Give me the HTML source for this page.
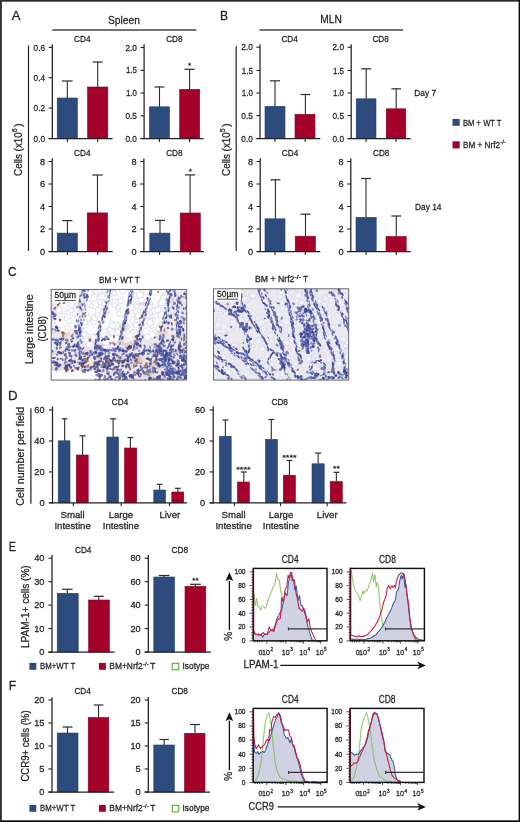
<!DOCTYPE html>
<html><head><meta charset="utf-8"><style>
html,body{margin:0;padding:0;background:#fff;}
svg{display:block;font-family:'Liberation Sans', sans-serif;will-change:transform;}
text{stroke:#231f20;stroke-width:0.26px;}
</style></head><body>
<svg width="520" height="822" viewBox="0 0 520 822">
<rect width="520" height="822" fill="#fff"/>
<rect x="0.00" y="0.00" width="520.00" height="1.70" fill="#2a2a2a"/>
<rect x="0.00" y="0.00" width="1.90" height="822.00" fill="#333"/>
<rect x="518.60" y="0.00" width="1.40" height="822.00" fill="#0a0a0a"/>
<rect x="0.00" y="820.30" width="520.00" height="1.70" fill="#111"/>
<text x="11.80" y="19.80" font-size="13.6" fill="#231f20" textLength="8.70" lengthAdjust="spacingAndGlyphs">A</text>
<text x="219.90" y="19.80" font-size="13.6" fill="#231f20" textLength="8.10" lengthAdjust="spacingAndGlyphs">B</text>
<text x="7.90" y="275.90" font-size="13.6" fill="#231f20" textLength="8.60" lengthAdjust="spacingAndGlyphs">C</text>
<text x="8.10" y="399.60" font-size="13.6" fill="#231f20" textLength="9.60" lengthAdjust="spacingAndGlyphs">D</text>
<text x="8.70" y="550.60" font-size="13.6" fill="#231f20" textLength="7.20" lengthAdjust="spacingAndGlyphs">E</text>
<text x="8.70" y="690.20" font-size="13.6" fill="#231f20" textLength="7.40" lengthAdjust="spacingAndGlyphs">F</text>
<text x="108.00" y="23.60" font-size="11.4" fill="#231f20" textLength="31.90" lengthAdjust="spacingAndGlyphs">Spleen</text>
<line x1="52.30" y1="29.90" x2="196.30" y2="29.90" stroke="#444" stroke-width="1.5"/>
<text x="320.20" y="23.40" font-size="11.4" fill="#231f20" textLength="21.60" lengthAdjust="spacingAndGlyphs">MLN</text>
<line x1="259.50" y1="29.90" x2="403.00" y2="29.90" stroke="#444" stroke-width="1.5"/>
<text x="22.20" y="175.90" font-size="11.4" fill="#231f20" textLength="43.60" lengthAdjust="spacingAndGlyphs" transform="rotate(-90 22.20 175.90)">Cells (x10</text>
<text x="16.80" y="132.20" font-size="7.0" fill="#231f20" transform="rotate(-90 16.80 132.20)">6</text>
<text x="22.20" y="127.00" font-size="11.4" fill="#231f20" transform="rotate(-90 22.20 127.00)">)</text>
<text x="230.10" y="175.90" font-size="11.4" fill="#231f20" textLength="43.60" lengthAdjust="spacingAndGlyphs" transform="rotate(-90 230.10 175.90)">Cells (x10</text>
<text x="224.70" y="132.20" font-size="7.0" fill="#231f20" transform="rotate(-90 224.70 132.20)">5</text>
<text x="230.10" y="127.00" font-size="11.4" fill="#231f20" transform="rotate(-90 230.10 127.00)">)</text>
<line x1="28.50" y1="45.40" x2="28.50" y2="251.00" stroke="#222" stroke-width="1.2"/>
<line x1="236.20" y1="46.30" x2="236.20" y2="251.00" stroke="#222" stroke-width="1.2"/>
<text x="74.10" y="42.00" font-size="9.6" fill="#231f20" textLength="16.40" lengthAdjust="spacingAndGlyphs">CD4</text>
<text x="166.20" y="42.00" font-size="9.6" fill="#231f20" textLength="16.40" lengthAdjust="spacingAndGlyphs">CD8</text>
<text x="281.40" y="42.00" font-size="9.6" fill="#231f20" textLength="16.40" lengthAdjust="spacingAndGlyphs">CD4</text>
<text x="372.40" y="42.00" font-size="9.6" fill="#231f20" textLength="16.40" lengthAdjust="spacingAndGlyphs">CD8</text>
<text x="74.10" y="155.80" font-size="9.6" fill="#231f20" textLength="16.40" lengthAdjust="spacingAndGlyphs">CD4</text>
<text x="166.20" y="155.80" font-size="9.6" fill="#231f20" textLength="16.40" lengthAdjust="spacingAndGlyphs">CD8</text>
<text x="281.80" y="155.80" font-size="9.6" fill="#231f20" textLength="16.40" lengthAdjust="spacingAndGlyphs">CD4</text>
<text x="373.00" y="155.80" font-size="9.6" fill="#231f20" textLength="16.40" lengthAdjust="spacingAndGlyphs">CD8</text>
<rect x="57.20" y="98.00" width="20.20" height="40.50" fill="#2e4b7e" stroke="#24417a" stroke-width="0.6"/>
<line x1="67.30" y1="98.00" x2="67.30" y2="81.00" stroke="#2b2b2b" stroke-width="1.1"/>
<line x1="62.00" y1="81.00" x2="72.60" y2="81.00" stroke="#2b2b2b" stroke-width="1.2"/>
<rect x="87.60" y="87.00" width="20.20" height="51.50" fill="#a3002a" stroke="#8e0022" stroke-width="0.6"/>
<line x1="97.70" y1="87.00" x2="97.70" y2="62.00" stroke="#2b2b2b" stroke-width="1.1"/>
<line x1="92.60" y1="62.00" x2="102.80" y2="62.00" stroke="#2b2b2b" stroke-width="1.2"/>
<line x1="52.30" y1="44.20" x2="52.30" y2="139.10" stroke="#231f20" stroke-width="1.25"/>
<line x1="48.70" y1="138.50" x2="112.60" y2="138.50" stroke="#231f20" stroke-width="1.25"/>
<line x1="48.70" y1="47.40" x2="52.30" y2="47.40" stroke="#231f20" stroke-width="1.1"/>
<text x="45.10" y="50.50" font-size="9.2" fill="#231f20" text-anchor="end" textLength="11.50" lengthAdjust="spacingAndGlyphs">0.6</text>
<line x1="48.70" y1="77.80" x2="52.30" y2="77.80" stroke="#231f20" stroke-width="1.1"/>
<text x="45.10" y="80.90" font-size="9.2" fill="#231f20" text-anchor="end" textLength="11.50" lengthAdjust="spacingAndGlyphs">0.4</text>
<line x1="48.70" y1="108.10" x2="52.30" y2="108.10" stroke="#231f20" stroke-width="1.1"/>
<text x="45.10" y="111.20" font-size="9.2" fill="#231f20" text-anchor="end" textLength="11.50" lengthAdjust="spacingAndGlyphs">0.2</text>
<line x1="48.70" y1="138.50" x2="52.30" y2="138.50" stroke="#231f20" stroke-width="1.1"/>
<text x="45.10" y="141.60" font-size="9.2" fill="#231f20" text-anchor="end" textLength="11.50" lengthAdjust="spacingAndGlyphs">0.0</text>
<line x1="67.40" y1="138.50" x2="67.40" y2="141.90" stroke="#231f20" stroke-width="1.1"/>
<line x1="97.70" y1="138.50" x2="97.70" y2="141.90" stroke="#231f20" stroke-width="1.1"/>
<rect x="149.40" y="106.80" width="20.10" height="31.70" fill="#2e4b7e" stroke="#24417a" stroke-width="0.6"/>
<line x1="159.50" y1="106.80" x2="159.50" y2="87.00" stroke="#2b2b2b" stroke-width="1.1"/>
<line x1="154.50" y1="87.00" x2="164.50" y2="87.00" stroke="#2b2b2b" stroke-width="1.2"/>
<rect x="179.70" y="89.30" width="20.00" height="49.20" fill="#a3002a" stroke="#8e0022" stroke-width="0.6"/>
<line x1="189.60" y1="89.30" x2="189.60" y2="69.30" stroke="#2b2b2b" stroke-width="1.1"/>
<line x1="184.50" y1="69.30" x2="194.70" y2="69.30" stroke="#2b2b2b" stroke-width="1.2"/>
<line x1="144.10" y1="44.20" x2="144.10" y2="139.10" stroke="#231f20" stroke-width="1.25"/>
<line x1="140.50" y1="138.50" x2="203.60" y2="138.50" stroke="#231f20" stroke-width="1.25"/>
<line x1="140.50" y1="47.50" x2="144.10" y2="47.50" stroke="#231f20" stroke-width="1.1"/>
<text x="136.90" y="50.60" font-size="9.2" fill="#231f20" text-anchor="end" textLength="11.50" lengthAdjust="spacingAndGlyphs">2.0</text>
<line x1="140.50" y1="70.30" x2="144.10" y2="70.30" stroke="#231f20" stroke-width="1.1"/>
<text x="136.90" y="73.40" font-size="9.2" fill="#231f20" text-anchor="end" textLength="11.00" lengthAdjust="spacingAndGlyphs">1.5</text>
<line x1="140.50" y1="93.00" x2="144.10" y2="93.00" stroke="#231f20" stroke-width="1.1"/>
<text x="136.90" y="96.10" font-size="9.2" fill="#231f20" text-anchor="end" textLength="11.00" lengthAdjust="spacingAndGlyphs">1.0</text>
<line x1="140.50" y1="115.80" x2="144.10" y2="115.80" stroke="#231f20" stroke-width="1.1"/>
<text x="136.90" y="118.90" font-size="9.2" fill="#231f20" text-anchor="end" textLength="11.50" lengthAdjust="spacingAndGlyphs">0.5</text>
<line x1="140.50" y1="138.50" x2="144.10" y2="138.50" stroke="#231f20" stroke-width="1.1"/>
<text x="136.90" y="141.60" font-size="9.2" fill="#231f20" text-anchor="end" textLength="11.50" lengthAdjust="spacingAndGlyphs">0.0</text>
<line x1="159.40" y1="138.50" x2="159.40" y2="141.90" stroke="#231f20" stroke-width="1.1"/>
<line x1="189.60" y1="138.50" x2="189.60" y2="141.90" stroke="#231f20" stroke-width="1.1"/>
<text x="189.60" y="67.50" font-size="8" fill="#231f20" text-anchor="middle">*</text>
<rect x="57.20" y="233.10" width="20.20" height="18.40" fill="#2e4b7e" stroke="#24417a" stroke-width="0.6"/>
<line x1="67.40" y1="233.10" x2="67.40" y2="220.60" stroke="#2b2b2b" stroke-width="1.1"/>
<line x1="62.40" y1="220.60" x2="72.40" y2="220.60" stroke="#2b2b2b" stroke-width="1.2"/>
<rect x="87.20" y="212.90" width="20.30" height="38.60" fill="#a3002a" stroke="#8e0022" stroke-width="0.6"/>
<line x1="97.45" y1="212.90" x2="97.45" y2="175.00" stroke="#2b2b2b" stroke-width="1.1"/>
<line x1="92.30" y1="175.00" x2="102.60" y2="175.00" stroke="#2b2b2b" stroke-width="1.2"/>
<line x1="52.20" y1="158.20" x2="52.20" y2="252.10" stroke="#231f20" stroke-width="1.25"/>
<line x1="48.60" y1="251.50" x2="112.70" y2="251.50" stroke="#231f20" stroke-width="1.25"/>
<line x1="48.60" y1="161.50" x2="52.20" y2="161.50" stroke="#231f20" stroke-width="1.1"/>
<text x="45.00" y="164.60" font-size="9.2" fill="#231f20" text-anchor="end">8</text>
<line x1="48.60" y1="184.00" x2="52.20" y2="184.00" stroke="#231f20" stroke-width="1.1"/>
<text x="45.00" y="187.10" font-size="9.2" fill="#231f20" text-anchor="end">6</text>
<line x1="48.60" y1="206.50" x2="52.20" y2="206.50" stroke="#231f20" stroke-width="1.1"/>
<text x="45.00" y="209.60" font-size="9.2" fill="#231f20" text-anchor="end">4</text>
<line x1="48.60" y1="229.00" x2="52.20" y2="229.00" stroke="#231f20" stroke-width="1.1"/>
<text x="45.00" y="232.10" font-size="9.2" fill="#231f20" text-anchor="end">2</text>
<line x1="48.60" y1="251.50" x2="52.20" y2="251.50" stroke="#231f20" stroke-width="1.1"/>
<text x="45.00" y="254.60" font-size="9.2" fill="#231f20" text-anchor="end">0</text>
<line x1="67.40" y1="251.50" x2="67.40" y2="254.90" stroke="#231f20" stroke-width="1.1"/>
<line x1="97.70" y1="251.50" x2="97.70" y2="254.90" stroke="#231f20" stroke-width="1.1"/>
<rect x="149.80" y="233.10" width="20.10" height="18.40" fill="#2e4b7e" stroke="#24417a" stroke-width="0.6"/>
<line x1="160.00" y1="233.10" x2="160.00" y2="220.40" stroke="#2b2b2b" stroke-width="1.1"/>
<line x1="155.00" y1="220.40" x2="165.00" y2="220.40" stroke="#2b2b2b" stroke-width="1.2"/>
<rect x="180.20" y="213.00" width="20.10" height="38.50" fill="#a3002a" stroke="#8e0022" stroke-width="0.6"/>
<line x1="190.10" y1="213.00" x2="190.10" y2="174.90" stroke="#2b2b2b" stroke-width="1.1"/>
<line x1="185.10" y1="174.90" x2="195.10" y2="174.90" stroke="#2b2b2b" stroke-width="1.2"/>
<line x1="143.90" y1="158.40" x2="143.90" y2="252.10" stroke="#231f20" stroke-width="1.25"/>
<line x1="140.30" y1="251.50" x2="204.00" y2="251.50" stroke="#231f20" stroke-width="1.25"/>
<line x1="140.30" y1="161.50" x2="143.90" y2="161.50" stroke="#231f20" stroke-width="1.1"/>
<text x="136.70" y="164.60" font-size="9.2" fill="#231f20" text-anchor="end">8</text>
<line x1="140.30" y1="184.00" x2="143.90" y2="184.00" stroke="#231f20" stroke-width="1.1"/>
<text x="136.70" y="187.10" font-size="9.2" fill="#231f20" text-anchor="end">6</text>
<line x1="140.30" y1="206.50" x2="143.90" y2="206.50" stroke="#231f20" stroke-width="1.1"/>
<text x="136.70" y="209.60" font-size="9.2" fill="#231f20" text-anchor="end">4</text>
<line x1="140.30" y1="229.00" x2="143.90" y2="229.00" stroke="#231f20" stroke-width="1.1"/>
<text x="136.70" y="232.10" font-size="9.2" fill="#231f20" text-anchor="end">2</text>
<line x1="140.30" y1="251.50" x2="143.90" y2="251.50" stroke="#231f20" stroke-width="1.1"/>
<text x="136.70" y="254.60" font-size="9.2" fill="#231f20" text-anchor="end">0</text>
<line x1="159.60" y1="251.50" x2="159.60" y2="254.90" stroke="#231f20" stroke-width="1.1"/>
<line x1="190.20" y1="251.50" x2="190.20" y2="254.90" stroke="#231f20" stroke-width="1.1"/>
<text x="190.20" y="173.60" font-size="8" fill="#231f20" text-anchor="middle">*</text>
<rect x="265.00" y="106.30" width="20.00" height="32.20" fill="#2e4b7e" stroke="#24417a" stroke-width="0.6"/>
<line x1="275.00" y1="106.30" x2="275.00" y2="80.80" stroke="#2b2b2b" stroke-width="1.1"/>
<line x1="270.00" y1="80.80" x2="280.00" y2="80.80" stroke="#2b2b2b" stroke-width="1.2"/>
<rect x="295.00" y="114.30" width="20.00" height="24.20" fill="#a3002a" stroke="#8e0022" stroke-width="0.6"/>
<line x1="305.40" y1="114.30" x2="305.40" y2="94.50" stroke="#2b2b2b" stroke-width="1.1"/>
<line x1="300.50" y1="94.50" x2="310.30" y2="94.50" stroke="#2b2b2b" stroke-width="1.2"/>
<line x1="260.00" y1="44.20" x2="260.00" y2="139.10" stroke="#231f20" stroke-width="1.25"/>
<line x1="256.40" y1="138.50" x2="320.30" y2="138.50" stroke="#231f20" stroke-width="1.25"/>
<line x1="256.40" y1="47.20" x2="260.00" y2="47.20" stroke="#231f20" stroke-width="1.1"/>
<text x="252.80" y="50.30" font-size="9.2" fill="#231f20" text-anchor="end" textLength="11.50" lengthAdjust="spacingAndGlyphs">2.0</text>
<line x1="256.40" y1="70.50" x2="260.00" y2="70.50" stroke="#231f20" stroke-width="1.1"/>
<text x="252.80" y="73.60" font-size="9.2" fill="#231f20" text-anchor="end" textLength="11.00" lengthAdjust="spacingAndGlyphs">1.5</text>
<line x1="256.40" y1="93.00" x2="260.00" y2="93.00" stroke="#231f20" stroke-width="1.1"/>
<text x="252.80" y="96.10" font-size="9.2" fill="#231f20" text-anchor="end" textLength="11.00" lengthAdjust="spacingAndGlyphs">1.0</text>
<line x1="256.40" y1="115.60" x2="260.00" y2="115.60" stroke="#231f20" stroke-width="1.1"/>
<text x="252.80" y="118.70" font-size="9.2" fill="#231f20" text-anchor="end" textLength="11.50" lengthAdjust="spacingAndGlyphs">0.5</text>
<line x1="256.40" y1="138.50" x2="260.00" y2="138.50" stroke="#231f20" stroke-width="1.1"/>
<text x="252.80" y="141.60" font-size="9.2" fill="#231f20" text-anchor="end" textLength="11.50" lengthAdjust="spacingAndGlyphs">0.0</text>
<line x1="275.00" y1="138.50" x2="275.00" y2="141.90" stroke="#231f20" stroke-width="1.1"/>
<line x1="305.20" y1="138.50" x2="305.20" y2="141.90" stroke="#231f20" stroke-width="1.1"/>
<rect x="356.20" y="98.80" width="19.80" height="39.70" fill="#2e4b7e" stroke="#24417a" stroke-width="0.6"/>
<line x1="366.20" y1="98.80" x2="366.20" y2="68.80" stroke="#2b2b2b" stroke-width="1.1"/>
<line x1="361.20" y1="68.80" x2="371.20" y2="68.80" stroke="#2b2b2b" stroke-width="1.2"/>
<rect x="386.20" y="108.80" width="19.60" height="29.70" fill="#a3002a" stroke="#8e0022" stroke-width="0.6"/>
<line x1="396.20" y1="108.80" x2="396.20" y2="88.80" stroke="#2b2b2b" stroke-width="1.1"/>
<line x1="391.40" y1="88.80" x2="401.00" y2="88.80" stroke="#2b2b2b" stroke-width="1.2"/>
<line x1="351.20" y1="44.20" x2="351.20" y2="139.10" stroke="#231f20" stroke-width="1.25"/>
<line x1="347.60" y1="138.50" x2="410.80" y2="138.50" stroke="#231f20" stroke-width="1.25"/>
<line x1="347.60" y1="47.20" x2="351.20" y2="47.20" stroke="#231f20" stroke-width="1.1"/>
<text x="344.00" y="50.30" font-size="9.2" fill="#231f20" text-anchor="end" textLength="11.50" lengthAdjust="spacingAndGlyphs">2.0</text>
<line x1="347.60" y1="70.50" x2="351.20" y2="70.50" stroke="#231f20" stroke-width="1.1"/>
<text x="344.00" y="73.60" font-size="9.2" fill="#231f20" text-anchor="end" textLength="11.00" lengthAdjust="spacingAndGlyphs">1.5</text>
<line x1="347.60" y1="93.00" x2="351.20" y2="93.00" stroke="#231f20" stroke-width="1.1"/>
<text x="344.00" y="96.10" font-size="9.2" fill="#231f20" text-anchor="end" textLength="11.00" lengthAdjust="spacingAndGlyphs">1.0</text>
<line x1="347.60" y1="115.60" x2="351.20" y2="115.60" stroke="#231f20" stroke-width="1.1"/>
<text x="344.00" y="118.70" font-size="9.2" fill="#231f20" text-anchor="end" textLength="11.50" lengthAdjust="spacingAndGlyphs">0.5</text>
<line x1="347.60" y1="138.50" x2="351.20" y2="138.50" stroke="#231f20" stroke-width="1.1"/>
<text x="344.00" y="141.60" font-size="9.2" fill="#231f20" text-anchor="end" textLength="11.50" lengthAdjust="spacingAndGlyphs">0.0</text>
<line x1="366.10" y1="138.50" x2="366.10" y2="141.90" stroke="#231f20" stroke-width="1.1"/>
<line x1="396.00" y1="138.50" x2="396.00" y2="141.90" stroke="#231f20" stroke-width="1.1"/>
<rect x="265.00" y="218.80" width="20.00" height="32.70" fill="#2e4b7e" stroke="#24417a" stroke-width="0.6"/>
<line x1="275.40" y1="218.80" x2="275.40" y2="179.80" stroke="#2b2b2b" stroke-width="1.1"/>
<line x1="270.40" y1="179.80" x2="280.40" y2="179.80" stroke="#2b2b2b" stroke-width="1.2"/>
<rect x="295.20" y="236.20" width="20.20" height="15.30" fill="#a3002a" stroke="#8e0022" stroke-width="0.6"/>
<line x1="305.50" y1="236.20" x2="305.50" y2="214.20" stroke="#2b2b2b" stroke-width="1.1"/>
<line x1="300.60" y1="214.20" x2="310.40" y2="214.20" stroke="#2b2b2b" stroke-width="1.2"/>
<line x1="260.20" y1="158.30" x2="260.20" y2="252.10" stroke="#231f20" stroke-width="1.25"/>
<line x1="256.60" y1="251.50" x2="320.20" y2="251.50" stroke="#231f20" stroke-width="1.25"/>
<line x1="256.60" y1="161.50" x2="260.20" y2="161.50" stroke="#231f20" stroke-width="1.1"/>
<text x="253.00" y="164.60" font-size="9.2" fill="#231f20" text-anchor="end">8</text>
<line x1="256.60" y1="184.00" x2="260.20" y2="184.00" stroke="#231f20" stroke-width="1.1"/>
<text x="253.00" y="187.10" font-size="9.2" fill="#231f20" text-anchor="end">6</text>
<line x1="256.60" y1="206.50" x2="260.20" y2="206.50" stroke="#231f20" stroke-width="1.1"/>
<text x="253.00" y="209.60" font-size="9.2" fill="#231f20" text-anchor="end">4</text>
<line x1="256.60" y1="229.00" x2="260.20" y2="229.00" stroke="#231f20" stroke-width="1.1"/>
<text x="253.00" y="232.10" font-size="9.2" fill="#231f20" text-anchor="end">2</text>
<line x1="256.60" y1="251.50" x2="260.20" y2="251.50" stroke="#231f20" stroke-width="1.1"/>
<text x="253.00" y="254.60" font-size="9.2" fill="#231f20" text-anchor="end">0</text>
<line x1="275.00" y1="251.50" x2="275.00" y2="254.90" stroke="#231f20" stroke-width="1.1"/>
<line x1="305.30" y1="251.50" x2="305.30" y2="254.90" stroke="#231f20" stroke-width="1.1"/>
<rect x="356.00" y="217.30" width="20.20" height="34.20" fill="#2e4b7e" stroke="#24417a" stroke-width="0.6"/>
<line x1="366.00" y1="217.30" x2="366.00" y2="178.50" stroke="#2b2b2b" stroke-width="1.1"/>
<line x1="361.00" y1="178.50" x2="371.00" y2="178.50" stroke="#2b2b2b" stroke-width="1.2"/>
<rect x="386.00" y="236.50" width="20.20" height="15.00" fill="#a3002a" stroke="#8e0022" stroke-width="0.6"/>
<line x1="396.30" y1="236.50" x2="396.30" y2="216.00" stroke="#2b2b2b" stroke-width="1.1"/>
<line x1="391.30" y1="216.00" x2="401.30" y2="216.00" stroke="#2b2b2b" stroke-width="1.2"/>
<line x1="350.80" y1="158.30" x2="350.80" y2="252.10" stroke="#231f20" stroke-width="1.25"/>
<line x1="347.20" y1="251.50" x2="410.80" y2="251.50" stroke="#231f20" stroke-width="1.25"/>
<line x1="347.20" y1="161.50" x2="350.80" y2="161.50" stroke="#231f20" stroke-width="1.1"/>
<text x="343.60" y="164.60" font-size="9.2" fill="#231f20" text-anchor="end">8</text>
<line x1="347.20" y1="184.00" x2="350.80" y2="184.00" stroke="#231f20" stroke-width="1.1"/>
<text x="343.60" y="187.10" font-size="9.2" fill="#231f20" text-anchor="end">6</text>
<line x1="347.20" y1="206.50" x2="350.80" y2="206.50" stroke="#231f20" stroke-width="1.1"/>
<text x="343.60" y="209.60" font-size="9.2" fill="#231f20" text-anchor="end">4</text>
<line x1="347.20" y1="229.00" x2="350.80" y2="229.00" stroke="#231f20" stroke-width="1.1"/>
<text x="343.60" y="232.10" font-size="9.2" fill="#231f20" text-anchor="end">2</text>
<line x1="347.20" y1="251.50" x2="350.80" y2="251.50" stroke="#231f20" stroke-width="1.1"/>
<text x="343.60" y="254.60" font-size="9.2" fill="#231f20" text-anchor="end">0</text>
<line x1="366.10" y1="251.50" x2="366.10" y2="254.90" stroke="#231f20" stroke-width="1.1"/>
<line x1="396.20" y1="251.50" x2="396.20" y2="254.90" stroke="#231f20" stroke-width="1.1"/>
<text x="414.30" y="95.80" font-size="9.0" fill="#231f20" textLength="21.90" lengthAdjust="spacingAndGlyphs">Day 7</text>
<text x="415.00" y="209.60" font-size="9.0" fill="#231f20" textLength="26.50" lengthAdjust="spacingAndGlyphs">Day 14</text>
<rect x="452.50" y="118.90" width="7.20" height="6.90" fill="#2e4b7e"/>
<rect x="452.50" y="141.30" width="7.20" height="7.10" fill="#a3002a"/>
<text x="463.00" y="125.60" font-size="9.0" fill="#231f20" textLength="38.50" lengthAdjust="spacingAndGlyphs">BM + WT T</text>
<text x="463.00" y="147.90" font-size="9.0" fill="#231f20" textLength="37.00" lengthAdjust="spacingAndGlyphs">BM + Nrf2</text>
<text x="500.20" y="143.80" font-size="5.2" fill="#231f20" textLength="5.60" lengthAdjust="spacingAndGlyphs">-/-</text>
<line x1="30.90" y1="408.30" x2="30.90" y2="503.70" stroke="#222" stroke-width="1.2"/>
<text x="24.50" y="505.80" font-size="11.3" fill="#231f20" textLength="99.00" lengthAdjust="spacingAndGlyphs" transform="rotate(-90 24.50 505.80)">Cell number per field</text>
<text x="111.80" y="405.20" font-size="9.6" fill="#231f20" textLength="16.40" lengthAdjust="spacingAndGlyphs">CD4</text>
<text x="271.40" y="405.00" font-size="9.6" fill="#231f20" textLength="16.60" lengthAdjust="spacingAndGlyphs">CD8</text>
<rect x="58.20" y="440.80" width="11.80" height="62.00" fill="#2e4b7e" stroke="#24417a" stroke-width="0.6"/>
<line x1="64.65" y1="440.80" x2="64.65" y2="418.80" stroke="#2b2b2b" stroke-width="1.1"/>
<line x1="61.80" y1="418.80" x2="67.50" y2="418.80" stroke="#2b2b2b" stroke-width="1.2"/>
<rect x="76.30" y="455.00" width="11.90" height="47.80" fill="#a3002a" stroke="#8e0022" stroke-width="0.6"/>
<line x1="82.60" y1="455.00" x2="82.60" y2="435.80" stroke="#2b2b2b" stroke-width="1.1"/>
<line x1="79.50" y1="435.80" x2="85.70" y2="435.80" stroke="#2b2b2b" stroke-width="1.2"/>
<rect x="106.80" y="437.00" width="11.70" height="65.80" fill="#2e4b7e" stroke="#24417a" stroke-width="0.6"/>
<line x1="113.10" y1="437.00" x2="113.10" y2="418.80" stroke="#2b2b2b" stroke-width="1.1"/>
<line x1="110.00" y1="418.80" x2="116.20" y2="418.80" stroke="#2b2b2b" stroke-width="1.2"/>
<rect x="124.60" y="448.00" width="12.10" height="54.80" fill="#a3002a" stroke="#8e0022" stroke-width="0.6"/>
<line x1="130.40" y1="448.00" x2="130.40" y2="437.50" stroke="#2b2b2b" stroke-width="1.1"/>
<line x1="127.50" y1="437.50" x2="133.30" y2="437.50" stroke="#2b2b2b" stroke-width="1.2"/>
<rect x="153.80" y="490.00" width="11.70" height="12.80" fill="#2e4b7e" stroke="#24417a" stroke-width="0.6"/>
<line x1="159.65" y1="490.00" x2="159.65" y2="484.30" stroke="#2b2b2b" stroke-width="1.1"/>
<line x1="156.80" y1="484.30" x2="162.50" y2="484.30" stroke="#2b2b2b" stroke-width="1.2"/>
<rect x="171.80" y="492.00" width="11.90" height="10.80" fill="#a3002a" stroke="#8e0022" stroke-width="0.6"/>
<line x1="177.90" y1="492.00" x2="177.90" y2="488.30" stroke="#2b2b2b" stroke-width="1.1"/>
<line x1="175.00" y1="488.30" x2="180.80" y2="488.30" stroke="#2b2b2b" stroke-width="1.2"/>
<line x1="52.50" y1="406.50" x2="52.50" y2="503.40" stroke="#231f20" stroke-width="1.25"/>
<line x1="48.90" y1="502.80" x2="187.00" y2="502.80" stroke="#231f20" stroke-width="1.25"/>
<line x1="48.90" y1="410.00" x2="52.50" y2="410.00" stroke="#231f20" stroke-width="1.1"/>
<text x="44.50" y="413.10" font-size="9.2" fill="#231f20" text-anchor="end">60</text>
<line x1="48.90" y1="441.00" x2="52.50" y2="441.00" stroke="#231f20" stroke-width="1.1"/>
<text x="44.50" y="444.10" font-size="9.2" fill="#231f20" text-anchor="end">40</text>
<line x1="48.90" y1="471.90" x2="52.50" y2="471.90" stroke="#231f20" stroke-width="1.1"/>
<text x="44.50" y="475.00" font-size="9.2" fill="#231f20" text-anchor="end">20</text>
<line x1="48.90" y1="502.80" x2="52.50" y2="502.80" stroke="#231f20" stroke-width="1.1"/>
<text x="44.50" y="505.90" font-size="9.2" fill="#231f20" text-anchor="end">0</text>
<line x1="73.40" y1="502.80" x2="73.40" y2="506.20" stroke="#231f20" stroke-width="1.1"/>
<line x1="121.20" y1="502.80" x2="121.20" y2="506.20" stroke="#231f20" stroke-width="1.1"/>
<line x1="169.50" y1="502.80" x2="169.50" y2="506.20" stroke="#231f20" stroke-width="1.1"/>
<rect x="219.30" y="436.30" width="11.90" height="66.50" fill="#2e4b7e" stroke="#24417a" stroke-width="0.6"/>
<line x1="225.40" y1="436.30" x2="225.40" y2="420.00" stroke="#2b2b2b" stroke-width="1.1"/>
<line x1="222.50" y1="420.00" x2="228.30" y2="420.00" stroke="#2b2b2b" stroke-width="1.2"/>
<rect x="237.50" y="482.00" width="11.80" height="20.80" fill="#a3002a" stroke="#8e0022" stroke-width="0.6"/>
<line x1="243.80" y1="482.00" x2="243.80" y2="472.00" stroke="#2b2b2b" stroke-width="1.1"/>
<line x1="240.80" y1="472.00" x2="246.80" y2="472.00" stroke="#2b2b2b" stroke-width="1.2"/>
<rect x="265.50" y="439.30" width="12.00" height="63.50" fill="#2e4b7e" stroke="#24417a" stroke-width="0.6"/>
<line x1="271.30" y1="439.30" x2="271.30" y2="419.50" stroke="#2b2b2b" stroke-width="1.1"/>
<line x1="268.30" y1="419.50" x2="274.30" y2="419.50" stroke="#2b2b2b" stroke-width="1.2"/>
<rect x="283.30" y="475.20" width="12.10" height="27.60" fill="#a3002a" stroke="#8e0022" stroke-width="0.6"/>
<line x1="289.45" y1="475.20" x2="289.45" y2="460.50" stroke="#2b2b2b" stroke-width="1.1"/>
<line x1="286.60" y1="460.50" x2="292.30" y2="460.50" stroke="#2b2b2b" stroke-width="1.2"/>
<rect x="312.00" y="463.80" width="12.20" height="39.00" fill="#2e4b7e" stroke="#24417a" stroke-width="0.6"/>
<line x1="318.15" y1="463.80" x2="318.15" y2="453.10" stroke="#2b2b2b" stroke-width="1.1"/>
<line x1="315.10" y1="453.10" x2="321.20" y2="453.10" stroke="#2b2b2b" stroke-width="1.2"/>
<rect x="330.20" y="481.50" width="12.10" height="21.30" fill="#a3002a" stroke="#8e0022" stroke-width="0.6"/>
<line x1="336.35" y1="481.50" x2="336.35" y2="472.30" stroke="#2b2b2b" stroke-width="1.1"/>
<line x1="333.50" y1="472.30" x2="339.20" y2="472.30" stroke="#2b2b2b" stroke-width="1.2"/>
<line x1="213.20" y1="406.30" x2="213.20" y2="503.40" stroke="#231f20" stroke-width="1.25"/>
<line x1="209.60" y1="502.80" x2="346.50" y2="502.80" stroke="#231f20" stroke-width="1.25"/>
<line x1="209.60" y1="410.00" x2="213.20" y2="410.00" stroke="#231f20" stroke-width="1.1"/>
<text x="205.20" y="413.10" font-size="9.2" fill="#231f20" text-anchor="end">60</text>
<line x1="209.60" y1="441.00" x2="213.20" y2="441.00" stroke="#231f20" stroke-width="1.1"/>
<text x="205.20" y="444.10" font-size="9.2" fill="#231f20" text-anchor="end">40</text>
<line x1="209.60" y1="471.90" x2="213.20" y2="471.90" stroke="#231f20" stroke-width="1.1"/>
<text x="205.20" y="475.00" font-size="9.2" fill="#231f20" text-anchor="end">20</text>
<line x1="209.60" y1="502.80" x2="213.20" y2="502.80" stroke="#231f20" stroke-width="1.1"/>
<text x="205.20" y="505.90" font-size="9.2" fill="#231f20" text-anchor="end">0</text>
<line x1="234.50" y1="502.80" x2="234.50" y2="506.20" stroke="#231f20" stroke-width="1.1"/>
<line x1="280.50" y1="502.80" x2="280.50" y2="506.20" stroke="#231f20" stroke-width="1.1"/>
<line x1="327.20" y1="502.80" x2="327.20" y2="506.20" stroke="#231f20" stroke-width="1.1"/>
<text x="236.15" y="471.60" font-size="8" fill="#231f20" textLength="14.50" lengthAdjust="spacingAndGlyphs">****</text>
<text x="282.15" y="459.80" font-size="8" fill="#231f20" textLength="14.50" lengthAdjust="spacingAndGlyphs">****</text>
<text x="333.00" y="471.20" font-size="8" fill="#231f20" textLength="6.80" lengthAdjust="spacingAndGlyphs">**</text>
<text x="72.60" y="518.00" font-size="9.6" fill="#231f20" text-anchor="middle">Small</text>
<text x="72.60" y="529.10" font-size="9.6" fill="#231f20" text-anchor="middle">Intestine</text>
<text x="120.90" y="518.00" font-size="9.6" fill="#231f20" text-anchor="middle">Large</text>
<text x="120.90" y="529.10" font-size="9.6" fill="#231f20" text-anchor="middle">Intestine</text>
<text x="169.80" y="518.00" font-size="9.6" fill="#231f20" text-anchor="middle">Liver</text>
<text x="233.60" y="518.00" font-size="9.6" fill="#231f20" text-anchor="middle">Small</text>
<text x="233.60" y="529.10" font-size="9.6" fill="#231f20" text-anchor="middle">Intestine</text>
<text x="281.00" y="518.00" font-size="9.6" fill="#231f20" text-anchor="middle">Large</text>
<text x="281.00" y="529.10" font-size="9.6" fill="#231f20" text-anchor="middle">Intestine</text>
<text x="327.20" y="518.00" font-size="9.6" fill="#231f20" text-anchor="middle">Liver</text>
<text x="28.80" y="648.10" font-size="10.9" fill="#231f20" textLength="82.80" lengthAdjust="spacingAndGlyphs" transform="rotate(-90 28.80 648.10)">LPAM-1+ cells (%)</text>
<text x="28.80" y="781.60" font-size="11.1" fill="#231f20" textLength="71.20" lengthAdjust="spacingAndGlyphs" transform="rotate(-90 28.80 781.60)">CCR9+ cells (%)</text>
<text x="75.00" y="553.00" font-size="9.6" fill="#231f20" textLength="16.40" lengthAdjust="spacingAndGlyphs">CD4</text>
<text x="171.60" y="552.60" font-size="9.6" fill="#231f20" textLength="16.60" lengthAdjust="spacingAndGlyphs">CD8</text>
<text x="74.40" y="694.30" font-size="9.6" fill="#231f20" textLength="16.40" lengthAdjust="spacingAndGlyphs">CD4</text>
<text x="171.40" y="694.30" font-size="9.6" fill="#231f20" textLength="16.60" lengthAdjust="spacingAndGlyphs">CD8</text>
<rect x="57.20" y="593.30" width="21.00" height="58.70" fill="#2e4b7e" stroke="#24417a" stroke-width="0.6"/>
<line x1="67.30" y1="593.30" x2="67.30" y2="589.30" stroke="#2b2b2b" stroke-width="1.1"/>
<line x1="62.00" y1="589.30" x2="72.60" y2="589.30" stroke="#2b2b2b" stroke-width="1.2"/>
<rect x="88.60" y="600.00" width="20.80" height="52.00" fill="#a3002a" stroke="#8e0022" stroke-width="0.6"/>
<line x1="98.80" y1="600.00" x2="98.80" y2="596.30" stroke="#2b2b2b" stroke-width="1.1"/>
<line x1="93.80" y1="596.30" x2="103.80" y2="596.30" stroke="#2b2b2b" stroke-width="1.2"/>
<line x1="52.00" y1="555.00" x2="52.00" y2="652.60" stroke="#231f20" stroke-width="1.25"/>
<line x1="48.40" y1="652.00" x2="114.60" y2="652.00" stroke="#231f20" stroke-width="1.25"/>
<line x1="48.40" y1="558.30" x2="52.00" y2="558.30" stroke="#231f20" stroke-width="1.1"/>
<text x="44.40" y="561.40" font-size="9.2" fill="#231f20" text-anchor="end">40</text>
<line x1="48.40" y1="581.70" x2="52.00" y2="581.70" stroke="#231f20" stroke-width="1.1"/>
<text x="44.40" y="584.80" font-size="9.2" fill="#231f20" text-anchor="end">30</text>
<line x1="48.40" y1="605.10" x2="52.00" y2="605.10" stroke="#231f20" stroke-width="1.1"/>
<text x="44.40" y="608.20" font-size="9.2" fill="#231f20" text-anchor="end">20</text>
<line x1="48.40" y1="628.60" x2="52.00" y2="628.60" stroke="#231f20" stroke-width="1.1"/>
<text x="44.40" y="631.70" font-size="9.2" fill="#231f20" text-anchor="end">10</text>
<line x1="48.40" y1="652.00" x2="52.00" y2="652.00" stroke="#231f20" stroke-width="1.1"/>
<text x="44.40" y="655.10" font-size="9.2" fill="#231f20" text-anchor="end">0</text>
<rect x="153.80" y="577.00" width="20.70" height="75.00" fill="#2e4b7e" stroke="#24417a" stroke-width="0.6"/>
<line x1="164.15" y1="577.00" x2="164.15" y2="575.50" stroke="#2b2b2b" stroke-width="1.1"/>
<line x1="158.80" y1="575.50" x2="169.50" y2="575.50" stroke="#2b2b2b" stroke-width="1.2"/>
<rect x="185.00" y="586.30" width="20.80" height="65.70" fill="#a3002a" stroke="#8e0022" stroke-width="0.6"/>
<line x1="195.40" y1="586.30" x2="195.40" y2="584.30" stroke="#2b2b2b" stroke-width="1.1"/>
<line x1="190.00" y1="584.30" x2="200.80" y2="584.30" stroke="#2b2b2b" stroke-width="1.2"/>
<line x1="148.30" y1="555.00" x2="148.30" y2="652.60" stroke="#231f20" stroke-width="1.25"/>
<line x1="144.70" y1="652.00" x2="210.80" y2="652.00" stroke="#231f20" stroke-width="1.25"/>
<line x1="144.70" y1="558.30" x2="148.30" y2="558.30" stroke="#231f20" stroke-width="1.1"/>
<text x="140.70" y="561.40" font-size="9.2" fill="#231f20" text-anchor="end">80</text>
<line x1="144.70" y1="581.70" x2="148.30" y2="581.70" stroke="#231f20" stroke-width="1.1"/>
<text x="140.70" y="584.80" font-size="9.2" fill="#231f20" text-anchor="end">60</text>
<line x1="144.70" y1="605.10" x2="148.30" y2="605.10" stroke="#231f20" stroke-width="1.1"/>
<text x="140.70" y="608.20" font-size="9.2" fill="#231f20" text-anchor="end">40</text>
<line x1="144.70" y1="628.60" x2="148.30" y2="628.60" stroke="#231f20" stroke-width="1.1"/>
<text x="140.70" y="631.70" font-size="9.2" fill="#231f20" text-anchor="end">20</text>
<line x1="144.70" y1="652.00" x2="148.30" y2="652.00" stroke="#231f20" stroke-width="1.1"/>
<text x="140.70" y="655.10" font-size="9.2" fill="#231f20" text-anchor="end">0</text>
<text x="195.40" y="583.00" font-size="8" fill="#231f20" text-anchor="middle">**</text>
<rect x="57.20" y="733.00" width="20.80" height="59.00" fill="#2e4b7e" stroke="#24417a" stroke-width="0.6"/>
<line x1="67.50" y1="733.00" x2="67.50" y2="727.00" stroke="#2b2b2b" stroke-width="1.1"/>
<line x1="62.50" y1="727.00" x2="72.50" y2="727.00" stroke="#2b2b2b" stroke-width="1.2"/>
<rect x="88.20" y="717.50" width="20.60" height="74.50" fill="#a3002a" stroke="#8e0022" stroke-width="0.6"/>
<line x1="98.55" y1="717.50" x2="98.55" y2="705.00" stroke="#2b2b2b" stroke-width="1.1"/>
<line x1="93.80" y1="705.00" x2="103.30" y2="705.00" stroke="#2b2b2b" stroke-width="1.2"/>
<line x1="52.00" y1="697.30" x2="52.00" y2="792.60" stroke="#231f20" stroke-width="1.25"/>
<line x1="48.40" y1="792.00" x2="114.30" y2="792.00" stroke="#231f20" stroke-width="1.25"/>
<line x1="48.40" y1="700.00" x2="52.00" y2="700.00" stroke="#231f20" stroke-width="1.1"/>
<text x="44.40" y="703.10" font-size="9.2" fill="#231f20" text-anchor="end">20</text>
<line x1="48.40" y1="723.00" x2="52.00" y2="723.00" stroke="#231f20" stroke-width="1.1"/>
<text x="44.40" y="726.10" font-size="9.2" fill="#231f20" text-anchor="end">15</text>
<line x1="48.40" y1="746.00" x2="52.00" y2="746.00" stroke="#231f20" stroke-width="1.1"/>
<text x="44.40" y="749.10" font-size="9.2" fill="#231f20" text-anchor="end">10</text>
<line x1="48.40" y1="769.00" x2="52.00" y2="769.00" stroke="#231f20" stroke-width="1.1"/>
<text x="44.40" y="772.10" font-size="9.2" fill="#231f20" text-anchor="end">5</text>
<line x1="48.40" y1="792.00" x2="52.00" y2="792.00" stroke="#231f20" stroke-width="1.1"/>
<text x="44.40" y="795.10" font-size="9.2" fill="#231f20" text-anchor="end">0</text>
<rect x="153.80" y="745.00" width="20.50" height="47.00" fill="#2e4b7e" stroke="#24417a" stroke-width="0.6"/>
<line x1="164.15" y1="745.00" x2="164.15" y2="739.50" stroke="#2b2b2b" stroke-width="1.1"/>
<line x1="159.50" y1="739.50" x2="168.80" y2="739.50" stroke="#2b2b2b" stroke-width="1.2"/>
<rect x="184.50" y="733.30" width="20.50" height="58.70" fill="#a3002a" stroke="#8e0022" stroke-width="0.6"/>
<line x1="195.00" y1="733.30" x2="195.00" y2="724.50" stroke="#2b2b2b" stroke-width="1.1"/>
<line x1="190.00" y1="724.50" x2="200.00" y2="724.50" stroke="#2b2b2b" stroke-width="1.2"/>
<line x1="148.30" y1="697.00" x2="148.30" y2="792.60" stroke="#231f20" stroke-width="1.25"/>
<line x1="144.70" y1="792.00" x2="210.00" y2="792.00" stroke="#231f20" stroke-width="1.25"/>
<line x1="144.70" y1="700.00" x2="148.30" y2="700.00" stroke="#231f20" stroke-width="1.1"/>
<text x="140.70" y="703.10" font-size="9.2" fill="#231f20" text-anchor="end">20</text>
<line x1="144.70" y1="723.00" x2="148.30" y2="723.00" stroke="#231f20" stroke-width="1.1"/>
<text x="140.70" y="726.10" font-size="9.2" fill="#231f20" text-anchor="end">15</text>
<line x1="144.70" y1="746.00" x2="148.30" y2="746.00" stroke="#231f20" stroke-width="1.1"/>
<text x="140.70" y="749.10" font-size="9.2" fill="#231f20" text-anchor="end">10</text>
<line x1="144.70" y1="769.00" x2="148.30" y2="769.00" stroke="#231f20" stroke-width="1.1"/>
<text x="140.70" y="772.10" font-size="9.2" fill="#231f20" text-anchor="end">5</text>
<line x1="144.70" y1="792.00" x2="148.30" y2="792.00" stroke="#231f20" stroke-width="1.1"/>
<text x="140.70" y="795.10" font-size="9.2" fill="#231f20" text-anchor="end">0</text>
<rect x="29.40" y="662.90" width="6.90" height="6.90" fill="#2e4b7e"/>
<text x="40.00" y="669.10" font-size="8.9" fill="#231f20" textLength="35.20" lengthAdjust="spacingAndGlyphs">BM+WT T</text>
<rect x="98.90" y="662.90" width="6.90" height="6.90" fill="#a3002a"/>
<text x="109.30" y="669.10" font-size="8.9" fill="#231f20" textLength="33.50" lengthAdjust="spacingAndGlyphs">BM+Nrf2</text>
<text x="143.00" y="665.70" font-size="5.2" fill="#231f20" textLength="5.80" lengthAdjust="spacingAndGlyphs">-/-</text>
<text x="150.00" y="669.10" font-size="8.9" fill="#231f20">T</text>
<rect x="172.30" y="663.40" width="6.4" height="6.4" fill="none" stroke="#62b844" stroke-width="1.25"/>
<text x="182.50" y="669.10" font-size="8.9" fill="#231f20" textLength="27.00" lengthAdjust="spacingAndGlyphs">Isotype</text>
<rect x="29.40" y="804.90" width="6.90" height="6.90" fill="#2e4b7e"/>
<text x="40.00" y="811.10" font-size="8.9" fill="#231f20" textLength="35.20" lengthAdjust="spacingAndGlyphs">BM+WT T</text>
<rect x="98.90" y="804.90" width="6.90" height="6.90" fill="#a3002a"/>
<text x="109.30" y="811.10" font-size="8.9" fill="#231f20" textLength="33.50" lengthAdjust="spacingAndGlyphs">BM+Nrf2</text>
<text x="143.00" y="807.70" font-size="5.2" fill="#231f20" textLength="5.80" lengthAdjust="spacingAndGlyphs">-/-</text>
<text x="150.00" y="811.10" font-size="8.9" fill="#231f20">T</text>
<rect x="172.30" y="805.40" width="6.4" height="6.4" fill="none" stroke="#62b844" stroke-width="1.25"/>
<text x="182.50" y="811.10" font-size="8.9" fill="#231f20" textLength="27.00" lengthAdjust="spacingAndGlyphs">Isotype</text>
<polyline points="253.6,597.5 253.7,596.4 253.8,595.3 253.9,594.8 254.0,593.7 254.1,594.2 254.2,595.6 254.3,596.4 254.4,597.0 254.5,598.4 254.6,598.9 254.6,600.2 254.7,600.8 254.8,601.7 254.9,602.9 255.0,604.2 255.1,604.5 255.2,605.8 255.4,604.6 255.6,604.1 255.7,603.4 255.9,602.2 256.1,601.1 256.2,600.7 256.4,598.9 256.6,598.4 256.7,599.6 256.8,600.1 256.9,600.9 257.1,601.8 257.2,602.9 257.3,604.2 257.4,604.6 257.5,605.8 258.9,606.7 259.4,607.7 259.9,608.7 260.3,609.4 260.8,610.4 261.1,609.5 261.4,608.2 261.6,607.2 261.9,606.5 262.2,605.8 263.6,606.7 264.5,607.8 265.4,608.5 265.7,607.5 266.0,606.5 266.4,605.8 266.7,604.8 267.0,603.7 267.3,603.0 267.6,602.3 267.9,601.3 268.2,600.0 268.5,599.3 268.8,598.4 269.1,597.4 269.5,596.8 269.9,595.8 270.2,594.4 270.6,594.2 271.0,592.8 271.3,591.5 271.6,590.9 271.9,590.3 272.2,588.8 272.5,588.2 272.8,587.3 273.8,585.9 274.7,585.4 274.8,584.6 275.0,583.8 275.1,582.7 275.3,582.0 275.4,580.6 275.5,580.0 275.7,579.0 275.8,578.1 275.9,577.1 276.1,576.5 276.2,575.6 276.4,574.3 276.5,573.4 276.7,574.5 276.9,574.9 277.1,576.4 277.3,577.2 277.5,578.5 277.7,579.3 277.9,579.9 279.3,579.9 279.4,580.6 279.5,581.6 279.6,582.8 279.8,583.2 279.9,584.5 280.0,585.2 280.1,586.0 280.2,586.9 280.4,588.5 280.5,588.8 280.6,589.8 280.7,591.0 281.0,591.8 281.2,593.2 281.5,593.4 281.7,594.6 282.0,595.6 282.2,596.6 282.4,597.9 282.6,598.8 282.8,599.8 283.0,600.5 283.1,601.3 283.2,602.3 283.4,603.2 283.5,604.7 283.6,605.7 283.8,605.9 283.9,606.9 284.0,607.9 284.1,608.9 284.2,610.1 284.4,611.1 284.5,612.0 284.6,612.7 284.8,613.4 284.9,614.7 285.0,615.6 285.2,616.7 285.3,618.0 285.4,618.7 285.6,619.5 285.7,620.5 285.8,621.5 286.0,621.9 286.1,623.6 286.2,624.4 286.4,625.4 286.5,626.0 286.7,627.2 286.9,627.7 287.0,628.6 287.2,629.3 287.4,630.7 287.6,631.1 287.8,632.0 288.0,633.0 288.1,633.9 288.3,634.9 288.5,636.0 289.0,636.5 289.5,637.4 290.0,638.4 290.5,639.2 291.0,640.5" fill="none" stroke="#7bbd4c" stroke-width="1.0" stroke-linejoin="round"/>
<polygon points="253.7,640.8 253.8,633.5 254.7,633.6 255.7,634.2 256.6,634.4 257.5,634.9 258.6,635.0 259.7,635.0 260.8,634.9 261.4,635.2 262.0,635.9 262.6,637.2 263.2,636.6 263.9,635.1 264.5,634.4 265.6,634.1 266.8,634.4 267.5,634.2 268.3,632.9 269.0,632.5 269.8,631.4 270.5,630.7 271.4,630.5 272.4,629.8 273.3,629.8 273.6,629.0 274.0,628.3 274.4,627.0 274.7,626.1 275.0,625.4 275.3,624.4 275.6,622.9 275.9,622.7 276.1,621.6 276.4,620.4 276.7,619.2 277.0,618.7 277.4,618.1 277.9,616.8 278.4,616.2 278.8,615.4 279.2,614.3 279.7,613.2 280.3,612.7 281.0,611.2 281.6,610.4 281.8,609.8 282.0,608.5 282.2,608.1 282.4,607.1 282.6,605.4 282.8,604.5 283.0,603.7 283.2,603.5 283.4,602.1 283.6,601.1 283.8,600.4 284.0,599.1 284.2,598.4 284.4,597.3 284.5,596.4 284.7,595.7 284.9,594.7 285.1,594.1 285.3,592.8 285.9,593.9 286.5,595.1 287.1,595.6 287.2,595.0 287.3,594.2 287.4,593.0 287.5,591.6 287.6,591.3 287.7,590.5 287.8,589.5 287.8,588.3 287.9,587.5 288.0,586.0 288.1,585.7 288.2,584.6 288.3,583.3 288.4,582.2 288.5,581.7 288.8,581.1 289.1,580.3 289.3,578.5 289.6,578.3 289.9,577.1 290.2,576.1 290.5,574.9 290.9,574.1 291.2,573.4 291.3,574.6 291.4,575.6 291.6,575.7 291.7,577.2 291.8,577.6 291.9,579.2 292.1,579.7 292.2,580.8 293.5,579.9 293.6,581.2 293.8,582.2 293.9,582.7 294.0,584.1 294.1,584.3 294.3,585.0 294.4,586.4 294.5,586.8 294.6,587.9 294.8,589.0 294.9,590.0 295.2,589.2 295.6,587.8 295.9,586.8 296.3,586.3 296.4,587.6 296.5,588.0 296.6,589.5 296.8,590.4 296.9,590.8 297.0,591.8 297.1,592.8 297.2,593.7 297.3,594.8 297.5,595.7 297.6,596.5 297.8,597.5 297.9,598.8 298.1,599.3 298.2,600.2 298.5,599.2 298.8,598.6 299.0,597.2 299.3,596.3 299.6,595.6 299.7,597.0 299.9,597.5 300.0,598.4 300.1,598.8 300.2,600.1 300.4,601.2 300.5,601.6 300.6,603.1 300.8,604.0 300.9,604.8 302.3,605.8 302.6,606.3 303.0,607.7 303.3,608.5 303.6,609.4 304.0,610.5 304.3,611.1 304.6,612.2 304.8,613.3 305.1,614.3 305.3,614.5 305.6,615.5 305.8,617.0 306.0,618.2 306.3,618.4 306.5,619.6 306.7,620.5 306.9,621.5 307.0,622.2 307.2,623.2 307.4,624.0 307.5,625.0 307.7,626.2 307.9,627.0 308.2,627.7 308.5,628.7 308.8,630.1 309.1,630.3 309.4,631.7 309.7,632.6 310.0,633.7 310.2,634.2 310.5,635.1 310.8,636.6 311.1,636.9 311.3,637.8 311.6,639.0 312.3,639.7 313.0,640.5 313.0,640.8" fill="#d0d2e3"/>
<polyline points="253.8,633.5 254.7,633.6 255.7,634.2 256.6,634.4 257.5,634.9 258.6,635.0 259.7,635.0 260.8,634.9 261.4,635.2 262.0,635.9 262.6,637.2 263.2,636.6 263.9,635.1 264.5,634.4 265.6,634.1 266.8,634.4 267.5,634.2 268.3,632.9 269.0,632.5 269.8,631.4 270.5,630.7 271.4,630.5 272.4,629.8 273.3,629.8 273.6,629.0 274.0,628.3 274.4,627.0 274.7,626.1 275.0,625.4 275.3,624.4 275.6,622.9 275.9,622.7 276.1,621.6 276.4,620.4 276.7,619.2 277.0,618.7 277.4,618.1 277.9,616.8 278.4,616.2 278.8,615.4 279.2,614.3 279.7,613.2 280.3,612.7 281.0,611.2 281.6,610.4 281.8,609.8 282.0,608.5 282.2,608.1 282.4,607.1 282.6,605.4 282.8,604.5 283.0,603.7 283.2,603.5 283.4,602.1 283.6,601.1 283.8,600.4 284.0,599.1 284.2,598.4 284.4,597.3 284.5,596.4 284.7,595.7 284.9,594.7 285.1,594.1 285.3,592.8 285.9,593.9 286.5,595.1 287.1,595.6 287.2,595.0 287.3,594.2 287.4,593.0 287.5,591.6 287.6,591.3 287.7,590.5 287.8,589.5 287.8,588.3 287.9,587.5 288.0,586.0 288.1,585.7 288.2,584.6 288.3,583.3 288.4,582.2 288.5,581.7 288.8,581.1 289.1,580.3 289.3,578.5 289.6,578.3 289.9,577.1 290.2,576.1 290.5,574.9 290.9,574.1 291.2,573.4 291.3,574.6 291.4,575.6 291.6,575.7 291.7,577.2 291.8,577.6 291.9,579.2 292.1,579.7 292.2,580.8 293.5,579.9 293.6,581.2 293.8,582.2 293.9,582.7 294.0,584.1 294.1,584.3 294.3,585.0 294.4,586.4 294.5,586.8 294.6,587.9 294.8,589.0 294.9,590.0 295.2,589.2 295.6,587.8 295.9,586.8 296.3,586.3 296.4,587.6 296.5,588.0 296.6,589.5 296.8,590.4 296.9,590.8 297.0,591.8 297.1,592.8 297.2,593.7 297.3,594.8 297.5,595.7 297.6,596.5 297.8,597.5 297.9,598.8 298.1,599.3 298.2,600.2 298.5,599.2 298.8,598.6 299.0,597.2 299.3,596.3 299.6,595.6 299.7,597.0 299.9,597.5 300.0,598.4 300.1,598.8 300.2,600.1 300.4,601.2 300.5,601.6 300.6,603.1 300.8,604.0 300.9,604.8 302.3,605.8 302.6,606.3 303.0,607.7 303.3,608.5 303.6,609.4 304.0,610.5 304.3,611.1 304.6,612.2 304.8,613.3 305.1,614.3 305.3,614.5 305.6,615.5 305.8,617.0 306.0,618.2 306.3,618.4 306.5,619.6 306.7,620.5 306.9,621.5 307.0,622.2 307.2,623.2 307.4,624.0 307.5,625.0 307.7,626.2 307.9,627.0 308.2,627.7 308.5,628.7 308.8,630.1 309.1,630.3 309.4,631.7 309.7,632.6 310.0,633.7 310.2,634.2 310.5,635.1 310.8,636.6 311.1,636.9 311.3,637.8 311.6,639.0 312.3,639.7 313.0,640.5" fill="none" stroke="#3a5b9c" stroke-width="1.05" stroke-linejoin="round"/>
<polyline points="253.6,569.5 253.8,630.7 254.3,631.6 254.8,632.6 255.2,633.5 255.7,634.0 256.6,634.4 257.6,634.2 258.5,634.0 259.6,634.9 260.8,634.9 261.6,633.7 262.3,633.3 263.1,632.6 264.0,633.6 265.0,633.9 265.9,634.4 266.8,634.4 267.7,633.5 267.9,632.2 268.1,631.6 268.3,630.5 268.5,629.8 268.7,628.9 268.9,627.4 269.1,627.0 269.6,627.7 270.0,628.6 270.5,629.8 271.4,630.2 272.3,629.8 273.0,631.0 273.7,631.6 274.0,630.3 274.3,630.1 274.5,628.5 274.8,628.0 275.1,627.0 275.4,625.7 275.6,624.6 275.9,624.6 276.2,623.0 276.5,622.1 276.7,621.9 277.0,620.5 277.9,620.0 278.8,618.7 280.2,618.7 280.3,617.6 280.4,617.3 280.5,616.0 280.6,615.2 280.6,613.8 280.7,613.6 280.8,612.5 280.9,611.8 281.0,610.8 281.1,609.5 281.1,608.4 281.2,607.5 281.2,606.4 281.3,605.4 281.3,604.4 281.3,603.7 281.4,603.1 281.4,601.6 281.4,601.3 281.5,600.0 281.5,599.1 281.6,598.6 281.6,597.4 282.0,598.3 282.3,599.1 282.7,600.2 283.0,601.4 283.4,602.1 283.5,600.7 283.7,600.7 283.8,598.8 283.9,598.6 284.1,597.8 284.2,596.0 284.4,595.9 284.5,594.5 284.6,593.8 284.8,592.3 284.9,591.4 285.0,590.6 285.2,590.5 285.3,589.1 286.0,587.9 286.7,587.3 286.8,586.6 286.9,585.9 287.0,584.9 287.1,583.4 287.2,582.5 287.3,581.7 287.5,581.1 287.6,579.5 287.7,579.2 287.8,578.3 287.9,577.4 288.0,575.7 288.1,575.2 288.4,576.6 288.7,576.7 289.0,578.0 289.2,576.9 289.5,576.3 289.7,575.7 289.9,574.2 290.2,573.8 290.4,572.5 291.8,572.5 291.9,573.5 292.0,574.2 292.1,575.1 292.2,576.2 292.4,576.8 292.6,577.6 292.7,578.6 292.9,580.1 293.1,580.8 294.5,579.9 294.6,581.3 294.7,581.4 294.8,582.2 294.9,584.1 294.9,584.5 295.0,585.3 295.1,586.1 295.2,587.4 295.3,588.5 295.4,589.1 295.5,590.0 295.7,590.9 295.9,591.5 296.0,593.2 296.1,593.3 296.3,594.7 296.6,595.6 296.9,596.8 297.2,597.4 297.3,598.0 297.5,599.5 297.6,600.6 297.8,601.2 297.9,602.3 298.1,602.6 298.2,603.9 298.4,604.8 298.6,605.4 298.7,607.0 298.9,607.4 299.1,608.5 300.5,609.5 301.4,610.4 302.3,611.3 302.8,610.7 303.2,609.5 303.7,608.1 304.2,609.6 304.6,610.2 305.1,611.3 305.3,612.2 305.5,613.4 305.7,614.1 305.9,614.8 306.1,615.8 306.3,616.5 306.5,617.8 306.7,618.6 306.9,620.1 307.2,621.0 307.4,621.5 307.9,620.7 308.3,619.6 308.8,618.7 309.0,619.5 309.1,620.1 309.3,621.2 309.4,622.7 309.6,623.7 309.7,624.1 309.9,625.4 310.0,626.4 310.2,627.0 310.5,628.1 310.8,629.0 311.1,630.1 311.4,630.6 311.7,631.9 312.0,632.6 312.5,633.3 312.9,634.4 313.4,635.6 313.9,636.3 314.3,637.5 314.8,638.0 315.2,639.7 315.7,640.2" fill="none" stroke="#c8173e" stroke-width="1.05" stroke-linejoin="round"/>
<line x1="288.40" y1="628.90" x2="327.00" y2="628.90" stroke="#333" stroke-width="1.1"/>
<line x1="288.40" y1="627.30" x2="288.40" y2="630.50" stroke="#333" stroke-width="1.0"/>
<rect x="253.20" y="568.40" width="73.80" height="72.40" fill="none" stroke="#111" stroke-width="1.45"/>
<line x1="253.30" y1="569.40" x2="253.30" y2="639.80" stroke="#5a0c22" stroke-width="0.9"/>
<line x1="249.60" y1="640.80" x2="253.20" y2="640.80" stroke="#222" stroke-width="0.8"/>
<line x1="251.40" y1="638.04" x2="253.20" y2="638.04" stroke="#222" stroke-width="0.8"/>
<line x1="251.40" y1="635.28" x2="253.20" y2="635.28" stroke="#222" stroke-width="0.8"/>
<line x1="251.40" y1="632.52" x2="253.20" y2="632.52" stroke="#222" stroke-width="0.8"/>
<line x1="251.40" y1="629.76" x2="253.20" y2="629.76" stroke="#222" stroke-width="0.8"/>
<line x1="249.60" y1="627.00" x2="253.20" y2="627.00" stroke="#222" stroke-width="0.8"/>
<line x1="251.40" y1="624.24" x2="253.20" y2="624.24" stroke="#222" stroke-width="0.8"/>
<line x1="251.40" y1="621.48" x2="253.20" y2="621.48" stroke="#222" stroke-width="0.8"/>
<line x1="251.40" y1="618.72" x2="253.20" y2="618.72" stroke="#222" stroke-width="0.8"/>
<line x1="251.40" y1="615.96" x2="253.20" y2="615.96" stroke="#222" stroke-width="0.8"/>
<line x1="249.60" y1="613.20" x2="253.20" y2="613.20" stroke="#222" stroke-width="0.8"/>
<line x1="251.40" y1="610.44" x2="253.20" y2="610.44" stroke="#222" stroke-width="0.8"/>
<line x1="251.40" y1="607.68" x2="253.20" y2="607.68" stroke="#222" stroke-width="0.8"/>
<line x1="251.40" y1="604.92" x2="253.20" y2="604.92" stroke="#222" stroke-width="0.8"/>
<line x1="251.40" y1="602.16" x2="253.20" y2="602.16" stroke="#222" stroke-width="0.8"/>
<line x1="249.60" y1="599.40" x2="253.20" y2="599.40" stroke="#222" stroke-width="0.8"/>
<line x1="251.40" y1="596.64" x2="253.20" y2="596.64" stroke="#222" stroke-width="0.8"/>
<line x1="251.40" y1="593.88" x2="253.20" y2="593.88" stroke="#222" stroke-width="0.8"/>
<line x1="251.40" y1="591.12" x2="253.20" y2="591.12" stroke="#222" stroke-width="0.8"/>
<line x1="251.40" y1="588.36" x2="253.20" y2="588.36" stroke="#222" stroke-width="0.8"/>
<line x1="249.60" y1="585.60" x2="253.20" y2="585.60" stroke="#222" stroke-width="0.8"/>
<line x1="251.40" y1="582.84" x2="253.20" y2="582.84" stroke="#222" stroke-width="0.8"/>
<line x1="251.40" y1="580.08" x2="253.20" y2="580.08" stroke="#222" stroke-width="0.8"/>
<line x1="251.40" y1="577.32" x2="253.20" y2="577.32" stroke="#222" stroke-width="0.8"/>
<line x1="251.40" y1="574.56" x2="253.20" y2="574.56" stroke="#222" stroke-width="0.8"/>
<line x1="249.60" y1="571.80" x2="253.20" y2="571.80" stroke="#222" stroke-width="0.8"/>
<text x="245.50" y="643.20" font-size="6.6" fill="#231f20" text-anchor="end">0</text>
<text x="245.50" y="629.40" font-size="6.6" fill="#231f20" text-anchor="end">20</text>
<text x="245.50" y="615.60" font-size="6.6" fill="#231f20" text-anchor="end">40</text>
<text x="245.50" y="601.80" font-size="6.6" fill="#231f20" text-anchor="end">60</text>
<text x="245.50" y="588.00" font-size="6.6" fill="#231f20" text-anchor="end">80</text>
<text x="245.50" y="574.20" font-size="6.6" fill="#231f20" text-anchor="end">100</text>
<line x1="266.80" y1="640.80" x2="266.80" y2="643.60" stroke="#222" stroke-width="0.8"/>
<line x1="272.10" y1="640.80" x2="272.10" y2="642.30" stroke="#222" stroke-width="0.8"/>
<line x1="275.20" y1="640.80" x2="275.20" y2="642.30" stroke="#222" stroke-width="0.8"/>
<line x1="277.40" y1="640.80" x2="277.40" y2="642.30" stroke="#222" stroke-width="0.8"/>
<line x1="279.10" y1="640.80" x2="279.10" y2="642.30" stroke="#222" stroke-width="0.8"/>
<line x1="280.50" y1="640.80" x2="280.50" y2="642.30" stroke="#222" stroke-width="0.8"/>
<line x1="281.67" y1="640.80" x2="281.67" y2="642.30" stroke="#222" stroke-width="0.8"/>
<line x1="282.69" y1="640.80" x2="282.69" y2="642.30" stroke="#222" stroke-width="0.8"/>
<line x1="283.59" y1="640.80" x2="283.59" y2="642.30" stroke="#222" stroke-width="0.8"/>
<line x1="285.80" y1="640.80" x2="285.80" y2="643.60" stroke="#222" stroke-width="0.8"/>
<line x1="291.10" y1="640.80" x2="291.10" y2="642.30" stroke="#222" stroke-width="0.8"/>
<line x1="294.20" y1="640.80" x2="294.20" y2="642.30" stroke="#222" stroke-width="0.8"/>
<line x1="296.40" y1="640.80" x2="296.40" y2="642.30" stroke="#222" stroke-width="0.8"/>
<line x1="298.10" y1="640.80" x2="298.10" y2="642.30" stroke="#222" stroke-width="0.8"/>
<line x1="299.50" y1="640.80" x2="299.50" y2="642.30" stroke="#222" stroke-width="0.8"/>
<line x1="300.67" y1="640.80" x2="300.67" y2="642.30" stroke="#222" stroke-width="0.8"/>
<line x1="301.69" y1="640.80" x2="301.69" y2="642.30" stroke="#222" stroke-width="0.8"/>
<line x1="302.59" y1="640.80" x2="302.59" y2="642.30" stroke="#222" stroke-width="0.8"/>
<line x1="303.60" y1="640.80" x2="303.60" y2="643.60" stroke="#222" stroke-width="0.8"/>
<line x1="308.90" y1="640.80" x2="308.90" y2="642.30" stroke="#222" stroke-width="0.8"/>
<line x1="312.00" y1="640.80" x2="312.00" y2="642.30" stroke="#222" stroke-width="0.8"/>
<line x1="314.20" y1="640.80" x2="314.20" y2="642.30" stroke="#222" stroke-width="0.8"/>
<line x1="315.90" y1="640.80" x2="315.90" y2="642.30" stroke="#222" stroke-width="0.8"/>
<line x1="317.30" y1="640.80" x2="317.30" y2="642.30" stroke="#222" stroke-width="0.8"/>
<line x1="318.47" y1="640.80" x2="318.47" y2="642.30" stroke="#222" stroke-width="0.8"/>
<line x1="319.49" y1="640.80" x2="319.49" y2="642.30" stroke="#222" stroke-width="0.8"/>
<line x1="320.39" y1="640.80" x2="320.39" y2="642.30" stroke="#222" stroke-width="0.8"/>
<line x1="320.80" y1="640.80" x2="320.80" y2="643.60" stroke="#222" stroke-width="0.8"/>
<line x1="255.20" y1="640.80" x2="255.20" y2="642.40" stroke="#222" stroke-width="0.8"/>
<line x1="257.40" y1="640.80" x2="257.40" y2="642.40" stroke="#222" stroke-width="0.8"/>
<line x1="259.70" y1="640.80" x2="259.70" y2="642.40" stroke="#222" stroke-width="0.8"/>
<line x1="262.20" y1="640.80" x2="262.20" y2="642.40" stroke="#222" stroke-width="0.8"/>
<text x="258.60" y="654.60" font-size="7.0" fill="#231f20">0</text>
<text x="262.00" y="654.60" font-size="7.0" fill="#231f20" textLength="7.90" lengthAdjust="spacingAndGlyphs">10</text>
<text x="270.40" y="651.20" font-size="4.6" fill="#231f20">2</text>
<text x="281.80" y="654.60" font-size="7.0" fill="#231f20" textLength="7.90" lengthAdjust="spacingAndGlyphs">10</text>
<text x="290.20" y="651.20" font-size="4.6" fill="#231f20">3</text>
<text x="299.20" y="654.60" font-size="7.0" fill="#231f20" textLength="7.90" lengthAdjust="spacingAndGlyphs">10</text>
<text x="307.60" y="651.20" font-size="4.6" fill="#231f20">4</text>
<text x="315.70" y="654.60" font-size="7.0" fill="#231f20" textLength="7.90" lengthAdjust="spacingAndGlyphs">10</text>
<text x="324.10" y="651.20" font-size="4.6" fill="#231f20">5</text>
<text x="281.80" y="563.20" font-size="10.0" fill="#231f20" textLength="16.80" lengthAdjust="spacingAndGlyphs">CD4</text>
<polyline points="350.8,569.5 351.3,570.6 351.4,571.4 351.6,572.1 351.7,573.5 351.8,573.9 351.9,575.3 352.1,576.1 352.2,577.1 352.3,577.6 352.5,578.9 352.6,579.4 352.8,580.7 352.9,581.3 353.0,582.3 353.2,583.5 353.3,584.8 353.5,585.0 353.6,586.3 354.0,587.0 354.4,588.3 354.7,589.5 355.1,590.1 355.5,591.0 356.2,591.8 356.9,592.8 357.5,594.2 358.2,594.7 358.5,595.3 358.8,597.0 359.1,597.5 359.5,598.4 359.8,599.4 360.1,600.7 360.5,599.5 360.8,598.9 361.1,597.3 361.5,596.5 361.7,595.7 362.0,594.8 362.2,593.6 362.4,592.9 362.7,591.5 362.9,591.0 363.2,591.5 363.5,592.5 363.8,593.7 364.1,592.9 364.5,591.8 364.9,590.8 365.2,590.0 366.1,590.8 367.0,591.4 367.3,590.4 367.6,589.2 367.9,588.7 368.3,587.6 368.6,586.2 368.9,585.4 369.3,584.5 369.6,583.6 370.0,583.0 370.3,581.9 370.7,580.8 370.9,579.7 371.1,579.5 371.3,577.8 371.5,577.2 371.8,576.6 372.0,575.2 372.2,574.6 372.4,573.4 372.6,572.9 372.7,574.0 372.8,575.1 372.9,575.9 373.0,577.1 373.1,577.6 373.2,578.9 373.3,579.8 373.4,580.8 373.5,581.7 373.7,580.7 373.9,580.0 374.1,579.1 374.3,577.7 374.5,576.9 374.7,575.4 374.9,574.8 375.0,575.9 375.1,576.9 375.2,578.1 375.3,578.9 375.4,579.4 375.5,580.5 375.7,581.7 375.8,582.1 375.9,583.4 376.0,584.1 376.1,585.0 376.2,585.9 376.3,587.3 376.5,586.6 376.7,585.1 376.8,584.3 377.0,583.4 377.2,582.6 377.6,583.9 377.9,584.1 378.2,585.3 378.6,586.3 378.7,587.3 378.7,588.5 378.8,589.4 378.8,590.3 378.9,590.7 378.9,591.8 379.0,592.7 379.0,594.1 379.1,595.1 379.1,595.3 379.2,596.2 379.2,597.2 379.3,598.1 379.3,599.3 379.4,600.3 379.4,601.0 379.5,602.1 379.6,602.6 379.8,603.9 379.9,604.7 380.0,605.8 380.1,607.1 380.3,607.8 380.4,608.5 380.5,609.6 380.6,610.5 380.8,610.9 380.9,612.2 381.0,613.5 381.1,614.3 381.3,615.3 381.4,616.2 381.5,616.7 381.6,617.7 381.7,618.3 381.9,619.7 382.0,620.1 382.1,621.1 382.2,622.1 382.3,623.0 382.5,624.1 382.6,624.8 382.7,626.1 382.9,626.6 383.0,627.6 383.2,628.4 383.4,629.6 383.5,630.2 383.7,631.8 383.8,632.5 384.0,633.0 384.2,634.0 384.3,635.0 384.5,636.0 384.9,636.8 385.3,637.5 385.7,639.0 386.1,640.0 386.5,640.5" fill="none" stroke="#7bbd4c" stroke-width="1.0" stroke-linejoin="round"/>
<polygon points="350.8,640.8 350.8,639.0 351.7,638.8 352.6,639.2 353.6,639.1 354.5,639.4 355.4,639.4 356.4,638.9 357.3,639.0 358.2,639.5 359.1,639.8 360.1,639.3 361.0,639.2 361.9,640.0 362.8,639.5 363.8,639.8 364.7,639.5 365.6,639.5 366.5,639.3 367.5,638.5 368.4,638.6 369.3,638.6 370.2,637.9 371.2,637.8 372.1,637.2 373.0,636.8 374.0,635.6 374.9,635.7 375.8,634.9 376.5,634.2 377.2,633.1 377.9,632.0 378.6,631.6 379.2,631.1 379.8,629.9 380.5,629.3 381.1,628.6 381.7,627.6 382.3,626.6 382.8,626.1 383.2,624.8 383.7,624.3 384.1,623.1 384.6,622.7 385.0,621.8 385.5,620.5 386.0,619.2 386.4,618.3 386.9,617.5 387.3,617.3 387.8,615.9 388.3,614.9 388.8,614.2 389.2,612.9 389.7,612.2 390.1,611.3 390.6,610.2 391.1,609.3 391.5,608.5 391.8,607.7 392.1,606.8 392.4,606.2 392.8,605.0 393.1,604.3 393.4,603.0 394.0,602.4 394.6,601.6 395.2,600.2 395.4,599.4 395.5,598.0 395.7,597.8 395.8,597.0 396.0,596.0 396.1,594.7 396.3,594.0 396.4,592.5 396.6,591.9 397.2,591.3 397.9,590.1 398.5,589.1 398.6,588.0 398.8,586.8 398.9,586.7 399.1,585.9 399.2,584.1 399.3,583.9 399.5,582.6 399.6,581.4 399.8,580.6 399.9,579.9 400.2,579.2 400.5,578.4 400.7,576.6 401.0,576.3 401.3,575.2 401.5,575.7 401.8,577.3 402.0,577.8 402.2,578.9 402.4,578.4 402.7,577.5 402.9,576.2 403.1,575.7 403.4,574.1 403.6,573.4 403.7,573.9 403.8,575.4 403.9,575.7 404.0,576.8 404.1,577.9 404.2,579.1 404.3,579.5 404.3,580.4 404.4,582.1 404.5,582.5 404.6,584.1 404.7,584.9 404.8,585.3 404.9,586.3 405.0,587.3 405.3,586.4 405.6,585.6 405.9,584.5 406.0,585.5 406.1,586.4 406.2,587.4 406.3,588.6 406.4,589.1 406.5,590.0 406.6,591.2 406.7,591.6 406.8,592.8 406.9,593.5 407.0,595.1 407.1,595.6 407.2,596.5 407.3,596.9 407.4,598.3 407.6,599.3 407.7,599.7 407.8,601.2 407.9,602.2 408.0,602.5 408.1,604.0 408.2,604.8 408.3,605.7 408.4,606.8 408.5,607.4 408.6,608.7 408.7,609.7 408.8,609.9 408.9,610.9 409.0,612.4 409.1,613.6 409.2,613.8 409.3,615.0 409.4,616.0 409.5,616.7 409.6,617.8 409.7,618.6 409.9,619.5 410.0,620.4 410.2,621.6 410.3,622.2 410.4,623.2 410.6,624.5 410.7,624.7 410.9,626.1 411.0,627.0 411.3,628.2 411.6,628.7 411.9,629.5 412.2,631.0 412.5,631.4 412.8,632.6 413.4,633.2 413.9,634.4 414.5,635.6 415.0,635.9 415.6,637.2 416.5,637.6 417.5,638.2 418.4,639.3 419.3,639.5 420.2,639.6 421.1,640.3 422.1,639.8 423.0,640.3 423.0,640.8" fill="#d0d2e3"/>
<polyline points="350.8,639.0 351.7,638.8 352.6,639.2 353.6,639.1 354.5,639.4 355.4,639.4 356.4,638.9 357.3,639.0 358.2,639.5 359.1,639.8 360.1,639.3 361.0,639.2 361.9,640.0 362.8,639.5 363.8,639.8 364.7,639.5 365.6,639.5 366.5,639.3 367.5,638.5 368.4,638.6 369.3,638.6 370.2,637.9 371.2,637.8 372.1,637.2 373.0,636.8 374.0,635.6 374.9,635.7 375.8,634.9 376.5,634.2 377.2,633.1 377.9,632.0 378.6,631.6 379.2,631.1 379.8,629.9 380.5,629.3 381.1,628.6 381.7,627.6 382.3,626.6 382.8,626.1 383.2,624.8 383.7,624.3 384.1,623.1 384.6,622.7 385.0,621.8 385.5,620.5 386.0,619.2 386.4,618.3 386.9,617.5 387.3,617.3 387.8,615.9 388.3,614.9 388.8,614.2 389.2,612.9 389.7,612.2 390.1,611.3 390.6,610.2 391.1,609.3 391.5,608.5 391.8,607.7 392.1,606.8 392.4,606.2 392.8,605.0 393.1,604.3 393.4,603.0 394.0,602.4 394.6,601.6 395.2,600.2 395.4,599.4 395.5,598.0 395.7,597.8 395.8,597.0 396.0,596.0 396.1,594.7 396.3,594.0 396.4,592.5 396.6,591.9 397.2,591.3 397.9,590.1 398.5,589.1 398.6,588.0 398.8,586.8 398.9,586.7 399.1,585.9 399.2,584.1 399.3,583.9 399.5,582.6 399.6,581.4 399.8,580.6 399.9,579.9 400.2,579.2 400.5,578.4 400.7,576.6 401.0,576.3 401.3,575.2 401.5,575.7 401.8,577.3 402.0,577.8 402.2,578.9 402.4,578.4 402.7,577.5 402.9,576.2 403.1,575.7 403.4,574.1 403.6,573.4 403.7,573.9 403.8,575.4 403.9,575.7 404.0,576.8 404.1,577.9 404.2,579.1 404.3,579.5 404.3,580.4 404.4,582.1 404.5,582.5 404.6,584.1 404.7,584.9 404.8,585.3 404.9,586.3 405.0,587.3 405.3,586.4 405.6,585.6 405.9,584.5 406.0,585.5 406.1,586.4 406.2,587.4 406.3,588.6 406.4,589.1 406.5,590.0 406.6,591.2 406.7,591.6 406.8,592.8 406.9,593.5 407.0,595.1 407.1,595.6 407.2,596.5 407.3,596.9 407.4,598.3 407.6,599.3 407.7,599.7 407.8,601.2 407.9,602.2 408.0,602.5 408.1,604.0 408.2,604.8 408.3,605.7 408.4,606.8 408.5,607.4 408.6,608.7 408.7,609.7 408.8,609.9 408.9,610.9 409.0,612.4 409.1,613.6 409.2,613.8 409.3,615.0 409.4,616.0 409.5,616.7 409.6,617.8 409.7,618.6 409.9,619.5 410.0,620.4 410.2,621.6 410.3,622.2 410.4,623.2 410.6,624.5 410.7,624.7 410.9,626.1 411.0,627.0 411.3,628.2 411.6,628.7 411.9,629.5 412.2,631.0 412.5,631.4 412.8,632.6 413.4,633.2 413.9,634.4 414.5,635.6 415.0,635.9 415.6,637.2 416.5,637.6 417.5,638.2 418.4,639.3 419.3,639.5 420.2,639.6 421.1,640.3 422.1,639.8 423.0,640.3" fill="none" stroke="#3a5b9c" stroke-width="1.05" stroke-linejoin="round"/>
<polyline points="350.8,569.5 350.8,634.9 351.7,635.3 352.7,635.7 353.6,635.8 354.5,636.2 355.4,636.4 356.4,636.3 357.3,636.6 358.2,636.3 359.1,635.8 360.1,636.3 361.0,636.7 362.0,636.4 362.9,636.3 363.8,636.4 364.7,635.4 365.7,635.4 366.6,634.9 367.5,634.9 368.1,634.2 368.7,633.6 369.4,632.3 370.0,631.8 370.6,631.2 371.2,630.7 371.8,630.3 372.4,629.4 373.0,628.1 373.7,627.9 374.3,626.5 374.9,626.1 375.5,625.3 376.0,623.9 376.6,622.8 377.1,622.8 377.7,621.5 378.0,620.3 378.4,619.4 378.7,619.2 379.0,618.2 379.4,616.7 379.7,616.4 380.1,615.1 380.4,614.1 380.7,613.3 380.9,611.9 381.2,611.8 381.5,610.6 381.8,609.9 382.0,608.9 382.3,607.6 382.6,606.5 382.8,605.6 383.1,604.5 383.3,603.5 383.6,602.5 383.8,601.8 384.1,601.1 384.5,600.3 384.9,598.8 385.2,598.5 385.6,597.3 386.0,596.5 386.1,595.4 386.3,595.0 386.4,593.7 386.6,592.6 386.7,591.9 386.8,591.2 387.0,589.6 387.1,589.6 387.3,587.7 387.4,587.3 388.1,586.6 388.8,585.4 389.1,586.7 389.5,586.8 389.9,588.5 390.2,589.1 390.6,587.9 391.1,587.0 391.5,585.9 392.2,586.1 392.9,587.3 393.9,585.9 394.8,585.4 394.9,586.0 395.1,587.7 395.2,588.2 395.4,587.0 395.6,586.6 395.7,585.9 395.9,584.9 396.1,583.4 396.2,582.5 396.4,581.7 396.6,580.8 396.9,580.1 397.2,578.5 397.6,578.2 397.9,577.4 398.2,576.5 398.5,575.2 399.9,574.3 400.6,573.1 401.3,572.9 402.6,573.4 404.0,574.3 404.2,575.7 404.4,575.7 404.6,576.9 404.8,578.1 405.0,579.4 405.2,579.7 405.4,580.8 405.5,582.1 405.6,582.7 405.8,583.4 405.9,584.3 406.0,585.1 406.1,585.9 406.2,586.9 406.4,588.4 406.5,589.6 406.6,589.7 406.7,590.5 406.8,592.4 406.9,592.9 407.1,593.7 407.2,594.4 407.3,595.6 407.4,596.6 407.6,597.8 407.7,598.3 407.9,599.2 408.0,599.8 408.1,601.5 408.3,601.6 408.4,603.0 408.6,604.2 408.7,604.8 408.8,605.4 408.9,606.9 409.0,608.0 409.0,608.6 409.1,609.7 409.2,610.0 409.3,611.2 409.4,611.9 409.5,613.5 409.6,613.9 409.7,614.9 409.7,616.4 409.8,617.2 409.9,618.2 410.0,618.7 410.1,619.6 410.3,620.5 410.4,621.7 410.6,622.4 410.7,623.1 410.8,624.2 411.0,624.9 411.1,626.0 411.3,627.6 411.4,628.0 411.7,629.4 411.9,630.0 412.2,630.7 412.5,631.5 412.8,632.2 413.0,633.3 413.3,634.4 413.8,635.6 414.2,636.6 414.7,637.0 415.1,638.4 415.6,639.0 416.5,639.9 417.4,640.3" fill="none" stroke="#c8173e" stroke-width="1.05" stroke-linejoin="round"/>
<line x1="385.60" y1="628.90" x2="424.40" y2="628.90" stroke="#333" stroke-width="1.1"/>
<line x1="385.60" y1="627.30" x2="385.60" y2="630.50" stroke="#333" stroke-width="1.0"/>
<rect x="350.30" y="568.40" width="74.10" height="72.40" fill="none" stroke="#111" stroke-width="1.45"/>
<line x1="350.40" y1="569.40" x2="350.40" y2="639.80" stroke="#5a0c22" stroke-width="0.9"/>
<line x1="346.70" y1="640.80" x2="350.30" y2="640.80" stroke="#222" stroke-width="0.8"/>
<line x1="348.50" y1="638.04" x2="350.30" y2="638.04" stroke="#222" stroke-width="0.8"/>
<line x1="348.50" y1="635.28" x2="350.30" y2="635.28" stroke="#222" stroke-width="0.8"/>
<line x1="348.50" y1="632.52" x2="350.30" y2="632.52" stroke="#222" stroke-width="0.8"/>
<line x1="348.50" y1="629.76" x2="350.30" y2="629.76" stroke="#222" stroke-width="0.8"/>
<line x1="346.70" y1="627.00" x2="350.30" y2="627.00" stroke="#222" stroke-width="0.8"/>
<line x1="348.50" y1="624.24" x2="350.30" y2="624.24" stroke="#222" stroke-width="0.8"/>
<line x1="348.50" y1="621.48" x2="350.30" y2="621.48" stroke="#222" stroke-width="0.8"/>
<line x1="348.50" y1="618.72" x2="350.30" y2="618.72" stroke="#222" stroke-width="0.8"/>
<line x1="348.50" y1="615.96" x2="350.30" y2="615.96" stroke="#222" stroke-width="0.8"/>
<line x1="346.70" y1="613.20" x2="350.30" y2="613.20" stroke="#222" stroke-width="0.8"/>
<line x1="348.50" y1="610.44" x2="350.30" y2="610.44" stroke="#222" stroke-width="0.8"/>
<line x1="348.50" y1="607.68" x2="350.30" y2="607.68" stroke="#222" stroke-width="0.8"/>
<line x1="348.50" y1="604.92" x2="350.30" y2="604.92" stroke="#222" stroke-width="0.8"/>
<line x1="348.50" y1="602.16" x2="350.30" y2="602.16" stroke="#222" stroke-width="0.8"/>
<line x1="346.70" y1="599.40" x2="350.30" y2="599.40" stroke="#222" stroke-width="0.8"/>
<line x1="348.50" y1="596.64" x2="350.30" y2="596.64" stroke="#222" stroke-width="0.8"/>
<line x1="348.50" y1="593.88" x2="350.30" y2="593.88" stroke="#222" stroke-width="0.8"/>
<line x1="348.50" y1="591.12" x2="350.30" y2="591.12" stroke="#222" stroke-width="0.8"/>
<line x1="348.50" y1="588.36" x2="350.30" y2="588.36" stroke="#222" stroke-width="0.8"/>
<line x1="346.70" y1="585.60" x2="350.30" y2="585.60" stroke="#222" stroke-width="0.8"/>
<line x1="348.50" y1="582.84" x2="350.30" y2="582.84" stroke="#222" stroke-width="0.8"/>
<line x1="348.50" y1="580.08" x2="350.30" y2="580.08" stroke="#222" stroke-width="0.8"/>
<line x1="348.50" y1="577.32" x2="350.30" y2="577.32" stroke="#222" stroke-width="0.8"/>
<line x1="348.50" y1="574.56" x2="350.30" y2="574.56" stroke="#222" stroke-width="0.8"/>
<line x1="346.70" y1="571.80" x2="350.30" y2="571.80" stroke="#222" stroke-width="0.8"/>
<text x="342.60" y="643.20" font-size="6.6" fill="#231f20" text-anchor="end">0</text>
<text x="342.60" y="629.40" font-size="6.6" fill="#231f20" text-anchor="end">20</text>
<text x="342.60" y="615.60" font-size="6.6" fill="#231f20" text-anchor="end">40</text>
<text x="342.60" y="601.80" font-size="6.6" fill="#231f20" text-anchor="end">60</text>
<text x="342.60" y="588.00" font-size="6.6" fill="#231f20" text-anchor="end">80</text>
<text x="342.60" y="574.20" font-size="6.6" fill="#231f20" text-anchor="end">100</text>
<line x1="363.90" y1="640.80" x2="363.90" y2="643.60" stroke="#222" stroke-width="0.8"/>
<line x1="369.20" y1="640.80" x2="369.20" y2="642.30" stroke="#222" stroke-width="0.8"/>
<line x1="372.30" y1="640.80" x2="372.30" y2="642.30" stroke="#222" stroke-width="0.8"/>
<line x1="374.50" y1="640.80" x2="374.50" y2="642.30" stroke="#222" stroke-width="0.8"/>
<line x1="376.20" y1="640.80" x2="376.20" y2="642.30" stroke="#222" stroke-width="0.8"/>
<line x1="377.60" y1="640.80" x2="377.60" y2="642.30" stroke="#222" stroke-width="0.8"/>
<line x1="378.77" y1="640.80" x2="378.77" y2="642.30" stroke="#222" stroke-width="0.8"/>
<line x1="379.79" y1="640.80" x2="379.79" y2="642.30" stroke="#222" stroke-width="0.8"/>
<line x1="380.69" y1="640.80" x2="380.69" y2="642.30" stroke="#222" stroke-width="0.8"/>
<line x1="382.90" y1="640.80" x2="382.90" y2="643.60" stroke="#222" stroke-width="0.8"/>
<line x1="388.20" y1="640.80" x2="388.20" y2="642.30" stroke="#222" stroke-width="0.8"/>
<line x1="391.30" y1="640.80" x2="391.30" y2="642.30" stroke="#222" stroke-width="0.8"/>
<line x1="393.50" y1="640.80" x2="393.50" y2="642.30" stroke="#222" stroke-width="0.8"/>
<line x1="395.20" y1="640.80" x2="395.20" y2="642.30" stroke="#222" stroke-width="0.8"/>
<line x1="396.60" y1="640.80" x2="396.60" y2="642.30" stroke="#222" stroke-width="0.8"/>
<line x1="397.77" y1="640.80" x2="397.77" y2="642.30" stroke="#222" stroke-width="0.8"/>
<line x1="398.79" y1="640.80" x2="398.79" y2="642.30" stroke="#222" stroke-width="0.8"/>
<line x1="399.69" y1="640.80" x2="399.69" y2="642.30" stroke="#222" stroke-width="0.8"/>
<line x1="400.70" y1="640.80" x2="400.70" y2="643.60" stroke="#222" stroke-width="0.8"/>
<line x1="406.00" y1="640.80" x2="406.00" y2="642.30" stroke="#222" stroke-width="0.8"/>
<line x1="409.10" y1="640.80" x2="409.10" y2="642.30" stroke="#222" stroke-width="0.8"/>
<line x1="411.30" y1="640.80" x2="411.30" y2="642.30" stroke="#222" stroke-width="0.8"/>
<line x1="413.00" y1="640.80" x2="413.00" y2="642.30" stroke="#222" stroke-width="0.8"/>
<line x1="414.40" y1="640.80" x2="414.40" y2="642.30" stroke="#222" stroke-width="0.8"/>
<line x1="415.57" y1="640.80" x2="415.57" y2="642.30" stroke="#222" stroke-width="0.8"/>
<line x1="416.59" y1="640.80" x2="416.59" y2="642.30" stroke="#222" stroke-width="0.8"/>
<line x1="417.49" y1="640.80" x2="417.49" y2="642.30" stroke="#222" stroke-width="0.8"/>
<line x1="417.90" y1="640.80" x2="417.90" y2="643.60" stroke="#222" stroke-width="0.8"/>
<line x1="352.30" y1="640.80" x2="352.30" y2="642.40" stroke="#222" stroke-width="0.8"/>
<line x1="354.50" y1="640.80" x2="354.50" y2="642.40" stroke="#222" stroke-width="0.8"/>
<line x1="356.80" y1="640.80" x2="356.80" y2="642.40" stroke="#222" stroke-width="0.8"/>
<line x1="359.30" y1="640.80" x2="359.30" y2="642.40" stroke="#222" stroke-width="0.8"/>
<text x="355.70" y="654.60" font-size="7.0" fill="#231f20">0</text>
<text x="359.10" y="654.60" font-size="7.0" fill="#231f20" textLength="7.90" lengthAdjust="spacingAndGlyphs">10</text>
<text x="367.50" y="651.20" font-size="4.6" fill="#231f20">2</text>
<text x="378.90" y="654.60" font-size="7.0" fill="#231f20" textLength="7.90" lengthAdjust="spacingAndGlyphs">10</text>
<text x="387.30" y="651.20" font-size="4.6" fill="#231f20">3</text>
<text x="396.30" y="654.60" font-size="7.0" fill="#231f20" textLength="7.90" lengthAdjust="spacingAndGlyphs">10</text>
<text x="404.70" y="651.20" font-size="4.6" fill="#231f20">4</text>
<text x="412.80" y="654.60" font-size="7.0" fill="#231f20" textLength="7.90" lengthAdjust="spacingAndGlyphs">10</text>
<text x="421.20" y="651.20" font-size="4.6" fill="#231f20">5</text>
<text x="379.05" y="563.20" font-size="10.0" fill="#231f20" textLength="16.80" lengthAdjust="spacingAndGlyphs">CD8</text>
<polygon points="253.7,782.4 253.9,740.2 253.9,740.9 254.0,742.1 254.0,742.9 254.1,744.1 254.1,745.0 254.2,745.4 254.2,746.3 254.2,748.1 254.3,748.4 254.3,749.4 254.4,751.1 254.4,751.5 255.4,752.4 256.3,753.4 257.0,752.8 257.7,751.5 258.2,752.4 258.6,753.6 259.1,754.4 259.7,753.3 260.4,752.9 261.0,752.0 261.9,752.1 262.9,751.5 264.3,752.5 264.8,751.6 265.3,750.8 265.8,749.6 266.1,748.8 266.4,747.3 266.8,747.1 267.1,746.0 267.4,744.7 267.7,744.0 268.1,742.6 268.5,742.5 268.9,741.1 269.2,740.4 269.6,739.6 270.0,738.3 270.3,737.6 270.5,736.8 270.8,735.3 271.1,734.8 271.4,733.5 271.6,733.0 271.9,731.6 272.2,731.0 272.4,729.3 272.7,728.4 273.0,727.5 273.3,727.4 273.5,725.9 273.8,725.0 274.1,724.2 274.4,722.9 274.8,722.2 275.1,721.1 275.4,720.1 275.7,719.3 276.2,718.4 276.6,717.5 277.1,716.9 277.6,715.5 278.3,714.7 279.0,713.6 279.8,715.0 280.5,715.5 280.7,716.8 280.9,717.9 281.1,718.5 281.3,719.0 281.4,720.6 281.6,721.7 281.8,722.6 282.0,723.2 282.2,724.3 282.4,725.0 282.6,725.7 282.8,727.2 283.0,727.9 283.2,728.6 283.4,729.3 283.5,731.1 283.7,732.1 283.9,732.2 284.1,733.9 284.3,734.5 284.8,735.4 285.2,736.1 285.7,737.1 286.2,738.3 287.1,738.1 288.0,737.3 288.3,738.6 288.6,738.7 288.9,740.3 289.3,740.6 289.6,742.3 289.9,743.0 290.2,741.9 290.5,741.5 290.7,740.7 291.0,739.2 291.3,738.3 291.5,739.7 291.7,740.0 291.9,740.7 292.1,742.2 292.3,742.5 292.5,743.7 292.7,744.9 293.1,745.7 293.5,746.9 293.8,747.4 294.2,748.2 294.6,749.6 294.9,750.9 295.1,751.3 295.4,752.9 295.7,753.8 296.0,754.3 296.2,755.3 296.5,756.3 296.8,757.3 297.1,758.3 297.4,759.2 297.8,760.2 298.1,761.2 298.4,762.0 298.6,763.4 298.9,763.9 299.1,764.8 299.4,766.0 299.6,766.5 299.9,767.7 300.1,768.4 300.3,770.1 300.5,770.5 300.7,771.5 300.9,771.9 301.1,773.3 301.3,774.3 301.6,775.3 301.9,775.7 302.2,777.3 302.6,778.2 302.9,778.6 303.2,780.0 304.1,781.1 305.1,781.9 305.1,782.4" fill="#d0d2e3"/>
<polyline points="253.9,781.9 254.6,781.0 255.3,780.2 256.0,779.9 256.7,779.1 257.0,777.8 257.4,777.2 257.7,776.1 258.1,774.9 258.4,774.3 258.8,772.9 259.1,772.4 259.3,771.4 259.5,770.1 259.7,769.2 259.9,768.5 260.1,767.9 260.2,766.4 260.4,765.5 260.6,764.9 260.8,764.3 261.0,762.9 261.1,762.0 261.2,760.9 261.3,760.5 261.4,758.7 261.5,758.5 261.6,757.0 261.7,755.9 261.8,755.0 261.9,754.2 262.0,753.7 262.1,752.2 262.2,751.6 262.3,750.7 262.4,749.6 262.5,748.5 262.6,747.8 262.7,746.4 262.8,745.4 262.9,744.6 263.0,744.1 263.1,742.9 263.1,741.9 263.2,741.2 263.3,740.1 263.4,739.0 263.5,738.5 263.6,737.5 263.7,736.2 263.8,735.5 263.9,734.5 264.0,733.6 264.1,732.9 264.2,731.8 264.3,730.5 264.4,730.2 264.5,728.4 264.7,727.7 264.8,727.1 264.9,725.6 265.0,725.0 265.1,723.6 265.2,723.2 265.3,722.1 265.6,721.4 265.8,720.3 266.1,719.6 266.4,718.2 266.7,717.6 266.9,716.5 267.2,715.5 267.8,714.6 268.3,713.5 268.9,712.6 269.1,713.9 269.3,714.9 269.4,715.4 269.6,716.5 269.8,717.0 270.0,718.3 270.2,719.4 270.3,720.3 270.5,721.6 270.7,722.4 270.8,722.9 271.0,723.9 271.2,725.1 271.3,725.5 271.5,726.9 271.6,727.8 271.7,728.5 271.7,729.4 271.8,730.3 271.9,731.9 272.0,732.2 272.1,733.3 272.2,734.4 272.2,735.7 272.3,736.0 272.4,737.3 272.5,738.2 272.6,739.2 272.7,740.5 272.8,741.4 272.9,742.4 273.0,742.8 273.1,743.9 273.1,744.7 273.2,746.2 273.3,747.2 273.4,747.4 273.5,748.4 273.6,749.4 273.7,750.3 273.8,751.5 273.9,752.4 274.1,753.5 274.2,754.1 274.3,754.9 274.5,756.2 274.6,757.1 274.8,758.2 274.9,759.5 275.0,760.2 275.2,761.0 275.3,762.1 275.4,763.1 275.6,763.4 275.7,764.8 275.9,766.1 276.2,767.0 276.4,768.0 276.6,768.9 276.9,769.5 277.1,770.4 277.4,771.1 277.6,772.4 278.1,773.5 278.6,773.9 279.0,774.9 279.5,776.0 280.0,777.2 280.8,777.4 281.6,778.0 282.5,778.2 283.3,779.1 284.3,778.9 285.2,779.3 286.2,779.6 287.1,780.1 288.1,780.5 289.0,780.2 290.0,781.1 290.9,781.0 291.8,781.0 292.8,780.8 293.7,780.9 294.6,781.1 295.6,781.1 296.6,781.0 297.5,781.4 298.4,781.8 299.3,782.1 300.2,781.7 301.1,781.9 302.0,782.0" fill="none" stroke="#7bbd4c" stroke-width="1.0" stroke-linejoin="round"/>
<polyline points="253.9,740.2 253.9,740.9 254.0,742.1 254.0,742.9 254.1,744.1 254.1,745.0 254.2,745.4 254.2,746.3 254.2,748.1 254.3,748.4 254.3,749.4 254.4,751.1 254.4,751.5 255.4,752.4 256.3,753.4 257.0,752.8 257.7,751.5 258.2,752.4 258.6,753.6 259.1,754.4 259.7,753.3 260.4,752.9 261.0,752.0 261.9,752.1 262.9,751.5 264.3,752.5 264.8,751.6 265.3,750.8 265.8,749.6 266.1,748.8 266.4,747.3 266.8,747.1 267.1,746.0 267.4,744.7 267.7,744.0 268.1,742.6 268.5,742.5 268.9,741.1 269.2,740.4 269.6,739.6 270.0,738.3 270.3,737.6 270.5,736.8 270.8,735.3 271.1,734.8 271.4,733.5 271.6,733.0 271.9,731.6 272.2,731.0 272.4,729.3 272.7,728.4 273.0,727.5 273.3,727.4 273.5,725.9 273.8,725.0 274.1,724.2 274.4,722.9 274.8,722.2 275.1,721.1 275.4,720.1 275.7,719.3 276.2,718.4 276.6,717.5 277.1,716.9 277.6,715.5 278.3,714.7 279.0,713.6 279.8,715.0 280.5,715.5 280.7,716.8 280.9,717.9 281.1,718.5 281.3,719.0 281.4,720.6 281.6,721.7 281.8,722.6 282.0,723.2 282.2,724.3 282.4,725.0 282.6,725.7 282.8,727.2 283.0,727.9 283.2,728.6 283.4,729.3 283.5,731.1 283.7,732.1 283.9,732.2 284.1,733.9 284.3,734.5 284.8,735.4 285.2,736.1 285.7,737.1 286.2,738.3 287.1,738.1 288.0,737.3 288.3,738.6 288.6,738.7 288.9,740.3 289.3,740.6 289.6,742.3 289.9,743.0 290.2,741.9 290.5,741.5 290.7,740.7 291.0,739.2 291.3,738.3 291.5,739.7 291.7,740.0 291.9,740.7 292.1,742.2 292.3,742.5 292.5,743.7 292.7,744.9 293.1,745.7 293.5,746.9 293.8,747.4 294.2,748.2 294.6,749.6 294.9,750.9 295.1,751.3 295.4,752.9 295.7,753.8 296.0,754.3 296.2,755.3 296.5,756.3 296.8,757.3 297.1,758.3 297.4,759.2 297.8,760.2 298.1,761.2 298.4,762.0 298.6,763.4 298.9,763.9 299.1,764.8 299.4,766.0 299.6,766.5 299.9,767.7 300.1,768.4 300.3,770.1 300.5,770.5 300.7,771.5 300.9,771.9 301.1,773.3 301.3,774.3 301.6,775.3 301.9,775.7 302.2,777.3 302.6,778.2 302.9,778.6 303.2,780.0 304.1,781.1 305.1,781.9" fill="none" stroke="#3a5b9c" stroke-width="1.05" stroke-linejoin="round"/>
<polyline points="253.6,709.5 253.9,736.4 254.0,737.5 254.1,738.5 254.2,739.5 254.4,740.6 254.5,741.4 254.6,742.5 254.7,742.6 254.8,744.0 255.1,744.9 255.4,746.3 255.7,747.0 256.0,748.2 256.3,748.7 256.9,747.4 257.5,746.8 258.0,745.6 258.6,744.9 259.1,745.9 259.6,746.9 260.0,747.3 260.5,748.7 261.4,747.5 262.4,746.8 263.4,745.6 264.3,744.9 264.7,744.5 265.1,743.5 265.5,742.1 266.0,741.9 266.4,740.5 266.8,740.1 267.2,739.2 267.9,739.8 268.6,741.1 268.7,739.7 268.8,739.6 268.9,738.0 268.9,737.0 269.0,736.8 269.1,735.8 269.2,734.2 269.3,734.0 269.4,732.6 269.4,731.8 269.5,730.4 269.6,729.7 271.0,730.7 271.1,730.2 271.2,729.0 271.3,728.3 271.4,727.3 271.5,725.7 271.6,724.8 271.7,723.7 271.8,722.7 271.9,722.1 272.2,720.7 272.5,720.0 272.9,719.4 273.2,717.8 273.5,717.5 273.8,716.4 275.2,717.4 275.8,716.3 276.5,715.3 277.1,714.5 277.9,713.9 278.6,712.6 279.0,713.5 279.3,714.3 279.6,715.4 280.0,716.4 280.2,717.6 280.4,717.9 280.6,719.7 280.8,719.8 281.0,721.4 281.2,722.5 281.4,723.1 282.0,723.6 282.7,725.3 283.3,725.9 283.6,726.7 283.9,727.9 284.1,728.3 284.4,729.3 284.7,730.7 285.4,729.9 286.2,729.7 287.1,730.2 288.1,729.7 288.5,730.3 288.9,731.6 289.1,732.8 289.3,733.9 289.5,734.9 289.7,735.3 289.9,736.4 291.3,737.3 291.5,738.1 291.7,739.2 291.9,740.4 292.1,740.7 292.3,742.3 292.5,743.3 292.7,744.0 293.4,745.3 294.2,745.8 294.4,746.3 294.7,748.1 294.9,748.2 295.1,749.4 295.4,750.7 295.6,751.5 295.8,752.9 296.1,753.2 296.3,754.8 296.5,755.3 296.8,756.1 297.0,757.2 297.5,758.0 297.9,758.8 298.4,760.1 298.8,760.6 299.1,761.6 299.5,763.1 299.9,763.9 300.1,765.3 300.3,765.4 300.5,766.3 300.7,768.2 300.9,768.6 301.1,769.5 301.3,770.5 301.6,771.2 301.8,772.5 302.1,773.7 302.4,774.3 302.7,775.2 302.9,775.8 303.2,777.2 303.7,778.6 304.1,778.6 304.6,780.0 305.1,781.0 306.0,781.6 307.0,781.2 307.9,781.9 308.8,782.1 309.7,782.3 310.6,782.0 311.5,782.2 312.4,781.5 313.4,781.8 314.3,781.5 315.2,782.2 316.1,781.7 317.0,781.9 317.9,782.4 318.8,782.3 319.7,782.4 320.6,781.9 321.5,781.9 322.5,782.1 323.4,781.9 324.3,781.7 325.2,781.8 326.1,781.5 327.0,781.9" fill="none" stroke="#c8173e" stroke-width="1.05" stroke-linejoin="round"/>
<line x1="288.60" y1="772.40" x2="327.10" y2="772.40" stroke="#333" stroke-width="1.1"/>
<line x1="288.60" y1="770.80" x2="288.60" y2="774.00" stroke="#333" stroke-width="1.0"/>
<rect x="253.20" y="708.40" width="73.90" height="74.00" fill="none" stroke="#111" stroke-width="1.45"/>
<line x1="253.30" y1="709.40" x2="253.30" y2="781.40" stroke="#5a0c22" stroke-width="0.9"/>
<line x1="249.60" y1="782.40" x2="253.20" y2="782.40" stroke="#222" stroke-width="0.8"/>
<line x1="251.40" y1="779.58" x2="253.20" y2="779.58" stroke="#222" stroke-width="0.8"/>
<line x1="251.40" y1="776.75" x2="253.20" y2="776.75" stroke="#222" stroke-width="0.8"/>
<line x1="251.40" y1="773.93" x2="253.20" y2="773.93" stroke="#222" stroke-width="0.8"/>
<line x1="251.40" y1="771.10" x2="253.20" y2="771.10" stroke="#222" stroke-width="0.8"/>
<line x1="249.60" y1="768.28" x2="253.20" y2="768.28" stroke="#222" stroke-width="0.8"/>
<line x1="251.40" y1="765.46" x2="253.20" y2="765.46" stroke="#222" stroke-width="0.8"/>
<line x1="251.40" y1="762.63" x2="253.20" y2="762.63" stroke="#222" stroke-width="0.8"/>
<line x1="251.40" y1="759.81" x2="253.20" y2="759.81" stroke="#222" stroke-width="0.8"/>
<line x1="251.40" y1="756.98" x2="253.20" y2="756.98" stroke="#222" stroke-width="0.8"/>
<line x1="249.60" y1="754.16" x2="253.20" y2="754.16" stroke="#222" stroke-width="0.8"/>
<line x1="251.40" y1="751.34" x2="253.20" y2="751.34" stroke="#222" stroke-width="0.8"/>
<line x1="251.40" y1="748.51" x2="253.20" y2="748.51" stroke="#222" stroke-width="0.8"/>
<line x1="251.40" y1="745.69" x2="253.20" y2="745.69" stroke="#222" stroke-width="0.8"/>
<line x1="251.40" y1="742.86" x2="253.20" y2="742.86" stroke="#222" stroke-width="0.8"/>
<line x1="249.60" y1="740.04" x2="253.20" y2="740.04" stroke="#222" stroke-width="0.8"/>
<line x1="251.40" y1="737.22" x2="253.20" y2="737.22" stroke="#222" stroke-width="0.8"/>
<line x1="251.40" y1="734.39" x2="253.20" y2="734.39" stroke="#222" stroke-width="0.8"/>
<line x1="251.40" y1="731.57" x2="253.20" y2="731.57" stroke="#222" stroke-width="0.8"/>
<line x1="251.40" y1="728.74" x2="253.20" y2="728.74" stroke="#222" stroke-width="0.8"/>
<line x1="249.60" y1="725.92" x2="253.20" y2="725.92" stroke="#222" stroke-width="0.8"/>
<line x1="251.40" y1="723.10" x2="253.20" y2="723.10" stroke="#222" stroke-width="0.8"/>
<line x1="251.40" y1="720.27" x2="253.20" y2="720.27" stroke="#222" stroke-width="0.8"/>
<line x1="251.40" y1="717.45" x2="253.20" y2="717.45" stroke="#222" stroke-width="0.8"/>
<line x1="251.40" y1="714.62" x2="253.20" y2="714.62" stroke="#222" stroke-width="0.8"/>
<line x1="249.60" y1="711.80" x2="253.20" y2="711.80" stroke="#222" stroke-width="0.8"/>
<text x="245.50" y="784.80" font-size="6.6" fill="#231f20" text-anchor="end">0</text>
<text x="245.50" y="770.68" font-size="6.6" fill="#231f20" text-anchor="end">20</text>
<text x="245.50" y="756.56" font-size="6.6" fill="#231f20" text-anchor="end">40</text>
<text x="245.50" y="742.44" font-size="6.6" fill="#231f20" text-anchor="end">60</text>
<text x="245.50" y="728.32" font-size="6.6" fill="#231f20" text-anchor="end">80</text>
<text x="245.50" y="714.20" font-size="6.6" fill="#231f20" text-anchor="end">100</text>
<line x1="266.80" y1="782.40" x2="266.80" y2="785.20" stroke="#222" stroke-width="0.8"/>
<line x1="272.10" y1="782.40" x2="272.10" y2="783.90" stroke="#222" stroke-width="0.8"/>
<line x1="275.20" y1="782.40" x2="275.20" y2="783.90" stroke="#222" stroke-width="0.8"/>
<line x1="277.40" y1="782.40" x2="277.40" y2="783.90" stroke="#222" stroke-width="0.8"/>
<line x1="279.10" y1="782.40" x2="279.10" y2="783.90" stroke="#222" stroke-width="0.8"/>
<line x1="280.50" y1="782.40" x2="280.50" y2="783.90" stroke="#222" stroke-width="0.8"/>
<line x1="281.67" y1="782.40" x2="281.67" y2="783.90" stroke="#222" stroke-width="0.8"/>
<line x1="282.69" y1="782.40" x2="282.69" y2="783.90" stroke="#222" stroke-width="0.8"/>
<line x1="283.59" y1="782.40" x2="283.59" y2="783.90" stroke="#222" stroke-width="0.8"/>
<line x1="285.80" y1="782.40" x2="285.80" y2="785.20" stroke="#222" stroke-width="0.8"/>
<line x1="291.10" y1="782.40" x2="291.10" y2="783.90" stroke="#222" stroke-width="0.8"/>
<line x1="294.20" y1="782.40" x2="294.20" y2="783.90" stroke="#222" stroke-width="0.8"/>
<line x1="296.40" y1="782.40" x2="296.40" y2="783.90" stroke="#222" stroke-width="0.8"/>
<line x1="298.10" y1="782.40" x2="298.10" y2="783.90" stroke="#222" stroke-width="0.8"/>
<line x1="299.50" y1="782.40" x2="299.50" y2="783.90" stroke="#222" stroke-width="0.8"/>
<line x1="300.67" y1="782.40" x2="300.67" y2="783.90" stroke="#222" stroke-width="0.8"/>
<line x1="301.69" y1="782.40" x2="301.69" y2="783.90" stroke="#222" stroke-width="0.8"/>
<line x1="302.59" y1="782.40" x2="302.59" y2="783.90" stroke="#222" stroke-width="0.8"/>
<line x1="303.60" y1="782.40" x2="303.60" y2="785.20" stroke="#222" stroke-width="0.8"/>
<line x1="308.90" y1="782.40" x2="308.90" y2="783.90" stroke="#222" stroke-width="0.8"/>
<line x1="312.00" y1="782.40" x2="312.00" y2="783.90" stroke="#222" stroke-width="0.8"/>
<line x1="314.20" y1="782.40" x2="314.20" y2="783.90" stroke="#222" stroke-width="0.8"/>
<line x1="315.90" y1="782.40" x2="315.90" y2="783.90" stroke="#222" stroke-width="0.8"/>
<line x1="317.30" y1="782.40" x2="317.30" y2="783.90" stroke="#222" stroke-width="0.8"/>
<line x1="318.47" y1="782.40" x2="318.47" y2="783.90" stroke="#222" stroke-width="0.8"/>
<line x1="319.49" y1="782.40" x2="319.49" y2="783.90" stroke="#222" stroke-width="0.8"/>
<line x1="320.39" y1="782.40" x2="320.39" y2="783.90" stroke="#222" stroke-width="0.8"/>
<line x1="320.80" y1="782.40" x2="320.80" y2="785.20" stroke="#222" stroke-width="0.8"/>
<line x1="255.20" y1="782.40" x2="255.20" y2="784.00" stroke="#222" stroke-width="0.8"/>
<line x1="257.40" y1="782.40" x2="257.40" y2="784.00" stroke="#222" stroke-width="0.8"/>
<line x1="259.70" y1="782.40" x2="259.70" y2="784.00" stroke="#222" stroke-width="0.8"/>
<line x1="262.20" y1="782.40" x2="262.20" y2="784.00" stroke="#222" stroke-width="0.8"/>
<text x="258.60" y="796.20" font-size="7.0" fill="#231f20">0</text>
<text x="262.00" y="796.20" font-size="7.0" fill="#231f20" textLength="7.90" lengthAdjust="spacingAndGlyphs">10</text>
<text x="270.40" y="792.80" font-size="4.6" fill="#231f20">2</text>
<text x="281.80" y="796.20" font-size="7.0" fill="#231f20" textLength="7.90" lengthAdjust="spacingAndGlyphs">10</text>
<text x="290.20" y="792.80" font-size="4.6" fill="#231f20">3</text>
<text x="299.20" y="796.20" font-size="7.0" fill="#231f20" textLength="7.90" lengthAdjust="spacingAndGlyphs">10</text>
<text x="307.60" y="792.80" font-size="4.6" fill="#231f20">4</text>
<text x="315.70" y="796.20" font-size="7.0" fill="#231f20" textLength="7.90" lengthAdjust="spacingAndGlyphs">10</text>
<text x="324.10" y="792.80" font-size="4.6" fill="#231f20">5</text>
<text x="281.85" y="702.90" font-size="10.0" fill="#231f20" textLength="16.80" lengthAdjust="spacingAndGlyphs">CD4</text>
<polygon points="350.5,782.4 350.8,752.5 351.8,752.7 352.7,753.4 353.6,754.4 354.6,755.3 355.6,754.5 356.5,753.9 357.4,754.3 358.4,754.4 359.0,753.6 359.7,752.0 360.3,751.5 360.9,750.3 361.5,750.3 362.0,749.0 362.6,748.2 363.2,747.7 363.8,747.3 364.4,745.8 365.0,745.3 365.6,744.0 365.9,743.0 366.2,742.2 366.6,740.8 366.9,740.3 367.2,739.6 367.5,738.3 367.7,737.4 367.9,736.6 368.1,735.6 368.3,734.0 368.5,733.8 368.7,732.6 368.9,731.6 369.1,730.5 369.4,729.2 369.6,729.1 369.9,727.8 370.1,727.1 370.3,726.3 370.6,725.2 370.8,724.0 371.0,723.5 371.3,722.0 371.5,721.5 371.7,720.1 372.0,719.7 372.2,718.3 372.6,717.6 372.9,715.8 373.2,714.8 373.6,714.1 374.6,713.6 375.5,713.6 376.9,713.6 377.2,715.0 377.5,715.4 377.8,716.5 378.1,717.2 378.4,718.3 378.6,719.3 378.8,720.1 379.0,721.0 379.2,722.2 379.5,723.2 379.7,724.4 379.9,725.2 380.1,726.4 380.3,726.9 380.5,728.2 380.7,729.3 380.9,729.9 381.1,730.3 381.4,732.0 381.6,733.0 381.8,733.9 382.0,734.5 382.2,735.4 382.4,736.6 382.7,737.0 382.9,738.6 383.1,739.3 383.4,739.9 383.6,740.7 383.9,742.4 384.1,743.0 384.2,744.4 384.3,744.4 384.4,746.0 384.5,746.5 384.6,747.2 384.7,748.2 384.8,749.6 384.9,750.6 385.0,751.1 385.6,751.4 386.3,752.7 386.9,753.4 387.8,753.3 388.8,754.3 389.7,754.4 390.1,755.2 390.5,756.7 390.8,757.7 391.2,758.2 391.6,759.1 392.1,760.5 392.6,760.8 393.0,761.5 393.5,762.9 393.7,763.9 393.8,764.3 394.0,765.4 394.2,766.6 394.3,767.8 394.5,768.6 394.6,769.2 394.8,770.0 394.9,771.8 395.1,772.2 395.2,773.8 395.4,774.3 395.6,775.6 395.9,776.1 396.1,777.1 396.4,778.1 397.0,779.1 397.7,780.2 398.3,781.0 399.2,781.5 400.2,781.9 400.2,782.4" fill="#d0d2e3"/>
<polyline points="350.4,781.9 351.1,781.0 351.7,780.1 352.4,779.8 353.0,778.5 353.7,778.1 354.0,777.2 354.2,776.1 354.5,774.9 354.7,774.3 355.0,773.0 355.2,772.4 355.5,771.1 355.7,770.2 356.0,769.5 356.2,768.9 356.5,767.7 356.7,766.4 356.8,765.5 357.0,765.0 357.2,764.3 357.4,763.0 357.5,761.9 357.7,761.4 357.9,759.7 358.1,759.4 358.2,758.0 358.4,757.2 358.5,755.9 358.6,755.0 358.7,754.2 358.8,753.7 358.9,752.2 359.0,751.6 359.1,750.7 359.1,749.5 359.2,748.7 359.3,747.4 359.4,746.4 359.5,745.6 359.6,745.1 359.7,743.9 359.8,742.9 359.9,742.1 360.0,741.2 360.1,740.2 360.2,739.1 360.3,738.6 360.4,737.5 360.5,736.1 360.6,735.5 360.6,734.5 360.7,733.9 360.8,732.8 360.9,731.4 361.0,731.1 361.1,729.4 361.2,728.7 361.3,727.8 361.5,727.1 361.8,725.6 362.0,724.9 362.2,723.6 362.5,723.2 362.7,722.3 363.0,721.2 363.2,720.2 363.7,719.4 364.1,717.8 364.6,716.9 365.0,716.2 365.4,715.3 365.7,714.4 366.1,713.4 366.5,712.6 366.8,713.9 367.1,714.9 367.3,715.5 367.6,716.6 367.9,717.4 368.1,718.0 368.2,719.5 368.4,720.4 368.6,721.6 368.8,722.4 368.9,722.9 369.1,723.9 369.3,725.0 369.4,726.1 369.6,726.5 369.8,727.8 369.9,728.5 370.1,729.4 370.2,730.3 370.4,731.9 370.5,732.3 370.7,733.3 370.8,734.5 370.9,735.3 371.0,736.7 371.1,737.0 371.2,738.2 371.3,739.3 371.4,740.5 371.6,741.4 371.7,742.4 371.8,742.8 371.9,743.9 372.0,744.8 372.1,746.2 372.2,746.8 372.3,748.2 372.5,748.4 372.6,749.3 372.8,750.3 372.9,751.3 373.1,752.5 373.2,753.5 373.4,754.2 373.5,754.9 373.7,756.2 373.8,757.1 374.0,758.2 374.1,759.1 374.3,760.5 374.6,761.2 374.8,762.0 375.1,763.0 375.3,764.0 375.5,764.4 375.8,766.1 376.0,767.0 376.3,768.0 376.5,768.6 376.9,769.8 377.2,770.4 377.6,771.4 377.9,772.0 378.2,773.5 378.6,773.9 378.9,774.9 379.3,776.2 380.1,776.6 380.8,777.2 381.6,778.0 382.3,778.4 383.1,779.5 384.1,779.5 385.0,780.1 385.9,780.6 386.9,781.4 387.9,781.4 388.9,781.2 390.0,782.1 391.0,782.0 392.0,782.0" fill="none" stroke="#7bbd4c" stroke-width="1.0" stroke-linejoin="round"/>
<polyline points="350.8,752.5 351.8,752.7 352.7,753.4 353.6,754.4 354.6,755.3 355.6,754.5 356.5,753.9 357.4,754.3 358.4,754.4 359.0,753.6 359.7,752.0 360.3,751.5 360.9,750.3 361.5,750.3 362.0,749.0 362.6,748.2 363.2,747.7 363.8,747.3 364.4,745.8 365.0,745.3 365.6,744.0 365.9,743.0 366.2,742.2 366.6,740.8 366.9,740.3 367.2,739.6 367.5,738.3 367.7,737.4 367.9,736.6 368.1,735.6 368.3,734.0 368.5,733.8 368.7,732.6 368.9,731.6 369.1,730.5 369.4,729.2 369.6,729.1 369.9,727.8 370.1,727.1 370.3,726.3 370.6,725.2 370.8,724.0 371.0,723.5 371.3,722.0 371.5,721.5 371.7,720.1 372.0,719.7 372.2,718.3 372.6,717.6 372.9,715.8 373.2,714.8 373.6,714.1 374.6,713.6 375.5,713.6 376.9,713.6 377.2,715.0 377.5,715.4 377.8,716.5 378.1,717.2 378.4,718.3 378.6,719.3 378.8,720.1 379.0,721.0 379.2,722.2 379.5,723.2 379.7,724.4 379.9,725.2 380.1,726.4 380.3,726.9 380.5,728.2 380.7,729.3 380.9,729.9 381.1,730.3 381.4,732.0 381.6,733.0 381.8,733.9 382.0,734.5 382.2,735.4 382.4,736.6 382.7,737.0 382.9,738.6 383.1,739.3 383.4,739.9 383.6,740.7 383.9,742.4 384.1,743.0 384.2,744.4 384.3,744.4 384.4,746.0 384.5,746.5 384.6,747.2 384.7,748.2 384.8,749.6 384.9,750.6 385.0,751.1 385.6,751.4 386.3,752.7 386.9,753.4 387.8,753.3 388.8,754.3 389.7,754.4 390.1,755.2 390.5,756.7 390.8,757.7 391.2,758.2 391.6,759.1 392.1,760.5 392.6,760.8 393.0,761.5 393.5,762.9 393.7,763.9 393.8,764.3 394.0,765.4 394.2,766.6 394.3,767.8 394.5,768.6 394.6,769.2 394.8,770.0 394.9,771.8 395.1,772.2 395.2,773.8 395.4,774.3 395.6,775.6 395.9,776.1 396.1,777.1 396.4,778.1 397.0,779.1 397.7,780.2 398.3,781.0 399.2,781.5 400.2,781.9" fill="none" stroke="#3a5b9c" stroke-width="1.05" stroke-linejoin="round"/>
<polyline points="350.5,709.5 350.4,764.8 351.8,765.8 352.4,765.0 353.1,764.1 353.7,762.9 354.6,763.2 355.6,762.9 356.6,762.9 357.5,762.0 357.9,761.3 358.3,760.5 358.6,758.6 359.0,758.1 359.4,757.2 359.8,756.8 360.2,755.7 360.6,755.2 361.0,753.6 361.4,753.1 361.8,752.1 362.2,751.5 362.6,750.6 363.0,749.7 363.4,748.2 363.8,747.4 364.2,746.5 364.6,745.8 364.9,745.3 365.2,744.2 365.5,742.6 365.8,742.3 366.1,740.8 366.4,740.3 366.7,738.9 367.0,738.3 367.2,736.9 367.4,736.8 367.5,735.2 367.7,734.2 367.9,734.0 368.0,733.0 368.2,731.4 368.4,730.7 368.8,730.2 369.2,728.8 369.5,728.0 369.9,726.6 370.3,725.9 370.5,725.4 370.8,724.2 371.0,723.5 371.2,722.5 371.5,720.9 371.7,720.2 371.9,719.1 372.1,718.0 372.3,717.0 372.5,716.0 372.7,715.3 372.9,714.6 373.1,713.6 374.1,712.6 375.0,712.6 375.9,713.3 376.9,713.6 377.2,714.4 377.5,715.3 377.8,716.7 378.1,717.3 378.4,718.3 378.6,719.1 378.9,720.2 379.1,721.4 379.4,721.7 379.6,723.5 379.8,723.5 380.1,725.2 380.3,725.9 380.5,727.2 380.8,727.3 381.0,729.0 381.2,729.6 381.5,730.7 381.7,731.1 382.0,732.1 382.2,733.5 382.4,734.1 382.6,735.9 382.8,736.1 383.0,737.6 383.3,738.7 383.5,739.7 383.7,740.0 383.9,741.0 384.1,742.1 384.2,743.1 384.4,744.3 384.5,744.5 384.6,746.1 384.7,747.1 384.9,748.1 385.0,748.7 385.3,749.2 385.6,751.0 385.8,751.1 386.1,752.3 386.4,753.4 386.6,754.5 386.8,755.7 387.0,756.1 387.2,757.7 387.4,758.2 387.6,759.0 387.8,760.1 388.1,760.9 388.3,761.7 388.6,762.5 388.8,763.5 389.1,765.0 389.3,765.8 389.5,767.2 389.8,767.4 390.0,768.2 390.2,770.1 390.5,770.6 390.7,771.5 391.1,772.3 391.5,773.1 391.8,774.4 392.2,775.6 392.6,776.2 393.6,777.1 394.5,778.1 395.4,778.7 396.4,778.9 397.3,780.0 398.2,780.9 399.2,780.5 400.2,781.4 401.1,781.9" fill="none" stroke="#c8173e" stroke-width="1.05" stroke-linejoin="round"/>
<line x1="385.60" y1="772.40" x2="424.00" y2="772.40" stroke="#333" stroke-width="1.1"/>
<line x1="385.60" y1="770.80" x2="385.60" y2="774.00" stroke="#333" stroke-width="1.0"/>
<rect x="350.00" y="708.40" width="74.00" height="74.00" fill="none" stroke="#111" stroke-width="1.45"/>
<line x1="350.10" y1="709.40" x2="350.10" y2="781.40" stroke="#5a0c22" stroke-width="0.9"/>
<line x1="346.40" y1="782.40" x2="350.00" y2="782.40" stroke="#222" stroke-width="0.8"/>
<line x1="348.20" y1="779.58" x2="350.00" y2="779.58" stroke="#222" stroke-width="0.8"/>
<line x1="348.20" y1="776.75" x2="350.00" y2="776.75" stroke="#222" stroke-width="0.8"/>
<line x1="348.20" y1="773.93" x2="350.00" y2="773.93" stroke="#222" stroke-width="0.8"/>
<line x1="348.20" y1="771.10" x2="350.00" y2="771.10" stroke="#222" stroke-width="0.8"/>
<line x1="346.40" y1="768.28" x2="350.00" y2="768.28" stroke="#222" stroke-width="0.8"/>
<line x1="348.20" y1="765.46" x2="350.00" y2="765.46" stroke="#222" stroke-width="0.8"/>
<line x1="348.20" y1="762.63" x2="350.00" y2="762.63" stroke="#222" stroke-width="0.8"/>
<line x1="348.20" y1="759.81" x2="350.00" y2="759.81" stroke="#222" stroke-width="0.8"/>
<line x1="348.20" y1="756.98" x2="350.00" y2="756.98" stroke="#222" stroke-width="0.8"/>
<line x1="346.40" y1="754.16" x2="350.00" y2="754.16" stroke="#222" stroke-width="0.8"/>
<line x1="348.20" y1="751.34" x2="350.00" y2="751.34" stroke="#222" stroke-width="0.8"/>
<line x1="348.20" y1="748.51" x2="350.00" y2="748.51" stroke="#222" stroke-width="0.8"/>
<line x1="348.20" y1="745.69" x2="350.00" y2="745.69" stroke="#222" stroke-width="0.8"/>
<line x1="348.20" y1="742.86" x2="350.00" y2="742.86" stroke="#222" stroke-width="0.8"/>
<line x1="346.40" y1="740.04" x2="350.00" y2="740.04" stroke="#222" stroke-width="0.8"/>
<line x1="348.20" y1="737.22" x2="350.00" y2="737.22" stroke="#222" stroke-width="0.8"/>
<line x1="348.20" y1="734.39" x2="350.00" y2="734.39" stroke="#222" stroke-width="0.8"/>
<line x1="348.20" y1="731.57" x2="350.00" y2="731.57" stroke="#222" stroke-width="0.8"/>
<line x1="348.20" y1="728.74" x2="350.00" y2="728.74" stroke="#222" stroke-width="0.8"/>
<line x1="346.40" y1="725.92" x2="350.00" y2="725.92" stroke="#222" stroke-width="0.8"/>
<line x1="348.20" y1="723.10" x2="350.00" y2="723.10" stroke="#222" stroke-width="0.8"/>
<line x1="348.20" y1="720.27" x2="350.00" y2="720.27" stroke="#222" stroke-width="0.8"/>
<line x1="348.20" y1="717.45" x2="350.00" y2="717.45" stroke="#222" stroke-width="0.8"/>
<line x1="348.20" y1="714.62" x2="350.00" y2="714.62" stroke="#222" stroke-width="0.8"/>
<line x1="346.40" y1="711.80" x2="350.00" y2="711.80" stroke="#222" stroke-width="0.8"/>
<text x="342.30" y="784.80" font-size="6.6" fill="#231f20" text-anchor="end">0</text>
<text x="342.30" y="770.68" font-size="6.6" fill="#231f20" text-anchor="end">20</text>
<text x="342.30" y="756.56" font-size="6.6" fill="#231f20" text-anchor="end">40</text>
<text x="342.30" y="742.44" font-size="6.6" fill="#231f20" text-anchor="end">60</text>
<text x="342.30" y="728.32" font-size="6.6" fill="#231f20" text-anchor="end">80</text>
<text x="342.30" y="714.20" font-size="6.6" fill="#231f20" text-anchor="end">100</text>
<line x1="363.60" y1="782.40" x2="363.60" y2="785.20" stroke="#222" stroke-width="0.8"/>
<line x1="368.90" y1="782.40" x2="368.90" y2="783.90" stroke="#222" stroke-width="0.8"/>
<line x1="372.00" y1="782.40" x2="372.00" y2="783.90" stroke="#222" stroke-width="0.8"/>
<line x1="374.20" y1="782.40" x2="374.20" y2="783.90" stroke="#222" stroke-width="0.8"/>
<line x1="375.90" y1="782.40" x2="375.90" y2="783.90" stroke="#222" stroke-width="0.8"/>
<line x1="377.30" y1="782.40" x2="377.30" y2="783.90" stroke="#222" stroke-width="0.8"/>
<line x1="378.47" y1="782.40" x2="378.47" y2="783.90" stroke="#222" stroke-width="0.8"/>
<line x1="379.49" y1="782.40" x2="379.49" y2="783.90" stroke="#222" stroke-width="0.8"/>
<line x1="380.39" y1="782.40" x2="380.39" y2="783.90" stroke="#222" stroke-width="0.8"/>
<line x1="382.60" y1="782.40" x2="382.60" y2="785.20" stroke="#222" stroke-width="0.8"/>
<line x1="387.90" y1="782.40" x2="387.90" y2="783.90" stroke="#222" stroke-width="0.8"/>
<line x1="391.00" y1="782.40" x2="391.00" y2="783.90" stroke="#222" stroke-width="0.8"/>
<line x1="393.20" y1="782.40" x2="393.20" y2="783.90" stroke="#222" stroke-width="0.8"/>
<line x1="394.90" y1="782.40" x2="394.90" y2="783.90" stroke="#222" stroke-width="0.8"/>
<line x1="396.30" y1="782.40" x2="396.30" y2="783.90" stroke="#222" stroke-width="0.8"/>
<line x1="397.47" y1="782.40" x2="397.47" y2="783.90" stroke="#222" stroke-width="0.8"/>
<line x1="398.49" y1="782.40" x2="398.49" y2="783.90" stroke="#222" stroke-width="0.8"/>
<line x1="399.39" y1="782.40" x2="399.39" y2="783.90" stroke="#222" stroke-width="0.8"/>
<line x1="400.40" y1="782.40" x2="400.40" y2="785.20" stroke="#222" stroke-width="0.8"/>
<line x1="405.70" y1="782.40" x2="405.70" y2="783.90" stroke="#222" stroke-width="0.8"/>
<line x1="408.80" y1="782.40" x2="408.80" y2="783.90" stroke="#222" stroke-width="0.8"/>
<line x1="411.00" y1="782.40" x2="411.00" y2="783.90" stroke="#222" stroke-width="0.8"/>
<line x1="412.70" y1="782.40" x2="412.70" y2="783.90" stroke="#222" stroke-width="0.8"/>
<line x1="414.10" y1="782.40" x2="414.10" y2="783.90" stroke="#222" stroke-width="0.8"/>
<line x1="415.27" y1="782.40" x2="415.27" y2="783.90" stroke="#222" stroke-width="0.8"/>
<line x1="416.29" y1="782.40" x2="416.29" y2="783.90" stroke="#222" stroke-width="0.8"/>
<line x1="417.19" y1="782.40" x2="417.19" y2="783.90" stroke="#222" stroke-width="0.8"/>
<line x1="417.60" y1="782.40" x2="417.60" y2="785.20" stroke="#222" stroke-width="0.8"/>
<line x1="352.00" y1="782.40" x2="352.00" y2="784.00" stroke="#222" stroke-width="0.8"/>
<line x1="354.20" y1="782.40" x2="354.20" y2="784.00" stroke="#222" stroke-width="0.8"/>
<line x1="356.50" y1="782.40" x2="356.50" y2="784.00" stroke="#222" stroke-width="0.8"/>
<line x1="359.00" y1="782.40" x2="359.00" y2="784.00" stroke="#222" stroke-width="0.8"/>
<text x="355.40" y="796.20" font-size="7.0" fill="#231f20">0</text>
<text x="358.80" y="796.20" font-size="7.0" fill="#231f20" textLength="7.90" lengthAdjust="spacingAndGlyphs">10</text>
<text x="367.20" y="792.80" font-size="4.6" fill="#231f20">2</text>
<text x="378.60" y="796.20" font-size="7.0" fill="#231f20" textLength="7.90" lengthAdjust="spacingAndGlyphs">10</text>
<text x="387.00" y="792.80" font-size="4.6" fill="#231f20">3</text>
<text x="396.00" y="796.20" font-size="7.0" fill="#231f20" textLength="7.90" lengthAdjust="spacingAndGlyphs">10</text>
<text x="404.40" y="792.80" font-size="4.6" fill="#231f20">4</text>
<text x="412.50" y="796.20" font-size="7.0" fill="#231f20" textLength="7.90" lengthAdjust="spacingAndGlyphs">10</text>
<text x="420.90" y="792.80" font-size="4.6" fill="#231f20">5</text>
<text x="378.70" y="702.90" font-size="10.0" fill="#231f20" textLength="16.80" lengthAdjust="spacingAndGlyphs">CD8</text>
<line x1="229.40" y1="630.00" x2="229.40" y2="580.70" stroke="#111" stroke-width="1.3"/>
<polygon points="229.4,572.2 225.6,581.0 229.4,579.3000000000001 233.2,581.0" fill="#111"/>
<text x="232.00" y="640.90" font-size="10.4" fill="#231f20" transform="rotate(-90 232.00 640.90)">%</text>
<line x1="229.40" y1="770.00" x2="229.40" y2="720.70" stroke="#111" stroke-width="1.3"/>
<polygon points="229.4,712.2 225.6,721.0 229.4,719.3000000000001 233.2,721.0" fill="#111"/>
<text x="232.00" y="780.90" font-size="10.4" fill="#231f20" transform="rotate(-90 232.00 780.90)">%</text>
<text x="243.60" y="667.90" font-size="10.2" fill="#231f20" textLength="34.80" lengthAdjust="spacingAndGlyphs">LPAM-1</text>
<line x1="280.30" y1="665.40" x2="420.00" y2="665.40" stroke="#111" stroke-width="1.2"/>
<polygon points="425.9,665.4 417.2,661.6 419.6,665.4 417.2,669.3" fill="#111"/>
<text x="248.60" y="810.30" font-size="10.2" fill="#231f20" textLength="25.40" lengthAdjust="spacingAndGlyphs">CCR9</text>
<line x1="277.70" y1="806.90" x2="420.00" y2="806.90" stroke="#111" stroke-width="1.2"/>
<polygon points="425.9,806.9 417.2,803.1 419.6,806.9 417.2,810.8" fill="#111"/>
<clipPath id="c1"><rect x="51.2" y="289.4" width="135.5" height="90.7"/></clipPath><g clip-path="url(#c1)">
<rect x="51.2" y="289.4" width="135.5" height="90.70000000000005" fill="#ebe8f0"/>
<polygon points="87,289 108.5,289 104,310.2 97.7,331.3 94,342 88,346 83,340 84,309" fill="#fbfbfd" stroke="#ece9f2" stroke-width="1.2" stroke-linejoin="round"/>
<circle cx="94.5" cy="320.9" r="3.7" fill="#fefefe" stroke="#c2bed3" stroke-width="0.45"/>
<circle cx="94.9" cy="317.9" r="3.1" fill="#fefefe" stroke="#c2bed3" stroke-width="0.45"/>
<circle cx="87.7" cy="318.2" r="3.2" fill="#fefefe" stroke="#c2bed3" stroke-width="0.45"/>
<circle cx="103.2" cy="294.4" r="2.7" fill="#fefefe" stroke="#c2bed3" stroke-width="0.45"/>
<circle cx="85.3" cy="335.1" r="3.3" fill="#fefefe" stroke="#c2bed3" stroke-width="0.45"/>
<circle cx="98.7" cy="298.0" r="2.2" fill="#fefefe" stroke="#c2bed3" stroke-width="0.45"/>
<circle cx="96.5" cy="292.4" r="2.5" fill="#fefefe" stroke="#c2bed3" stroke-width="0.45"/>
<circle cx="89.2" cy="290.7" r="2.9" fill="#fefefe" stroke="#c2bed3" stroke-width="0.45"/>
<circle cx="94.2" cy="337.0" r="3.0" fill="#fefefe" stroke="#c2bed3" stroke-width="0.45"/>
<circle cx="99.3" cy="317.5" r="3.3" fill="#fefefe" stroke="#c2bed3" stroke-width="0.45"/>
<circle cx="94.7" cy="304.9" r="3.8" fill="#fefefe" stroke="#c2bed3" stroke-width="0.45"/>
<circle cx="101.0" cy="307.0" r="2.6" fill="#fefefe" stroke="#c2bed3" stroke-width="0.45"/>
<circle cx="90.4" cy="293.0" r="3.4" fill="#fefefe" stroke="#c2bed3" stroke-width="0.45"/>
<circle cx="93.2" cy="337.3" r="2.8" fill="#fefefe" stroke="#c2bed3" stroke-width="0.45"/>
<circle cx="84.9" cy="324.9" r="3.4" fill="#fefefe" stroke="#c2bed3" stroke-width="0.45"/>
<circle cx="89.9" cy="294.0" r="2.7" fill="#fefefe" stroke="#c2bed3" stroke-width="0.45"/>
<circle cx="86.0" cy="303.0" r="2.4" fill="#fefefe" stroke="#c2bed3" stroke-width="0.45"/>
<circle cx="84.5" cy="334.4" r="2.5" fill="#fefefe" stroke="#c2bed3" stroke-width="0.45"/>
<circle cx="97.3" cy="314.5" r="2.5" fill="#fefefe" stroke="#c2bed3" stroke-width="0.45"/>
<circle cx="101.7" cy="296.5" r="3.2" fill="#fefefe" stroke="#c2bed3" stroke-width="0.45"/>
<circle cx="86.0" cy="313.0" r="2.5" fill="#fefefe" stroke="#c2bed3" stroke-width="0.45"/>
<circle cx="89.9" cy="344.3" r="3.5" fill="#fefefe" stroke="#c2bed3" stroke-width="0.45"/>
<circle cx="90.8" cy="339.4" r="2.5" fill="#fefefe" stroke="#c2bed3" stroke-width="0.45"/>
<circle cx="93.1" cy="337.7" r="3.2" fill="#fefefe" stroke="#c2bed3" stroke-width="0.45"/>
<circle cx="88.4" cy="303.7" r="3.4" fill="#fefefe" stroke="#c2bed3" stroke-width="0.45"/>
<circle cx="91.4" cy="305.9" r="2.3" fill="#fefefe" stroke="#c2bed3" stroke-width="0.45"/>
<circle cx="85.3" cy="322.2" r="2.6" fill="#fefefe" stroke="#c2bed3" stroke-width="0.45"/>
<circle cx="98.3" cy="310.2" r="2.9" fill="#fefefe" stroke="#c2bed3" stroke-width="0.45"/>
<circle cx="87.7" cy="297.8" r="3.7" fill="#fefefe" stroke="#c2bed3" stroke-width="0.45"/>
<circle cx="103.9" cy="303.2" r="2.5" fill="#fefefe" stroke="#c2bed3" stroke-width="0.45"/>
<polygon points="111.5,289 130.5,289 126.2,310.2 120.9,331.3 118,343 112,348 104,345 100.7,331.3 107,310.2" fill="#fbfbfd" stroke="#ece9f2" stroke-width="1.2" stroke-linejoin="round"/>
<circle cx="106.6" cy="345.1" r="3.6" fill="#fefefe" stroke="#c2bed3" stroke-width="0.45"/>
<circle cx="118.7" cy="313.9" r="2.4" fill="#fefefe" stroke="#c2bed3" stroke-width="0.45"/>
<circle cx="107.8" cy="330.6" r="2.6" fill="#fefefe" stroke="#c2bed3" stroke-width="0.45"/>
<circle cx="109.4" cy="299.4" r="3.4" fill="#fefefe" stroke="#c2bed3" stroke-width="0.45"/>
<circle cx="117.4" cy="339.3" r="3.2" fill="#fefefe" stroke="#c2bed3" stroke-width="0.45"/>
<circle cx="109.1" cy="343.1" r="2.5" fill="#fefefe" stroke="#c2bed3" stroke-width="0.45"/>
<circle cx="114.0" cy="292.6" r="2.5" fill="#fefefe" stroke="#c2bed3" stroke-width="0.45"/>
<circle cx="111.7" cy="322.8" r="2.4" fill="#fefefe" stroke="#c2bed3" stroke-width="0.45"/>
<circle cx="111.5" cy="341.6" r="3.8" fill="#fefefe" stroke="#c2bed3" stroke-width="0.45"/>
<circle cx="120.3" cy="329.8" r="3.1" fill="#fefefe" stroke="#c2bed3" stroke-width="0.45"/>
<circle cx="115.1" cy="332.1" r="2.7" fill="#fefefe" stroke="#c2bed3" stroke-width="0.45"/>
<circle cx="117.0" cy="332.5" r="3.6" fill="#fefefe" stroke="#c2bed3" stroke-width="0.45"/>
<circle cx="111.2" cy="329.4" r="3.6" fill="#fefefe" stroke="#c2bed3" stroke-width="0.45"/>
<circle cx="117.8" cy="325.9" r="2.8" fill="#fefefe" stroke="#c2bed3" stroke-width="0.45"/>
<circle cx="118.1" cy="324.9" r="2.3" fill="#fefefe" stroke="#c2bed3" stroke-width="0.45"/>
<circle cx="112.3" cy="332.4" r="3.1" fill="#fefefe" stroke="#c2bed3" stroke-width="0.45"/>
<circle cx="113.8" cy="338.5" r="2.3" fill="#fefefe" stroke="#c2bed3" stroke-width="0.45"/>
<circle cx="123.1" cy="290.8" r="3.2" fill="#fefefe" stroke="#c2bed3" stroke-width="0.45"/>
<circle cx="115.0" cy="302.6" r="3.3" fill="#fefefe" stroke="#c2bed3" stroke-width="0.45"/>
<circle cx="115.5" cy="325.3" r="3.7" fill="#fefefe" stroke="#c2bed3" stroke-width="0.45"/>
<circle cx="109.7" cy="329.0" r="2.5" fill="#fefefe" stroke="#c2bed3" stroke-width="0.45"/>
<circle cx="105.8" cy="342.4" r="3.3" fill="#fefefe" stroke="#c2bed3" stroke-width="0.45"/>
<circle cx="113.9" cy="341.6" r="2.7" fill="#fefefe" stroke="#c2bed3" stroke-width="0.45"/>
<circle cx="120.5" cy="300.7" r="2.9" fill="#fefefe" stroke="#c2bed3" stroke-width="0.45"/>
<circle cx="118.1" cy="307.7" r="2.4" fill="#fefefe" stroke="#c2bed3" stroke-width="0.45"/>
<circle cx="115.5" cy="338.4" r="3.6" fill="#fefefe" stroke="#c2bed3" stroke-width="0.45"/>
<circle cx="114.1" cy="305.2" r="2.5" fill="#fefefe" stroke="#c2bed3" stroke-width="0.45"/>
<circle cx="113.0" cy="325.9" r="3.0" fill="#fefefe" stroke="#c2bed3" stroke-width="0.45"/>
<circle cx="110.1" cy="338.5" r="3.8" fill="#fefefe" stroke="#c2bed3" stroke-width="0.45"/>
<circle cx="114.2" cy="293.4" r="2.3" fill="#fefefe" stroke="#c2bed3" stroke-width="0.45"/>
<polygon points="133.5,289 149.5,289 144.2,310.2 137.8,331.3 134,341 128,344 124,338 129.2,310.2" fill="#fbfbfd" stroke="#ece9f2" stroke-width="1.2" stroke-linejoin="round"/>
<circle cx="146.3" cy="291.3" r="3.3" fill="#fefefe" stroke="#c2bed3" stroke-width="0.45"/>
<circle cx="138.5" cy="306.0" r="3.5" fill="#fefefe" stroke="#c2bed3" stroke-width="0.45"/>
<circle cx="135.6" cy="290.4" r="3.5" fill="#fefefe" stroke="#c2bed3" stroke-width="0.45"/>
<circle cx="135.4" cy="323.6" r="3.2" fill="#fefefe" stroke="#c2bed3" stroke-width="0.45"/>
<circle cx="141.5" cy="300.0" r="3.0" fill="#fefefe" stroke="#c2bed3" stroke-width="0.45"/>
<circle cx="136.0" cy="328.3" r="2.5" fill="#fefefe" stroke="#c2bed3" stroke-width="0.45"/>
<circle cx="130.9" cy="308.0" r="3.3" fill="#fefefe" stroke="#c2bed3" stroke-width="0.45"/>
<circle cx="137.3" cy="322.8" r="3.4" fill="#fefefe" stroke="#c2bed3" stroke-width="0.45"/>
<circle cx="134.0" cy="332.6" r="3.6" fill="#fefefe" stroke="#c2bed3" stroke-width="0.45"/>
<circle cx="126.2" cy="340.3" r="3.4" fill="#fefefe" stroke="#c2bed3" stroke-width="0.45"/>
<circle cx="133.6" cy="320.3" r="3.6" fill="#fefefe" stroke="#c2bed3" stroke-width="0.45"/>
<circle cx="135.8" cy="324.8" r="2.5" fill="#fefefe" stroke="#c2bed3" stroke-width="0.45"/>
<circle cx="129.4" cy="338.5" r="3.8" fill="#fefefe" stroke="#c2bed3" stroke-width="0.45"/>
<circle cx="144.2" cy="306.6" r="3.7" fill="#fefefe" stroke="#c2bed3" stroke-width="0.45"/>
<circle cx="136.4" cy="290.6" r="3.5" fill="#fefefe" stroke="#c2bed3" stroke-width="0.45"/>
<circle cx="125.6" cy="333.0" r="2.5" fill="#fefefe" stroke="#c2bed3" stroke-width="0.45"/>
<circle cx="132.5" cy="332.3" r="2.4" fill="#fefefe" stroke="#c2bed3" stroke-width="0.45"/>
<circle cx="137.4" cy="305.0" r="3.4" fill="#fefefe" stroke="#c2bed3" stroke-width="0.45"/>
<circle cx="140.3" cy="317.8" r="3.5" fill="#fefefe" stroke="#c2bed3" stroke-width="0.45"/>
<circle cx="138.3" cy="306.1" r="2.8" fill="#fefefe" stroke="#c2bed3" stroke-width="0.45"/>
<circle cx="129.3" cy="335.8" r="3.7" fill="#fefefe" stroke="#c2bed3" stroke-width="0.45"/>
<circle cx="137.4" cy="320.5" r="2.5" fill="#fefefe" stroke="#c2bed3" stroke-width="0.45"/>
<circle cx="137.7" cy="316.7" r="3.2" fill="#fefefe" stroke="#c2bed3" stroke-width="0.45"/>
<circle cx="137.2" cy="311.0" r="3.5" fill="#fefefe" stroke="#c2bed3" stroke-width="0.45"/>
<circle cx="138.4" cy="316.0" r="3.3" fill="#fefefe" stroke="#c2bed3" stroke-width="0.45"/>
<circle cx="136.1" cy="296.0" r="2.9" fill="#fefefe" stroke="#c2bed3" stroke-width="0.45"/>
<circle cx="136.2" cy="306.4" r="2.5" fill="#fefefe" stroke="#c2bed3" stroke-width="0.45"/>
<circle cx="127.3" cy="331.9" r="2.2" fill="#fefefe" stroke="#c2bed3" stroke-width="0.45"/>
<circle cx="141.5" cy="306.7" r="2.8" fill="#fefefe" stroke="#c2bed3" stroke-width="0.45"/>
<circle cx="139.8" cy="294.8" r="3.4" fill="#fefefe" stroke="#c2bed3" stroke-width="0.45"/>
<polygon points="152.5,289 167.5,289 165.4,310.2 161,331.3 156,338 148,340 141,331.3 147.2,310.2" fill="#fbfbfd" stroke="#ece9f2" stroke-width="1.2" stroke-linejoin="round"/>
<circle cx="155.1" cy="311.3" r="2.8" fill="#fefefe" stroke="#c2bed3" stroke-width="0.45"/>
<circle cx="152.0" cy="316.0" r="2.5" fill="#fefefe" stroke="#c2bed3" stroke-width="0.45"/>
<circle cx="146.4" cy="321.2" r="3.2" fill="#fefefe" stroke="#c2bed3" stroke-width="0.45"/>
<circle cx="155.0" cy="332.4" r="3.2" fill="#fefefe" stroke="#c2bed3" stroke-width="0.45"/>
<circle cx="163.7" cy="300.9" r="3.4" fill="#fefefe" stroke="#c2bed3" stroke-width="0.45"/>
<circle cx="149.4" cy="305.1" r="3.7" fill="#fefefe" stroke="#c2bed3" stroke-width="0.45"/>
<circle cx="164.5" cy="295.8" r="2.6" fill="#fefefe" stroke="#c2bed3" stroke-width="0.45"/>
<circle cx="160.3" cy="302.2" r="2.4" fill="#fefefe" stroke="#c2bed3" stroke-width="0.45"/>
<circle cx="163.1" cy="310.5" r="3.5" fill="#fefefe" stroke="#c2bed3" stroke-width="0.45"/>
<circle cx="159.2" cy="289.9" r="2.5" fill="#fefefe" stroke="#c2bed3" stroke-width="0.45"/>
<circle cx="166.7" cy="294.9" r="3.0" fill="#fefefe" stroke="#c2bed3" stroke-width="0.45"/>
<circle cx="161.1" cy="314.6" r="3.3" fill="#fefefe" stroke="#c2bed3" stroke-width="0.45"/>
<circle cx="155.6" cy="315.3" r="3.1" fill="#fefefe" stroke="#c2bed3" stroke-width="0.45"/>
<circle cx="146.4" cy="331.9" r="3.8" fill="#fefefe" stroke="#c2bed3" stroke-width="0.45"/>
<circle cx="165.6" cy="293.9" r="2.3" fill="#fefefe" stroke="#c2bed3" stroke-width="0.45"/>
<circle cx="161.3" cy="305.7" r="2.9" fill="#fefefe" stroke="#c2bed3" stroke-width="0.45"/>
<circle cx="154.7" cy="310.9" r="3.2" fill="#fefefe" stroke="#c2bed3" stroke-width="0.45"/>
<circle cx="163.4" cy="298.2" r="2.9" fill="#fefefe" stroke="#c2bed3" stroke-width="0.45"/>
<circle cx="160.6" cy="309.7" r="2.5" fill="#fefefe" stroke="#c2bed3" stroke-width="0.45"/>
<circle cx="162.2" cy="324.9" r="3.6" fill="#fefefe" stroke="#c2bed3" stroke-width="0.45"/>
<circle cx="157.7" cy="309.6" r="3.2" fill="#fefefe" stroke="#c2bed3" stroke-width="0.45"/>
<circle cx="162.3" cy="302.2" r="3.7" fill="#fefefe" stroke="#c2bed3" stroke-width="0.45"/>
<circle cx="160.7" cy="328.7" r="3.5" fill="#fefefe" stroke="#c2bed3" stroke-width="0.45"/>
<circle cx="151.7" cy="334.7" r="3.6" fill="#fefefe" stroke="#c2bed3" stroke-width="0.45"/>
<circle cx="159.4" cy="328.1" r="3.4" fill="#fefefe" stroke="#c2bed3" stroke-width="0.45"/>
<circle cx="151.8" cy="325.9" r="2.3" fill="#fefefe" stroke="#c2bed3" stroke-width="0.45"/>
<circle cx="150.1" cy="312.9" r="2.2" fill="#fefefe" stroke="#c2bed3" stroke-width="0.45"/>
<circle cx="150.4" cy="321.6" r="3.2" fill="#fefefe" stroke="#c2bed3" stroke-width="0.45"/>
<circle cx="147.2" cy="337.2" r="3.3" fill="#fefefe" stroke="#c2bed3" stroke-width="0.45"/>
<circle cx="150.0" cy="322.6" r="3.1" fill="#fefefe" stroke="#c2bed3" stroke-width="0.45"/>
<ellipse cx="135.5" cy="357.9" rx="6.2" ry="3.9" fill="#d7b39c" fill-opacity="0.28"/>
<ellipse cx="151.1" cy="371.9" rx="3.1" ry="2.9" fill="#d7b39c" fill-opacity="0.28"/>
<ellipse cx="178.4" cy="350.6" rx="6.6" ry="2.2" fill="#d7b39c" fill-opacity="0.28"/>
<ellipse cx="124.9" cy="344.8" rx="3.1" ry="2.4" fill="#d7b39c" fill-opacity="0.28"/>
<ellipse cx="89.5" cy="371.5" rx="6.1" ry="2.3" fill="#d7b39c" fill-opacity="0.28"/>
<ellipse cx="52.2" cy="368.0" rx="3.8" ry="2.4" fill="#d7b39c" fill-opacity="0.28"/>
<ellipse cx="183.6" cy="368.0" rx="4.2" ry="3.9" fill="#d7b39c" fill-opacity="0.28"/>
<ellipse cx="124.3" cy="352.9" rx="3.8" ry="3.9" fill="#d7b39c" fill-opacity="0.28"/>
<ellipse cx="144.5" cy="375.4" rx="6.6" ry="2.6" fill="#d7b39c" fill-opacity="0.28"/>
<ellipse cx="71.5" cy="305.1" rx="4.2" ry="3.2" fill="#d7b39c" fill-opacity="0.28"/>
<ellipse cx="52.5" cy="352.9" rx="4.4" ry="2.6" fill="#d7b39c" fill-opacity="0.28"/>
<ellipse cx="161.7" cy="337.5" rx="4.3" ry="3.0" fill="#d7b39c" fill-opacity="0.28"/>
<ellipse cx="146.4" cy="304.4" rx="6.9" ry="2.0" fill="#d7b39c" fill-opacity="0.28"/>
<ellipse cx="152.5" cy="365.9" rx="3.1" ry="3.6" fill="#d7b39c" fill-opacity="0.28"/>
<ellipse cx="101.1" cy="345.1" rx="3.0" ry="2.1" fill="#d7b39c" fill-opacity="0.28"/>
<ellipse cx="76.2" cy="374.5" rx="3.8" ry="3.5" fill="#d7b39c" fill-opacity="0.28"/>
<ellipse cx="176.6" cy="373.5" rx="4.4" ry="2.7" fill="#d7b39c" fill-opacity="0.28"/>
<ellipse cx="122.3" cy="360.5" rx="3.4" ry="3.5" fill="#d7b39c" fill-opacity="0.28"/>
<ellipse cx="158.8" cy="367.1" rx="3.1" ry="3.9" fill="#d7b39c" fill-opacity="0.28"/>
<ellipse cx="64.2" cy="326.6" rx="5.4" ry="3.8" fill="#d7b39c" fill-opacity="0.28"/>
<ellipse cx="97.6" cy="372.1" rx="5.2" ry="2.6" fill="#d7b39c" fill-opacity="0.28"/>
<ellipse cx="62.5" cy="311.6" rx="5.8" ry="4.0" fill="#d7b39c" fill-opacity="0.28"/>
<ellipse cx="73.6" cy="303.8" rx="6.9" ry="3.1" fill="#d7b39c" fill-opacity="0.28"/>
<ellipse cx="131.6" cy="364.5" rx="4.8" ry="2.8" fill="#d7b39c" fill-opacity="0.28"/>
<ellipse cx="59.5" cy="371.5" rx="3.1" ry="3.0" fill="#d7b39c" fill-opacity="0.28"/>
<ellipse cx="150.0" cy="374.1" rx="5.5" ry="3.6" fill="#d7b39c" fill-opacity="0.28"/>
<ellipse cx="66.3" cy="333.9" rx="3.6" ry="3.7" fill="#d7b39c" fill-opacity="0.28"/>
<ellipse cx="185.9" cy="366.5" rx="6.9" ry="2.9" fill="#d7b39c" fill-opacity="0.28"/>
<ellipse cx="117.4" cy="356.9" rx="4.9" ry="2.6" fill="#d7b39c" fill-opacity="0.28"/>
<ellipse cx="106.1" cy="311.4" rx="4.5" ry="4.0" fill="#d7b39c" fill-opacity="0.28"/>
<ellipse cx="180.6" cy="348.9" rx="5.0" ry="2.7" fill="#d7b39c" fill-opacity="0.28"/>
<ellipse cx="63.9" cy="321.2" rx="6.1" ry="3.7" fill="#d7b39c" fill-opacity="0.28"/>
<ellipse cx="100.4" cy="361.3" rx="6.1" ry="3.4" fill="#d7b39c" fill-opacity="0.28"/>
<ellipse cx="141.0" cy="359.3" rx="4.5" ry="3.4" fill="#d7b39c" fill-opacity="0.28"/>
<ellipse cx="155.1" cy="353.9" rx="4.2" ry="3.9" fill="#d7b39c" fill-opacity="0.28"/>
<ellipse cx="139.1" cy="345.3" rx="3.0" ry="3.1" fill="#d7b39c" fill-opacity="0.28"/>
<ellipse cx="85.6" cy="352.4" rx="4.9" ry="3.6" fill="#d7b39c" fill-opacity="0.28"/>
<ellipse cx="138.8" cy="362.2" rx="4.4" ry="3.3" fill="#d7b39c" fill-opacity="0.28"/>
<ellipse cx="150.9" cy="364.6" rx="4.4" ry="3.7" fill="#d7b39c" fill-opacity="0.28"/>
<ellipse cx="168.6" cy="353.7" rx="6.9" ry="3.9" fill="#d7b39c" fill-opacity="0.28"/>
<ellipse cx="121.4" cy="341.3" rx="3.7" ry="3.7" fill="#d7b39c" fill-opacity="0.28"/>
<ellipse cx="177.6" cy="337.2" rx="5.8" ry="3.4" fill="#d7b39c" fill-opacity="0.28"/>
<ellipse cx="156.6" cy="345.3" rx="5.7" ry="2.8" fill="#d7b39c" fill-opacity="0.28"/>
<ellipse cx="135.6" cy="360.4" rx="5.5" ry="3.4" fill="#d7b39c" fill-opacity="0.28"/>
<ellipse cx="55.7" cy="312.5" rx="4.8" ry="3.3" fill="#d7b39c" fill-opacity="0.28"/>
<ellipse cx="81.4" cy="353.5" rx="5.5" ry="2.1" fill="#d7b39c" fill-opacity="0.28"/>
<ellipse cx="59.3" cy="310.4" rx="4.3" ry="2.4" fill="#d7b39c" fill-opacity="0.28"/>
<ellipse cx="77.9" cy="302.8" rx="4.9" ry="2.8" fill="#d7b39c" fill-opacity="0.28"/>
<ellipse cx="134.0" cy="346.0" rx="4.0" ry="3.8" fill="#d7b39c" fill-opacity="0.28"/>
<ellipse cx="52.1" cy="331.6" rx="4.1" ry="2.8" fill="#d7b39c" fill-opacity="0.28"/>
<ellipse cx="67.4" cy="364.8" rx="4.5" ry="2.1" fill="#d7b39c" fill-opacity="0.28"/>
<ellipse cx="125.1" cy="326.5" rx="5.3" ry="3.9" fill="#d7b39c" fill-opacity="0.28"/>
<ellipse cx="161.7" cy="332.7" rx="6.3" ry="3.3" fill="#d7b39c" fill-opacity="0.28"/>
<ellipse cx="131.9" cy="344.0" rx="6.8" ry="3.9" fill="#d7b39c" fill-opacity="0.28"/>
<ellipse cx="171.7" cy="300.1" rx="3.4" ry="3.1" fill="#d7b39c" fill-opacity="0.28"/>
<polygon points="56,303 77,303 78,316 74,328 66,333 58,329 55,318" fill="#f9f8fb"/>
<circle cx="67.1" cy="313.4" r="3.2" fill="#fefefe" stroke="#c6c2d6" stroke-width="0.4"/>
<circle cx="69.2" cy="320.8" r="2.9" fill="#fefefe" stroke="#c6c2d6" stroke-width="0.4"/>
<circle cx="75.6" cy="304.5" r="2.7" fill="#fefefe" stroke="#c6c2d6" stroke-width="0.4"/>
<circle cx="71.0" cy="310.2" r="2.5" fill="#fefefe" stroke="#c6c2d6" stroke-width="0.4"/>
<circle cx="58.0" cy="308.7" r="2.5" fill="#fefefe" stroke="#c6c2d6" stroke-width="0.4"/>
<circle cx="58.9" cy="310.0" r="3.1" fill="#fefefe" stroke="#c6c2d6" stroke-width="0.4"/>
<circle cx="67.5" cy="316.2" r="3.2" fill="#fefefe" stroke="#c6c2d6" stroke-width="0.4"/>
<circle cx="67.8" cy="327.9" r="2.8" fill="#fefefe" stroke="#c6c2d6" stroke-width="0.4"/>
<circle cx="72.4" cy="305.8" r="2.7" fill="#fefefe" stroke="#c6c2d6" stroke-width="0.4"/>
<circle cx="71.4" cy="305.1" r="3.1" fill="#fefefe" stroke="#c6c2d6" stroke-width="0.4"/>
<circle cx="60.0" cy="315.3" r="2.2" fill="#fefefe" stroke="#c6c2d6" stroke-width="0.4"/>
<circle cx="66.4" cy="318.7" r="2.1" fill="#fefefe" stroke="#c6c2d6" stroke-width="0.4"/>
<circle cx="75.0" cy="314.1" r="2.6" fill="#fefefe" stroke="#c6c2d6" stroke-width="0.4"/>
<circle cx="68.4" cy="312.8" r="2.3" fill="#fefefe" stroke="#c6c2d6" stroke-width="0.4"/>
<path d="M51,370.8 L70,370.5 L92,369.8 L100,372.5 L108,377 L112,381 L51,381 Z" fill="#fcfcfe"/>
<path fill="#34408f" fill-opacity="0.6" d="M56.6 363.7A1.7 1.0 147 1 1 53.8 365.6A1.7 1.0 147 1 1 56.6 363.7M71.9 358.2A1.4 0.9 127 1 1 70.2 360.5A1.4 0.9 127 1 1 71.9 358.2M64.9 361.6A1.4 0.9 95 1 1 64.6 364.4A1.4 0.9 95 1 1 64.9 361.6M61.4 337.3A1.7 0.9 96 1 1 61.0 340.7A1.7 0.9 96 1 1 61.4 337.3M55.9 354.6A1.2 1.1 2 1 1 58.3 354.7A1.2 1.1 2 1 1 55.9 354.6M170.2 292.9A1.2 0.9 76 1 1 170.7 295.2A1.2 0.9 76 1 1 170.2 292.9M180.0 325.7A1.6 0.9 77 1 1 180.7 328.7A1.6 0.9 77 1 1 180.0 325.7M171.6 327.9A1.4 1.2 63 1 1 172.9 330.3A1.4 1.2 63 1 1 171.6 327.9M170.5 376.9A1.3 0.9 116 1 1 169.3 379.3A1.3 0.9 116 1 1 170.5 376.9M186.6 357.4A1.2 0.9 79 1 1 187.1 359.7A1.2 0.9 79 1 1 186.6 357.4M186.6 340.6A1.4 0.9 107 1 1 185.7 343.3A1.4 0.9 107 1 1 186.6 340.6M162.9 340.5A1.7 1.1 60 1 1 164.6 343.4A1.7 1.1 60 1 1 162.9 340.5M106.2 349.4A1.4 0.9 103 1 1 105.6 352.1A1.4 0.9 103 1 1 106.2 349.4M118.6 349.1A1.8 1.0 189 1 1 115.1 348.6A1.8 1.0 189 1 1 118.6 349.1M147.0 349.2A1.8 1.1 36 1 1 149.9 351.3A1.8 1.1 36 1 1 147.0 349.2M166.1 345.7A1.6 1.0 165 1 1 162.9 346.5A1.6 1.0 165 1 1 166.1 345.7M98.5 348.2A1.6 0.8 130 1 1 96.4 350.6A1.6 0.8 130 1 1 98.5 348.2M100.2 345.1A1.8 0.9 75 1 1 101.1 348.6A1.8 0.9 75 1 1 100.2 345.1M101.2 345.4A1.8 1.2 130 1 1 98.9 348.1A1.8 1.2 130 1 1 101.2 345.4M131.2 353.7A1.3 0.8 166 1 1 128.7 354.3A1.3 0.8 166 1 1 131.2 353.7M168.0 365.7A1.7 1.2 4 1 1 171.5 365.9A1.7 1.2 4 1 1 168.0 365.7M172.5 377.5A1.4 1.1 -14 1 1 175.2 376.8A1.4 1.1 -14 1 1 172.5 377.5M119.0 364.6A1.3 1.0 107 1 1 118.2 367.1A1.3 1.0 107 1 1 119.0 364.6M111.3 376.8A1.8 1.1 169 1 1 107.7 377.5A1.8 1.1 169 1 1 111.3 376.8M118.3 374.1A1.7 0.9 58 1 1 120.1 377.0A1.7 0.9 58 1 1 118.3 374.1M170.0 365.8A1.2 1.0 25 1 1 172.2 366.8A1.2 1.0 25 1 1 170.0 365.8M146.5 369.8A1.2 0.7 7 1 1 148.8 370.1A1.2 0.7 7 1 1 146.5 369.8M129.4 363.7A1.1 1.0 137 1 1 127.8 365.2A1.1 1.0 137 1 1 129.4 363.7M96.2 364.7A1.3 1.1 25 1 1 98.6 365.8A1.3 1.1 25 1 1 96.2 364.7M164.7 358.8A1.4 0.7 39 1 1 166.9 360.6A1.4 0.7 39 1 1 164.7 358.8M98.9 359.9A1.6 1.1 83 1 1 99.3 363.1A1.6 1.1 83 1 1 98.9 359.9M124.9 353.3A1.9 0.9 156 1 1 121.5 354.8A1.9 0.9 156 1 1 124.9 353.3M96.7 366.1A1.8 1.2 60 1 1 98.5 369.2A1.8 1.2 60 1 1 96.7 366.1M105.6 351.5A1.8 0.7 100 1 1 104.9 355.0A1.8 0.7 100 1 1 105.6 351.5M115.5 358.4A1.2 0.9 149 1 1 113.5 359.6A1.2 0.9 149 1 1 115.5 358.4M128.7 364.4A1.6 1.1 181 1 1 125.5 364.4A1.6 1.1 181 1 1 128.7 364.4M84.3 352.9A1.6 1.2 158 1 1 81.3 354.1A1.6 1.2 158 1 1 84.3 352.9M88.3 355.5A1.2 1.0 19 1 1 90.5 356.3A1.2 1.0 19 1 1 88.3 355.5M115.2 377.4A1.5 0.9 -5 1 1 118.1 377.1A1.5 0.9 -5 1 1 115.2 377.4M166.4 371.8A1.4 1.0 65 1 1 167.6 374.2A1.4 1.0 65 1 1 166.4 371.8M162.7 351.1A1.8 0.9 10 1 1 166.3 351.7A1.8 0.9 10 1 1 162.7 351.1M81.9 340.6A1.7 0.9 100 1 1 81.3 344.0A1.7 0.9 100 1 1 81.9 340.6M106.0 305.4A1.9 0.7 108 1 1 104.8 309.0A1.9 0.7 108 1 1 106.0 305.4M103.4 320.7A1.2 0.8 106 1 1 102.7 323.0A1.2 0.8 106 1 1 103.4 320.7M99.8 324.4A1.4 0.9 105 1 1 99.1 327.1A1.4 0.9 105 1 1 99.8 324.4M100.1 329.4A1.2 0.8 99 1 1 99.7 331.7A1.2 0.8 99 1 1 100.1 329.4M99.2 330.0A1.8 0.9 101 1 1 98.5 333.5A1.8 0.9 101 1 1 99.2 330.0M128.9 295.6A1.9 0.7 99 1 1 128.3 299.4A1.9 0.7 99 1 1 128.9 295.6M125.2 316.4A1.8 0.6 101 1 1 124.5 320.0A1.8 0.6 101 1 1 125.2 316.4M124.1 328.3A1.6 0.8 111 1 1 122.9 331.2A1.6 0.8 111 1 1 124.1 328.3M118.4 345.1A1.2 0.9 95 1 1 118.2 347.5A1.2 0.9 95 1 1 118.4 345.1M148.7 302.8A1.8 0.8 107 1 1 147.6 306.1A1.8 0.8 107 1 1 148.7 302.8M147.4 305.9A1.9 0.8 109 1 1 146.2 309.5A1.9 0.8 109 1 1 147.4 305.9M146.3 306.8A1.8 0.6 102 1 1 145.5 310.3A1.8 0.6 102 1 1 146.3 306.8M146.6 313.5A1.7 0.7 112 1 1 145.4 316.6A1.7 0.7 112 1 1 146.6 313.5M141.4 327.8A1.4 0.9 105 1 1 140.7 330.5A1.4 0.9 105 1 1 141.4 327.8M168.3 306.0A1.4 0.7 97 1 1 167.9 308.8A1.4 0.7 97 1 1 168.3 306.0M168.8 307.0A1.7 0.8 94 1 1 168.6 310.3A1.7 0.8 94 1 1 168.8 307.0M175.3 287.8A1.5 0.7 84 1 1 175.6 290.8A1.5 0.7 84 1 1 175.3 287.8M175.3 293.4A1.8 0.8 95 1 1 175.0 296.9A1.8 0.8 95 1 1 175.3 293.4M179.0 306.0A1.5 0.6 94 1 1 178.8 308.9A1.5 0.6 94 1 1 179.0 306.0M179.4 336.0A1.3 0.7 83 1 1 179.7 338.6A1.3 0.7 83 1 1 179.4 336.0M181.2 338.0A1.6 0.6 83 1 1 181.6 341.2A1.6 0.6 83 1 1 181.2 338.0M66.5 358.5A1.8 0.7 250 1 1 65.2 355.1A1.8 0.7 250 1 1 66.5 358.5"/>
<path fill="#34408f" fill-opacity="0.75" d="M66.2 368.6A1.9 1.1 83 1 1 66.6 372.3A1.9 1.1 83 1 1 66.2 368.6M71.8 369.3A1.3 0.9 57 1 1 73.2 371.4A1.3 0.9 57 1 1 71.8 369.3M68.9 354.4A1.5 1.0 53 1 1 70.7 356.7A1.5 1.0 53 1 1 68.9 354.4M58.4 342.8A1.5 1.0 7 1 1 61.3 343.1A1.5 1.0 7 1 1 58.4 342.8M78.3 363.2A1.2 1.1 31 1 1 80.4 364.4A1.2 1.1 31 1 1 78.3 363.2M51.5 350.3A1.3 1.1 46 1 1 53.3 352.2A1.3 1.1 46 1 1 51.5 350.3M65.8 348.4A1.2 0.9 28 1 1 67.9 349.5A1.2 0.9 28 1 1 65.8 348.4M64.5 367.1A1.5 1.1 62 1 1 65.9 369.6A1.5 1.1 62 1 1 64.5 367.1M66.9 349.5A1.7 1.0 14 1 1 70.1 350.3A1.7 1.0 14 1 1 66.9 349.5M61.6 341.0A1.6 0.7 124 1 1 59.8 343.7A1.6 0.7 124 1 1 61.6 341.0M70.0 343.4A1.5 1.2 145 1 1 67.5 345.2A1.5 1.2 145 1 1 70.0 343.4M170.7 293.4A1.6 1.1 75 1 1 171.5 296.4A1.6 1.1 75 1 1 170.7 293.4M180.5 349.0A1.4 1.1 97 1 1 180.1 351.7A1.4 1.1 97 1 1 180.5 349.0M178.2 370.0A1.4 0.8 80 1 1 178.7 372.7A1.4 0.8 80 1 1 178.2 370.0M171.4 322.1A1.8 0.7 77 1 1 172.2 325.5A1.8 0.7 77 1 1 171.4 322.1M184.5 362.9A1.7 1.1 102 1 1 183.8 366.2A1.7 1.1 102 1 1 184.5 362.9M183.8 333.0A1.6 0.7 74 1 1 184.7 336.1A1.6 0.7 74 1 1 183.8 333.0M183.6 306.9A1.5 0.7 99 1 1 183.2 310.0A1.5 0.7 99 1 1 183.6 306.9M172.5 378.5A1.8 1.1 59 1 1 174.3 381.6A1.8 1.1 59 1 1 172.5 378.5M169.2 340.1A1.8 1.2 162 1 1 165.8 341.3A1.8 1.2 162 1 1 169.2 340.1M129.4 346.9A1.9 0.8 147 1 1 126.2 348.9A1.9 0.8 147 1 1 129.4 346.9M99.0 346.4A1.7 1.0 67 1 1 100.3 349.5A1.7 1.0 67 1 1 99.0 346.4M103.6 377.4A1.3 0.8 2 1 1 106.1 377.5A1.3 0.8 2 1 1 103.6 377.4M98.0 363.9A1.3 0.8 35 1 1 100.1 365.3A1.3 0.8 35 1 1 98.0 363.9M113.3 354.0A1.3 0.8 72 1 1 114.2 356.5A1.3 0.8 72 1 1 113.3 354.0M161.4 370.9A1.6 0.7 57 1 1 163.1 373.6A1.6 0.7 57 1 1 161.4 370.9M165.4 354.8A1.2 0.9 69 1 1 166.3 357.1A1.2 0.9 69 1 1 165.4 354.8M142.5 351.8A1.7 0.7 94 1 1 142.2 355.1A1.7 0.7 94 1 1 142.5 351.8M121.1 375.9A1.9 0.8 6 1 1 124.8 376.3A1.9 0.8 6 1 1 121.1 375.9M175.7 349.1A1.6 1.1 88 1 1 175.8 352.3A1.6 1.1 88 1 1 175.7 349.1M167.3 359.3A1.9 1.0 147 1 1 164.2 361.3A1.9 1.0 147 1 1 167.3 359.3M126.3 365.3A1.6 0.9 95 1 1 126.0 368.4A1.6 0.9 95 1 1 126.3 365.3M100.6 373.9A1.2 1.2 135 1 1 99.0 375.6A1.2 1.2 135 1 1 100.6 373.9M105.8 355.1A1.8 1.2 95 1 1 105.5 358.7A1.8 1.2 95 1 1 105.8 355.1M98.5 379.5A1.4 1.1 49 1 1 100.4 381.6A1.4 1.1 49 1 1 98.5 379.5M131.8 375.2A1.3 0.9 42 1 1 133.7 376.9A1.3 0.9 42 1 1 131.8 375.2M149.8 350.1A1.5 1.2 65 1 1 151.0 352.8A1.5 1.2 65 1 1 149.8 350.1M137.3 353.4A1.5 1.1 36 1 1 139.8 355.1A1.5 1.1 36 1 1 137.3 353.4M98.3 372.9A1.8 0.8 40 1 1 101.1 375.3A1.8 0.8 40 1 1 98.3 372.9M83.5 359.8A1.5 0.7 144 1 1 81.0 361.6A1.5 0.7 144 1 1 83.5 359.8M81.4 355.8A1.6 1.0 93 1 1 81.2 359.1A1.6 1.0 93 1 1 81.4 355.8M184.0 374.8A1.2 0.8 87 1 1 184.2 377.2A1.2 0.8 87 1 1 184.0 374.8M80.2 294.8A1.2 0.6 95 1 1 80.0 297.1A1.2 0.6 95 1 1 80.2 294.8M80.7 330.8A1.3 0.9 101 1 1 80.3 333.3A1.3 0.9 101 1 1 80.7 330.8M109.6 294.6A1.3 0.6 108 1 1 108.8 297.1A1.3 0.6 108 1 1 109.6 294.6M100.8 325.6A1.5 0.8 101 1 1 100.2 328.5A1.5 0.8 101 1 1 100.8 325.6M125.9 319.4A1.2 0.9 100 1 1 125.6 321.6A1.2 0.9 100 1 1 125.9 319.4M125.3 321.2A1.4 0.9 106 1 1 124.5 323.9A1.4 0.9 106 1 1 125.3 321.2M123.5 321.6A1.8 0.6 103 1 1 122.7 325.1A1.8 0.6 103 1 1 123.5 321.6M144.0 310.2A1.7 0.8 102 1 1 143.3 313.6A1.7 0.8 102 1 1 144.0 310.2M139.8 332.3A1.4 0.6 102 1 1 139.3 335.1A1.4 0.6 102 1 1 139.8 332.3M136.8 334.9A1.5 0.8 111 1 1 135.8 337.6A1.5 0.8 111 1 1 136.8 334.9M168.2 290.9A1.3 0.7 98 1 1 167.9 293.5A1.3 0.7 98 1 1 168.2 290.9M160.1 346.0A1.8 0.8 102 1 1 159.3 349.6A1.8 0.8 102 1 1 160.1 346.0M176.2 316.8A1.5 0.6 78 1 1 176.8 319.8A1.5 0.6 78 1 1 176.2 316.8M176.4 318.7A1.5 0.6 95 1 1 176.2 321.8A1.5 0.6 95 1 1 176.4 318.7M178.1 328.9A1.2 0.7 79 1 1 178.6 331.2A1.2 0.7 79 1 1 178.1 328.9M180.2 332.8A1.7 0.6 87 1 1 180.4 336.2A1.7 0.6 87 1 1 180.2 332.8M76.2 360.7A1.2 0.7 170 1 1 73.8 361.1A1.2 0.7 170 1 1 76.2 360.7"/>
<path fill="#34408f" fill-opacity="0.9" d="M55.7 357.7A1.9 0.8 174 1 1 52.0 358.1A1.9 0.8 174 1 1 55.7 357.7M69.9 345.2A1.4 0.7 139 1 1 67.8 347.1A1.4 0.7 139 1 1 69.9 345.2M77.8 330.6A1.7 1.0 165 1 1 74.5 331.5A1.7 1.0 165 1 1 77.8 330.6M67.6 366.2A1.5 1.2 190 1 1 64.6 365.7A1.5 1.2 190 1 1 67.6 366.2M62.1 339.2A1.8 0.9 184 1 1 58.5 338.9A1.8 0.9 184 1 1 62.1 339.2M56.7 330.4A1.5 1.0 8 1 1 59.6 330.8A1.5 1.0 8 1 1 56.7 330.4M67.9 364.4A1.8 1.1 119 1 1 66.1 367.6A1.8 1.1 119 1 1 67.9 364.4M58.6 352.2A1.8 1.1 15 1 1 62.0 353.2A1.8 1.1 15 1 1 58.6 352.2M177.5 366.4A1.6 0.7 56 1 1 179.3 369.1A1.6 0.7 56 1 1 177.5 366.4M168.2 369.3A1.2 1.2 91 1 1 168.2 371.7A1.2 1.2 91 1 1 168.2 369.3M178.7 362.8A1.7 1.0 114 1 1 177.3 365.9A1.7 1.0 114 1 1 178.7 362.8M162.1 338.7A1.7 1.1 75 1 1 163.1 342.1A1.7 1.1 75 1 1 162.1 338.7M103.5 338.3A1.8 0.9 125 1 1 101.3 341.3A1.8 0.9 125 1 1 103.5 338.3M109.8 339.3A1.6 0.9 183 1 1 106.6 339.1A1.6 0.9 183 1 1 109.8 339.3M142.5 350.7A1.3 1.0 11 1 1 145.1 351.2A1.3 1.0 11 1 1 142.5 350.7M130.4 345.8A1.7 1.2 136 1 1 127.9 348.2A1.7 1.2 136 1 1 130.4 345.8M142.3 352.5A1.3 0.8 97 1 1 142.0 355.0A1.3 0.8 97 1 1 142.3 352.5M170.5 370.4A1.3 1.2 141 1 1 168.6 372.0A1.3 1.2 141 1 1 170.5 370.4M184.8 355.0A1.8 1.0 123 1 1 182.9 358.1A1.8 1.0 123 1 1 184.8 355.0M184.7 371.4A1.3 1.1 27 1 1 186.9 372.5A1.3 1.1 27 1 1 184.7 371.4M154.9 369.8A1.2 0.8 83 1 1 155.2 372.1A1.2 0.8 83 1 1 154.9 369.8M122.9 379.1A1.5 1.2 76 1 1 123.6 382.0A1.5 1.2 76 1 1 122.9 379.1M170.1 371.3A1.1 0.8 158 1 1 168.0 372.2A1.1 0.8 158 1 1 170.1 371.3M117.8 361.8A1.5 0.8 53 1 1 119.5 364.1A1.5 0.8 53 1 1 117.8 361.8M96.2 379.9A1.1 1.0 115 1 1 95.2 381.9A1.1 1.0 115 1 1 96.2 379.9M183.5 358.5A1.8 1.0 109 1 1 182.3 361.8A1.8 1.0 109 1 1 183.5 358.5M115.1 372.8A1.6 1.1 123 1 1 113.3 375.5A1.6 1.1 123 1 1 115.1 372.8M143.8 352.0A1.8 0.9 152 1 1 140.6 353.7A1.8 0.9 152 1 1 143.8 352.0M134.2 355.4A1.6 1.0 89 1 1 134.3 358.7A1.6 1.0 89 1 1 134.2 355.4M135.6 359.3A1.5 0.8 97 1 1 135.2 362.2A1.5 0.8 97 1 1 135.6 359.3M172.2 371.1A1.7 1.1 43 1 1 174.6 373.4A1.7 1.1 43 1 1 172.2 371.1M181.0 370.2A1.5 1.0 135 1 1 178.9 372.3A1.5 1.0 135 1 1 181.0 370.2M128.0 355.4A1.7 1.1 79 1 1 128.6 358.7A1.7 1.1 79 1 1 128.0 355.4M184.6 376.0A1.7 1.1 55 1 1 186.6 378.7A1.7 1.1 55 1 1 184.6 376.0M175.2 365.4A1.2 1.2 6 1 1 177.6 365.6A1.2 1.2 6 1 1 175.2 365.4M126.6 376.7A1.1 1.1 188 1 1 124.4 376.4A1.1 1.1 188 1 1 126.6 376.7M110.7 363.4A1.8 1.1 23 1 1 113.9 364.7A1.8 1.1 23 1 1 110.7 363.4M163.7 371.5A1.6 1.2 130 1 1 161.5 374.0A1.6 1.2 130 1 1 163.7 371.5M79.9 357.4A1.4 0.9 68 1 1 80.9 359.9A1.4 0.9 68 1 1 79.9 357.4M84.3 369.1A1.5 1.0 77 1 1 84.9 372.0A1.5 1.0 77 1 1 84.3 369.1M100.4 371.0A1.9 1.2 191 1 1 96.7 370.3A1.9 1.2 191 1 1 100.4 371.0M118.9 378.6A1.4 0.9 66 1 1 120.0 381.2A1.4 0.9 66 1 1 118.9 378.6M116.1 373.3A1.8 0.7 20 1 1 119.5 374.5A1.8 0.7 20 1 1 116.1 373.3M159.0 350.2A1.7 1.2 19 1 1 162.2 351.3A1.7 1.2 19 1 1 159.0 350.2M85.8 311.8A1.1 0.6 101 1 1 85.3 314.0A1.1 0.6 101 1 1 85.8 311.8M77.1 343.3A1.8 0.6 101 1 1 76.4 346.8A1.8 0.6 101 1 1 77.1 343.3M105.9 305.1A1.3 0.7 105 1 1 105.2 307.6A1.3 0.7 105 1 1 105.9 305.1M102.7 318.6A1.3 0.6 115 1 1 101.6 320.9A1.3 0.6 115 1 1 102.7 318.6M98.7 335.2A1.9 0.6 101 1 1 98.0 338.9A1.9 0.6 101 1 1 98.7 335.2M98.5 337.8A1.9 0.9 95 1 1 98.1 341.5A1.9 0.9 95 1 1 98.5 337.8M132.0 296.0A1.2 0.8 98 1 1 131.6 298.4A1.2 0.8 98 1 1 132.0 296.0M127.1 309.5A1.9 0.9 110 1 1 125.8 313.0A1.9 0.9 110 1 1 127.1 309.5M118.3 347.5A1.5 0.8 94 1 1 118.1 350.5A1.5 0.8 94 1 1 118.3 347.5M149.9 291.7A1.8 0.7 96 1 1 149.5 295.3A1.8 0.7 96 1 1 149.9 291.7M147.7 296.9A1.5 0.9 98 1 1 147.3 299.9A1.5 0.9 98 1 1 147.7 296.9M144.3 311.3A1.5 0.6 114 1 1 143.1 314.0A1.5 0.6 114 1 1 144.3 311.3M142.8 314.2A1.7 0.9 108 1 1 141.7 317.4A1.7 0.9 108 1 1 142.8 314.2M170.9 287.4A1.7 0.6 104 1 1 170.1 290.7A1.7 0.6 104 1 1 170.9 287.4M166.0 316.6A1.1 0.8 97 1 1 165.8 318.8A1.1 0.8 97 1 1 166.0 316.6M161.8 325.8A1.3 0.8 102 1 1 161.3 328.3A1.3 0.8 102 1 1 161.8 325.8M176.3 324.7A1.4 0.6 81 1 1 176.7 327.5A1.4 0.6 81 1 1 176.3 324.7M80.7 350.4A1.2 0.7 425 1 1 81.8 352.6A1.2 0.7 425 1 1 80.7 350.4M68.3 352.4A1.4 0.8 23 1 1 70.8 353.4A1.4 0.8 23 1 1 68.3 352.4"/>
<path fill="#3f4a9c" fill-opacity="0.6" d="M54.7 368.9A1.7 0.7 49 1 1 56.9 371.5A1.7 0.7 49 1 1 54.7 368.9M66.8 345.9A1.1 1.1 53 1 1 68.1 347.7A1.1 1.1 53 1 1 66.8 345.9M77.0 331.8A1.7 0.8 78 1 1 77.7 335.1A1.7 0.8 78 1 1 77.0 331.8M73.4 333.6A1.5 0.9 126 1 1 71.6 336.1A1.5 0.9 126 1 1 73.4 333.6M169.0 322.2A1.3 1.2 114 1 1 167.9 324.7A1.3 1.2 114 1 1 169.0 322.2M186.2 295.8A1.6 1.1 99 1 1 185.7 298.9A1.6 1.1 99 1 1 186.2 295.8M178.2 372.8A1.3 0.8 24 1 1 180.6 373.8A1.3 0.8 24 1 1 178.2 372.8M172.4 290.1A1.7 1.2 24 1 1 175.5 291.5A1.7 1.2 24 1 1 172.4 290.1M163.9 335.2A1.6 0.9 107 1 1 163.0 338.2A1.6 0.9 107 1 1 163.9 335.2M135.5 343.3A1.5 1.0 16 1 1 138.5 344.1A1.5 1.0 16 1 1 135.5 343.3M95.1 344.0A1.8 1.1 67 1 1 96.5 347.3A1.8 1.1 67 1 1 95.1 344.0M157.6 349.7A1.1 1.1 166 1 1 155.4 350.3A1.1 1.1 166 1 1 157.6 349.7M145.7 346.1A1.5 0.7 122 1 1 144.1 348.6A1.5 0.7 122 1 1 145.7 346.1M145.9 363.1A1.4 1.1 94 1 1 145.7 365.9A1.4 1.1 94 1 1 145.9 363.1M100.5 376.3A1.7 0.9 111 1 1 99.3 379.6A1.7 0.9 111 1 1 100.5 376.3M118.4 357.6A1.4 0.9 14 1 1 121.1 358.3A1.4 0.9 14 1 1 118.4 357.6M117.8 368.8A1.2 1.0 94 1 1 117.6 371.3A1.2 1.0 94 1 1 117.8 368.8M154.8 371.2A1.2 1.0 62 1 1 155.9 373.4A1.2 1.0 62 1 1 154.8 371.2M114.0 353.8A1.5 1.2 31 1 1 116.5 355.3A1.5 1.2 31 1 1 114.0 353.8M184.8 352.4A1.2 0.8 115 1 1 183.8 354.6A1.2 0.8 115 1 1 184.8 352.4M99.5 358.4A1.6 0.8 -1 1 1 102.7 358.3A1.6 0.8 -1 1 1 99.5 358.4M172.2 367.2A1.2 1.1 47 1 1 173.8 369.0A1.2 1.1 47 1 1 172.2 367.2M127.8 364.1A1.1 1.0 30 1 1 129.7 365.2A1.1 1.0 30 1 1 127.8 364.1M118.9 366.0A1.9 1.2 138 1 1 116.1 368.6A1.9 1.2 138 1 1 118.9 366.0M180.3 364.9A1.4 1.0 132 1 1 178.4 366.9A1.4 1.0 132 1 1 180.3 364.9M109.0 375.3A1.8 1.0 36 1 1 111.9 377.4A1.8 1.0 36 1 1 109.0 375.3M117.3 371.5A1.5 0.8 72 1 1 118.3 374.4A1.5 0.8 72 1 1 117.3 371.5M162.5 348.9A1.8 0.9 47 1 1 164.9 351.5A1.8 0.9 47 1 1 162.5 348.9M104.7 364.2A1.5 0.9 177 1 1 101.8 364.3A1.5 0.9 177 1 1 104.7 364.2M121.2 377.4A1.5 0.9 146 1 1 118.7 379.1A1.5 0.9 146 1 1 121.2 377.4M175.9 352.9A1.7 1.0 43 1 1 178.4 355.2A1.7 1.0 43 1 1 175.9 352.9M156.8 365.4A1.3 0.9 22 1 1 159.2 366.4A1.3 0.9 22 1 1 156.8 365.4M155.4 358.8A1.8 1.0 28 1 1 158.5 360.5A1.8 1.0 28 1 1 155.4 358.8M183.3 360.4A1.2 1.1 50 1 1 184.9 362.2A1.2 1.1 50 1 1 183.3 360.4M129.0 354.8A1.5 1.1 12 1 1 131.9 355.4A1.5 1.1 12 1 1 129.0 354.8M96.9 354.5A1.2 1.1 76 1 1 97.5 356.8A1.2 1.1 76 1 1 96.9 354.5M107.5 373.1A1.4 0.8 73 1 1 108.4 375.8A1.4 0.8 73 1 1 107.5 373.1M85.4 369.1A1.4 1.1 39 1 1 87.6 370.8A1.4 1.1 39 1 1 85.4 369.1M84.2 360.7A1.7 1.2 109 1 1 83.1 364.0A1.7 1.2 109 1 1 84.2 360.7M89.5 367.3A1.8 1.2 65 1 1 91.1 370.7A1.8 1.2 65 1 1 89.5 367.3M127.3 373.7A1.8 0.7 161 1 1 124.0 374.8A1.8 0.7 161 1 1 127.3 373.7M188.3 375.2A1.3 0.8 186 1 1 185.7 374.9A1.3 0.8 186 1 1 188.3 375.2M125.3 377.3A1.4 1.1 31 1 1 127.7 378.8A1.4 1.1 31 1 1 125.3 377.3M166.3 380.1A1.9 1.2 26 1 1 169.7 381.7A1.9 1.2 26 1 1 166.3 380.1M85.8 308.3A1.1 0.8 97 1 1 85.5 310.5A1.1 0.8 97 1 1 85.8 308.3M79.0 324.1A1.6 0.8 95 1 1 78.7 327.3A1.6 0.8 95 1 1 79.0 324.1M79.0 326.9A1.5 0.7 103 1 1 78.3 329.8A1.5 0.7 103 1 1 79.0 326.9M75.0 343.2A1.8 0.6 106 1 1 74.0 346.6A1.8 0.6 106 1 1 75.0 343.2M94.5 347.9A1.2 0.6 98 1 1 94.2 350.3A1.2 0.6 98 1 1 94.5 347.9M129.4 291.9A1.6 0.6 102 1 1 128.7 295.1A1.6 0.6 102 1 1 129.4 291.9M127.2 308.9A1.1 0.7 109 1 1 126.5 311.0A1.1 0.7 109 1 1 127.2 308.9M151.6 290.4A1.9 0.6 101 1 1 150.9 294.1A1.9 0.6 101 1 1 151.6 290.4M139.8 333.6A1.6 0.8 106 1 1 139.0 336.6A1.6 0.8 106 1 1 139.8 333.6M135.3 339.7A1.3 0.8 96 1 1 135.0 342.2A1.3 0.8 96 1 1 135.3 339.7M167.0 298.0A1.7 0.8 101 1 1 166.4 301.3A1.7 0.8 101 1 1 167.0 298.0M164.5 320.9A1.3 0.7 95 1 1 164.3 323.5A1.3 0.7 95 1 1 164.5 320.9M163.6 336.8A1.7 0.7 108 1 1 162.6 340.0A1.7 0.7 108 1 1 163.6 336.8M162.5 339.1A1.1 0.6 102 1 1 162.1 341.3A1.1 0.6 102 1 1 162.5 339.1M177.0 298.7A1.4 0.9 85 1 1 177.2 301.6A1.4 0.9 85 1 1 177.0 298.7M177.6 320.7A1.8 0.7 86 1 1 177.9 324.2A1.8 0.7 86 1 1 177.6 320.7M176.5 327.5A1.8 0.7 92 1 1 176.4 331.0A1.8 0.7 92 1 1 176.5 327.5M179.6 341.3A1.8 0.7 89 1 1 179.6 345.0A1.8 0.7 89 1 1 179.6 341.3M180.3 345.2A1.2 0.9 84 1 1 180.6 347.7A1.2 0.9 84 1 1 180.3 345.2M179.1 346.3A1.9 0.9 90 1 1 179.1 350.0A1.9 0.9 90 1 1 179.1 346.3M66.0 356.8A1.7 0.6 256 1 1 65.1 353.4A1.7 0.6 256 1 1 66.0 356.8M66.0 350.3A1.4 0.6 316 1 1 68.0 348.3A1.4 0.6 316 1 1 66.0 350.3"/>
<path fill="#3f4a9c" fill-opacity="0.75" d="M62.1 352.9A1.2 1.1 157 1 1 59.9 353.9A1.2 1.1 157 1 1 62.1 352.9M52.6 314.0A1.7 1.0 25 1 1 55.7 315.4A1.7 1.0 25 1 1 52.6 314.0M78.4 368.1A1.3 1.2 105 1 1 77.7 370.7A1.3 1.2 105 1 1 78.4 368.1M60.7 343.4A1.6 0.8 111 1 1 59.6 346.3A1.6 0.8 111 1 1 60.7 343.4M66.5 353.9A1.5 1.1 154 1 1 63.9 355.2A1.5 1.1 154 1 1 66.5 353.9M76.4 319.2A1.4 0.9 81 1 1 76.9 322.0A1.4 0.9 81 1 1 76.4 319.2M172.6 361.3A1.1 1.1 66 1 1 173.6 363.4A1.1 1.1 66 1 1 172.6 361.3M168.8 362.7A1.7 1.1 101 1 1 168.2 366.0A1.7 1.1 101 1 1 168.8 362.7M174.1 344.2A1.6 0.8 122 1 1 172.4 347.0A1.6 0.8 122 1 1 174.1 344.2M171.6 314.2A1.4 1.0 118 1 1 170.3 316.7A1.4 1.0 118 1 1 171.6 314.2M184.4 378.5A1.6 1.0 107 1 1 183.5 381.5A1.6 1.0 107 1 1 184.4 378.5M181.2 364.2A1.5 1.0 62 1 1 182.5 366.8A1.5 1.0 62 1 1 181.2 364.2M174.5 302.1A1.4 1.1 93 1 1 174.4 304.8A1.4 1.1 93 1 1 174.5 302.1M168.1 379.3A1.8 0.9 18 1 1 171.4 380.4A1.8 0.9 18 1 1 168.1 379.3M141.0 340.5A1.1 0.8 112 1 1 140.1 342.6A1.1 0.8 112 1 1 141.0 340.5M143.5 345.2A1.1 1.0 22 1 1 145.6 346.1A1.1 1.0 22 1 1 143.5 345.2M178.9 345.1A1.7 0.9 49 1 1 181.2 347.6A1.7 0.9 49 1 1 178.9 345.1M148.3 349.1A1.6 0.8 66 1 1 149.6 352.1A1.6 0.8 66 1 1 148.3 349.1M171.2 348.9A1.6 1.0 13 1 1 174.4 349.7A1.6 1.0 13 1 1 171.2 348.9M121.4 349.6A1.4 0.9 61 1 1 122.8 352.1A1.4 0.9 61 1 1 121.4 349.6M158.1 346.1A1.5 1.0 196 1 1 155.2 345.2A1.5 1.0 196 1 1 158.1 346.1M97.6 375.9A1.8 0.9 18 1 1 101.1 377.0A1.8 0.9 18 1 1 97.6 375.9M161.6 365.3A1.7 0.9 138 1 1 159.1 367.7A1.7 0.9 138 1 1 161.6 365.3M126.1 351.0A1.4 1.1 173 1 1 123.4 351.3A1.4 1.1 173 1 1 126.1 351.0M147.2 366.7A1.2 1.0 94 1 1 147.0 369.1A1.2 1.0 94 1 1 147.2 366.7M179.3 351.7A1.2 1.2 44 1 1 181.1 353.4A1.2 1.2 44 1 1 179.3 351.7M147.2 353.7A1.2 0.8 17 1 1 149.4 354.3A1.2 0.8 17 1 1 147.2 353.7M142.9 369.9A1.8 1.1 73 1 1 144.0 373.4A1.8 1.1 73 1 1 142.9 369.9M104.9 356.9A1.6 0.9 112 1 1 103.7 359.8A1.6 0.9 112 1 1 104.9 356.9M179.2 375.8A1.8 0.8 51 1 1 181.5 378.6A1.8 0.8 51 1 1 179.2 375.8M142.9 367.5A1.7 1.1 124 1 1 141.0 370.4A1.7 1.1 124 1 1 142.9 367.5M172.1 351.5A1.6 1.0 142 1 1 169.6 353.4A1.6 1.0 142 1 1 172.1 351.5M103.3 366.5A1.8 1.2 11 1 1 106.8 367.2A1.8 1.2 11 1 1 103.3 366.5M184.5 358.2A1.3 1.0 160 1 1 182.1 359.1A1.3 1.0 160 1 1 184.5 358.2M173.7 373.5A1.5 0.8 85 1 1 174.0 376.5A1.5 0.8 85 1 1 173.7 373.5M172.2 373.5A1.2 1.0 160 1 1 169.9 374.2A1.2 1.0 160 1 1 172.2 373.5M164.1 357.6A1.3 0.9 147 1 1 161.9 359.0A1.3 0.9 147 1 1 164.1 357.6M99.7 350.4A1.9 0.9 -11 1 1 103.3 349.7A1.9 0.9 -11 1 1 99.7 350.4M131.1 368.7A1.2 0.7 152 1 1 129.0 369.8A1.2 0.7 152 1 1 131.1 368.7M126.6 357.7A1.6 0.9 47 1 1 128.7 360.0A1.6 0.9 47 1 1 126.6 357.7M180.0 349.0A1.3 1.1 120 1 1 178.7 351.2A1.3 1.1 120 1 1 180.0 349.0M171.4 360.0A1.9 1.2 186 1 1 167.6 359.6A1.9 1.2 186 1 1 171.4 360.0M159.0 354.1A1.1 1.1 163 1 1 156.8 354.7A1.1 1.1 163 1 1 159.0 354.1M81.5 293.7A1.3 0.8 88 1 1 81.6 296.3A1.3 0.8 88 1 1 81.5 293.7M85.1 314.4A1.6 0.7 89 1 1 85.2 317.6A1.6 0.7 89 1 1 85.1 314.4M78.2 347.7A1.1 0.6 97 1 1 77.9 350.0A1.1 0.6 97 1 1 78.2 347.7M107.8 290.0A1.7 0.6 107 1 1 106.8 293.4A1.7 0.6 107 1 1 107.8 290.0M132.7 290.4A1.7 0.9 109 1 1 131.6 293.6A1.7 0.9 109 1 1 132.7 290.4M120.5 347.6A1.3 0.9 101 1 1 120.0 350.2A1.3 0.9 101 1 1 120.5 347.6M141.8 325.4A1.1 0.6 103 1 1 141.3 327.6A1.1 0.6 103 1 1 141.8 325.4M137.9 334.9A1.6 0.9 97 1 1 137.5 338.0A1.6 0.9 97 1 1 137.9 334.9M134.6 344.2A1.5 0.7 105 1 1 133.8 347.0A1.5 0.7 105 1 1 134.6 344.2M169.9 289.8A1.3 0.8 98 1 1 169.5 292.4A1.3 0.8 98 1 1 169.9 289.8M168.5 302.7A1.8 0.6 93 1 1 168.3 306.2A1.8 0.6 93 1 1 168.5 302.7M163.6 316.2A1.8 0.9 103 1 1 162.8 319.8A1.8 0.9 103 1 1 163.6 316.2M161.1 327.9A1.3 0.9 94 1 1 160.9 330.4A1.3 0.9 94 1 1 161.1 327.9M160.7 341.7A1.3 0.6 102 1 1 160.2 344.2A1.3 0.6 102 1 1 160.7 341.7M160.9 347.8A1.4 0.7 100 1 1 160.4 350.6A1.4 0.7 100 1 1 160.9 347.8M179.4 348.2A1.8 0.7 85 1 1 179.7 351.8A1.8 0.7 85 1 1 179.4 348.2M67.8 348.1A1.7 0.7 336 1 1 70.9 346.7A1.7 0.7 336 1 1 67.8 348.1M78.7 349.5A1.9 0.6 426 1 1 80.2 352.9A1.9 0.6 426 1 1 78.7 349.5"/>
<path fill="#3f4a9c" fill-opacity="0.9" d="M54.5 341.7A1.5 1.2 48 1 1 56.5 343.9A1.5 1.2 48 1 1 54.5 341.7M58.9 340.3A1.5 0.8 126 1 1 57.1 342.8A1.5 0.8 126 1 1 58.9 340.3M56.2 362.2A1.6 0.8 170 1 1 53.0 362.8A1.6 0.8 170 1 1 56.2 362.2M57.5 366.7A1.4 0.7 3 1 1 60.3 366.9A1.4 0.7 3 1 1 57.5 366.7M85.1 288.1A1.9 1.2 111 1 1 83.8 291.6A1.9 1.2 111 1 1 85.1 288.1M180.3 330.7A1.4 1.2 96 1 1 180.0 333.6A1.4 1.2 96 1 1 180.3 330.7M177.8 296.7A1.6 0.9 53 1 1 179.8 299.3A1.6 0.9 53 1 1 177.8 296.7M179.5 347.3A1.3 0.9 108 1 1 178.7 349.7A1.3 0.9 108 1 1 179.5 347.3M181.3 326.0A1.2 1.1 74 1 1 182.0 328.3A1.2 1.1 74 1 1 181.3 326.0M114.7 343.0A1.4 1.0 95 1 1 114.4 345.8A1.4 1.0 95 1 1 114.7 343.0M188.0 346.6A1.7 1.2 143 1 1 185.3 348.6A1.7 1.2 143 1 1 188.0 346.6M98.8 345.1A1.2 0.9 143 1 1 96.9 346.5A1.2 0.9 143 1 1 98.8 345.1M129.7 347.8A1.5 0.9 127 1 1 127.9 350.2A1.5 0.9 127 1 1 129.7 347.8M167.7 371.6A1.7 0.9 158 1 1 164.4 372.9A1.7 0.9 158 1 1 167.7 371.6M106.5 356.5A1.4 1.2 127 1 1 104.8 358.7A1.4 1.2 127 1 1 106.5 356.5M114.8 356.7A1.8 1.0 126 1 1 112.6 359.6A1.8 1.0 126 1 1 114.8 356.7M170.0 378.3A1.8 1.2 104 1 1 169.1 381.8A1.8 1.2 104 1 1 170.0 378.3M127.5 351.1A1.3 1.0 157 1 1 125.1 352.1A1.3 1.0 157 1 1 127.5 351.1M168.8 377.6A1.4 0.8 -6 1 1 171.7 377.3A1.4 0.8 -6 1 1 168.8 377.6M115.4 378.9A1.4 0.9 128 1 1 113.7 381.1A1.4 0.9 128 1 1 115.4 378.9M109.4 373.7A1.6 0.7 184 1 1 106.1 373.5A1.6 0.7 184 1 1 109.4 373.7M148.9 358.5A1.6 1.1 179 1 1 145.6 358.6A1.6 1.1 179 1 1 148.9 358.5M183.8 372.5A1.9 1.0 133 1 1 181.3 375.2A1.9 1.0 133 1 1 183.8 372.5M140.3 365.2A1.5 0.8 74 1 1 141.2 368.0A1.5 0.8 74 1 1 140.3 365.2M169.0 367.8A1.7 0.9 22 1 1 172.1 369.1A1.7 0.9 22 1 1 169.0 367.8M121.7 360.3A1.8 0.9 166 1 1 118.1 361.2A1.8 0.9 166 1 1 121.7 360.3M149.6 377.8A1.3 1.0 16 1 1 152.2 378.5A1.3 1.0 16 1 1 149.6 377.8M109.8 355.5A1.3 1.1 163 1 1 107.4 356.3A1.3 1.1 163 1 1 109.8 355.5M169.4 355.6A1.4 0.9 23 1 1 171.9 356.7A1.4 0.9 23 1 1 169.4 355.6M147.7 358.7A1.5 1.0 14 1 1 150.6 359.4A1.5 1.0 14 1 1 147.7 358.7M122.5 380.9A1.6 1.2 -12 1 1 125.6 380.2A1.6 1.2 -12 1 1 122.5 380.9M137.3 358.3A1.5 0.8 111 1 1 136.2 361.1A1.5 0.8 111 1 1 137.3 358.3M107.9 366.2A1.4 1.1 81 1 1 108.3 369.0A1.4 1.1 81 1 1 107.9 366.2M118.3 354.7A1.3 1.0 149 1 1 116.0 356.1A1.3 1.0 149 1 1 118.3 354.7M132.3 375.0A1.8 1.0 164 1 1 128.9 376.0A1.8 1.0 164 1 1 132.3 375.0M170.5 352.8A1.9 1.0 141 1 1 167.7 355.1A1.9 1.0 141 1 1 170.5 352.8M137.2 369.2A1.1 1.0 88 1 1 137.3 371.4A1.1 1.0 88 1 1 137.2 369.2M92.8 366.3A1.8 1.0 154 1 1 89.5 367.9A1.8 1.0 154 1 1 92.8 366.3M89.4 369.6A1.4 0.8 141 1 1 87.3 371.3A1.4 0.8 141 1 1 89.4 369.6M82.2 366.1A1.3 0.8 87 1 1 82.4 368.7A1.3 0.8 87 1 1 82.2 366.1M153.9 349.9A1.3 0.8 118 1 1 152.7 352.1A1.3 0.8 118 1 1 153.9 349.9M160.6 365.1A1.7 1.1 -8 1 1 164.0 364.7A1.7 1.1 -8 1 1 160.6 365.1M165.3 351.7A1.6 1.1 24 1 1 168.3 353.1A1.6 1.1 24 1 1 165.3 351.7M79.2 328.4A1.2 0.7 103 1 1 78.7 330.6A1.2 0.7 103 1 1 79.2 328.4M74.3 344.8A1.3 0.8 102 1 1 73.7 347.3A1.3 0.8 102 1 1 74.3 344.8M110.6 289.8A1.6 0.6 101 1 1 109.9 293.0A1.6 0.6 101 1 1 110.6 289.8M107.3 306.6A1.3 0.6 101 1 1 106.8 309.3A1.3 0.6 101 1 1 107.3 306.6M105.5 315.5A1.5 0.8 114 1 1 104.2 318.2A1.5 0.8 114 1 1 105.5 315.5M129.8 294.9A1.2 0.8 99 1 1 129.4 297.3A1.2 0.8 99 1 1 129.8 294.9M131.3 297.9A1.7 0.8 97 1 1 130.9 301.2A1.7 0.8 97 1 1 131.3 297.9M130.9 299.3A1.1 0.8 106 1 1 130.3 301.5A1.1 0.8 106 1 1 130.9 299.3M117.9 345.6A1.6 0.9 93 1 1 117.7 348.8A1.6 0.9 93 1 1 117.9 345.6M151.6 287.1A1.7 0.7 108 1 1 150.5 290.3A1.7 0.7 108 1 1 151.6 287.1M146.5 301.7A1.3 0.6 109 1 1 145.7 304.1A1.3 0.6 109 1 1 146.5 301.7M142.7 315.3A1.7 0.6 106 1 1 141.8 318.5A1.7 0.6 106 1 1 142.7 315.3M137.7 337.8A1.2 0.7 98 1 1 137.3 340.3A1.2 0.7 98 1 1 137.7 337.8M168.8 309.6A1.3 0.6 106 1 1 168.1 312.0A1.3 0.6 106 1 1 168.8 309.6M175.2 292.1A1.2 0.6 86 1 1 175.4 294.6A1.2 0.6 86 1 1 175.2 292.1M177.6 303.6A1.6 0.6 89 1 1 177.7 306.9A1.6 0.6 89 1 1 177.6 303.6M177.9 332.6A1.5 0.9 79 1 1 178.5 335.6A1.5 0.9 79 1 1 177.9 332.6M71.9 360.7A1.6 0.9 190 1 1 68.8 360.1A1.6 0.9 190 1 1 71.9 360.7M79.9 347.0A1.3 0.8 421 1 1 81.1 349.2A1.3 0.8 421 1 1 79.9 347.0"/>
<path fill="#4d58a8" fill-opacity="0.6" d="M52.4 361.8A1.6 1.0 23 1 1 55.2 363.0A1.6 1.0 23 1 1 52.4 361.8M54.0 315.7A1.3 1.1 129 1 1 52.4 317.8A1.3 1.1 129 1 1 54.0 315.7M77.1 331.7A1.6 1.0 110 1 1 76.1 334.7A1.6 1.0 110 1 1 77.1 331.7M74.0 351.8A1.2 0.8 10 1 1 76.4 352.2A1.2 0.8 10 1 1 74.0 351.8M81.0 331.1A1.4 1.1 157 1 1 78.3 332.2A1.4 1.1 157 1 1 81.0 331.1M179.5 361.8A1.7 0.9 103 1 1 178.7 365.2A1.7 0.9 103 1 1 179.5 361.8M167.8 314.8A1.1 1.0 58 1 1 169.0 316.6A1.1 1.0 58 1 1 167.8 314.8M176.6 377.8A1.7 0.8 38 1 1 179.3 379.9A1.7 0.8 38 1 1 176.6 377.8M180.2 374.0A1.4 1.0 47 1 1 182.1 376.1A1.4 1.0 47 1 1 180.2 374.0M185.7 306.4A1.8 1.2 97 1 1 185.2 310.0A1.8 1.2 97 1 1 185.7 306.4M177.0 359.1A1.3 1.2 67 1 1 178.0 361.5A1.3 1.2 67 1 1 177.0 359.1M182.8 316.3A1.3 1.1 130 1 1 181.2 318.2A1.3 1.1 130 1 1 182.8 316.3M169.9 321.9A1.3 0.7 132 1 1 168.1 323.9A1.3 0.7 132 1 1 169.9 321.9M185.0 291.6A1.8 0.8 109 1 1 183.9 294.9A1.8 0.8 109 1 1 185.0 291.6M172.0 368.9A1.5 0.8 49 1 1 174.0 371.1A1.5 0.8 49 1 1 172.0 368.9M107.5 336.3A1.6 1.0 161 1 1 104.5 337.3A1.6 1.0 161 1 1 107.5 336.3M135.6 346.9A1.7 0.8 44 1 1 138.0 349.2A1.7 0.8 44 1 1 135.6 346.9M131.9 350.5A1.9 0.9 -18 1 1 135.5 349.3A1.9 0.9 -18 1 1 131.9 350.5M185.2 363.2A1.2 0.9 30 1 1 187.4 364.4A1.2 0.9 30 1 1 185.2 363.2M103.9 369.2A1.6 1.2 110 1 1 102.8 372.2A1.6 1.2 110 1 1 103.9 369.2M101.4 352.7A1.8 1.0 84 1 1 101.7 356.3A1.8 1.0 84 1 1 101.4 352.7M148.5 373.6A1.3 1.0 145 1 1 146.4 375.1A1.3 1.0 145 1 1 148.5 373.6M150.4 364.9A1.5 1.0 123 1 1 148.7 367.5A1.5 1.0 123 1 1 150.4 364.9M169.2 372.9A1.8 0.9 9 1 1 172.8 373.5A1.8 0.9 9 1 1 169.2 372.9M139.3 363.4A1.5 0.9 -5 1 1 142.3 363.2A1.5 0.9 -5 1 1 139.3 363.4M94.0 369.0A1.3 0.8 4 1 1 96.5 369.2A1.3 0.8 4 1 1 94.0 369.0M153.2 349.1A1.1 1.0 90 1 1 153.2 351.3A1.1 1.0 90 1 1 153.2 349.1M103.3 351.9A1.9 0.9 165 1 1 99.7 352.9A1.9 0.9 165 1 1 103.3 351.9M107.6 355.1A1.6 1.0 120 1 1 106.0 357.9A1.6 1.0 120 1 1 107.6 355.1M170.1 363.1A1.4 1.1 32 1 1 172.5 364.6A1.4 1.1 32 1 1 170.1 363.1M127.6 355.5A1.3 0.8 152 1 1 125.2 356.7A1.3 0.8 152 1 1 127.6 355.5M129.1 375.6A1.4 0.8 68 1 1 130.1 378.2A1.4 0.8 68 1 1 129.1 375.6M138.5 371.0A1.9 1.2 89 1 1 138.6 374.7A1.9 1.2 89 1 1 138.5 371.0M95.7 350.7A1.4 0.7 70 1 1 96.7 353.4A1.4 0.7 70 1 1 95.7 350.7M85.3 369.5A1.9 1.2 130 1 1 83.0 372.3A1.9 1.2 130 1 1 85.3 369.5M84.8 362.0A1.9 0.8 119 1 1 83.0 365.3A1.9 0.8 119 1 1 84.8 362.0M165.5 355.0A1.5 0.9 105 1 1 164.7 357.9A1.5 0.9 105 1 1 165.5 355.0M153.6 346.6A1.8 0.8 32 1 1 156.6 348.5A1.8 0.8 32 1 1 153.6 346.6M84.6 302.2A1.6 0.7 103 1 1 83.8 305.3A1.6 0.7 103 1 1 84.6 302.2M76.3 325.5A1.6 0.8 103 1 1 75.6 328.5A1.6 0.8 103 1 1 76.3 325.5M80.6 338.4A1.9 0.8 98 1 1 80.0 342.1A1.9 0.8 98 1 1 80.6 338.4M106.0 310.3A1.5 0.7 98 1 1 105.6 313.3A1.5 0.7 98 1 1 106.0 310.3M103.8 310.8A1.2 0.6 98 1 1 103.4 313.3A1.2 0.6 98 1 1 103.8 310.8M96.5 339.5A1.6 0.9 99 1 1 96.0 342.6A1.6 0.9 99 1 1 96.5 339.5M96.8 350.4A1.5 0.7 109 1 1 95.8 353.2A1.5 0.7 109 1 1 96.8 350.4M122.6 329.8A1.4 0.6 95 1 1 122.4 332.6A1.4 0.6 95 1 1 122.6 329.8M120.5 341.9A1.8 0.9 110 1 1 119.3 345.3A1.8 0.9 110 1 1 120.5 341.9M150.3 288.5A1.7 0.6 94 1 1 150.1 291.9A1.7 0.6 94 1 1 150.3 288.5M151.5 289.6A1.5 0.9 97 1 1 151.1 292.6A1.5 0.9 97 1 1 151.5 289.6M140.6 322.9A1.8 0.6 102 1 1 139.8 326.4A1.8 0.6 102 1 1 140.6 322.9M170.5 293.2A1.5 0.8 100 1 1 169.9 296.1A1.5 0.8 100 1 1 170.5 293.2M162.7 321.9A1.3 0.9 96 1 1 162.4 324.6A1.3 0.9 96 1 1 162.7 321.9M159.7 337.9A1.6 0.6 93 1 1 159.5 341.0A1.6 0.6 93 1 1 159.7 337.9M176.9 304.4A1.3 0.9 83 1 1 177.2 306.9A1.3 0.9 83 1 1 176.9 304.4M180.9 344.4A1.7 0.6 77 1 1 181.7 347.7A1.7 0.6 77 1 1 180.9 344.4M79.8 353.6A1.6 0.7 103 1 1 79.1 356.7A1.6 0.7 103 1 1 79.8 353.6"/>
<path fill="#4d58a8" fill-opacity="0.75" d="M52.4 338.8A1.6 1.0 20 1 1 55.5 339.9A1.6 1.0 20 1 1 52.4 338.8M81.2 348.5A1.4 0.8 165 1 1 78.4 349.2A1.4 0.8 165 1 1 81.2 348.5M51.4 328.8A1.2 1.0 19 1 1 53.7 329.6A1.2 1.0 19 1 1 51.4 328.8M54.9 328.3A1.6 0.8 65 1 1 56.3 331.3A1.6 0.8 65 1 1 54.9 328.3M72.3 339.4A1.2 0.8 166 1 1 69.9 340.0A1.2 0.8 166 1 1 72.3 339.4M65.3 340.5A1.7 1.1 2 1 1 68.7 340.6A1.7 1.1 2 1 1 65.3 340.5M77.8 342.3A1.9 1.1 76 1 1 78.7 345.9A1.9 1.1 76 1 1 77.8 342.3M55.5 313.5A1.9 1.2 104 1 1 54.6 317.1A1.9 1.2 104 1 1 55.5 313.5M86.5 296.2A1.4 0.8 35 1 1 88.7 297.7A1.4 0.8 35 1 1 86.5 296.2M78.7 298.1A1.8 0.7 55 1 1 80.8 301.1A1.8 0.7 55 1 1 78.7 298.1M177.6 316.5A1.6 1.1 84 1 1 178.0 319.7A1.6 1.1 84 1 1 177.6 316.5M172.2 306.1A1.4 0.8 64 1 1 173.3 308.6A1.4 0.8 64 1 1 172.2 306.1M168.8 359.4A1.3 0.7 79 1 1 169.3 362.0A1.3 0.7 79 1 1 168.8 359.4M177.2 370.7A1.1 1.0 102 1 1 176.7 373.0A1.1 1.0 102 1 1 177.2 370.7M186.8 305.9A1.1 0.9 102 1 1 186.3 308.1A1.1 0.9 102 1 1 186.8 305.9M176.5 314.3A1.5 0.9 58 1 1 178.0 316.7A1.5 0.9 58 1 1 176.5 314.3M179.1 355.1A1.1 1.0 58 1 1 180.3 357.0A1.1 1.0 58 1 1 179.1 355.1M156.3 336.8A1.5 1.0 155 1 1 153.5 338.1A1.5 1.0 155 1 1 156.3 336.8M149.8 345.7A1.8 0.7 78 1 1 150.5 349.2A1.8 0.7 78 1 1 149.8 345.7M163.6 349.6A1.3 1.1 91 1 1 163.6 352.2A1.3 1.1 91 1 1 163.6 349.6M161.5 359.4A1.8 0.8 83 1 1 162.0 363.0A1.8 0.8 83 1 1 161.5 359.4M152.8 369.8A1.6 1.2 79 1 1 153.4 372.9A1.6 1.2 79 1 1 152.8 369.8M168.9 380.7A1.3 0.9 -9 1 1 171.6 380.3A1.3 0.9 -9 1 1 168.9 380.7M155.3 378.6A1.8 0.9 110 1 1 154.1 382.0A1.8 0.9 110 1 1 155.3 378.6M101.1 351.9A1.6 1.2 82 1 1 101.6 355.0A1.6 1.2 82 1 1 101.1 351.9M99.3 378.6A1.4 0.9 64 1 1 100.5 381.0A1.4 0.9 64 1 1 99.3 378.6M109.6 364.3A1.2 1.1 133 1 1 108.0 366.0A1.2 1.1 133 1 1 109.6 364.3M117.9 359.6A1.5 1.2 71 1 1 118.9 362.4A1.5 1.2 71 1 1 117.9 359.6M149.4 378.8A1.2 1.0 92 1 1 149.3 381.2A1.2 1.0 92 1 1 149.4 378.8M162.7 358.4A1.6 1.1 140 1 1 160.3 360.5A1.6 1.1 140 1 1 162.7 358.4M157.8 375.7A1.3 1.2 27 1 1 160.2 376.9A1.3 1.2 27 1 1 157.8 375.7M121.8 369.0A1.8 1.2 143 1 1 118.9 371.3A1.8 1.2 143 1 1 121.8 369.0M154.1 377.2A1.1 0.7 124 1 1 152.8 379.1A1.1 0.7 124 1 1 154.1 377.2M164.4 379.2A1.5 1.0 138 1 1 162.1 381.3A1.5 1.0 138 1 1 164.4 379.2M142.7 371.0A1.9 1.2 57 1 1 144.8 374.2A1.9 1.2 57 1 1 142.7 371.0M106.3 365.8A1.8 1.1 4 1 1 109.9 366.0A1.8 1.1 4 1 1 106.3 365.8M179.9 374.4A1.6 0.9 21 1 1 182.8 375.5A1.6 0.9 21 1 1 179.9 374.4M185.1 351.4A1.7 1.1 -1 1 1 188.6 351.4A1.7 1.1 -1 1 1 185.1 351.4M181.1 356.5A1.5 1.1 130 1 1 179.1 358.9A1.5 1.1 130 1 1 181.1 356.5M163.2 373.6A1.5 0.7 61 1 1 164.7 376.2A1.5 0.7 61 1 1 163.2 373.6M81.4 369.2A1.8 0.7 65 1 1 83.0 372.5A1.8 0.7 65 1 1 81.4 369.2M96.4 363.0A1.8 1.0 133 1 1 94.0 365.6A1.8 1.0 133 1 1 96.4 363.0M157.4 362.4A1.6 0.9 55 1 1 159.2 364.9A1.6 0.9 55 1 1 157.4 362.4M157.6 344.6A1.3 0.9 115 1 1 156.5 347.0A1.3 0.9 115 1 1 157.6 344.6M157.8 349.3A1.7 1.1 49 1 1 160.0 351.8A1.7 1.1 49 1 1 157.8 349.3M80.1 305.7A1.6 0.7 93 1 1 80.0 308.8A1.6 0.7 93 1 1 80.1 305.7M81.0 330.0A1.6 0.7 101 1 1 80.5 333.0A1.6 0.7 101 1 1 81.0 330.0M75.5 331.1A1.3 0.8 91 1 1 75.5 333.6A1.3 0.8 91 1 1 75.5 331.1M130.7 301.0A1.5 0.8 94 1 1 130.5 303.9A1.5 0.8 94 1 1 130.7 301.0M128.1 302.2A1.4 0.8 96 1 1 127.8 305.0A1.4 0.8 96 1 1 128.1 302.2M127.2 303.4A1.8 0.6 92 1 1 127.1 307.1A1.8 0.6 92 1 1 127.2 303.4M128.5 308.0A1.3 0.7 102 1 1 128.0 310.5A1.3 0.7 102 1 1 128.5 308.0M126.5 315.7A1.9 0.8 100 1 1 125.9 319.3A1.9 0.8 100 1 1 126.5 315.7M124.1 322.5A1.8 0.8 107 1 1 123.0 326.0A1.8 0.8 107 1 1 124.1 322.5M123.0 324.6A1.1 0.7 96 1 1 122.7 326.8A1.1 0.7 96 1 1 123.0 324.6M149.1 299.4A1.5 0.6 97 1 1 148.8 302.5A1.5 0.6 97 1 1 149.1 299.4M143.7 319.6A1.2 0.6 100 1 1 143.2 322.0A1.2 0.6 100 1 1 143.7 319.6M178.5 300.2A1.3 0.9 81 1 1 178.9 302.8A1.3 0.9 81 1 1 178.5 300.2M176.6 311.6A1.8 0.7 94 1 1 176.4 315.3A1.8 0.7 94 1 1 176.6 311.6M74.2 360.7A1.9 0.9 172 1 1 70.5 361.2A1.9 0.9 172 1 1 74.2 360.7"/>
<path fill="#4d58a8" fill-opacity="0.9" d="M58.6 302.2A1.2 1.1 39 1 1 60.5 303.7A1.2 1.1 39 1 1 58.6 302.2M51.7 311.5A1.8 0.9 57 1 1 53.6 314.4A1.8 0.9 57 1 1 51.7 311.5M67.5 342.1A1.4 1.1 141 1 1 65.3 343.9A1.4 1.1 141 1 1 67.5 342.1M56.6 346.8A1.4 0.9 84 1 1 56.9 349.5A1.4 0.9 84 1 1 56.6 346.8M57.1 367.3A1.5 1.2 120 1 1 55.7 369.9A1.5 1.2 120 1 1 57.1 367.3M174.5 372.0A1.8 1.2 27 1 1 177.7 373.6A1.8 1.2 27 1 1 174.5 372.0M169.8 315.5A1.6 0.9 87 1 1 169.9 318.7A1.6 0.9 87 1 1 169.8 315.5M175.5 294.2A1.3 0.9 99 1 1 175.1 296.7A1.3 0.9 99 1 1 175.5 294.2M180.9 349.9A1.9 0.9 56 1 1 183.0 353.0A1.9 0.9 56 1 1 180.9 349.9M172.3 306.8A1.7 0.9 51 1 1 174.5 309.5A1.7 0.9 51 1 1 172.3 306.8M170.0 350.5A1.4 0.9 -22 1 1 172.6 349.5A1.4 0.9 -22 1 1 170.0 350.5M147.7 350.1A1.4 0.9 156 1 1 145.1 351.3A1.4 0.9 156 1 1 147.7 350.1M146.4 350.8A1.8 1.1 176 1 1 142.7 351.0A1.8 1.1 176 1 1 146.4 350.8M169.3 360.4A1.8 1.0 120 1 1 167.5 363.5A1.8 1.0 120 1 1 169.3 360.4M115.1 353.7A1.6 1.1 162 1 1 112.1 354.6A1.6 1.1 162 1 1 115.1 353.7M167.3 354.1A1.5 1.2 94 1 1 167.1 357.1A1.5 1.2 94 1 1 167.3 354.1M129.9 358.5A1.4 0.8 52 1 1 131.6 360.7A1.4 0.8 52 1 1 129.9 358.5M170.2 378.6A1.3 1.1 147 1 1 168.1 380.0A1.3 1.1 147 1 1 170.2 378.6M126.7 364.2A1.6 0.8 30 1 1 129.4 365.8A1.6 0.8 30 1 1 126.7 364.2M106.3 360.7A1.6 1.1 97 1 1 105.9 364.0A1.6 1.1 97 1 1 106.3 360.7M109.1 359.0A1.5 0.7 49 1 1 111.1 361.4A1.5 0.7 49 1 1 109.1 359.0M138.7 368.1A1.8 0.8 92 1 1 138.6 371.8A1.8 0.8 92 1 1 138.7 368.1M158.9 353.4A1.6 1.1 8 1 1 162.2 353.8A1.6 1.1 8 1 1 158.9 353.4M107.9 356.8A1.8 1.1 155 1 1 104.7 358.4A1.8 1.1 155 1 1 107.9 356.8M122.7 364.6A1.4 1.1 95 1 1 122.4 367.3A1.4 1.1 95 1 1 122.7 364.6M157.3 356.0A1.6 0.8 184 1 1 154.2 355.8A1.6 0.8 184 1 1 157.3 356.0M132.0 351.9A1.6 1.2 85 1 1 132.2 355.1A1.6 1.2 85 1 1 132.0 351.9M169.0 374.4A1.5 1.2 84 1 1 169.3 377.5A1.5 1.2 84 1 1 169.0 374.4M162.0 353.2A1.7 0.9 60 1 1 163.7 356.1A1.7 0.9 60 1 1 162.0 353.2M100.9 352.9A1.2 0.9 132 1 1 99.4 354.6A1.2 0.9 132 1 1 100.9 352.9M121.6 374.3A1.9 1.0 -14 1 1 125.2 373.4A1.9 1.0 -14 1 1 121.6 374.3M100.8 357.6A1.7 0.8 77 1 1 101.6 360.9A1.7 0.8 77 1 1 100.8 357.6M124.7 377.1A1.5 0.9 76 1 1 125.5 380.1A1.5 0.9 76 1 1 124.7 377.1M161.6 379.6A1.2 1.0 174 1 1 159.1 379.9A1.2 1.0 174 1 1 161.6 379.6M137.9 354.3A1.4 1.2 99 1 1 137.4 357.1A1.4 1.2 99 1 1 137.9 354.3M133.4 354.2A1.5 0.9 53 1 1 135.2 356.7A1.5 0.9 53 1 1 133.4 354.2M168.9 352.1A1.6 0.9 42 1 1 171.4 354.2A1.6 0.9 42 1 1 168.9 352.1M124.1 370.9A1.4 0.8 152 1 1 121.6 372.2A1.4 0.8 152 1 1 124.1 370.9M98.5 362.3A1.4 1.1 147 1 1 96.2 363.8A1.4 1.1 147 1 1 98.5 362.3M85.9 352.3A1.6 0.8 112 1 1 84.7 355.3A1.6 0.8 112 1 1 85.9 352.3M91.4 354.0A1.2 1.1 36 1 1 93.3 355.5A1.2 1.1 36 1 1 91.4 354.0M88.8 353.2A1.2 1.2 191 1 1 86.4 352.8A1.2 1.2 191 1 1 88.8 353.2M89.6 357.4A1.7 0.8 158 1 1 86.4 358.7A1.7 0.8 158 1 1 89.6 357.4M82.9 356.8A1.6 0.8 -13 1 1 86.1 356.1A1.6 0.8 -13 1 1 82.9 356.8M178.6 371.1A1.4 1.1 104 1 1 177.9 373.8A1.4 1.1 104 1 1 178.6 371.1M107.8 379.2A1.3 1.2 162 1 1 105.4 380.0A1.3 1.2 162 1 1 107.8 379.2M165.6 356.1A1.8 0.9 94 1 1 165.3 359.6A1.8 0.9 94 1 1 165.6 356.1M171.4 348.3A1.8 0.9 126 1 1 169.3 351.1A1.8 0.9 126 1 1 171.4 348.3M88.2 287.3A1.7 0.9 91 1 1 88.1 290.7A1.7 0.9 91 1 1 88.2 287.3M79.4 328.0A1.8 0.7 105 1 1 78.5 331.4A1.8 0.7 105 1 1 79.4 328.0M101.1 328.5A1.7 0.6 107 1 1 100.1 331.8A1.7 0.6 107 1 1 101.1 328.5M95.4 350.5A1.4 0.9 106 1 1 94.6 353.2A1.4 0.9 106 1 1 95.4 350.5M130.7 285.8A1.7 0.6 99 1 1 130.2 289.2A1.7 0.6 99 1 1 130.7 285.8M123.3 327.5A1.4 0.9 98 1 1 122.9 330.2A1.4 0.9 98 1 1 123.3 327.5M120.9 334.7A1.8 0.8 109 1 1 119.8 338.1A1.8 0.8 109 1 1 120.9 334.7M150.8 292.9A1.6 0.9 97 1 1 150.5 296.0A1.6 0.9 97 1 1 150.8 292.9M145.8 303.7A1.3 0.7 100 1 1 145.4 306.3A1.3 0.7 100 1 1 145.8 303.7M141.0 327.1A1.2 0.7 107 1 1 140.4 329.3A1.2 0.7 107 1 1 141.0 327.1M140.0 329.8A1.2 0.7 101 1 1 139.6 332.3A1.2 0.7 101 1 1 140.0 329.8M135.5 341.7A1.7 0.9 103 1 1 134.7 345.1A1.7 0.9 103 1 1 135.5 341.7M134.8 345.4A1.9 0.8 110 1 1 133.5 349.0A1.9 0.8 110 1 1 134.8 345.4M168.7 299.0A1.2 0.9 104 1 1 168.2 301.3A1.2 0.9 104 1 1 168.7 299.0M162.6 324.8A1.5 0.7 109 1 1 161.6 327.6A1.5 0.7 109 1 1 162.6 324.8M160.3 334.6A1.7 0.7 101 1 1 159.6 337.9A1.7 0.7 101 1 1 160.3 334.6M177.9 300.4A1.8 0.9 86 1 1 178.1 304.0A1.8 0.9 86 1 1 177.9 300.4M175.1 313.2A1.5 0.7 81 1 1 175.6 316.1A1.5 0.7 81 1 1 175.1 313.2M181.6 337.2A1.4 0.6 85 1 1 181.9 340.0A1.4 0.6 85 1 1 181.6 337.2"/>
<path fill="#2c3684" fill-opacity="0.6" d="M62.6 358.5A1.3 0.8 88 1 1 62.7 361.0A1.3 0.8 88 1 1 62.6 358.5M59.4 351.1A1.3 0.9 131 1 1 57.7 353.0A1.3 0.9 131 1 1 59.4 351.1M52.7 338.4A1.2 1.0 108 1 1 52.0 340.6A1.2 1.0 108 1 1 52.7 338.4M54.0 360.7A1.7 1.0 130 1 1 51.8 363.4A1.7 1.0 130 1 1 54.0 360.7M65.8 338.7A1.2 0.9 63 1 1 66.8 340.8A1.2 0.9 63 1 1 65.8 338.7M182.2 311.5A1.4 1.2 74 1 1 183.0 314.2A1.4 1.2 74 1 1 182.2 311.5M178.0 322.3A1.6 0.8 129 1 1 176.1 324.7A1.6 0.8 129 1 1 178.0 322.3M180.9 294.9A1.2 1.0 69 1 1 181.7 297.2A1.2 1.0 69 1 1 180.9 294.9M181.7 321.1A1.8 1.1 106 1 1 180.7 324.6A1.8 1.1 106 1 1 181.7 321.1M170.6 372.1A1.9 1.1 47 1 1 173.2 374.9A1.9 1.1 47 1 1 170.6 372.1M170.4 340.5A1.5 0.9 93 1 1 170.3 343.6A1.5 0.9 93 1 1 170.4 340.5M184.2 334.7A1.4 0.8 94 1 1 184.0 337.5A1.4 0.8 94 1 1 184.2 334.7M113.6 335.5A1.4 1.0 73 1 1 114.5 338.2A1.4 1.0 73 1 1 113.6 335.5M178.0 345.7A1.2 1.1 36 1 1 179.9 347.1A1.2 1.1 36 1 1 178.0 345.7M184.4 342.6A1.6 1.1 88 1 1 184.5 345.7A1.6 1.1 88 1 1 184.4 342.6M185.5 344.5A1.3 1.2 185 1 1 183.0 344.3A1.3 1.2 185 1 1 185.5 344.5M166.3 378.3A1.2 1.1 -0 1 1 168.7 378.3A1.2 1.1 -0 1 1 166.3 378.3M101.7 353.5A1.2 1.2 25 1 1 103.9 354.5A1.2 1.2 25 1 1 101.7 353.5M128.0 371.2A1.5 0.9 104 1 1 127.3 374.1A1.5 0.9 104 1 1 128.0 371.2M142.1 374.1A1.1 1.1 177 1 1 139.9 374.2A1.1 1.1 177 1 1 142.1 374.1M171.0 378.2A1.7 0.9 72 1 1 172.1 381.4A1.7 0.9 72 1 1 171.0 378.2M147.6 364.8A1.8 1.1 96 1 1 147.2 368.4A1.8 1.1 96 1 1 147.6 364.8M100.4 375.6A1.2 1.1 135 1 1 98.7 377.3A1.2 1.1 135 1 1 100.4 375.6M174.5 356.6A1.2 1.1 152 1 1 172.5 357.7A1.2 1.1 152 1 1 174.5 356.6M148.9 358.0A1.1 1.1 156 1 1 146.8 358.9A1.1 1.1 156 1 1 148.9 358.0M185.8 368.2A1.4 1.2 89 1 1 185.8 371.0A1.4 1.2 89 1 1 185.8 368.2M152.0 368.0A1.6 1.1 10 1 1 155.0 368.5A1.6 1.1 10 1 1 152.0 368.0M148.8 370.8A1.5 0.7 165 1 1 146.0 371.6A1.5 0.7 165 1 1 148.8 370.8M160.8 351.3A1.8 0.9 33 1 1 163.8 353.2A1.8 0.9 33 1 1 160.8 351.3M130.2 354.4A1.5 1.1 95 1 1 129.9 357.4A1.5 1.1 95 1 1 130.2 354.4M156.5 371.3A1.2 1.2 62 1 1 157.6 373.4A1.2 1.2 62 1 1 156.5 371.3M96.9 361.4A1.5 0.9 89 1 1 96.9 364.4A1.5 0.9 89 1 1 96.9 361.4M176.3 362.8A1.2 1.1 44 1 1 178.0 364.4A1.2 1.1 44 1 1 176.3 362.8M128.2 365.5A1.5 1.1 69 1 1 129.3 368.3A1.5 1.1 69 1 1 128.2 365.5M184.2 350.9A1.3 1.2 34 1 1 186.3 352.4A1.3 1.2 34 1 1 184.2 350.9M150.2 368.6A1.5 0.8 103 1 1 149.5 371.4A1.5 0.8 103 1 1 150.2 368.6M100.7 369.6A1.3 0.8 101 1 1 100.2 372.1A1.3 0.8 101 1 1 100.7 369.6M79.0 361.9A1.6 1.2 39 1 1 81.6 363.9A1.6 1.2 39 1 1 79.0 361.9M99.0 363.0A1.1 0.9 173 1 1 96.7 363.3A1.1 0.9 173 1 1 99.0 363.0M163.3 343.6A1.2 1.1 96 1 1 163.1 346.1A1.2 1.1 96 1 1 163.3 343.6M77.9 313.1A1.4 0.7 96 1 1 77.6 315.9A1.4 0.7 96 1 1 77.9 313.1M81.3 322.1A1.4 0.9 95 1 1 81.1 324.8A1.4 0.9 95 1 1 81.3 322.1M78.4 341.0A1.6 0.7 102 1 1 77.7 344.2A1.6 0.7 102 1 1 78.4 341.0M106.5 302.3A1.2 0.7 94 1 1 106.4 304.7A1.2 0.7 94 1 1 106.5 302.3M99.6 335.1A1.2 0.6 110 1 1 98.7 337.5A1.2 0.6 110 1 1 99.6 335.1M95.3 345.3A1.5 0.7 106 1 1 94.5 348.2A1.5 0.7 106 1 1 95.3 345.3M127.4 312.2A1.5 0.9 97 1 1 127.0 315.2A1.5 0.9 97 1 1 127.4 312.2M125.6 312.8A1.2 0.7 97 1 1 125.3 315.1A1.2 0.7 97 1 1 125.6 312.8M121.4 329.8A1.6 0.9 103 1 1 120.7 332.9A1.6 0.9 103 1 1 121.4 329.8M137.2 335.6A1.9 0.7 100 1 1 136.6 339.2A1.9 0.7 100 1 1 137.2 335.6M168.3 303.9A1.3 0.8 102 1 1 167.8 306.3A1.3 0.8 102 1 1 168.3 303.9M80.6 355.1A1.6 0.8 121 1 1 79.0 357.8A1.6 0.8 121 1 1 80.6 355.1M62.7 354.2A1.8 0.8 281 1 1 63.5 350.6A1.8 0.8 281 1 1 62.7 354.2M71.7 354.5A1.7 0.9 93 1 1 71.5 357.9A1.7 0.9 93 1 1 71.7 354.5"/>
<path fill="#2c3684" fill-opacity="0.75" d="M62.2 358.7A1.3 0.8 176 1 1 59.6 358.9A1.3 0.8 176 1 1 62.2 358.7M56.5 318.9A1.7 1.1 182 1 1 53.1 318.8A1.7 1.1 182 1 1 56.5 318.9M55.1 339.5A1.3 1.0 20 1 1 57.5 340.4A1.3 1.0 20 1 1 55.1 339.5M61.5 364.2A1.8 1.2 151 1 1 58.3 366.0A1.8 1.2 151 1 1 61.5 364.2M64.1 337.6A1.8 1.0 128 1 1 61.9 340.4A1.8 1.0 128 1 1 64.1 337.6M183.4 293.4A1.7 0.9 27 1 1 186.4 294.9A1.7 0.9 27 1 1 183.4 293.4M179.1 328.9A1.5 1.2 60 1 1 180.7 331.6A1.5 1.2 60 1 1 179.1 328.9M178.6 325.8A1.3 1.2 75 1 1 179.4 328.3A1.3 1.2 75 1 1 178.6 325.8M185.8 312.6A1.8 0.8 51 1 1 188.1 315.4A1.8 0.8 51 1 1 185.8 312.6M182.0 358.8A1.2 0.8 95 1 1 181.8 361.1A1.2 0.8 95 1 1 182.0 358.8M141.7 339.0A1.4 0.9 182 1 1 138.9 338.9A1.4 0.9 182 1 1 141.7 339.0M137.8 342.4A1.7 1.0 95 1 1 137.5 345.7A1.7 1.0 95 1 1 137.8 342.4M103.0 349.7A1.2 1.2 18 1 1 105.3 350.5A1.2 1.2 18 1 1 103.0 349.7M128.7 345.4A1.7 1.0 36 1 1 131.4 347.3A1.7 1.0 36 1 1 128.7 345.4M149.9 379.6A1.8 1.1 37 1 1 152.8 381.8A1.8 1.1 37 1 1 149.9 379.6M176.9 371.5A1.8 1.2 65 1 1 178.4 374.9A1.8 1.2 65 1 1 176.9 371.5M102.8 379.0A1.4 0.9 44 1 1 104.8 381.0A1.4 0.9 44 1 1 102.8 379.0M163.3 372.9A1.5 1.2 120 1 1 161.8 375.5A1.5 1.2 120 1 1 163.3 372.9M129.1 374.5A1.6 1.2 32 1 1 131.9 376.2A1.6 1.2 32 1 1 129.1 374.5M164.0 354.1A1.7 1.1 88 1 1 164.1 357.5A1.7 1.1 88 1 1 164.0 354.1M133.6 355.4A1.4 0.7 123 1 1 132.1 357.7A1.4 0.7 123 1 1 133.6 355.4M108.3 359.7A1.8 1.2 131 1 1 106.0 362.4A1.8 1.2 131 1 1 108.3 359.7M184.8 369.1A1.5 0.9 97 1 1 184.4 372.1A1.5 0.9 97 1 1 184.8 369.1M118.9 369.3A1.5 0.8 168 1 1 116.0 369.9A1.5 0.8 168 1 1 118.9 369.3M117.4 366.9A1.8 0.9 173 1 1 113.9 367.3A1.8 0.9 173 1 1 117.4 366.9M157.0 378.7A1.3 1.2 99 1 1 156.6 381.2A1.3 1.2 99 1 1 157.0 378.7M177.0 376.5A1.5 0.7 23 1 1 179.8 377.6A1.5 0.7 23 1 1 177.0 376.5M104.3 363.4A1.7 0.7 67 1 1 105.6 366.4A1.7 0.7 67 1 1 104.3 363.4M184.7 374.7A1.8 0.9 35 1 1 187.7 376.8A1.8 0.9 35 1 1 184.7 374.7M168.4 353.9A1.8 0.8 164 1 1 164.9 354.9A1.8 0.8 164 1 1 168.4 353.9M94.3 371.4A1.9 0.8 16 1 1 97.9 372.4A1.9 0.8 16 1 1 94.3 371.4M109.0 361.8A1.4 0.9 86 1 1 109.2 364.5A1.4 0.9 86 1 1 109.0 361.8M114.5 360.1A1.2 0.9 29 1 1 116.7 361.3A1.2 0.9 29 1 1 114.5 360.1M156.5 367.8A1.3 0.8 135 1 1 154.6 369.6A1.3 0.8 135 1 1 156.5 367.8M181.3 364.9A1.3 0.8 92 1 1 181.2 367.6A1.3 0.8 92 1 1 181.3 364.9M161.5 359.0A1.5 1.2 152 1 1 158.9 360.3A1.5 1.2 152 1 1 161.5 359.0M153.2 378.9A1.8 1.2 78 1 1 154.0 382.4A1.8 1.2 78 1 1 153.2 378.9M135.8 372.6A1.7 1.0 27 1 1 138.9 374.2A1.7 1.0 27 1 1 135.8 372.6M117.8 359.9A1.6 0.8 124 1 1 116.0 362.6A1.6 0.8 124 1 1 117.8 359.9M94.2 356.1A1.7 1.0 88 1 1 94.4 359.6A1.7 1.0 88 1 1 94.2 356.1M83.5 358.6A1.3 1.1 118 1 1 82.3 360.9A1.3 1.1 118 1 1 83.5 358.6M84.3 347.1A1.8 0.7 134 1 1 81.8 349.7A1.8 0.7 134 1 1 84.3 347.1M122.4 375.5A1.6 1.2 3 1 1 125.6 375.7A1.6 1.2 3 1 1 122.4 375.5M158.4 344.7A1.8 0.8 98 1 1 157.9 348.4A1.8 0.8 98 1 1 158.4 344.7M159.0 363.0A1.9 1.1 162 1 1 155.5 364.2A1.9 1.1 162 1 1 159.0 363.0M164.2 350.3A1.6 0.8 4 1 1 167.5 350.6A1.6 0.8 4 1 1 164.2 350.3M166.1 363.3A1.6 0.8 132 1 1 164.0 365.6A1.6 0.8 132 1 1 166.1 363.3M168.6 357.5A1.7 1.0 73 1 1 169.5 360.7A1.7 1.0 73 1 1 168.6 357.5M81.8 308.6A1.3 0.7 88 1 1 81.9 311.2A1.3 0.7 88 1 1 81.8 308.6M107.1 300.9A1.4 0.7 103 1 1 106.5 303.7A1.4 0.7 103 1 1 107.1 300.9M105.4 312.0A1.7 0.8 112 1 1 104.1 315.1A1.7 0.8 112 1 1 105.4 312.0M104.0 313.6A1.6 0.9 100 1 1 103.5 316.9A1.6 0.9 100 1 1 104.0 313.6M96.1 338.7A1.4 0.6 106 1 1 95.3 341.5A1.4 0.6 106 1 1 96.1 338.7M129.2 311.4A1.4 0.7 107 1 1 128.3 314.1A1.4 0.7 107 1 1 129.2 311.4M122.9 326.5A1.8 0.8 108 1 1 121.8 330.0A1.8 0.8 108 1 1 122.9 326.5M149.2 287.2A1.4 0.7 103 1 1 148.6 289.8A1.4 0.7 103 1 1 149.2 287.2M138.9 333.7A1.5 0.8 104 1 1 138.1 336.7A1.5 0.8 104 1 1 138.9 333.7M168.2 291.7A1.4 0.7 88 1 1 168.3 294.5A1.4 0.7 88 1 1 168.2 291.7M80.2 357.0A1.8 0.8 119 1 1 78.4 360.2A1.8 0.8 119 1 1 80.2 357.0M70.5 361.4A1.4 0.9 199 1 1 67.8 360.5A1.4 0.9 199 1 1 70.5 361.4M64.9 352.1A1.6 0.9 284 1 1 65.7 349.0A1.6 0.9 284 1 1 64.9 352.1M71.7 346.3A1.3 0.9 374 1 1 74.2 346.9A1.3 0.9 374 1 1 71.7 346.3M76.2 349.4A1.6 1.1 146 1 1 73.5 351.2A1.6 1.1 146 1 1 76.2 349.4"/>
<path fill="#2c3684" fill-opacity="0.9" d="M55.7 364.6A1.4 1.0 28 1 1 58.1 365.9A1.4 1.0 28 1 1 55.7 364.6M65.3 368.1A1.3 0.9 -22 1 1 67.8 367.1A1.3 0.9 -22 1 1 65.3 368.1M55.1 361.9A1.7 0.9 29 1 1 58.0 363.5A1.7 0.9 29 1 1 55.1 361.9M72.9 341.0A1.2 0.7 157 1 1 70.6 342.0A1.2 0.7 157 1 1 72.9 341.0M58.1 343.7A1.3 0.9 136 1 1 56.3 345.4A1.3 0.9 136 1 1 58.1 343.7M75.2 361.2A1.2 0.8 121 1 1 74.1 363.2A1.2 0.8 121 1 1 75.2 361.2M69.9 364.1A1.2 1.1 130 1 1 68.4 365.9A1.2 1.1 130 1 1 69.9 364.1M55.4 326.0A1.9 1.1 46 1 1 58.0 328.7A1.9 1.1 46 1 1 55.4 326.0M78.6 300.0A1.6 0.9 54 1 1 80.5 302.7A1.6 0.9 54 1 1 78.6 300.0M185.4 376.9A1.1 1.0 97 1 1 185.1 379.1A1.1 1.0 97 1 1 185.4 376.9M183.1 328.1A1.8 0.9 86 1 1 183.3 331.6A1.8 0.9 86 1 1 183.1 328.1M177.2 331.1A1.5 0.8 105 1 1 176.4 334.1A1.5 0.8 105 1 1 177.2 331.1M171.8 338.4A1.7 1.1 57 1 1 173.6 341.2A1.7 1.1 57 1 1 171.8 338.4M105.3 338.4A1.2 1.2 119 1 1 104.2 340.5A1.2 1.2 119 1 1 105.3 338.4M138.5 339.4A1.5 1.0 4 1 1 141.6 339.6A1.5 1.0 4 1 1 138.5 339.4M172.2 345.7A1.4 0.9 131 1 1 170.4 347.8A1.4 0.9 131 1 1 172.2 345.7M106.1 350.1A1.7 1.1 176 1 1 102.6 350.3A1.7 1.1 176 1 1 106.1 350.1M131.2 345.5A1.6 1.1 104 1 1 130.4 348.6A1.6 1.1 104 1 1 131.2 345.5M157.8 365.4A1.4 0.9 13 1 1 160.4 366.0A1.4 0.9 13 1 1 157.8 365.4M156.7 377.4A1.8 0.7 30 1 1 159.8 379.2A1.8 0.7 30 1 1 156.7 377.4M161.6 354.3A1.2 0.7 11 1 1 163.9 354.7A1.2 0.7 11 1 1 161.6 354.3M157.7 351.3A1.2 1.1 93 1 1 157.6 353.7A1.2 1.1 93 1 1 157.7 351.3M122.9 349.4A1.4 0.8 80 1 1 123.3 352.1A1.4 0.8 80 1 1 122.9 349.4M157.7 356.0A1.1 1.0 158 1 1 155.6 356.9A1.1 1.0 158 1 1 157.7 356.0M105.0 366.1A1.5 1.2 155 1 1 102.4 367.4A1.5 1.2 155 1 1 105.0 366.1M169.3 374.1A1.3 1.1 146 1 1 167.1 375.6A1.3 1.1 146 1 1 169.3 374.1M111.0 359.5A1.3 1.1 96 1 1 110.8 362.0A1.3 1.1 96 1 1 111.0 359.5M139.4 352.7A1.1 0.7 59 1 1 140.5 354.6A1.1 0.7 59 1 1 139.4 352.7M166.1 353.1A1.4 0.9 98 1 1 165.8 356.0A1.4 0.9 98 1 1 166.1 353.1M151.1 362.8A1.2 1.0 130 1 1 149.6 364.6A1.2 1.0 130 1 1 151.1 362.8M97.6 352.5A1.5 1.1 178 1 1 94.6 352.6A1.5 1.1 178 1 1 97.6 352.5M157.7 375.9A1.6 0.8 121 1 1 156.0 378.7A1.6 0.8 121 1 1 157.7 375.9M111.3 366.0A1.5 1.2 189 1 1 108.3 365.6A1.5 1.2 189 1 1 111.3 366.0M163.7 356.4A1.5 0.8 38 1 1 166.1 358.2A1.5 0.8 38 1 1 163.7 356.4M126.5 360.1A1.5 1.2 31 1 1 129.0 361.6A1.5 1.2 31 1 1 126.5 360.1M124.7 361.1A1.9 1.1 154 1 1 121.4 362.7A1.9 1.1 154 1 1 124.7 361.1M98.1 379.3A1.5 1.2 66 1 1 99.4 382.2A1.5 1.2 66 1 1 98.1 379.3M167.0 373.2A1.8 1.0 20 1 1 170.4 374.5A1.8 1.0 20 1 1 167.0 373.2M118.5 349.6A1.4 0.9 27 1 1 121.0 350.9A1.4 0.9 27 1 1 118.5 349.6M117.5 371.7A1.3 0.8 163 1 1 115.0 372.4A1.3 0.8 163 1 1 117.5 371.7M99.2 353.9A1.2 0.8 99 1 1 98.8 356.3A1.2 0.8 99 1 1 99.2 353.9M86.6 361.6A1.2 1.2 150 1 1 84.5 362.8A1.2 1.2 150 1 1 86.6 361.6M150.2 376.5A1.7 0.9 122 1 1 148.4 379.4A1.7 0.9 122 1 1 150.2 376.5M130.2 374.9A1.3 1.2 59 1 1 131.5 377.1A1.3 1.2 59 1 1 130.2 374.9M153.3 354.4A1.7 0.8 32 1 1 156.1 356.2A1.7 0.8 32 1 1 153.3 354.4M85.0 296.2A1.2 0.8 102 1 1 84.5 298.4A1.2 0.8 102 1 1 85.0 296.2M80.0 332.0A1.3 0.8 96 1 1 79.7 334.6A1.3 0.8 96 1 1 80.0 332.0M104.3 307.9A1.7 0.6 96 1 1 103.9 311.2A1.7 0.6 96 1 1 104.3 307.9M98.0 331.8A1.8 0.9 105 1 1 97.1 335.3A1.8 0.9 105 1 1 98.0 331.8M95.6 342.0A1.3 0.8 100 1 1 95.2 344.6A1.3 0.8 100 1 1 95.6 342.0M125.1 322.1A1.2 0.9 99 1 1 124.7 324.4A1.2 0.9 99 1 1 125.1 322.1M136.9 342.7A1.4 0.6 100 1 1 136.4 345.4A1.4 0.6 100 1 1 136.9 342.7M170.4 285.3A1.8 0.9 104 1 1 169.5 288.8A1.8 0.9 104 1 1 170.4 285.3M169.8 288.5A1.6 0.6 88 1 1 169.9 291.7A1.6 0.6 88 1 1 169.8 288.5M169.9 296.1A1.8 0.8 101 1 1 169.2 299.6A1.8 0.8 101 1 1 169.9 296.1M166.3 312.3A1.3 0.6 97 1 1 166.0 314.9A1.3 0.6 97 1 1 166.3 312.3M166.8 316.1A1.6 0.7 107 1 1 165.9 319.3A1.6 0.7 107 1 1 166.8 316.1M166.7 320.2A1.7 0.6 108 1 1 165.7 323.5A1.7 0.6 108 1 1 166.7 320.2M164.7 321.6A1.3 0.9 106 1 1 164.0 324.1A1.3 0.9 106 1 1 164.7 321.6M76.3 345.5A1.9 0.9 389 1 1 79.6 347.3A1.9 0.9 389 1 1 76.3 345.5"/>
<path fill="#5c64b0" fill-opacity="0.6" d="M57.2 339.2A1.9 1.1 68 1 1 58.6 342.7A1.9 1.1 68 1 1 57.2 339.2M70.4 335.6A1.7 1.0 34 1 1 73.3 337.6A1.7 1.0 34 1 1 70.4 335.6M79.1 306.5A1.6 1.0 160 1 1 76.1 307.6A1.6 1.0 160 1 1 79.1 306.5M183.3 320.9A1.8 1.2 76 1 1 184.2 324.4A1.8 1.2 76 1 1 183.3 320.9M106.3 336.7A1.9 1.0 52 1 1 108.6 339.6A1.9 1.0 52 1 1 106.3 336.7M113.8 335.0A1.1 1.0 86 1 1 113.9 337.2A1.1 1.0 86 1 1 113.8 335.0M120.8 347.6A1.3 1.2 150 1 1 118.5 349.0A1.3 1.2 150 1 1 120.8 347.6M123.6 348.4A1.2 1.2 162 1 1 121.3 349.2A1.2 1.2 162 1 1 123.6 348.4M99.4 346.7A1.6 1.1 29 1 1 102.2 348.3A1.6 1.1 29 1 1 99.4 346.7M139.1 349.5A1.4 1.1 85 1 1 139.4 352.3A1.4 1.1 85 1 1 139.1 349.5M98.2 347.3A1.3 1.0 18 1 1 100.6 348.2A1.3 1.0 18 1 1 98.2 347.3M143.8 349.2A1.3 1.2 71 1 1 144.6 351.6A1.3 1.2 71 1 1 143.8 349.2M115.3 347.4A1.2 1.2 62 1 1 116.5 349.5A1.2 1.2 62 1 1 115.3 347.4M125.6 346.5A1.5 1.0 53 1 1 127.4 348.9A1.5 1.0 53 1 1 125.6 346.5M146.5 363.3A1.5 0.8 75 1 1 147.3 366.2A1.5 0.8 75 1 1 146.5 363.3M155.9 359.4A1.8 1.1 126 1 1 153.8 362.3A1.8 1.1 126 1 1 155.9 359.4M102.1 373.7A1.4 0.9 102 1 1 101.5 376.4A1.4 0.9 102 1 1 102.1 373.7M173.5 353.4A1.7 1.2 59 1 1 175.4 356.4A1.7 1.2 59 1 1 173.5 353.4M161.8 378.5A1.4 0.7 22 1 1 164.5 379.6A1.4 0.7 22 1 1 161.8 378.5M121.1 372.2A1.3 1.2 158 1 1 118.8 373.2A1.3 1.2 158 1 1 121.1 372.2M122.2 377.8A1.5 1.0 19 1 1 124.9 378.7A1.5 1.0 19 1 1 122.2 377.8M134.5 380.4A1.4 1.0 164 1 1 131.8 381.2A1.4 1.0 164 1 1 134.5 380.4M162.3 366.4A1.1 1.1 25 1 1 164.3 367.3A1.1 1.1 25 1 1 162.3 366.4M98.3 363.3A1.8 1.2 190 1 1 94.8 362.7A1.8 1.2 190 1 1 98.3 363.3M111.9 349.1A1.6 1.0 144 1 1 109.2 351.0A1.6 1.0 144 1 1 111.9 349.1M129.2 371.8A1.2 1.1 148 1 1 127.1 373.1A1.2 1.1 148 1 1 129.2 371.8M186.0 360.6A1.5 0.9 121 1 1 184.4 363.2A1.5 0.9 121 1 1 186.0 360.6M95.1 375.2A1.4 1.2 0 1 1 98.0 375.2A1.4 1.2 0 1 1 95.1 375.2M159.6 348.6A1.9 1.2 82 1 1 160.1 352.2A1.9 1.2 82 1 1 159.6 348.6M165.5 374.1A1.9 0.8 13 1 1 169.1 375.0A1.9 0.8 13 1 1 165.5 374.1M151.9 361.1A1.1 1.1 150 1 1 150.0 362.3A1.1 1.1 150 1 1 151.9 361.1M134.9 363.4A1.3 0.7 131 1 1 133.2 365.4A1.3 0.7 131 1 1 134.9 363.4M109.1 371.5A1.7 1.2 97 1 1 108.7 374.9A1.7 1.2 97 1 1 109.1 371.5M133.3 379.1A1.1 1.1 77 1 1 133.8 381.3A1.1 1.1 77 1 1 133.3 379.1M130.6 361.7A1.2 1.1 51 1 1 132.1 363.5A1.2 1.1 51 1 1 130.6 361.7M163.6 355.0A1.2 1.1 165 1 1 161.3 355.6A1.2 1.1 165 1 1 163.6 355.0M110.4 353.0A1.5 0.9 182 1 1 107.5 352.9A1.5 0.9 182 1 1 110.4 353.0M174.5 368.1A1.8 1.0 67 1 1 175.9 371.5A1.8 1.0 67 1 1 174.5 368.1M92.0 351.8A1.7 0.7 20 1 1 95.2 352.9A1.7 0.7 20 1 1 92.0 351.8M144.8 378.7A1.4 1.0 75 1 1 145.6 381.4A1.4 1.0 75 1 1 144.8 378.7M158.6 347.3A1.8 1.2 113 1 1 157.1 350.7A1.8 1.2 113 1 1 158.6 347.3M157.6 345.9A1.7 1.2 72 1 1 158.6 349.1A1.7 1.2 72 1 1 157.6 345.9M156.2 358.8A1.8 0.8 100 1 1 155.6 362.4A1.8 0.8 100 1 1 156.2 358.8M163.7 363.4A1.4 1.0 30 1 1 166.1 364.9A1.4 1.0 30 1 1 163.7 363.4M83.4 290.2A1.2 0.7 88 1 1 83.5 292.5A1.2 0.7 88 1 1 83.4 290.2M82.1 290.9A1.4 0.7 93 1 1 82.0 293.6A1.4 0.7 93 1 1 82.1 290.9M84.0 318.4A1.5 0.7 93 1 1 83.8 321.4A1.5 0.7 93 1 1 84.0 318.4M105.6 300.4A1.4 0.7 98 1 1 105.2 303.2A1.4 0.7 98 1 1 105.6 300.4M106.0 309.8A1.4 0.6 100 1 1 105.5 312.6A1.4 0.6 100 1 1 106.0 309.8M104.3 320.9A1.8 0.6 114 1 1 102.8 324.3A1.8 0.6 114 1 1 104.3 320.9M130.8 288.9A1.6 0.7 92 1 1 130.6 292.1A1.6 0.7 92 1 1 130.8 288.9M132.1 294.0A1.1 0.9 108 1 1 131.4 296.1A1.1 0.9 108 1 1 132.1 294.0M128.9 300.2A1.8 0.9 107 1 1 127.8 303.5A1.8 0.9 107 1 1 128.9 300.2M124.9 314.3A1.6 0.7 104 1 1 124.1 317.3A1.6 0.7 104 1 1 124.9 314.3M124.6 319.9A1.5 0.9 113 1 1 123.5 322.6A1.5 0.9 113 1 1 124.6 319.9M139.5 330.7A1.2 0.9 101 1 1 139.0 333.1A1.2 0.9 101 1 1 139.5 330.7M165.3 306.9A1.6 0.9 96 1 1 164.9 310.1A1.6 0.9 96 1 1 165.3 306.9M166.4 310.1A1.7 0.9 98 1 1 165.9 313.5A1.7 0.9 98 1 1 166.4 310.1M179.2 301.7A1.5 0.6 81 1 1 179.7 304.6A1.5 0.6 81 1 1 179.2 301.7M65.6 348.8A1.2 0.9 304 1 1 67.0 346.8A1.2 0.9 304 1 1 65.6 348.8M69.2 347.2A1.3 0.6 342 1 1 71.7 346.4A1.3 0.6 342 1 1 69.2 347.2"/>
<path fill="#5c64b0" fill-opacity="0.75" d="M53.8 360.3A1.2 1.1 96 1 1 53.6 362.7A1.2 1.1 96 1 1 53.8 360.3M78.5 335.6A1.5 1.1 4 1 1 81.4 335.8A1.5 1.1 4 1 1 78.5 335.6M182.2 370.7A1.5 0.8 106 1 1 181.3 373.6A1.5 0.8 106 1 1 182.2 370.7M169.2 356.5A1.5 1.0 75 1 1 169.9 359.3A1.5 1.0 75 1 1 169.2 356.5M185.6 359.6A1.2 1.0 56 1 1 187.0 361.6A1.2 1.0 56 1 1 185.6 359.6M183.5 354.1A1.9 1.2 81 1 1 184.1 357.7A1.9 1.2 81 1 1 183.5 354.1M171.3 354.7A1.1 0.8 95 1 1 171.1 356.9A1.1 0.8 95 1 1 171.3 354.7M182.8 379.3A1.1 0.7 128 1 1 181.4 381.1A1.1 0.7 128 1 1 182.8 379.3M112.2 347.5A1.8 0.8 52 1 1 114.4 350.3A1.8 0.8 52 1 1 112.2 347.5M139.5 344.6A1.8 1.0 54 1 1 141.6 347.5A1.8 1.0 54 1 1 139.5 344.6M110.8 350.4A1.4 0.9 7 1 1 113.7 350.8A1.4 0.9 7 1 1 110.8 350.4M108.5 371.8A1.1 1.0 177 1 1 106.3 371.9A1.1 1.0 177 1 1 108.5 371.8M164.2 364.7A1.9 1.0 33 1 1 167.3 366.8A1.9 1.0 33 1 1 164.2 364.7M115.4 371.6A1.5 0.8 135 1 1 113.2 373.8A1.5 0.8 135 1 1 115.4 371.6M165.8 374.0A1.6 0.9 142 1 1 163.3 376.0A1.6 0.9 142 1 1 165.8 374.0M136.6 371.9A1.3 1.2 19 1 1 139.2 372.7A1.3 1.2 19 1 1 136.6 371.9M169.9 370.9A1.9 0.7 42 1 1 172.7 373.5A1.9 0.7 42 1 1 169.9 370.9M133.5 374.7A1.6 1.2 131 1 1 131.4 377.1A1.6 1.2 131 1 1 133.5 374.7M127.4 354.3A1.2 1.2 115 1 1 126.4 356.4A1.2 1.2 115 1 1 127.4 354.3M184.4 370.0A1.5 1.2 66 1 1 185.6 372.7A1.5 1.2 66 1 1 184.4 370.0M163.5 353.6A1.9 1.1 86 1 1 163.8 357.4A1.9 1.1 86 1 1 163.5 353.6M109.8 363.1A1.6 0.9 44 1 1 112.0 365.3A1.6 0.9 44 1 1 109.8 363.1M94.1 379.4A1.8 1.1 13 1 1 97.6 380.2A1.8 1.1 13 1 1 94.1 379.4M106.5 356.3A1.7 0.9 133 1 1 104.2 358.8A1.7 0.9 133 1 1 106.5 356.3M156.1 352.2A1.4 1.0 169 1 1 153.4 352.8A1.4 1.0 169 1 1 156.1 352.2M161.6 358.7A1.8 1.1 168 1 1 158.1 359.5A1.8 1.1 168 1 1 161.6 358.7M137.2 359.3A1.3 0.9 121 1 1 135.8 361.5A1.3 0.9 121 1 1 137.2 359.3M102.5 360.9A1.8 1.0 68 1 1 103.9 364.2A1.8 1.0 68 1 1 102.5 360.9M125.1 377.0A1.8 1.1 50 1 1 127.4 379.8A1.8 1.1 50 1 1 125.1 377.0M174.3 350.8A1.2 1.0 144 1 1 172.3 352.2A1.2 1.0 144 1 1 174.3 350.8M149.1 371.4A1.4 0.8 145 1 1 146.8 373.1A1.4 0.8 145 1 1 149.1 371.4M148.1 374.6A1.2 0.7 34 1 1 150.1 376.0A1.2 0.7 34 1 1 148.1 374.6M120.9 361.8A1.2 1.0 178 1 1 118.6 361.8A1.2 1.0 178 1 1 120.9 361.8M184.4 357.0A1.3 1.1 42 1 1 186.2 358.7A1.3 1.1 42 1 1 184.4 357.0M157.9 377.6A1.6 1.0 74 1 1 158.8 380.6A1.6 1.0 74 1 1 157.9 377.6M95.3 357.4A1.4 1.1 105 1 1 94.5 360.2A1.4 1.1 105 1 1 95.3 357.4M94.0 352.1A1.2 0.9 121 1 1 92.8 354.2A1.2 0.9 121 1 1 94.0 352.1M135.0 371.3A1.3 0.9 118 1 1 133.7 373.6A1.3 0.9 118 1 1 135.0 371.3M163.7 357.5A1.8 1.1 75 1 1 164.7 361.0A1.8 1.1 75 1 1 163.7 357.5M80.0 315.9A1.1 0.8 92 1 1 79.9 318.1A1.1 0.8 92 1 1 80.0 315.9M81.1 318.6A1.2 0.7 97 1 1 80.8 321.1A1.2 0.7 97 1 1 81.1 318.6M81.2 321.3A1.6 0.6 104 1 1 80.5 324.4A1.6 0.6 104 1 1 81.2 321.3M77.5 335.7A1.4 0.8 97 1 1 77.2 338.4A1.4 0.8 97 1 1 77.5 335.7M108.3 295.2A1.5 0.8 96 1 1 108.0 298.2A1.5 0.8 96 1 1 108.3 295.2M98.9 326.1A1.6 0.8 103 1 1 98.1 329.2A1.6 0.8 103 1 1 98.9 326.1M96.8 340.2A1.7 0.6 99 1 1 96.2 343.6A1.7 0.6 99 1 1 96.8 340.2M150.2 297.4A1.7 0.8 98 1 1 149.8 300.8A1.7 0.8 98 1 1 150.2 297.4M139.9 323.8A1.2 0.9 110 1 1 139.1 326.0A1.2 0.9 110 1 1 139.9 323.8M168.3 292.8A1.4 0.6 96 1 1 168.0 295.6A1.4 0.6 96 1 1 168.3 292.8M168.3 301.1A1.2 0.7 95 1 1 168.1 303.6A1.2 0.7 95 1 1 168.3 301.1M164.8 328.4A1.6 0.8 99 1 1 164.2 331.7A1.6 0.8 99 1 1 164.8 328.4M161.1 336.1A1.4 0.8 97 1 1 160.7 338.8A1.4 0.8 97 1 1 161.1 336.1M160.5 344.9A1.8 0.8 99 1 1 159.9 348.5A1.8 0.8 99 1 1 160.5 344.9M67.5 358.8A1.5 0.7 241 1 1 66.0 356.1A1.5 0.7 241 1 1 67.5 358.8"/>
<path fill="#5c64b0" fill-opacity="0.9" d="M74.7 353.9A1.8 1.1 52 1 1 76.9 356.7A1.8 1.1 52 1 1 74.7 353.9M74.4 367.9A1.8 1.1 5 1 1 78.0 368.2A1.8 1.1 5 1 1 74.4 367.9M86.9 294.7A1.7 0.8 106 1 1 86.0 297.9A1.7 0.8 106 1 1 86.9 294.7M84.9 292.9A1.9 1.0 115 1 1 83.4 296.3A1.9 1.0 115 1 1 84.9 292.9M182.0 369.3A1.6 1.1 53 1 1 183.9 371.8A1.6 1.1 53 1 1 182.0 369.3M171.2 344.4A1.4 0.8 65 1 1 172.5 347.0A1.4 0.8 65 1 1 171.2 344.4M175.8 306.6A1.6 0.8 26 1 1 178.7 307.9A1.6 0.8 26 1 1 175.8 306.6M184.3 317.8A1.5 1.2 93 1 1 184.1 320.7A1.5 1.2 93 1 1 184.3 317.8M177.6 368.8A1.4 1.0 57 1 1 179.2 371.2A1.4 1.0 57 1 1 177.6 368.8M181.3 303.7A1.3 1.0 66 1 1 182.3 306.1A1.3 1.0 66 1 1 181.3 303.7M181.9 350.3A1.6 0.8 117 1 1 180.4 353.2A1.6 0.8 117 1 1 181.9 350.3M169.9 371.5A1.5 1.0 19 1 1 172.7 372.5A1.5 1.0 19 1 1 169.9 371.5M142.5 335.5A1.6 0.8 85 1 1 142.8 338.6A1.6 0.8 85 1 1 142.5 335.5M94.6 347.2A1.5 0.7 20 1 1 97.3 348.2A1.5 0.7 20 1 1 94.6 347.2M168.9 345.9A1.8 0.9 121 1 1 167.0 349.1A1.8 0.9 121 1 1 168.9 345.9M156.6 343.8A1.7 1.0 168 1 1 153.2 344.5A1.7 1.0 168 1 1 156.6 343.8M144.3 347.7A1.5 1.0 91 1 1 144.3 350.8A1.5 1.0 91 1 1 144.3 347.7M101.8 347.9A1.6 0.9 54 1 1 103.7 350.4A1.6 0.9 54 1 1 101.8 347.9M126.8 347.4A1.8 0.8 78 1 1 127.6 351.0A1.8 0.8 78 1 1 126.8 347.4M110.1 349.0A1.7 0.9 132 1 1 107.8 351.6A1.7 0.9 132 1 1 110.1 349.0M101.7 360.7A1.6 0.9 151 1 1 99.0 362.2A1.6 0.9 151 1 1 101.7 360.7M93.7 362.9A1.8 0.8 18 1 1 97.1 364.1A1.8 0.8 18 1 1 93.7 362.9M111.0 367.9A1.2 1.0 145 1 1 109.0 369.3A1.2 1.0 145 1 1 111.0 367.9M179.4 360.6A1.4 1.1 140 1 1 177.3 362.4A1.4 1.1 140 1 1 179.4 360.6M106.0 367.2A1.9 1.1 58 1 1 108.0 370.3A1.9 1.1 58 1 1 106.0 367.2M178.4 380.4A1.2 0.8 164 1 1 176.1 381.0A1.2 0.8 164 1 1 178.4 380.4M165.8 363.1A1.7 0.8 157 1 1 162.7 364.4A1.7 0.8 157 1 1 165.8 363.1M107.1 363.7A1.4 0.7 142 1 1 104.9 365.5A1.4 0.7 142 1 1 107.1 363.7M167.0 368.2A1.3 1.0 70 1 1 167.8 370.6A1.3 1.0 70 1 1 167.0 368.2M164.4 361.9A1.3 0.9 101 1 1 163.9 364.5A1.3 0.9 101 1 1 164.4 361.9M120.4 356.2A1.5 1.1 85 1 1 120.7 359.2A1.5 1.1 85 1 1 120.4 356.2M182.9 372.5A1.9 1.1 50 1 1 185.2 375.4A1.9 1.1 50 1 1 182.9 372.5M177.8 377.1A1.6 0.8 107 1 1 176.8 380.1A1.6 0.8 107 1 1 177.8 377.1M180.7 366.6A1.7 0.9 36 1 1 183.4 368.6A1.7 0.9 36 1 1 180.7 366.6M168.8 367.1A1.7 1.1 173 1 1 165.4 367.6A1.7 1.1 173 1 1 168.8 367.1M132.3 375.9A1.8 0.7 62 1 1 134.0 379.0A1.8 0.7 62 1 1 132.3 375.9M168.4 372.2A1.8 0.8 75 1 1 169.3 375.8A1.8 0.8 75 1 1 168.4 372.2M92.9 356.5A1.5 0.8 30 1 1 95.5 358.0A1.5 0.8 30 1 1 92.9 356.5M167.8 353.8A1.5 1.2 6 1 1 170.9 354.2A1.5 1.2 6 1 1 167.8 353.8M154.7 353.3A1.9 1.0 50 1 1 157.1 356.2A1.9 1.0 50 1 1 154.7 353.3M160.5 342.9A1.5 0.8 38 1 1 162.8 344.8A1.5 0.8 38 1 1 160.5 342.9M78.9 319.6A1.5 0.6 103 1 1 78.2 322.6A1.5 0.6 103 1 1 78.9 319.6M79.9 346.9A1.3 0.6 93 1 1 79.8 349.5A1.3 0.6 93 1 1 79.9 346.9M109.1 299.8A1.1 0.8 96 1 1 108.9 302.1A1.1 0.8 96 1 1 109.1 299.8M106.8 307.8A1.2 0.9 103 1 1 106.3 310.2A1.2 0.9 103 1 1 106.8 307.8M99.0 337.5A1.9 0.6 95 1 1 98.7 341.2A1.9 0.6 95 1 1 99.0 337.5M124.1 325.2A1.2 0.6 95 1 1 123.9 327.7A1.2 0.6 95 1 1 124.1 325.2M121.3 332.6A1.6 0.6 97 1 1 120.9 335.8A1.6 0.6 97 1 1 121.3 332.6M145.8 308.2A1.3 0.9 108 1 1 145.0 310.7A1.3 0.9 108 1 1 145.8 308.2M142.6 320.9A1.4 0.9 101 1 1 142.1 323.7A1.4 0.9 101 1 1 142.6 320.9M167.5 302.0A1.3 0.6 91 1 1 167.4 304.5A1.3 0.6 91 1 1 167.5 302.0M178.4 297.0A1.7 0.8 78 1 1 179.1 300.3A1.7 0.8 78 1 1 178.4 297.0M178.9 322.5A1.5 0.9 87 1 1 179.0 325.4A1.5 0.9 87 1 1 178.9 322.5M79.5 351.9A1.6 0.9 91 1 1 79.4 355.0A1.6 0.9 91 1 1 79.5 351.9"/>
<path fill="#454c98" fill-opacity="0.6" d="M71.0 349.5A1.3 1.2 34 1 1 73.1 351.0A1.3 1.2 34 1 1 71.0 349.5M74.7 324.7A1.8 1.2 70 1 1 75.9 328.1A1.8 1.2 70 1 1 74.7 324.7M70.5 363.1A1.4 0.9 3 1 1 73.2 363.2A1.4 0.9 3 1 1 70.5 363.1M73.0 365.1A1.3 1.1 43 1 1 74.9 366.9A1.3 1.1 43 1 1 73.0 365.1M58.1 363.5A1.4 1.1 43 1 1 60.1 365.4A1.4 1.1 43 1 1 58.1 363.5M81.2 328.6A1.9 1.0 143 1 1 78.2 330.9A1.9 1.0 143 1 1 81.2 328.6M58.7 351.3A1.2 1.1 97 1 1 58.4 353.5A1.2 1.1 97 1 1 58.7 351.3M184.2 347.9A1.4 1.0 98 1 1 183.7 350.7A1.4 1.0 98 1 1 184.2 347.9M180.2 296.5A1.4 1.2 81 1 1 180.6 299.3A1.4 1.2 81 1 1 180.2 296.5M173.5 375.4A1.5 1.2 65 1 1 174.8 378.2A1.5 1.2 65 1 1 173.5 375.4M111.2 342.2A1.2 1.0 124 1 1 109.9 344.2A1.2 1.0 124 1 1 111.2 342.2M115.7 347.9A1.2 0.9 107 1 1 115.0 350.2A1.2 0.9 107 1 1 115.7 347.9M137.6 354.0A1.6 0.7 187 1 1 134.4 353.6A1.6 0.7 187 1 1 137.6 354.0M119.4 375.6A1.8 1.2 86 1 1 119.6 379.1A1.8 1.2 86 1 1 119.4 375.6M170.2 362.8A1.4 0.8 117 1 1 169.0 365.2A1.4 0.8 117 1 1 170.2 362.8M170.1 370.0A1.8 1.2 -7 1 1 173.6 369.6A1.8 1.2 -7 1 1 170.1 370.0M99.3 356.2A1.5 0.7 166 1 1 96.4 356.9A1.5 0.7 166 1 1 99.3 356.2M155.3 378.7A1.9 1.0 108 1 1 154.1 382.3A1.9 1.0 108 1 1 155.3 378.7M163.7 369.5A1.7 1.2 1 1 1 167.2 369.5A1.7 1.2 1 1 1 163.7 369.5M163.6 376.6A1.2 1.1 17 1 1 165.8 377.3A1.2 1.1 17 1 1 163.6 376.6M144.3 354.1A1.2 0.8 130 1 1 142.7 355.9A1.2 0.8 130 1 1 144.3 354.1M146.0 371.8A1.5 0.8 105 1 1 145.2 374.6A1.5 0.8 105 1 1 146.0 371.8M99.1 374.7A1.4 1.2 181 1 1 96.3 374.6A1.4 1.2 181 1 1 99.1 374.7M178.0 379.0A1.8 0.9 140 1 1 175.3 381.3A1.8 0.9 140 1 1 178.0 379.0M177.6 373.0A1.6 1.2 53 1 1 179.6 375.6A1.6 1.2 53 1 1 177.6 373.0M103.0 374.8A1.3 1.2 152 1 1 100.7 376.0A1.3 1.2 152 1 1 103.0 374.8M107.1 378.3A1.3 0.9 10 1 1 109.7 378.7A1.3 0.9 10 1 1 107.1 378.3M96.8 352.6A1.6 0.9 152 1 1 94.0 354.1A1.6 0.9 152 1 1 96.8 352.6M131.6 355.0A1.2 0.8 35 1 1 133.6 356.5A1.2 0.8 35 1 1 131.6 355.0M110.4 361.7A1.5 0.9 2 1 1 113.3 361.8A1.5 0.9 2 1 1 110.4 361.7M136.2 357.4A1.4 0.8 149 1 1 133.7 358.9A1.4 0.8 149 1 1 136.2 357.4M185.1 355.5A1.7 1.0 42 1 1 187.6 357.7A1.7 1.0 42 1 1 185.1 355.5M90.7 351.9A1.9 1.2 86 1 1 91.0 355.6A1.9 1.2 86 1 1 90.7 351.9M87.3 366.2A1.5 1.0 170 1 1 84.2 366.7A1.5 1.0 170 1 1 87.3 366.2M95.9 356.8A1.4 1.0 141 1 1 93.8 358.5A1.4 1.0 141 1 1 95.9 356.8M97.3 364.5A1.8 0.9 1 1 1 100.9 364.6A1.8 0.9 1 1 1 97.3 364.5M165.2 356.6A1.7 1.2 32 1 1 168.0 358.4A1.7 1.2 32 1 1 165.2 356.6M161.8 360.5A1.8 1.1 54 1 1 163.9 363.4A1.8 1.1 54 1 1 161.8 360.5M155.9 358.7A1.8 0.8 75 1 1 156.8 362.2A1.8 0.8 75 1 1 155.9 358.7M84.9 304.4A1.8 0.8 94 1 1 84.7 308.0A1.8 0.8 94 1 1 84.9 304.4M82.4 315.0A1.4 0.7 88 1 1 82.5 317.7A1.4 0.7 88 1 1 82.4 315.0M111.5 286.5A1.7 0.6 93 1 1 111.3 289.8A1.7 0.6 93 1 1 111.5 286.5M108.1 288.1A1.3 0.8 93 1 1 108.0 290.6A1.3 0.8 93 1 1 108.1 288.1M110.1 292.6A1.6 0.6 104 1 1 109.4 295.6A1.6 0.6 104 1 1 110.1 292.6M100.6 322.6A1.6 0.6 107 1 1 99.7 325.7A1.6 0.6 107 1 1 100.6 322.6M97.1 344.3A1.5 0.8 105 1 1 96.3 347.3A1.5 0.8 105 1 1 97.1 344.3M96.3 347.3A1.1 0.8 96 1 1 96.1 349.6A1.1 0.8 96 1 1 96.3 347.3M129.0 302.7A1.8 0.8 106 1 1 128.0 306.1A1.8 0.8 106 1 1 129.0 302.7M122.2 332.0A1.3 0.9 99 1 1 121.8 334.6A1.3 0.9 99 1 1 122.2 332.0M145.7 313.8A1.3 0.8 115 1 1 144.6 316.2A1.3 0.8 115 1 1 145.7 313.8M144.6 317.8A1.8 0.9 100 1 1 143.9 321.3A1.8 0.9 100 1 1 144.6 317.8M138.4 339.0A1.3 0.7 107 1 1 137.6 341.5A1.3 0.7 107 1 1 138.4 339.0M137.0 339.4A1.3 0.6 101 1 1 136.6 341.9A1.3 0.6 101 1 1 137.0 339.4M137.2 341.5A1.2 0.6 103 1 1 136.7 343.9A1.2 0.6 103 1 1 137.2 341.5M166.9 314.3A1.6 0.6 98 1 1 166.5 317.5A1.6 0.6 98 1 1 166.9 314.3M164.6 319.3A1.2 0.8 104 1 1 164.0 321.8A1.2 0.8 104 1 1 164.6 319.3M161.5 329.3A1.4 0.6 107 1 1 160.7 331.9A1.4 0.6 107 1 1 161.5 329.3M163.5 333.7A1.3 0.8 100 1 1 163.0 336.2A1.3 0.8 100 1 1 163.5 333.7M159.8 337.3A1.3 0.9 99 1 1 159.4 339.9A1.3 0.9 99 1 1 159.8 337.3M159.8 342.9A1.2 0.8 97 1 1 159.5 345.2A1.2 0.8 97 1 1 159.8 342.9M174.7 291.8A1.3 0.7 86 1 1 174.8 294.4A1.3 0.7 86 1 1 174.7 291.8M78.7 361.7A1.2 0.6 150 1 1 76.6 362.9A1.2 0.6 150 1 1 78.7 361.7M73.9 361.6A1.1 0.8 182 1 1 71.7 361.6A1.1 0.8 182 1 1 73.9 361.6M67.5 363.3A1.7 0.9 227 1 1 65.1 360.8A1.7 0.9 227 1 1 67.5 363.3"/>
<path fill="#454c98" fill-opacity="0.75" d="M68.8 363.4A1.8 0.7 83 1 1 69.2 367.0A1.8 0.7 83 1 1 68.8 363.4M79.1 325.9A1.7 1.1 64 1 1 80.6 329.0A1.7 1.1 64 1 1 79.1 325.9M56.2 307.3A1.7 1.1 149 1 1 53.3 309.1A1.7 1.1 149 1 1 56.2 307.3M52.5 311.8A1.4 0.8 71 1 1 53.4 314.3A1.4 0.8 71 1 1 52.5 311.8M170.7 358.2A1.5 0.9 56 1 1 172.5 360.7A1.5 0.9 56 1 1 170.7 358.2M180.3 377.1A1.1 1.0 61 1 1 181.4 379.0A1.1 1.0 61 1 1 180.3 377.1M177.1 334.5A1.6 1.1 69 1 1 178.2 337.4A1.6 1.1 69 1 1 177.1 334.5M169.6 343.1A1.9 1.1 95 1 1 169.2 346.8A1.9 1.1 95 1 1 169.6 343.1M167.7 373.9A1.7 0.8 44 1 1 170.2 376.3A1.7 0.8 44 1 1 167.7 373.9M184.8 336.0A1.8 1.0 107 1 1 183.8 339.5A1.8 1.0 107 1 1 184.8 336.0M181.1 301.7A1.3 1.2 140 1 1 179.2 303.3A1.3 1.2 140 1 1 181.1 301.7M168.6 301.6A1.6 0.8 94 1 1 168.4 304.7A1.6 0.8 94 1 1 168.6 301.6M185.0 338.5A1.7 0.7 122 1 1 183.3 341.3A1.7 0.7 122 1 1 185.0 338.5M176.2 342.0A1.3 1.0 160 1 1 173.6 342.9A1.3 1.0 160 1 1 176.2 342.0M115.7 349.9A1.3 1.2 125 1 1 114.3 351.9A1.3 1.2 125 1 1 115.7 349.9M99.4 347.3A1.1 1.1 141 1 1 97.6 348.7A1.1 1.1 141 1 1 99.4 347.3M180.4 344.0A1.4 1.2 133 1 1 178.5 346.0A1.4 1.2 133 1 1 180.4 344.0M182.0 349.2A1.2 0.8 60 1 1 183.1 351.2A1.2 0.8 60 1 1 182.0 349.2M97.8 363.2A1.7 0.8 82 1 1 98.2 366.6A1.7 0.8 82 1 1 97.8 363.2M148.4 359.7A1.6 0.9 24 1 1 151.4 361.0A1.6 0.9 24 1 1 148.4 359.7M140.3 370.7A1.7 1.2 153 1 1 137.2 372.2A1.7 1.2 153 1 1 140.3 370.7M155.4 350.1A1.3 1.2 47 1 1 157.2 352.1A1.3 1.2 47 1 1 155.4 350.1M97.6 366.2A1.5 0.8 161 1 1 94.9 367.1A1.5 0.8 161 1 1 97.6 366.2M174.2 363.5A1.3 0.9 193 1 1 171.7 362.9A1.3 0.9 193 1 1 174.2 363.5M146.3 366.7A1.6 1.1 159 1 1 143.2 367.9A1.6 1.1 159 1 1 146.3 366.7M137.0 364.9A1.3 0.9 131 1 1 135.3 366.8A1.3 0.9 131 1 1 137.0 364.9M106.6 348.9A1.7 1.0 56 1 1 108.5 351.7A1.7 1.0 56 1 1 106.6 348.9M106.2 349.2A1.5 1.2 106 1 1 105.4 352.1A1.5 1.2 106 1 1 106.2 349.2M110.7 369.1A1.7 1.2 11 1 1 114.1 369.7A1.7 1.2 11 1 1 110.7 369.1M154.1 355.3A1.6 0.9 139 1 1 151.6 357.5A1.6 0.9 139 1 1 154.1 355.3M124.4 360.8A1.4 0.9 181 1 1 121.5 360.8A1.4 0.9 181 1 1 124.4 360.8M181.9 355.3A1.8 0.8 104 1 1 181.0 358.8A1.8 0.8 104 1 1 181.9 355.3M162.4 355.8A1.3 0.7 184 1 1 159.8 355.6A1.3 0.7 184 1 1 162.4 355.8M107.1 363.4A1.5 1.2 13 1 1 110.0 364.1A1.5 1.2 13 1 1 107.1 363.4M133.5 371.7A1.3 0.7 19 1 1 136.0 372.5A1.3 0.7 19 1 1 133.5 371.7M172.7 375.6A1.8 0.7 149 1 1 169.5 377.5A1.8 0.7 149 1 1 172.7 375.6M161.2 379.2A1.5 1.0 111 1 1 160.2 381.9A1.5 1.0 111 1 1 161.2 379.2M165.7 359.0A1.7 1.2 98 1 1 165.2 362.2A1.7 1.2 98 1 1 165.7 359.0M112.1 360.1A1.4 0.8 22 1 1 114.7 361.1A1.4 0.8 22 1 1 112.1 360.1M114.0 354.3A1.1 0.8 165 1 1 111.8 354.9A1.1 0.8 165 1 1 114.0 354.3M97.8 362.8A1.2 1.1 101 1 1 97.4 365.0A1.2 1.1 101 1 1 97.8 362.8M141.1 375.2A1.6 0.8 129 1 1 139.1 377.7A1.6 0.8 129 1 1 141.1 375.2M133.5 364.9A1.5 0.8 74 1 1 134.4 367.8A1.5 0.8 74 1 1 133.5 364.9M106.6 358.0A1.7 1.1 16 1 1 109.9 358.9A1.7 1.1 16 1 1 106.6 358.0M111.2 364.2A1.6 0.9 199 1 1 108.2 363.2A1.6 0.9 199 1 1 111.2 364.2M93.3 367.5A1.7 1.1 43 1 1 95.8 369.9A1.7 1.1 43 1 1 93.3 367.5M88.3 353.2A1.9 0.9 166 1 1 84.6 354.1A1.9 0.9 166 1 1 88.3 353.2M90.5 349.8A1.4 1.2 88 1 1 90.5 352.7A1.4 1.2 88 1 1 90.5 349.8M87.8 356.7A1.7 0.9 99 1 1 87.3 360.0A1.7 0.9 99 1 1 87.8 356.7M149.1 378.9A1.8 0.9 49 1 1 151.4 381.6A1.8 0.9 49 1 1 149.1 378.9M127.2 377.3A1.8 0.8 195 1 1 123.7 376.4A1.8 0.8 195 1 1 127.2 377.3M103.1 379.2A1.8 1.1 30 1 1 106.3 381.0A1.8 1.1 30 1 1 103.1 379.2M130.3 375.1A1.6 0.9 72 1 1 131.3 378.2A1.6 0.9 72 1 1 130.3 375.1M162.1 358.2A1.6 0.8 39 1 1 164.5 360.1A1.6 0.8 39 1 1 162.1 358.2M82.5 288.2A1.5 0.8 89 1 1 82.6 291.3A1.5 0.8 89 1 1 82.5 288.2M87.2 297.8A1.7 0.7 99 1 1 86.6 301.1A1.7 0.7 99 1 1 87.2 297.8M83.0 312.1A1.7 0.6 96 1 1 82.6 315.5A1.7 0.6 96 1 1 83.0 312.1M78.6 335.3A1.5 0.8 95 1 1 78.4 338.3A1.5 0.8 95 1 1 78.6 335.3M110.7 287.1A1.8 0.6 96 1 1 110.4 290.7A1.8 0.6 96 1 1 110.7 287.1M110.6 289.1A1.2 0.6 109 1 1 109.8 291.4A1.2 0.6 109 1 1 110.6 289.1M109.7 296.9A1.3 0.6 110 1 1 108.8 299.3A1.3 0.6 110 1 1 109.7 296.9M103.6 314.7A1.4 0.8 100 1 1 103.1 317.4A1.4 0.8 100 1 1 103.6 314.7M128.1 309.8A1.4 0.9 105 1 1 127.4 312.4A1.4 0.9 105 1 1 128.1 309.8M122.4 336.8A1.7 0.8 107 1 1 121.4 340.1A1.7 0.8 107 1 1 122.4 336.8M119.3 350.3A1.2 0.7 100 1 1 118.9 352.7A1.2 0.7 100 1 1 119.3 350.3M147.8 298.7A1.4 0.7 101 1 1 147.3 301.5A1.4 0.7 101 1 1 147.8 298.7M148.9 301.6A1.4 0.6 99 1 1 148.5 304.3A1.4 0.6 99 1 1 148.9 301.6M166.8 289.4A1.4 0.6 95 1 1 166.5 292.1A1.4 0.6 95 1 1 166.8 289.4M164.7 312.5A1.8 0.7 100 1 1 164.1 316.1A1.8 0.7 100 1 1 164.7 312.5M159.3 344.3A1.8 0.9 93 1 1 159.1 347.9A1.8 0.9 93 1 1 159.3 344.3M161.8 346.5A1.8 0.9 108 1 1 160.7 349.9A1.8 0.9 108 1 1 161.8 346.5M159.6 350.8A1.2 0.9 96 1 1 159.3 353.2A1.2 0.9 96 1 1 159.6 350.8M176.7 308.3A1.2 0.6 80 1 1 177.1 310.6A1.2 0.6 80 1 1 176.7 308.3M178.0 310.0A1.7 0.8 84 1 1 178.3 313.3A1.7 0.8 84 1 1 178.0 310.0M180.2 341.2A1.4 0.6 83 1 1 180.5 344.0A1.4 0.6 83 1 1 180.2 341.2M73.5 344.9A1.2 0.9 375 1 1 75.8 345.5A1.2 0.9 375 1 1 73.5 344.9M75.2 346.5A1.5 0.6 379 1 1 78.0 347.5A1.5 0.6 379 1 1 75.2 346.5"/>
<path fill="#454c98" fill-opacity="0.9" d="M69.6 366.5A1.4 1.2 40 1 1 71.7 368.3A1.4 1.2 40 1 1 69.6 366.5M66.2 357.7A1.7 0.7 116 1 1 64.7 360.9A1.7 0.7 116 1 1 66.2 357.7M74.3 337.9A1.3 0.8 161 1 1 71.9 338.8A1.3 0.8 161 1 1 74.3 337.9M86.8 294.3A1.5 0.9 72 1 1 87.7 297.1A1.5 0.9 72 1 1 86.8 294.3M172.9 335.3A1.8 1.0 78 1 1 173.7 338.8A1.8 1.0 78 1 1 172.9 335.3M167.5 321.5A1.2 0.8 53 1 1 169.0 323.5A1.2 0.8 53 1 1 167.5 321.5M184.2 360.0A1.5 1.0 38 1 1 186.5 361.8A1.5 1.0 38 1 1 184.2 360.0M168.4 299.7A1.5 1.2 80 1 1 168.9 302.7A1.5 1.2 80 1 1 168.4 299.7M173.4 360.5A1.2 1.2 135 1 1 171.8 362.2A1.2 1.2 135 1 1 173.4 360.5M171.0 315.6A1.6 0.9 78 1 1 171.6 318.8A1.6 0.9 78 1 1 171.0 315.6M179.8 320.1A1.3 1.2 69 1 1 180.7 322.5A1.3 1.2 69 1 1 179.8 320.1M185.4 360.4A1.8 0.8 52 1 1 187.6 363.2A1.8 0.8 52 1 1 185.4 360.4M178.7 331.6A1.6 1.2 71 1 1 179.7 334.6A1.6 1.2 71 1 1 178.7 331.6M138.4 346.2A1.5 1.2 -19 1 1 141.3 345.3A1.5 1.2 -19 1 1 138.4 346.2M111.6 363.2A1.8 0.9 143 1 1 108.7 365.4A1.8 0.9 143 1 1 111.6 363.2M112.8 379.0A1.4 0.9 176 1 1 110.1 379.2A1.4 0.9 176 1 1 112.8 379.0M100.3 353.8A1.8 1.2 111 1 1 99.0 357.1A1.8 1.2 111 1 1 100.3 353.8M175.1 361.3A1.8 1.2 133 1 1 172.7 363.8A1.8 1.2 133 1 1 175.1 361.3M121.7 372.5A1.8 0.9 56 1 1 123.8 375.5A1.8 0.9 56 1 1 121.7 372.5M180.9 354.6A1.2 1.1 108 1 1 180.2 356.9A1.2 1.1 108 1 1 180.9 354.6M130.7 377.1A1.5 1.1 15 1 1 133.6 377.9A1.5 1.1 15 1 1 130.7 377.1M152.1 358.2A1.8 0.8 128 1 1 149.9 361.1A1.8 0.8 128 1 1 152.1 358.2M108.9 366.3A1.8 1.0 136 1 1 106.2 368.8A1.8 1.0 136 1 1 108.9 366.3M138.1 373.6A1.7 0.7 71 1 1 139.2 376.8A1.7 0.7 71 1 1 138.1 373.6M155.7 356.4A1.6 0.9 70 1 1 156.9 359.5A1.6 0.9 70 1 1 155.7 356.4M145.0 352.4A1.1 1.0 148 1 1 143.1 353.6A1.1 1.0 148 1 1 145.0 352.4M113.5 357.3A1.3 0.8 106 1 1 112.8 359.8A1.3 0.8 106 1 1 113.5 357.3M158.7 376.1A1.6 1.2 57 1 1 160.4 378.7A1.6 1.2 57 1 1 158.7 376.1M166.0 373.3A1.3 1.1 66 1 1 167.1 375.7A1.3 1.1 66 1 1 166.0 373.3M181.6 358.1A1.9 1.2 35 1 1 184.7 360.3A1.9 1.2 35 1 1 181.6 358.1M185.5 362.6A1.2 0.8 66 1 1 186.5 364.9A1.2 0.8 66 1 1 185.5 362.6M81.4 362.4A1.8 1.2 46 1 1 83.9 365.1A1.8 1.2 46 1 1 81.4 362.4M100.6 352.1A1.6 0.9 146 1 1 98.0 353.9A1.6 0.9 146 1 1 100.6 352.1M82.2 363.0A1.3 1.0 8 1 1 84.8 363.3A1.3 1.0 8 1 1 82.2 363.0M86.3 352.4A1.7 0.8 71 1 1 87.4 355.7A1.7 0.8 71 1 1 86.3 352.4M83.2 365.7A1.8 1.0 41 1 1 85.9 368.1A1.8 1.0 41 1 1 83.2 365.7M92.9 365.5A1.2 1.1 41 1 1 94.7 367.0A1.2 1.1 41 1 1 92.9 365.5M97.4 361.1A1.2 1.0 40 1 1 99.3 362.7A1.2 1.0 40 1 1 97.4 361.1M157.6 362.8A1.7 0.9 48 1 1 159.8 365.3A1.7 0.9 48 1 1 157.6 362.8M88.1 287.9A1.5 0.7 89 1 1 88.1 291.0A1.5 0.7 89 1 1 88.1 287.9M82.4 303.4A1.3 0.7 91 1 1 82.3 305.9A1.3 0.7 91 1 1 82.4 303.4M80.8 306.5A1.6 0.9 97 1 1 80.5 309.7A1.6 0.9 97 1 1 80.8 306.5M82.2 322.7A1.8 0.8 100 1 1 81.5 326.3A1.8 0.8 100 1 1 82.2 322.7M102.9 316.3A1.6 0.7 113 1 1 101.6 319.2A1.6 0.7 113 1 1 102.9 316.3M98.9 332.9A1.8 0.9 110 1 1 97.6 336.4A1.8 0.9 110 1 1 98.9 332.9M95.8 346.4A1.6 0.9 101 1 1 95.2 349.5A1.6 0.9 101 1 1 95.8 346.4M130.8 293.6A1.7 0.6 92 1 1 130.7 297.1A1.7 0.6 92 1 1 130.8 293.6M128.8 299.4A1.7 0.7 95 1 1 128.5 302.7A1.7 0.7 95 1 1 128.8 299.4M122.6 335.9A1.8 0.9 96 1 1 122.2 339.4A1.8 0.9 96 1 1 122.6 335.9M119.9 338.1A1.3 0.6 107 1 1 119.1 340.6A1.3 0.6 107 1 1 119.9 338.1M151.7 286.4A1.4 0.6 100 1 1 151.2 289.1A1.4 0.6 100 1 1 151.7 286.4M146.1 310.2A1.8 0.7 108 1 1 145.0 313.6A1.8 0.7 108 1 1 146.1 310.2M143.3 321.9A1.7 0.6 103 1 1 142.6 325.1A1.7 0.6 103 1 1 143.3 321.9M165.3 311.1A1.7 0.6 100 1 1 164.7 314.4A1.7 0.6 100 1 1 165.3 311.1M161.8 340.2A1.8 0.9 95 1 1 161.5 343.8A1.8 0.9 95 1 1 161.8 340.2M157.0 349.3A1.2 0.7 105 1 1 156.3 351.5A1.2 0.7 105 1 1 157.0 349.3M178.2 324.8A1.3 0.6 86 1 1 178.4 327.4A1.3 0.6 86 1 1 178.2 324.8"/>
<rect x="51.2" y="289.4" width="27.5" height="13.2" fill="#fdfdfe"/>
<ellipse cx="58.0" cy="305.0" rx="1.34" ry="1.06" transform="rotate(162 58.0 305.0)" fill="#7f4427" fill-opacity="0.85"/>
<ellipse cx="64.0" cy="303.0" rx="1.49" ry="0.89" transform="rotate(170 64.0 303.0)" fill="#a5653c" fill-opacity="0.85"/>
<ellipse cx="63.0" cy="333.0" rx="2.14" ry="1.51" transform="rotate(30 63.0 333.0)" fill="#7f4427" fill-opacity="0.85"/>
<ellipse cx="84.0" cy="314.0" rx="1.64" ry="0.88" transform="rotate(133 84.0 314.0)" fill="#a5653c" fill-opacity="0.85"/>
<ellipse cx="99.0" cy="322.0" rx="1.13" ry="0.91" transform="rotate(176 99.0 322.0)" fill="#a5653c" fill-opacity="0.85"/>
<ellipse cx="63.0" cy="335.7" rx="1.46" ry="1.22" transform="rotate(85 63.0 335.7)" fill="#a5653c" fill-opacity="0.85"/>
<ellipse cx="90.0" cy="340.0" rx="1.79" ry="1.36" transform="rotate(99 90.0 340.0)" fill="#93512e" fill-opacity="0.85"/>
<ellipse cx="60.4" cy="347.8" rx="1.47" ry="1.13" transform="rotate(160 60.4 347.8)" fill="#a5653c" fill-opacity="0.85"/>
<ellipse cx="86.0" cy="360.0" rx="3.05" ry="1.76" transform="rotate(31 86.0 360.0)" fill="#a5653c" fill-opacity="0.85"/>
<ellipse cx="82.0" cy="365.3" rx="2.06" ry="1.68" transform="rotate(52 82.0 365.3)" fill="#7f4427" fill-opacity="0.85"/>
<ellipse cx="67.0" cy="369.3" rx="1.94" ry="1.30" transform="rotate(4 67.0 369.3)" fill="#7f4427" fill-opacity="0.85"/>
<ellipse cx="78.0" cy="368.0" rx="1.85" ry="1.10" transform="rotate(151 78.0 368.0)" fill="#7f4427" fill-opacity="0.85"/>
<ellipse cx="91.4" cy="367.3" rx="1.54" ry="0.99" transform="rotate(64 91.4 367.3)" fill="#93512e" fill-opacity="0.85"/>
<ellipse cx="106.2" cy="360.0" rx="2.18" ry="1.33" transform="rotate(73 106.2 360.0)" fill="#93512e" fill-opacity="0.85"/>
<ellipse cx="117.0" cy="362.0" rx="1.74" ry="1.21" transform="rotate(24 117.0 362.0)" fill="#b07548" fill-opacity="0.85"/>
<ellipse cx="113.0" cy="343.0" rx="1.32" ry="0.97" transform="rotate(27 113.0 343.0)" fill="#b07548" fill-opacity="0.85"/>
<ellipse cx="114.3" cy="368.6" rx="1.78" ry="1.31" transform="rotate(63 114.3 368.6)" fill="#a5653c" fill-opacity="0.85"/>
<ellipse cx="57.7" cy="359.2" rx="1.46" ry="0.98" transform="rotate(110 57.7 359.2)" fill="#7f4427" fill-opacity="0.85"/>
<ellipse cx="135.8" cy="337.0" rx="1.43" ry="1.27" transform="rotate(17 135.8 337.0)" fill="#a5653c" fill-opacity="0.85"/>
<ellipse cx="130.5" cy="347.8" rx="1.74" ry="1.35" transform="rotate(158 130.5 347.8)" fill="#93512e" fill-opacity="0.85"/>
<ellipse cx="119.0" cy="357.2" rx="1.70" ry="1.22" transform="rotate(39 119.0 357.2)" fill="#b07548" fill-opacity="0.85"/>
<ellipse cx="135.8" cy="355.2" rx="1.64" ry="1.10" transform="rotate(71 135.8 355.2)" fill="#7f4427" fill-opacity="0.85"/>
<ellipse cx="137.2" cy="362.6" rx="2.09" ry="1.36" transform="rotate(121 137.2 362.6)" fill="#b07548" fill-opacity="0.85"/>
<ellipse cx="121.0" cy="375.4" rx="1.77" ry="1.53" transform="rotate(88 121.0 375.4)" fill="#b07548" fill-opacity="0.85"/>
<ellipse cx="134.5" cy="374.7" rx="2.14" ry="1.31" transform="rotate(177 134.5 374.7)" fill="#a5653c" fill-opacity="0.85"/>
<ellipse cx="172.2" cy="335.7" rx="1.38" ry="0.85" transform="rotate(150 172.2 335.7)" fill="#b07548" fill-opacity="0.85"/>
<ellipse cx="180.3" cy="351.0" rx="1.55" ry="0.79" transform="rotate(12 180.3 351.0)" fill="#a5653c" fill-opacity="0.85"/>
<ellipse cx="146.6" cy="363.3" rx="1.44" ry="1.00" transform="rotate(64 146.6 363.3)" fill="#b07548" fill-opacity="0.85"/>
<ellipse cx="128.7" cy="300.0" rx="1.10" ry="0.95" transform="rotate(168 128.7 300.0)" fill="#93512e" fill-opacity="0.85"/>
<ellipse cx="128.0" cy="310.0" rx="1.16" ry="1.02" transform="rotate(163 128.0 310.0)" fill="#93512e" fill-opacity="0.85"/>
<ellipse cx="140.0" cy="318.0" rx="1.34" ry="1.01" transform="rotate(110 140.0 318.0)" fill="#a5653c" fill-opacity="0.85"/>
<ellipse cx="143.0" cy="325.0" rx="1.22" ry="1.12" transform="rotate(3 143.0 325.0)" fill="#b07548" fill-opacity="0.85"/>
<ellipse cx="160.0" cy="327.0" rx="1.56" ry="1.10" transform="rotate(41 160.0 327.0)" fill="#93512e" fill-opacity="0.85"/>
<ellipse cx="168.0" cy="328.0" rx="1.32" ry="1.05" transform="rotate(15 168.0 328.0)" fill="#7f4427" fill-opacity="0.85"/>
<ellipse cx="175.0" cy="320.0" rx="1.20" ry="1.04" transform="rotate(158 175.0 320.0)" fill="#a5653c" fill-opacity="0.85"/>
<ellipse cx="183.0" cy="297.0" rx="1.23" ry="0.74" transform="rotate(165 183.0 297.0)" fill="#b07548" fill-opacity="0.85"/>
<ellipse cx="158.0" cy="292.0" rx="1.17" ry="0.76" transform="rotate(58 158.0 292.0)" fill="#93512e" fill-opacity="0.85"/>
<ellipse cx="150.0" cy="372.0" rx="1.80" ry="1.11" transform="rotate(18 150.0 372.0)" fill="#a5653c" fill-opacity="0.85"/>
<ellipse cx="160.0" cy="376.0" rx="1.35" ry="1.16" transform="rotate(144 160.0 376.0)" fill="#7f4427" fill-opacity="0.85"/>
<ellipse cx="105.0" cy="376.0" rx="1.60" ry="0.87" transform="rotate(43 105.0 376.0)" fill="#b07548" fill-opacity="0.85"/>
<ellipse cx="126.0" cy="366.0" rx="1.75" ry="1.15" transform="rotate(16 126.0 366.0)" fill="#93512e" fill-opacity="0.85"/>
<ellipse cx="96.0" cy="372.0" rx="1.52" ry="0.99" transform="rotate(158 96.0 372.0)" fill="#93512e" fill-opacity="0.85"/>
<ellipse cx="141.0" cy="370.0" rx="1.18" ry="1.04" transform="rotate(154 141.0 370.0)" fill="#93512e" fill-opacity="0.85"/>
<ellipse cx="88.0" cy="366.0" rx="1.87" ry="1.20" transform="rotate(99 88.0 366.0)" fill="#a5653c" fill-opacity="0.85"/>
<ellipse cx="95.0" cy="363.0" rx="1.82" ry="1.38" transform="rotate(63 95.0 363.0)" fill="#93512e" fill-opacity="0.85"/>
<ellipse cx="102.0" cy="366.0" rx="2.18" ry="1.26" transform="rotate(132 102.0 366.0)" fill="#b07548" fill-opacity="0.85"/>
<ellipse cx="110.0" cy="364.0" rx="1.47" ry="1.16" transform="rotate(166 110.0 364.0)" fill="#a5653c" fill-opacity="0.85"/>
<ellipse cx="125.0" cy="360.0" rx="1.70" ry="1.17" transform="rotate(147 125.0 360.0)" fill="#7f4427" fill-opacity="0.85"/>
<ellipse cx="130.0" cy="368.0" rx="1.86" ry="0.99" transform="rotate(60 130.0 368.0)" fill="#a5653c" fill-opacity="0.85"/>
<ellipse cx="145.0" cy="366.0" rx="1.70" ry="1.30" transform="rotate(134 145.0 366.0)" fill="#b07548" fill-opacity="0.85"/>
<ellipse cx="155.0" cy="362.0" rx="1.62" ry="1.16" transform="rotate(30 155.0 362.0)" fill="#a5653c" fill-opacity="0.85"/>
<ellipse cx="98.0" cy="357.0" rx="1.31" ry="1.09" transform="rotate(14 98.0 357.0)" fill="#a5653c" fill-opacity="0.85"/>
<ellipse cx="72.0" cy="371.0" rx="1.32" ry="1.13" transform="rotate(158 72.0 371.0)" fill="#93512e" fill-opacity="0.85"/>
<ellipse cx="84.0" cy="372.0" rx="1.88" ry="1.23" transform="rotate(12 84.0 372.0)" fill="#b07548" fill-opacity="0.85"/>
<ellipse cx="60.0" cy="320.0" rx="1.39" ry="1.22" transform="rotate(111 60.0 320.0)" fill="#93512e" fill-opacity="0.85"/>
<ellipse cx="67.0" cy="340.0" rx="1.70" ry="1.20" transform="rotate(163 67.0 340.0)" fill="#b07548" fill-opacity="0.85"/>
<ellipse cx="75.0" cy="331.0" rx="1.37" ry="1.09" transform="rotate(46 75.0 331.0)" fill="#a5653c" fill-opacity="0.85"/>
</g>
<rect x="51.2" y="289.4" width="135.5" height="90.70000000000005" fill="none" stroke="#5a5a5a" stroke-width="0.9"/>
<clipPath id="c2"><rect x="213.5" y="288.8" width="135.2" height="91.3"/></clipPath><g clip-path="url(#c2)">
<rect x="213.5" y="288.8" width="135.2" height="91.30000000000001" fill="#ebeaf1"/>
<circle cx="338.8" cy="376.2" r="3.2" fill="#f1f0f6" stroke="#cac8da" stroke-width="0.4"/>
<circle cx="224.4" cy="343.1" r="2.5" fill="#f1f0f6" stroke="#cac8da" stroke-width="0.4"/>
<circle cx="285.1" cy="300.1" r="2.1" fill="#f1f0f6" stroke="#cac8da" stroke-width="0.4"/>
<circle cx="273.5" cy="308.6" r="2.5" fill="#f1f0f6" stroke="#cac8da" stroke-width="0.4"/>
<circle cx="216.4" cy="296.0" r="2.9" fill="#f1f0f6" stroke="#cac8da" stroke-width="0.4"/>
<circle cx="270.3" cy="335.7" r="3.0" fill="#f1f0f6" stroke="#cac8da" stroke-width="0.4"/>
<circle cx="261.8" cy="293.4" r="3.1" fill="#f1f0f6" stroke="#cac8da" stroke-width="0.4"/>
<circle cx="293.1" cy="349.2" r="2.8" fill="#f1f0f6" stroke="#cac8da" stroke-width="0.4"/>
<circle cx="345.0" cy="321.7" r="3.0" fill="#f1f0f6" stroke="#cac8da" stroke-width="0.4"/>
<circle cx="263.1" cy="341.2" r="2.9" fill="#f1f0f6" stroke="#cac8da" stroke-width="0.4"/>
<circle cx="255.8" cy="296.0" r="2.6" fill="#f1f0f6" stroke="#cac8da" stroke-width="0.4"/>
<circle cx="310.6" cy="342.9" r="2.5" fill="#f1f0f6" stroke="#cac8da" stroke-width="0.4"/>
<circle cx="300.4" cy="304.9" r="2.1" fill="#f1f0f6" stroke="#cac8da" stroke-width="0.4"/>
<circle cx="257.0" cy="363.9" r="2.1" fill="#f1f0f6" stroke="#cac8da" stroke-width="0.4"/>
<circle cx="228.5" cy="297.2" r="1.9" fill="#f1f0f6" stroke="#cac8da" stroke-width="0.4"/>
<circle cx="250.5" cy="341.3" r="3.1" fill="#f1f0f6" stroke="#cac8da" stroke-width="0.4"/>
<circle cx="258.0" cy="322.4" r="2.3" fill="#f1f0f6" stroke="#cac8da" stroke-width="0.4"/>
<circle cx="254.5" cy="360.3" r="2.7" fill="#f1f0f6" stroke="#cac8da" stroke-width="0.4"/>
<circle cx="248.1" cy="298.0" r="3.1" fill="#f1f0f6" stroke="#cac8da" stroke-width="0.4"/>
<circle cx="309.2" cy="365.1" r="2.2" fill="#f1f0f6" stroke="#cac8da" stroke-width="0.4"/>
<circle cx="287.2" cy="373.4" r="2.7" fill="#f1f0f6" stroke="#cac8da" stroke-width="0.4"/>
<circle cx="341.6" cy="303.6" r="3.4" fill="#f1f0f6" stroke="#cac8da" stroke-width="0.4"/>
<circle cx="220.6" cy="326.7" r="1.8" fill="#f1f0f6" stroke="#cac8da" stroke-width="0.4"/>
<circle cx="323.1" cy="351.9" r="3.4" fill="#f1f0f6" stroke="#cac8da" stroke-width="0.4"/>
<circle cx="322.5" cy="376.2" r="2.7" fill="#f1f0f6" stroke="#cac8da" stroke-width="0.4"/>
<circle cx="347.4" cy="357.7" r="2.4" fill="#f1f0f6" stroke="#cac8da" stroke-width="0.4"/>
<circle cx="345.5" cy="323.1" r="2.1" fill="#f1f0f6" stroke="#cac8da" stroke-width="0.4"/>
<circle cx="223.3" cy="331.3" r="2.1" fill="#f1f0f6" stroke="#cac8da" stroke-width="0.4"/>
<circle cx="340.0" cy="376.4" r="2.1" fill="#f1f0f6" stroke="#cac8da" stroke-width="0.4"/>
<circle cx="227.1" cy="337.2" r="2.1" fill="#f1f0f6" stroke="#cac8da" stroke-width="0.4"/>
<circle cx="286.9" cy="363.6" r="2.2" fill="#f1f0f6" stroke="#cac8da" stroke-width="0.4"/>
<circle cx="270.4" cy="371.8" r="2.5" fill="#f1f0f6" stroke="#cac8da" stroke-width="0.4"/>
<circle cx="259.6" cy="371.0" r="3.1" fill="#f1f0f6" stroke="#cac8da" stroke-width="0.4"/>
<circle cx="334.7" cy="352.0" r="2.5" fill="#f1f0f6" stroke="#cac8da" stroke-width="0.4"/>
<circle cx="307.3" cy="365.2" r="2.8" fill="#f1f0f6" stroke="#cac8da" stroke-width="0.4"/>
<circle cx="245.4" cy="315.5" r="2.5" fill="#f1f0f6" stroke="#cac8da" stroke-width="0.4"/>
<circle cx="317.9" cy="339.8" r="2.7" fill="#f1f0f6" stroke="#cac8da" stroke-width="0.4"/>
<circle cx="325.4" cy="298.1" r="2.8" fill="#f1f0f6" stroke="#cac8da" stroke-width="0.4"/>
<circle cx="258.2" cy="340.0" r="3.1" fill="#f1f0f6" stroke="#cac8da" stroke-width="0.4"/>
<circle cx="246.8" cy="376.5" r="1.9" fill="#f1f0f6" stroke="#cac8da" stroke-width="0.4"/>
<circle cx="289.4" cy="338.4" r="2.2" fill="#f1f0f6" stroke="#cac8da" stroke-width="0.4"/>
<circle cx="289.3" cy="331.8" r="2.5" fill="#f1f0f6" stroke="#cac8da" stroke-width="0.4"/>
<circle cx="310.7" cy="288.4" r="2.4" fill="#f1f0f6" stroke="#cac8da" stroke-width="0.4"/>
<circle cx="319.8" cy="301.2" r="3.2" fill="#f1f0f6" stroke="#cac8da" stroke-width="0.4"/>
<circle cx="240.7" cy="351.3" r="2.1" fill="#f1f0f6" stroke="#cac8da" stroke-width="0.4"/>
<circle cx="274.1" cy="327.3" r="1.9" fill="#f1f0f6" stroke="#cac8da" stroke-width="0.4"/>
<circle cx="308.1" cy="332.7" r="2.9" fill="#f1f0f6" stroke="#cac8da" stroke-width="0.4"/>
<circle cx="286.3" cy="339.7" r="2.6" fill="#f1f0f6" stroke="#cac8da" stroke-width="0.4"/>
<circle cx="253.5" cy="371.6" r="1.9" fill="#f1f0f6" stroke="#cac8da" stroke-width="0.4"/>
<circle cx="332.2" cy="368.3" r="2.6" fill="#f1f0f6" stroke="#cac8da" stroke-width="0.4"/>
<circle cx="318.7" cy="350.6" r="2.8" fill="#f1f0f6" stroke="#cac8da" stroke-width="0.4"/>
<circle cx="252.7" cy="317.7" r="2.4" fill="#f1f0f6" stroke="#cac8da" stroke-width="0.4"/>
<circle cx="254.1" cy="377.3" r="2.3" fill="#f1f0f6" stroke="#cac8da" stroke-width="0.4"/>
<circle cx="265.7" cy="327.0" r="3.1" fill="#f1f0f6" stroke="#cac8da" stroke-width="0.4"/>
<circle cx="278.0" cy="339.5" r="2.2" fill="#f1f0f6" stroke="#cac8da" stroke-width="0.4"/>
<circle cx="250.8" cy="296.3" r="2.1" fill="#f1f0f6" stroke="#cac8da" stroke-width="0.4"/>
<circle cx="248.9" cy="367.3" r="2.6" fill="#f1f0f6" stroke="#cac8da" stroke-width="0.4"/>
<circle cx="228.0" cy="331.0" r="2.0" fill="#f1f0f6" stroke="#cac8da" stroke-width="0.4"/>
<circle cx="290.0" cy="329.1" r="3.2" fill="#f1f0f6" stroke="#cac8da" stroke-width="0.4"/>
<circle cx="248.3" cy="367.1" r="2.2" fill="#f1f0f6" stroke="#cac8da" stroke-width="0.4"/>
<circle cx="346.6" cy="347.0" r="1.9" fill="#f1f0f6" stroke="#cac8da" stroke-width="0.4"/>
<circle cx="322.8" cy="313.6" r="2.4" fill="#f1f0f6" stroke="#cac8da" stroke-width="0.4"/>
<circle cx="232.9" cy="365.9" r="1.9" fill="#f1f0f6" stroke="#cac8da" stroke-width="0.4"/>
<circle cx="313.4" cy="324.8" r="2.9" fill="#f1f0f6" stroke="#cac8da" stroke-width="0.4"/>
<circle cx="252.9" cy="295.3" r="3.3" fill="#f1f0f6" stroke="#cac8da" stroke-width="0.4"/>
<circle cx="302.0" cy="303.8" r="3.4" fill="#f1f0f6" stroke="#cac8da" stroke-width="0.4"/>
<circle cx="337.0" cy="305.0" r="1.8" fill="#f1f0f6" stroke="#cac8da" stroke-width="0.4"/>
<circle cx="296.1" cy="300.9" r="3.0" fill="#f1f0f6" stroke="#cac8da" stroke-width="0.4"/>
<circle cx="276.8" cy="353.9" r="2.7" fill="#f1f0f6" stroke="#cac8da" stroke-width="0.4"/>
<circle cx="317.8" cy="364.4" r="2.8" fill="#f1f0f6" stroke="#cac8da" stroke-width="0.4"/>
<circle cx="293.4" cy="318.4" r="2.0" fill="#f1f0f6" stroke="#cac8da" stroke-width="0.4"/>
<circle cx="225.6" cy="367.7" r="2.1" fill="#f1f0f6" stroke="#cac8da" stroke-width="0.4"/>
<circle cx="271.0" cy="317.5" r="2.8" fill="#f1f0f6" stroke="#cac8da" stroke-width="0.4"/>
<circle cx="285.5" cy="367.9" r="2.5" fill="#f1f0f6" stroke="#cac8da" stroke-width="0.4"/>
<circle cx="262.2" cy="348.6" r="3.0" fill="#f1f0f6" stroke="#cac8da" stroke-width="0.4"/>
<circle cx="338.9" cy="317.0" r="3.2" fill="#f1f0f6" stroke="#cac8da" stroke-width="0.4"/>
<circle cx="346.5" cy="379.4" r="2.0" fill="#f1f0f6" stroke="#cac8da" stroke-width="0.4"/>
<circle cx="264.7" cy="360.0" r="3.1" fill="#f1f0f6" stroke="#cac8da" stroke-width="0.4"/>
<circle cx="218.4" cy="324.7" r="3.0" fill="#f1f0f6" stroke="#cac8da" stroke-width="0.4"/>
<circle cx="316.1" cy="337.8" r="2.1" fill="#f1f0f6" stroke="#cac8da" stroke-width="0.4"/>
<circle cx="268.3" cy="293.4" r="2.3" fill="#f1f0f6" stroke="#cac8da" stroke-width="0.4"/>
<circle cx="271.1" cy="364.5" r="2.7" fill="#f1f0f6" stroke="#cac8da" stroke-width="0.4"/>
<circle cx="269.4" cy="310.9" r="2.3" fill="#f1f0f6" stroke="#cac8da" stroke-width="0.4"/>
<circle cx="304.2" cy="329.4" r="2.1" fill="#f1f0f6" stroke="#cac8da" stroke-width="0.4"/>
<circle cx="324.8" cy="341.5" r="3.3" fill="#f1f0f6" stroke="#cac8da" stroke-width="0.4"/>
<circle cx="285.9" cy="345.9" r="2.5" fill="#f1f0f6" stroke="#cac8da" stroke-width="0.4"/>
<circle cx="295.7" cy="373.5" r="3.4" fill="#f1f0f6" stroke="#cac8da" stroke-width="0.4"/>
<circle cx="302.9" cy="328.0" r="1.9" fill="#f1f0f6" stroke="#cac8da" stroke-width="0.4"/>
<circle cx="327.3" cy="324.4" r="2.4" fill="#f1f0f6" stroke="#cac8da" stroke-width="0.4"/>
<circle cx="220.8" cy="291.2" r="2.4" fill="#f1f0f6" stroke="#cac8da" stroke-width="0.4"/>
<circle cx="345.6" cy="356.9" r="2.9" fill="#f1f0f6" stroke="#cac8da" stroke-width="0.4"/>
<circle cx="303.9" cy="313.4" r="2.1" fill="#f1f0f6" stroke="#cac8da" stroke-width="0.4"/>
<circle cx="294.9" cy="293.9" r="2.7" fill="#f1f0f6" stroke="#cac8da" stroke-width="0.4"/>
<circle cx="283.0" cy="338.5" r="2.0" fill="#f1f0f6" stroke="#cac8da" stroke-width="0.4"/>
<circle cx="222.2" cy="332.0" r="2.0" fill="#f1f0f6" stroke="#cac8da" stroke-width="0.4"/>
<circle cx="300.2" cy="316.8" r="2.8" fill="#f1f0f6" stroke="#cac8da" stroke-width="0.4"/>
<circle cx="315.0" cy="344.4" r="2.7" fill="#f1f0f6" stroke="#cac8da" stroke-width="0.4"/>
<circle cx="239.8" cy="320.3" r="3.4" fill="#f1f0f6" stroke="#cac8da" stroke-width="0.4"/>
<circle cx="249.5" cy="314.4" r="2.6" fill="#f1f0f6" stroke="#cac8da" stroke-width="0.4"/>
<circle cx="287.2" cy="361.5" r="2.3" fill="#f1f0f6" stroke="#cac8da" stroke-width="0.4"/>
<circle cx="343.9" cy="290.1" r="3.1" fill="#f1f0f6" stroke="#cac8da" stroke-width="0.4"/>
<circle cx="290.5" cy="371.8" r="2.0" fill="#f1f0f6" stroke="#cac8da" stroke-width="0.4"/>
<circle cx="306.7" cy="376.1" r="2.9" fill="#f1f0f6" stroke="#cac8da" stroke-width="0.4"/>
<circle cx="228.3" cy="373.6" r="3.4" fill="#f1f0f6" stroke="#cac8da" stroke-width="0.4"/>
<circle cx="228.1" cy="364.9" r="1.9" fill="#f1f0f6" stroke="#cac8da" stroke-width="0.4"/>
<circle cx="224.1" cy="362.0" r="3.0" fill="#f1f0f6" stroke="#cac8da" stroke-width="0.4"/>
<circle cx="343.2" cy="346.8" r="2.6" fill="#f1f0f6" stroke="#cac8da" stroke-width="0.4"/>
<circle cx="250.0" cy="341.3" r="3.4" fill="#f1f0f6" stroke="#cac8da" stroke-width="0.4"/>
<circle cx="300.9" cy="369.4" r="2.1" fill="#f1f0f6" stroke="#cac8da" stroke-width="0.4"/>
<circle cx="313.0" cy="356.1" r="1.9" fill="#f1f0f6" stroke="#cac8da" stroke-width="0.4"/>
<circle cx="324.5" cy="304.4" r="2.1" fill="#f1f0f6" stroke="#cac8da" stroke-width="0.4"/>
<circle cx="221.3" cy="349.6" r="2.0" fill="#f1f0f6" stroke="#cac8da" stroke-width="0.4"/>
<circle cx="345.7" cy="288.0" r="3.1" fill="#f1f0f6" stroke="#cac8da" stroke-width="0.4"/>
<circle cx="316.2" cy="340.9" r="2.7" fill="#f1f0f6" stroke="#cac8da" stroke-width="0.4"/>
<circle cx="321.5" cy="347.2" r="2.0" fill="#f1f0f6" stroke="#cac8da" stroke-width="0.4"/>
<circle cx="321.4" cy="320.9" r="2.7" fill="#f1f0f6" stroke="#cac8da" stroke-width="0.4"/>
<circle cx="282.7" cy="372.1" r="2.5" fill="#f1f0f6" stroke="#cac8da" stroke-width="0.4"/>
<circle cx="329.1" cy="295.6" r="2.3" fill="#f1f0f6" stroke="#cac8da" stroke-width="0.4"/>
<circle cx="304.2" cy="344.9" r="3.1" fill="#f1f0f6" stroke="#cac8da" stroke-width="0.4"/>
<circle cx="241.3" cy="362.8" r="3.1" fill="#f1f0f6" stroke="#cac8da" stroke-width="0.4"/>
<circle cx="232.4" cy="301.0" r="2.7" fill="#f1f0f6" stroke="#cac8da" stroke-width="0.4"/>
<circle cx="345.7" cy="345.1" r="2.5" fill="#f1f0f6" stroke="#cac8da" stroke-width="0.4"/>
<circle cx="281.9" cy="363.3" r="2.6" fill="#f1f0f6" stroke="#cac8da" stroke-width="0.4"/>
<circle cx="286.0" cy="343.2" r="3.3" fill="#f1f0f6" stroke="#cac8da" stroke-width="0.4"/>
<circle cx="321.9" cy="366.0" r="2.2" fill="#f1f0f6" stroke="#cac8da" stroke-width="0.4"/>
<circle cx="294.6" cy="364.5" r="2.9" fill="#f1f0f6" stroke="#cac8da" stroke-width="0.4"/>
<circle cx="342.4" cy="373.1" r="2.0" fill="#f1f0f6" stroke="#cac8da" stroke-width="0.4"/>
<circle cx="282.1" cy="321.3" r="2.1" fill="#f1f0f6" stroke="#cac8da" stroke-width="0.4"/>
<circle cx="281.1" cy="379.5" r="3.0" fill="#f1f0f6" stroke="#cac8da" stroke-width="0.4"/>
<circle cx="226.5" cy="311.0" r="2.4" fill="#f1f0f6" stroke="#cac8da" stroke-width="0.4"/>
<circle cx="333.4" cy="330.7" r="2.1" fill="#f1f0f6" stroke="#cac8da" stroke-width="0.4"/>
<circle cx="287.8" cy="311.0" r="1.9" fill="#f1f0f6" stroke="#cac8da" stroke-width="0.4"/>
<circle cx="293.6" cy="380.2" r="3.0" fill="#f1f0f6" stroke="#cac8da" stroke-width="0.4"/>
<circle cx="313.1" cy="302.2" r="2.7" fill="#f1f0f6" stroke="#cac8da" stroke-width="0.4"/>
<circle cx="299.6" cy="358.6" r="2.5" fill="#f1f0f6" stroke="#cac8da" stroke-width="0.4"/>
<circle cx="220.2" cy="374.3" r="2.2" fill="#f1f0f6" stroke="#cac8da" stroke-width="0.4"/>
<circle cx="313.4" cy="331.2" r="3.0" fill="#f1f0f6" stroke="#cac8da" stroke-width="0.4"/>
<circle cx="258.9" cy="296.6" r="2.5" fill="#f1f0f6" stroke="#cac8da" stroke-width="0.4"/>
<circle cx="278.3" cy="361.7" r="2.4" fill="#f1f0f6" stroke="#cac8da" stroke-width="0.4"/>
<circle cx="303.6" cy="323.0" r="3.0" fill="#f1f0f6" stroke="#cac8da" stroke-width="0.4"/>
<circle cx="236.7" cy="369.8" r="3.3" fill="#f1f0f6" stroke="#cac8da" stroke-width="0.4"/>
<circle cx="216.2" cy="367.8" r="3.0" fill="#f1f0f6" stroke="#cac8da" stroke-width="0.4"/>
<circle cx="307.2" cy="297.8" r="3.0" fill="#f1f0f6" stroke="#cac8da" stroke-width="0.4"/>
<circle cx="317.9" cy="346.2" r="3.3" fill="#f1f0f6" stroke="#cac8da" stroke-width="0.4"/>
<circle cx="341.8" cy="346.9" r="3.3" fill="#f1f0f6" stroke="#cac8da" stroke-width="0.4"/>
<circle cx="232.6" cy="315.7" r="2.6" fill="#f1f0f6" stroke="#cac8da" stroke-width="0.4"/>
<circle cx="284.1" cy="376.6" r="2.8" fill="#f1f0f6" stroke="#cac8da" stroke-width="0.4"/>
<circle cx="297.5" cy="345.8" r="3.3" fill="#f1f0f6" stroke="#cac8da" stroke-width="0.4"/>
<circle cx="267.5" cy="356.8" r="2.8" fill="#f1f0f6" stroke="#cac8da" stroke-width="0.4"/>
<circle cx="267.7" cy="319.5" r="2.0" fill="#f1f0f6" stroke="#cac8da" stroke-width="0.4"/>
<circle cx="214.5" cy="319.2" r="2.3" fill="#f1f0f6" stroke="#cac8da" stroke-width="0.4"/>
<circle cx="224.0" cy="333.1" r="2.4" fill="#f1f0f6" stroke="#cac8da" stroke-width="0.4"/>
<circle cx="338.9" cy="360.6" r="2.9" fill="#f1f0f6" stroke="#cac8da" stroke-width="0.4"/>
<circle cx="328.2" cy="313.5" r="2.0" fill="#f1f0f6" stroke="#cac8da" stroke-width="0.4"/>
<circle cx="295.9" cy="309.2" r="3.4" fill="#f1f0f6" stroke="#cac8da" stroke-width="0.4"/>
<circle cx="270.8" cy="370.4" r="2.2" fill="#f1f0f6" stroke="#cac8da" stroke-width="0.4"/>
<circle cx="225.7" cy="346.3" r="2.9" fill="#f1f0f6" stroke="#cac8da" stroke-width="0.4"/>
<circle cx="247.8" cy="374.2" r="3.4" fill="#f1f0f6" stroke="#cac8da" stroke-width="0.4"/>
<circle cx="306.5" cy="379.3" r="3.4" fill="#f1f0f6" stroke="#cac8da" stroke-width="0.4"/>
<circle cx="233.1" cy="355.9" r="3.0" fill="#f1f0f6" stroke="#cac8da" stroke-width="0.4"/>
<circle cx="312.5" cy="319.6" r="2.7" fill="#f1f0f6" stroke="#cac8da" stroke-width="0.4"/>
<circle cx="293.0" cy="367.0" r="1.9" fill="#f1f0f6" stroke="#cac8da" stroke-width="0.4"/>
<circle cx="264.0" cy="317.3" r="3.1" fill="#f1f0f6" stroke="#cac8da" stroke-width="0.4"/>
<circle cx="228.9" cy="293.7" r="2.0" fill="#f1f0f6" stroke="#cac8da" stroke-width="0.4"/>
<circle cx="228.8" cy="328.5" r="3.2" fill="#f1f0f6" stroke="#cac8da" stroke-width="0.4"/>
<circle cx="261.3" cy="297.4" r="2.9" fill="#f1f0f6" stroke="#cac8da" stroke-width="0.4"/>
<circle cx="258.2" cy="341.1" r="3.0" fill="#f1f0f6" stroke="#cac8da" stroke-width="0.4"/>
<circle cx="275.0" cy="356.2" r="2.8" fill="#f1f0f6" stroke="#cac8da" stroke-width="0.4"/>
<circle cx="328.8" cy="358.9" r="3.2" fill="#f1f0f6" stroke="#cac8da" stroke-width="0.4"/>
<circle cx="314.5" cy="314.2" r="2.6" fill="#f1f0f6" stroke="#cac8da" stroke-width="0.4"/>
<circle cx="318.0" cy="361.0" r="3.0" fill="#f1f0f6" stroke="#cac8da" stroke-width="0.4"/>
<circle cx="327.7" cy="364.7" r="2.7" fill="#f1f0f6" stroke="#cac8da" stroke-width="0.4"/>
<circle cx="300.1" cy="292.1" r="2.6" fill="#f1f0f6" stroke="#cac8da" stroke-width="0.4"/>
<circle cx="311.8" cy="373.0" r="3.2" fill="#f1f0f6" stroke="#cac8da" stroke-width="0.4"/>
<circle cx="272.7" cy="309.4" r="3.2" fill="#f1f0f6" stroke="#cac8da" stroke-width="0.4"/>
<circle cx="302.4" cy="305.8" r="1.9" fill="#f1f0f6" stroke="#cac8da" stroke-width="0.4"/>
<circle cx="332.4" cy="341.6" r="2.0" fill="#f1f0f6" stroke="#cac8da" stroke-width="0.4"/>
<circle cx="347.6" cy="342.6" r="3.0" fill="#f1f0f6" stroke="#cac8da" stroke-width="0.4"/>
<circle cx="322.7" cy="311.8" r="2.6" fill="#f1f0f6" stroke="#cac8da" stroke-width="0.4"/>
<circle cx="236.4" cy="345.0" r="2.5" fill="#f1f0f6" stroke="#cac8da" stroke-width="0.4"/>
<circle cx="320.4" cy="298.8" r="2.1" fill="#f1f0f6" stroke="#cac8da" stroke-width="0.4"/>
<circle cx="265.6" cy="288.1" r="2.5" fill="#f1f0f6" stroke="#cac8da" stroke-width="0.4"/>
<circle cx="343.9" cy="368.5" r="2.1" fill="#f1f0f6" stroke="#cac8da" stroke-width="0.4"/>
<circle cx="326.1" cy="308.9" r="2.2" fill="#f1f0f6" stroke="#cac8da" stroke-width="0.4"/>
<circle cx="299.7" cy="315.4" r="2.1" fill="#f1f0f6" stroke="#cac8da" stroke-width="0.4"/>
<circle cx="224.6" cy="304.4" r="2.1" fill="#f1f0f6" stroke="#cac8da" stroke-width="0.4"/>
<circle cx="337.0" cy="291.9" r="2.7" fill="#f1f0f6" stroke="#cac8da" stroke-width="0.4"/>
<circle cx="241.9" cy="355.0" r="1.8" fill="#f1f0f6" stroke="#cac8da" stroke-width="0.4"/>
<circle cx="263.5" cy="356.6" r="1.8" fill="#f1f0f6" stroke="#cac8da" stroke-width="0.4"/>
<circle cx="268.9" cy="318.3" r="2.6" fill="#f1f0f6" stroke="#cac8da" stroke-width="0.4"/>
<circle cx="298.5" cy="295.4" r="3.2" fill="#f1f0f6" stroke="#cac8da" stroke-width="0.4"/>
<circle cx="249.7" cy="359.8" r="2.0" fill="#f1f0f6" stroke="#cac8da" stroke-width="0.4"/>
<circle cx="225.8" cy="306.0" r="1.9" fill="#f1f0f6" stroke="#cac8da" stroke-width="0.4"/>
<circle cx="246.7" cy="301.0" r="1.9" fill="#f1f0f6" stroke="#cac8da" stroke-width="0.4"/>
<circle cx="328.9" cy="337.1" r="2.6" fill="#f1f0f6" stroke="#cac8da" stroke-width="0.4"/>
<circle cx="282.1" cy="363.4" r="1.9" fill="#f1f0f6" stroke="#cac8da" stroke-width="0.4"/>
<circle cx="219.2" cy="350.0" r="1.8" fill="#f1f0f6" stroke="#cac8da" stroke-width="0.4"/>
<circle cx="281.8" cy="346.1" r="3.2" fill="#f1f0f6" stroke="#cac8da" stroke-width="0.4"/>
<circle cx="213.1" cy="325.4" r="2.3" fill="#f1f0f6" stroke="#cac8da" stroke-width="0.4"/>
<circle cx="291.9" cy="291.1" r="3.0" fill="#f1f0f6" stroke="#cac8da" stroke-width="0.4"/>
<circle cx="343.2" cy="339.0" r="2.9" fill="#f1f0f6" stroke="#cac8da" stroke-width="0.4"/>
<circle cx="326.6" cy="366.5" r="3.1" fill="#f1f0f6" stroke="#cac8da" stroke-width="0.4"/>
<circle cx="279.3" cy="296.1" r="3.1" fill="#f1f0f6" stroke="#cac8da" stroke-width="0.4"/>
<circle cx="327.7" cy="353.2" r="2.3" fill="#f1f0f6" stroke="#cac8da" stroke-width="0.4"/>
<circle cx="345.6" cy="345.9" r="2.3" fill="#f1f0f6" stroke="#cac8da" stroke-width="0.4"/>
<circle cx="319.9" cy="308.8" r="2.2" fill="#f1f0f6" stroke="#cac8da" stroke-width="0.4"/>
<circle cx="336.1" cy="293.1" r="3.2" fill="#f1f0f6" stroke="#cac8da" stroke-width="0.4"/>
<circle cx="267.0" cy="341.2" r="2.9" fill="#f1f0f6" stroke="#cac8da" stroke-width="0.4"/>
<circle cx="335.8" cy="308.4" r="1.9" fill="#f1f0f6" stroke="#cac8da" stroke-width="0.4"/>
<circle cx="282.7" cy="308.8" r="2.5" fill="#f1f0f6" stroke="#cac8da" stroke-width="0.4"/>
<circle cx="228.0" cy="296.4" r="2.7" fill="#f1f0f6" stroke="#cac8da" stroke-width="0.4"/>
<circle cx="220.0" cy="312.8" r="2.4" fill="#f1f0f6" stroke="#cac8da" stroke-width="0.4"/>
<circle cx="225.9" cy="362.9" r="3.2" fill="#f1f0f6" stroke="#cac8da" stroke-width="0.4"/>
<circle cx="217.4" cy="363.0" r="2.1" fill="#f1f0f6" stroke="#cac8da" stroke-width="0.4"/>
<circle cx="312.2" cy="293.6" r="3.0" fill="#f1f0f6" stroke="#cac8da" stroke-width="0.4"/>
<circle cx="339.8" cy="312.1" r="2.1" fill="#f1f0f6" stroke="#cac8da" stroke-width="0.4"/>
<circle cx="259.3" cy="368.0" r="3.0" fill="#f1f0f6" stroke="#cac8da" stroke-width="0.4"/>
<circle cx="234.3" cy="371.9" r="3.0" fill="#f1f0f6" stroke="#cac8da" stroke-width="0.4"/>
<circle cx="343.2" cy="378.5" r="2.1" fill="#f1f0f6" stroke="#cac8da" stroke-width="0.4"/>
<circle cx="312.0" cy="290.3" r="2.1" fill="#f1f0f6" stroke="#cac8da" stroke-width="0.4"/>
<circle cx="286.0" cy="309.7" r="2.1" fill="#f1f0f6" stroke="#cac8da" stroke-width="0.4"/>
<circle cx="261.7" cy="330.7" r="3.3" fill="#f1f0f6" stroke="#cac8da" stroke-width="0.4"/>
<circle cx="292.0" cy="339.7" r="3.0" fill="#f1f0f6" stroke="#cac8da" stroke-width="0.4"/>
<circle cx="238.6" cy="362.7" r="3.0" fill="#f1f0f6" stroke="#cac8da" stroke-width="0.4"/>
<circle cx="323.7" cy="329.9" r="2.7" fill="#f1f0f6" stroke="#cac8da" stroke-width="0.4"/>
<circle cx="223.2" cy="330.6" r="2.8" fill="#f1f0f6" stroke="#cac8da" stroke-width="0.4"/>
<circle cx="342.2" cy="371.3" r="2.3" fill="#f1f0f6" stroke="#cac8da" stroke-width="0.4"/>
<circle cx="315.9" cy="367.6" r="3.3" fill="#f1f0f6" stroke="#cac8da" stroke-width="0.4"/>
<circle cx="305.6" cy="318.6" r="3.2" fill="#f1f0f6" stroke="#cac8da" stroke-width="0.4"/>
<circle cx="215.2" cy="340.8" r="2.5" fill="#f1f0f6" stroke="#cac8da" stroke-width="0.4"/>
<circle cx="333.1" cy="345.8" r="2.1" fill="#f1f0f6" stroke="#cac8da" stroke-width="0.4"/>
<circle cx="235.5" cy="291.4" r="3.0" fill="#f1f0f6" stroke="#cac8da" stroke-width="0.4"/>
<circle cx="319.5" cy="322.7" r="2.2" fill="#f1f0f6" stroke="#cac8da" stroke-width="0.4"/>
<circle cx="288.8" cy="306.2" r="2.6" fill="#f1f0f6" stroke="#cac8da" stroke-width="0.4"/>
<circle cx="259.7" cy="317.7" r="2.9" fill="#f1f0f6" stroke="#cac8da" stroke-width="0.4"/>
<circle cx="246.8" cy="318.8" r="2.7" fill="#f1f0f6" stroke="#cac8da" stroke-width="0.4"/>
<circle cx="341.1" cy="302.0" r="2.3" fill="#f1f0f6" stroke="#cac8da" stroke-width="0.4"/>
<circle cx="250.1" cy="317.3" r="2.6" fill="#f1f0f6" stroke="#cac8da" stroke-width="0.4"/>
<circle cx="324.6" cy="304.9" r="3.0" fill="#f1f0f6" stroke="#cac8da" stroke-width="0.4"/>
<circle cx="271.8" cy="341.2" r="2.6" fill="#f1f0f6" stroke="#cac8da" stroke-width="0.4"/>
<circle cx="295.0" cy="304.7" r="2.8" fill="#f1f0f6" stroke="#cac8da" stroke-width="0.4"/>
<circle cx="267.7" cy="360.9" r="2.8" fill="#f1f0f6" stroke="#cac8da" stroke-width="0.4"/>
<circle cx="268.5" cy="379.8" r="2.1" fill="#f1f0f6" stroke="#cac8da" stroke-width="0.4"/>
<circle cx="214.9" cy="299.5" r="2.9" fill="#f1f0f6" stroke="#cac8da" stroke-width="0.4"/>
<circle cx="225.5" cy="356.4" r="1.9" fill="#f1f0f6" stroke="#cac8da" stroke-width="0.4"/>
<circle cx="253.4" cy="345.9" r="1.8" fill="#f1f0f6" stroke="#cac8da" stroke-width="0.4"/>
<circle cx="271.9" cy="380.9" r="3.0" fill="#f1f0f6" stroke="#cac8da" stroke-width="0.4"/>
<circle cx="265.9" cy="372.5" r="2.7" fill="#f1f0f6" stroke="#cac8da" stroke-width="0.4"/>
<circle cx="323.3" cy="320.0" r="2.4" fill="#f1f0f6" stroke="#cac8da" stroke-width="0.4"/>
<circle cx="308.3" cy="358.8" r="2.9" fill="#f1f0f6" stroke="#cac8da" stroke-width="0.4"/>
<circle cx="233.4" cy="327.2" r="2.3" fill="#f1f0f6" stroke="#cac8da" stroke-width="0.4"/>
<circle cx="244.5" cy="298.8" r="3.0" fill="#f1f0f6" stroke="#cac8da" stroke-width="0.4"/>
<circle cx="232.2" cy="320.9" r="1.8" fill="#f1f0f6" stroke="#cac8da" stroke-width="0.4"/>
<circle cx="308.8" cy="346.2" r="1.9" fill="#f1f0f6" stroke="#cac8da" stroke-width="0.4"/>
<circle cx="342.2" cy="380.5" r="3.0" fill="#f1f0f6" stroke="#cac8da" stroke-width="0.4"/>
<circle cx="322.6" cy="353.4" r="1.8" fill="#f1f0f6" stroke="#cac8da" stroke-width="0.4"/>
<circle cx="250.1" cy="310.0" r="1.8" fill="#f1f0f6" stroke="#cac8da" stroke-width="0.4"/>
<circle cx="299.8" cy="343.0" r="2.4" fill="#f1f0f6" stroke="#cac8da" stroke-width="0.4"/>
<circle cx="314.8" cy="309.8" r="2.2" fill="#f1f0f6" stroke="#cac8da" stroke-width="0.4"/>
<circle cx="228.6" cy="309.9" r="3.2" fill="#f1f0f6" stroke="#cac8da" stroke-width="0.4"/>
<circle cx="279.6" cy="356.5" r="3.2" fill="#f1f0f6" stroke="#cac8da" stroke-width="0.4"/>
<circle cx="303.6" cy="321.6" r="3.3" fill="#f1f0f6" stroke="#cac8da" stroke-width="0.4"/>
<circle cx="223.9" cy="326.4" r="3.2" fill="#f1f0f6" stroke="#cac8da" stroke-width="0.4"/>
<circle cx="305.8" cy="320.9" r="3.1" fill="#f1f0f6" stroke="#cac8da" stroke-width="0.4"/>
<circle cx="316.1" cy="355.3" r="2.2" fill="#f1f0f6" stroke="#cac8da" stroke-width="0.4"/>
<circle cx="305.5" cy="349.0" r="3.1" fill="#f1f0f6" stroke="#cac8da" stroke-width="0.4"/>
<circle cx="282.8" cy="374.4" r="3.0" fill="#f1f0f6" stroke="#cac8da" stroke-width="0.4"/>
<circle cx="241.5" cy="341.8" r="2.1" fill="#f1f0f6" stroke="#cac8da" stroke-width="0.4"/>
<circle cx="297.0" cy="318.3" r="3.4" fill="#f1f0f6" stroke="#cac8da" stroke-width="0.4"/>
<circle cx="259.5" cy="361.5" r="3.1" fill="#f1f0f6" stroke="#cac8da" stroke-width="0.4"/>
<circle cx="263.8" cy="342.8" r="2.2" fill="#f1f0f6" stroke="#cac8da" stroke-width="0.4"/>
<circle cx="264.0" cy="328.8" r="2.9" fill="#f1f0f6" stroke="#cac8da" stroke-width="0.4"/>
<circle cx="282.1" cy="303.0" r="2.8" fill="#f1f0f6" stroke="#cac8da" stroke-width="0.4"/>
<circle cx="283.2" cy="336.8" r="2.5" fill="#f1f0f6" stroke="#cac8da" stroke-width="0.4"/>
<circle cx="330.9" cy="348.8" r="2.9" fill="#f1f0f6" stroke="#cac8da" stroke-width="0.4"/>
<circle cx="281.2" cy="325.4" r="2.5" fill="#f1f0f6" stroke="#cac8da" stroke-width="0.4"/>
<circle cx="305.3" cy="328.7" r="1.9" fill="#f1f0f6" stroke="#cac8da" stroke-width="0.4"/>
<circle cx="243.0" cy="293.0" r="1.9" fill="#f1f0f6" stroke="#cac8da" stroke-width="0.4"/>
<circle cx="261.9" cy="323.1" r="2.5" fill="#f1f0f6" stroke="#cac8da" stroke-width="0.4"/>
<circle cx="240.4" cy="309.7" r="2.5" fill="#f1f0f6" stroke="#cac8da" stroke-width="0.4"/>
<circle cx="252.5" cy="312.3" r="2.6" fill="#f1f0f6" stroke="#cac8da" stroke-width="0.4"/>
<circle cx="316.9" cy="293.6" r="1.8" fill="#f1f0f6" stroke="#cac8da" stroke-width="0.4"/>
<circle cx="273.9" cy="371.2" r="2.8" fill="#f1f0f6" stroke="#cac8da" stroke-width="0.4"/>
<circle cx="262.6" cy="378.5" r="2.9" fill="#f1f0f6" stroke="#cac8da" stroke-width="0.4"/>
<circle cx="325.3" cy="366.3" r="1.9" fill="#f1f0f6" stroke="#cac8da" stroke-width="0.4"/>
<circle cx="239.5" cy="361.6" r="2.4" fill="#f1f0f6" stroke="#cac8da" stroke-width="0.4"/>
<circle cx="335.4" cy="294.6" r="3.3" fill="#f1f0f6" stroke="#cac8da" stroke-width="0.4"/>
<circle cx="297.4" cy="326.3" r="3.1" fill="#f1f0f6" stroke="#cac8da" stroke-width="0.4"/>
<circle cx="285.8" cy="330.7" r="2.1" fill="#f1f0f6" stroke="#cac8da" stroke-width="0.4"/>
<circle cx="319.6" cy="301.6" r="2.3" fill="#f1f0f6" stroke="#cac8da" stroke-width="0.4"/>
<circle cx="225.0" cy="289.5" r="2.3" fill="#f1f0f6" stroke="#cac8da" stroke-width="0.4"/>
<circle cx="219.0" cy="331.6" r="2.4" fill="#f1f0f6" stroke="#cac8da" stroke-width="0.4"/>
<circle cx="215.5" cy="331.1" r="2.3" fill="#f1f0f6" stroke="#cac8da" stroke-width="0.4"/>
<circle cx="244.5" cy="338.3" r="2.3" fill="#f1f0f6" stroke="#cac8da" stroke-width="0.4"/>
<circle cx="220.4" cy="374.6" r="3.4" fill="#f1f0f6" stroke="#cac8da" stroke-width="0.4"/>
<circle cx="245.2" cy="349.3" r="2.7" fill="#f1f0f6" stroke="#cac8da" stroke-width="0.4"/>
<circle cx="246.8" cy="338.1" r="2.2" fill="#f1f0f6" stroke="#cac8da" stroke-width="0.4"/>
<circle cx="250.4" cy="330.2" r="1.9" fill="#f1f0f6" stroke="#cac8da" stroke-width="0.4"/>
<circle cx="244.3" cy="379.5" r="3.0" fill="#f1f0f6" stroke="#cac8da" stroke-width="0.4"/>
<circle cx="258.1" cy="380.7" r="2.3" fill="#f1f0f6" stroke="#cac8da" stroke-width="0.4"/>
<circle cx="328.8" cy="318.0" r="3.2" fill="#f1f0f6" stroke="#cac8da" stroke-width="0.4"/>
<circle cx="274.5" cy="369.1" r="2.0" fill="#f1f0f6" stroke="#cac8da" stroke-width="0.4"/>
<circle cx="266.6" cy="320.0" r="3.1" fill="#f1f0f6" stroke="#cac8da" stroke-width="0.4"/>
<circle cx="330.7" cy="300.6" r="2.5" fill="#f1f0f6" stroke="#cac8da" stroke-width="0.4"/>
<circle cx="236.5" cy="294.1" r="2.0" fill="#f1f0f6" stroke="#cac8da" stroke-width="0.4"/>
<circle cx="223.0" cy="316.1" r="2.5" fill="#f1f0f6" stroke="#cac8da" stroke-width="0.4"/>
<circle cx="336.0" cy="348.6" r="3.0" fill="#f1f0f6" stroke="#cac8da" stroke-width="0.4"/>
<circle cx="258.0" cy="317.9" r="2.5" fill="#f1f0f6" stroke="#cac8da" stroke-width="0.4"/>
<circle cx="244.7" cy="289.9" r="2.2" fill="#f1f0f6" stroke="#cac8da" stroke-width="0.4"/>
<circle cx="339.3" cy="292.7" r="2.6" fill="#f1f0f6" stroke="#cac8da" stroke-width="0.4"/>
<circle cx="244.5" cy="358.9" r="1.9" fill="#f1f0f6" stroke="#cac8da" stroke-width="0.4"/>
<circle cx="282.4" cy="355.4" r="2.5" fill="#f1f0f6" stroke="#cac8da" stroke-width="0.4"/>
<circle cx="232.5" cy="370.7" r="1.8" fill="#f1f0f6" stroke="#cac8da" stroke-width="0.4"/>
<circle cx="339.0" cy="364.1" r="3.2" fill="#f1f0f6" stroke="#cac8da" stroke-width="0.4"/>
<circle cx="330.7" cy="322.4" r="2.8" fill="#f1f0f6" stroke="#cac8da" stroke-width="0.4"/>
<circle cx="276.9" cy="342.4" r="2.4" fill="#f1f0f6" stroke="#cac8da" stroke-width="0.4"/>
<circle cx="329.2" cy="316.6" r="2.7" fill="#f1f0f6" stroke="#cac8da" stroke-width="0.4"/>
<circle cx="222.3" cy="293.5" r="3.2" fill="#f1f0f6" stroke="#cac8da" stroke-width="0.4"/>
<circle cx="261.5" cy="322.8" r="3.4" fill="#f1f0f6" stroke="#cac8da" stroke-width="0.4"/>
<circle cx="311.3" cy="302.5" r="2.7" fill="#f1f0f6" stroke="#cac8da" stroke-width="0.4"/>
<circle cx="278.7" cy="344.2" r="2.2" fill="#f1f0f6" stroke="#cac8da" stroke-width="0.4"/>
<circle cx="250.5" cy="375.9" r="2.8" fill="#f1f0f6" stroke="#cac8da" stroke-width="0.4"/>
<circle cx="287.9" cy="352.3" r="3.0" fill="#f1f0f6" stroke="#cac8da" stroke-width="0.4"/>
<circle cx="237.3" cy="360.8" r="2.6" fill="#f1f0f6" stroke="#cac8da" stroke-width="0.4"/>
<circle cx="233.5" cy="317.4" r="3.4" fill="#f1f0f6" stroke="#cac8da" stroke-width="0.4"/>
<circle cx="327.9" cy="372.0" r="2.6" fill="#f1f0f6" stroke="#cac8da" stroke-width="0.4"/>
<circle cx="299.5" cy="324.9" r="3.0" fill="#f1f0f6" stroke="#cac8da" stroke-width="0.4"/>
<circle cx="285.9" cy="321.3" r="3.4" fill="#f1f0f6" stroke="#cac8da" stroke-width="0.4"/>
<circle cx="281.1" cy="291.8" r="3.1" fill="#f1f0f6" stroke="#cac8da" stroke-width="0.4"/>
<circle cx="226.0" cy="314.0" r="2.5" fill="#f1f0f6" stroke="#cac8da" stroke-width="0.4"/>
<circle cx="241.8" cy="329.8" r="2.5" fill="#f1f0f6" stroke="#cac8da" stroke-width="0.4"/>
<circle cx="285.1" cy="348.6" r="2.9" fill="#f1f0f6" stroke="#cac8da" stroke-width="0.4"/>
<circle cx="219.9" cy="310.1" r="2.0" fill="#f1f0f6" stroke="#cac8da" stroke-width="0.4"/>
<circle cx="258.3" cy="330.5" r="3.2" fill="#f1f0f6" stroke="#cac8da" stroke-width="0.4"/>
<circle cx="214.9" cy="363.4" r="2.0" fill="#f1f0f6" stroke="#cac8da" stroke-width="0.4"/>
<circle cx="313.7" cy="366.9" r="3.4" fill="#f1f0f6" stroke="#cac8da" stroke-width="0.4"/>
<circle cx="291.3" cy="293.2" r="2.3" fill="#f1f0f6" stroke="#cac8da" stroke-width="0.4"/>
<circle cx="272.3" cy="350.7" r="3.3" fill="#f1f0f6" stroke="#cac8da" stroke-width="0.4"/>
<circle cx="332.2" cy="293.9" r="2.0" fill="#f1f0f6" stroke="#cac8da" stroke-width="0.4"/>
<circle cx="301.6" cy="307.3" r="2.7" fill="#f1f0f6" stroke="#cac8da" stroke-width="0.4"/>
<circle cx="282.3" cy="338.7" r="2.4" fill="#f1f0f6" stroke="#cac8da" stroke-width="0.4"/>
<circle cx="336.8" cy="315.3" r="2.4" fill="#f1f0f6" stroke="#cac8da" stroke-width="0.4"/>
<circle cx="235.0" cy="314.9" r="2.0" fill="#f1f0f6" stroke="#cac8da" stroke-width="0.4"/>
<circle cx="300.0" cy="289.9" r="2.2" fill="#f1f0f6" stroke="#cac8da" stroke-width="0.4"/>
<circle cx="322.9" cy="367.2" r="2.3" fill="#f1f0f6" stroke="#cac8da" stroke-width="0.4"/>
<circle cx="312.9" cy="363.3" r="2.8" fill="#f1f0f6" stroke="#cac8da" stroke-width="0.4"/>
<circle cx="297.5" cy="358.1" r="2.3" fill="#f1f0f6" stroke="#cac8da" stroke-width="0.4"/>
<circle cx="258.0" cy="311.8" r="2.2" fill="#f1f0f6" stroke="#cac8da" stroke-width="0.4"/>
<circle cx="282.8" cy="338.2" r="2.1" fill="#f1f0f6" stroke="#cac8da" stroke-width="0.4"/>
<circle cx="224.6" cy="290.3" r="2.1" fill="#f1f0f6" stroke="#cac8da" stroke-width="0.4"/>
<circle cx="234.2" cy="345.8" r="3.1" fill="#f1f0f6" stroke="#cac8da" stroke-width="0.4"/>
<circle cx="285.7" cy="347.9" r="2.5" fill="#f1f0f6" stroke="#cac8da" stroke-width="0.4"/>
<circle cx="223.1" cy="357.5" r="3.0" fill="#f1f0f6" stroke="#cac8da" stroke-width="0.4"/>
<circle cx="233.1" cy="316.9" r="2.9" fill="#f1f0f6" stroke="#cac8da" stroke-width="0.4"/>
<circle cx="309.0" cy="303.2" r="2.4" fill="#f1f0f6" stroke="#cac8da" stroke-width="0.4"/>
<circle cx="265.4" cy="338.8" r="3.1" fill="#f1f0f6" stroke="#cac8da" stroke-width="0.4"/>
<circle cx="232.9" cy="323.0" r="3.3" fill="#f1f0f6" stroke="#cac8da" stroke-width="0.4"/>
<circle cx="237.1" cy="304.4" r="3.1" fill="#f1f0f6" stroke="#cac8da" stroke-width="0.4"/>
<circle cx="297.8" cy="332.3" r="2.5" fill="#f1f0f6" stroke="#cac8da" stroke-width="0.4"/>
<circle cx="221.5" cy="347.6" r="2.2" fill="#f1f0f6" stroke="#cac8da" stroke-width="0.4"/>
<path fill="#34408f" fill-opacity="0.6" d="M281.9 316.6A1.6 0.8 96 1 1 281.6 319.7A1.6 0.8 96 1 1 281.9 316.6M288.7 333.8A1.6 0.8 90 1 1 288.7 337.0A1.6 0.8 90 1 1 288.7 333.8M316.2 375.4A1.4 1.1 90 1 1 316.3 378.2A1.4 1.1 90 1 1 316.2 375.4M303.0 344.1A1.1 1.0 24 1 1 305.1 345.0A1.1 1.0 24 1 1 303.0 344.1M243.6 307.7A1.3 0.6 56 1 1 245.1 309.9A1.3 0.6 56 1 1 243.6 307.7M273.2 351.9A1.2 0.7 46 1 1 274.9 353.5A1.2 0.7 46 1 1 273.2 351.9M259.2 287.7A1.9 0.6 73 1 1 260.3 291.2A1.9 0.6 73 1 1 259.2 287.7M264.7 302.9A1.7 0.7 73 1 1 265.6 306.1A1.7 0.7 73 1 1 264.7 302.9M211.6 335.0A1.3 0.6 41 1 1 213.6 336.7A1.3 0.6 41 1 1 211.6 335.0M251.0 358.9A1.7 0.9 33 1 1 253.9 360.8A1.7 0.9 33 1 1 251.0 358.9M254.5 364.6A1.5 0.6 36 1 1 257.0 366.4A1.5 0.6 36 1 1 254.5 364.6M228.1 348.3A1.7 0.9 30 1 1 231.0 350.0A1.7 0.9 30 1 1 228.1 348.3M231.2 349.5A1.4 0.9 35 1 1 233.5 351.1A1.4 0.9 35 1 1 231.2 349.5M241.7 359.6A1.2 0.7 37 1 1 243.7 361.1A1.2 0.7 37 1 1 241.7 359.6M217.3 357.7A1.9 0.9 34 1 1 220.3 359.8A1.9 0.9 34 1 1 217.3 357.7M223.3 359.3A1.3 0.9 42 1 1 225.2 361.1A1.3 0.9 42 1 1 223.3 359.3M224.8 373.5A1.2 0.7 42 1 1 226.5 375.1A1.2 0.7 42 1 1 224.8 373.5M288.9 307.6A1.8 0.9 73 1 1 289.9 311.1A1.8 0.9 73 1 1 288.9 307.6M292.2 316.1A1.4 0.8 76 1 1 292.9 318.7A1.4 0.8 76 1 1 292.2 316.1M293.4 330.5A1.2 0.9 78 1 1 293.9 332.7A1.2 0.9 78 1 1 293.4 330.5M292.5 331.9A1.4 0.9 87 1 1 292.6 334.8A1.4 0.9 87 1 1 292.5 331.9M292.8 334.9A1.1 0.9 82 1 1 293.1 337.1A1.1 0.9 82 1 1 292.8 334.9M297.6 356.3A1.2 0.6 68 1 1 298.5 358.4A1.2 0.6 68 1 1 297.6 356.3M311.2 312.0A1.7 0.8 71 1 1 312.3 315.2A1.7 0.8 71 1 1 311.2 312.0M315.9 323.4A1.5 0.7 72 1 1 316.8 326.2A1.5 0.7 72 1 1 315.9 323.4M311.8 294.3A1.8 0.6 70 1 1 313.0 297.7A1.8 0.6 70 1 1 311.8 294.3M320.1 319.4A1.5 0.7 72 1 1 321.0 322.3A1.5 0.7 72 1 1 320.1 319.4M323.4 328.7A1.1 0.7 73 1 1 324.1 330.9A1.1 0.7 73 1 1 323.4 328.7M327.5 343.2A1.7 0.9 71 1 1 328.6 346.5A1.7 0.9 71 1 1 327.5 343.2M323.6 308.3A1.5 0.8 81 1 1 324.1 311.3A1.5 0.8 81 1 1 323.6 308.3M326.5 314.2A1.3 0.7 79 1 1 327.0 316.7A1.3 0.7 79 1 1 326.5 314.2M334.2 337.3A1.3 0.6 66 1 1 335.2 339.6A1.3 0.6 66 1 1 334.2 337.3M344.1 369.1A1.8 0.9 74 1 1 345.1 372.5A1.8 0.9 74 1 1 344.1 369.1M330.7 292.2A1.2 0.6 48 1 1 332.3 294.1A1.2 0.6 48 1 1 330.7 292.2M332.6 292.7A1.9 0.9 64 1 1 334.2 296.1A1.9 0.9 64 1 1 332.6 292.7M348.9 331.0A1.3 0.9 66 1 1 350.0 333.4A1.3 0.9 66 1 1 348.9 331.0M341.9 294.0A1.2 0.9 57 1 1 343.2 296.0A1.2 0.9 57 1 1 341.9 294.0M347.3 311.0A1.3 0.8 64 1 1 348.5 313.3A1.3 0.8 64 1 1 347.3 311.0M278.9 337.8A1.2 0.7 65 1 1 279.9 340.0A1.2 0.7 65 1 1 278.9 337.8M284.7 366.3A1.3 0.7 61 1 1 285.9 368.6A1.3 0.7 61 1 1 284.7 366.3M288.8 376.4A1.1 0.8 81 1 1 289.1 378.6A1.1 0.8 81 1 1 288.8 376.4M289.7 378.8A1.7 0.9 78 1 1 290.4 382.1A1.7 0.9 78 1 1 289.7 378.8M305.1 379.2A1.7 0.9 -18 1 1 308.3 378.1A1.7 0.9 -18 1 1 305.1 379.2M310.5 378.4A1.5 0.7 -3 1 1 313.4 378.3A1.5 0.7 -3 1 1 310.5 378.4M331.4 378.7A1.8 0.6 -8 1 1 334.9 378.2A1.8 0.6 -8 1 1 331.4 378.7M342.7 374.8A1.8 0.7 -30 1 1 345.8 372.9A1.8 0.7 -30 1 1 342.7 374.8M343.3 375.0A1.7 0.8 -27 1 1 346.3 373.4A1.7 0.8 -27 1 1 343.3 375.0M231.1 312.5A1.2 0.7 56 1 1 232.4 314.5A1.2 0.7 56 1 1 231.1 312.5M305.1 316.2A1.3 1.0 163 1 1 302.5 317.0A1.3 1.0 163 1 1 305.1 316.2M301.4 320.3A1.5 1.1 5 1 1 304.4 320.5A1.5 1.1 5 1 1 301.4 320.3M294.4 312.2A1.8 1.0 6 1 1 297.9 312.6A1.8 1.0 6 1 1 294.4 312.2M306.2 345.2A1.2 1.0 165 1 1 303.8 345.8A1.2 1.0 165 1 1 306.2 345.2M308.5 340.3A1.4 0.8 131 1 1 306.7 342.4A1.4 0.8 131 1 1 308.5 340.3M307.3 345.9A1.6 1.2 191 1 1 304.0 345.2A1.6 1.2 191 1 1 307.3 345.9M278.7 353.8A1.2 0.6 373 1 1 281.0 354.3A1.2 0.6 373 1 1 278.7 353.8M315.0 374.6A1.7 0.7 231 1 1 312.9 372.0A1.7 0.7 231 1 1 315.0 374.6"/>
<path fill="#34408f" fill-opacity="0.75" d="M227.1 363.9A1.4 0.7 128 1 1 225.3 366.1A1.4 0.7 128 1 1 227.1 363.9M213.3 341.8A1.9 0.8 39 1 1 216.2 344.1A1.9 0.8 39 1 1 213.3 341.8M241.9 302.2A1.1 0.8 72 1 1 242.6 304.4A1.1 0.8 72 1 1 241.9 302.2M245.2 310.0A1.8 0.6 62 1 1 246.8 313.1A1.8 0.6 62 1 1 245.2 310.0M250.8 319.7A1.8 0.6 55 1 1 252.9 322.7A1.8 0.6 55 1 1 250.8 319.7M264.2 340.3A1.2 0.8 53 1 1 265.6 342.2A1.2 0.8 53 1 1 264.2 340.3M265.6 341.5A1.6 0.7 62 1 1 267.1 344.3A1.6 0.7 62 1 1 265.6 341.5M272.6 324.0A1.4 0.9 64 1 1 273.8 326.5A1.4 0.9 64 1 1 272.6 324.0M274.5 331.2A1.6 0.9 73 1 1 275.5 334.3A1.6 0.9 73 1 1 274.5 331.2M272.4 309.6A1.2 0.6 66 1 1 273.4 311.7A1.2 0.6 66 1 1 272.4 309.6M273.5 313.6A1.3 0.7 72 1 1 274.4 316.2A1.3 0.7 72 1 1 273.5 313.6M236.5 318.6A1.4 0.6 59 1 1 238.0 321.1A1.4 0.6 59 1 1 236.5 318.6M238.4 321.5A1.8 0.6 65 1 1 239.9 324.8A1.8 0.6 65 1 1 238.4 321.5M238.7 322.3A1.6 0.8 54 1 1 240.7 324.9A1.6 0.8 54 1 1 238.7 322.3M247.8 335.7A1.2 0.9 61 1 1 248.9 337.8A1.2 0.9 61 1 1 247.8 335.7M218.5 341.9A1.3 0.7 33 1 1 220.7 343.3A1.3 0.7 33 1 1 218.5 341.9M247.0 362.6A1.4 0.6 37 1 1 249.3 364.3A1.4 0.6 37 1 1 247.0 362.6M261.4 379.1A1.7 0.8 52 1 1 263.5 381.8A1.7 0.8 52 1 1 261.4 379.1M221.0 372.2A1.8 0.9 40 1 1 223.7 374.4A1.8 0.9 40 1 1 221.0 372.2M290.8 316.7A1.8 0.6 72 1 1 291.9 320.1A1.8 0.6 72 1 1 290.8 316.7M292.7 319.4A1.5 0.6 84 1 1 293.0 322.4A1.5 0.6 84 1 1 292.7 319.4M292.5 326.4A1.3 0.9 86 1 1 292.7 329.1A1.3 0.9 86 1 1 292.5 326.4M297.0 351.1A1.5 0.9 85 1 1 297.3 354.2A1.5 0.9 85 1 1 297.0 351.1M298.4 358.2A1.5 0.9 75 1 1 299.1 361.0A1.5 0.9 75 1 1 298.4 358.2M307.0 292.4A1.4 0.8 91 1 1 307.0 295.1A1.4 0.8 91 1 1 307.0 292.4M311.4 297.4A1.5 0.8 68 1 1 312.5 300.2A1.5 0.8 68 1 1 311.4 297.4M315.1 299.9A1.8 0.6 71 1 1 316.3 303.4A1.8 0.6 71 1 1 315.1 299.9M323.2 327.0A1.8 0.8 81 1 1 323.8 330.5A1.8 0.8 81 1 1 323.2 327.0M332.7 363.4A1.7 0.7 95 1 1 332.4 366.8A1.7 0.7 95 1 1 332.7 363.4M323.8 307.2A1.2 0.6 80 1 1 324.2 309.6A1.2 0.6 80 1 1 323.8 307.2M328.6 323.6A1.6 0.7 64 1 1 330.0 326.5A1.6 0.7 64 1 1 328.6 323.6M331.9 332.3A1.8 0.6 74 1 1 332.9 335.9A1.8 0.6 74 1 1 331.9 332.3M338.0 343.8A1.2 0.9 68 1 1 338.9 346.1A1.2 0.9 68 1 1 338.0 343.8M339.1 347.2A1.4 0.8 63 1 1 340.4 349.7A1.4 0.8 63 1 1 339.1 347.2M342.0 354.3A1.1 0.6 76 1 1 342.5 356.5A1.1 0.6 76 1 1 342.0 354.3M344.9 365.7A1.4 0.8 89 1 1 345.0 368.5A1.4 0.8 89 1 1 344.9 365.7M335.1 302.7A1.4 0.6 58 1 1 336.6 305.1A1.4 0.6 58 1 1 335.1 302.7M346.5 322.0A1.6 0.9 66 1 1 347.8 324.9A1.6 0.9 66 1 1 346.5 322.0M281.2 345.8A1.2 0.7 76 1 1 281.8 348.2A1.2 0.7 76 1 1 281.2 345.8M285.4 353.4A1.5 0.8 70 1 1 286.4 356.2A1.5 0.8 70 1 1 285.4 353.4M296.9 376.8A1.5 0.7 57 1 1 298.5 379.3A1.5 0.7 57 1 1 296.9 376.8M309.9 377.0A1.2 0.8 11 1 1 312.2 377.4A1.2 0.8 11 1 1 309.9 377.0M337.2 378.0A1.6 0.9 -8 1 1 340.4 377.5A1.6 0.9 -8 1 1 337.2 378.0M338.8 375.0A1.4 0.8 -29 1 1 341.4 373.7A1.4 0.8 -29 1 1 338.8 375.0M244.9 310.8A1.9 1.0 184 1 1 241.1 310.6A1.9 1.0 184 1 1 244.9 310.8M303.4 323.7A1.3 0.8 50 1 1 305.1 325.7A1.3 0.8 50 1 1 303.4 323.7M302.6 332.8A1.8 1.2 155 1 1 299.4 334.3A1.8 1.2 155 1 1 302.6 332.8M305.4 327.7A1.5 0.8 101 1 1 304.8 330.5A1.5 0.8 101 1 1 305.4 327.7M303.2 341.5A1.3 0.8 -12 1 1 305.8 340.9A1.3 0.8 -12 1 1 303.2 341.5M307.7 341.7A1.9 1.2 86 1 1 307.9 345.4A1.9 1.2 86 1 1 307.7 341.7M309.6 352.3A1.2 1.0 159 1 1 307.4 353.2A1.2 1.0 159 1 1 309.6 352.3M308.1 350.0A1.3 0.8 101 1 1 307.6 352.6A1.3 0.8 101 1 1 308.1 350.0M346.0 374.1A1.3 1.0 53 1 1 347.6 376.2A1.3 1.0 53 1 1 346.0 374.1M301.8 377.6A1.6 1.1 102 1 1 301.2 380.7A1.6 1.1 102 1 1 301.8 377.6M335.2 377.0A1.7 0.8 148 1 1 332.2 378.8A1.7 0.8 148 1 1 335.2 377.0"/>
<path fill="#34408f" fill-opacity="0.9" d="M239.6 310.9A1.1 1.1 29 1 1 241.6 312.0A1.1 1.1 29 1 1 239.6 310.9M227.5 335.1A1.6 1.0 167 1 1 224.3 335.8A1.6 1.0 167 1 1 227.5 335.1M237.6 301.8A1.6 1.1 110 1 1 236.5 304.7A1.6 1.1 110 1 1 237.6 301.8M312.2 315.9A1.5 0.8 104 1 1 311.5 318.8A1.5 0.8 104 1 1 312.2 315.9M249.4 317.8A1.2 0.9 53 1 1 250.9 319.8A1.2 0.9 53 1 1 249.4 317.8M256.8 330.5A1.4 0.8 57 1 1 258.3 332.9A1.4 0.8 57 1 1 256.8 330.5M266.8 345.8A1.5 0.6 57 1 1 268.5 348.4A1.5 0.6 57 1 1 266.8 345.8M270.3 348.7A1.5 0.7 48 1 1 272.3 351.0A1.5 0.7 48 1 1 270.3 348.7M258.5 290.1A1.6 0.7 67 1 1 259.7 293.0A1.6 0.7 67 1 1 258.5 290.1M266.3 304.3A1.3 0.9 71 1 1 267.2 306.9A1.3 0.9 71 1 1 266.3 304.3M271.1 306.3A1.2 0.8 75 1 1 271.7 308.7A1.2 0.8 75 1 1 271.1 306.3M249.5 349.9A1.6 0.6 107 1 1 248.6 353.0A1.6 0.6 107 1 1 249.5 349.9M225.4 341.7A1.3 0.7 28 1 1 227.6 342.8A1.3 0.7 28 1 1 225.4 341.7M229.7 347.5A1.6 0.8 30 1 1 232.5 349.1A1.6 0.8 30 1 1 229.7 347.5M235.5 348.2A1.2 0.6 40 1 1 237.4 349.8A1.2 0.6 40 1 1 235.5 348.2M244.6 357.6A1.6 0.6 35 1 1 247.3 359.5A1.6 0.6 35 1 1 244.6 357.6M225.4 346.4A1.5 0.6 35 1 1 227.9 348.2A1.5 0.6 35 1 1 225.4 346.4M251.6 368.5A1.7 0.8 44 1 1 254.1 370.9A1.7 0.8 44 1 1 251.6 368.5M221.0 359.1A1.3 0.7 30 1 1 223.2 360.4A1.3 0.7 30 1 1 221.0 359.1M230.8 365.3A1.9 0.9 33 1 1 234.0 367.3A1.9 0.9 33 1 1 230.8 365.3M217.8 369.7A1.7 0.9 35 1 1 220.6 371.7A1.7 0.9 35 1 1 217.8 369.7M215.4 298.4A1.8 0.9 -23 1 1 218.8 297.0A1.8 0.9 -23 1 1 215.4 298.4M245.7 349.7A1.6 0.9 69 1 1 246.9 352.7A1.6 0.9 69 1 1 245.7 349.7M285.6 290.5A1.8 0.8 85 1 1 286.0 294.0A1.8 0.8 85 1 1 285.6 290.5M289.2 312.9A1.6 0.8 77 1 1 289.9 316.0A1.6 0.8 77 1 1 289.2 312.9M291.7 323.2A1.5 0.7 89 1 1 291.8 326.1A1.5 0.7 89 1 1 291.7 323.2M292.0 325.0A1.3 0.8 78 1 1 292.6 327.5A1.3 0.8 78 1 1 292.0 325.0M299.9 353.7A1.5 0.8 75 1 1 300.7 356.6A1.5 0.8 75 1 1 299.9 353.7M315.5 326.5A1.9 0.6 70 1 1 316.7 329.9A1.9 0.6 70 1 1 315.5 326.5M318.2 308.3A1.7 0.7 61 1 1 319.8 311.3A1.7 0.7 61 1 1 318.2 308.3M327.6 344.4A1.7 0.6 67 1 1 328.9 347.5A1.7 0.6 67 1 1 327.6 344.4M332.6 362.0A1.7 0.7 88 1 1 332.7 365.3A1.7 0.7 88 1 1 332.6 362.0M329.3 326.7A1.4 0.6 71 1 1 330.2 329.4A1.4 0.6 71 1 1 329.3 326.7M344.1 366.5A1.6 0.6 90 1 1 344.1 369.8A1.6 0.6 90 1 1 344.1 366.5M330.8 291.1A1.4 0.7 62 1 1 332.1 293.6A1.4 0.7 62 1 1 330.8 291.1M343.5 318.5A1.3 0.6 63 1 1 344.7 320.8A1.3 0.6 63 1 1 343.5 318.5M280.7 357.5A1.5 0.8 66 1 1 281.9 360.2A1.5 0.8 66 1 1 280.7 357.5M282.0 362.4A1.7 0.7 64 1 1 283.5 365.5A1.7 0.7 64 1 1 282.0 362.4M283.5 364.8A1.1 0.6 62 1 1 284.5 366.8A1.1 0.6 62 1 1 283.5 364.8M312.3 378.0A1.5 0.7 6 1 1 315.2 378.3A1.5 0.7 6 1 1 312.3 378.0M327.6 377.4A1.2 0.8 -20 1 1 329.8 376.6A1.2 0.8 -20 1 1 327.6 377.4M237.5 306.0A1.5 0.8 74 1 1 238.3 308.9A1.5 0.8 74 1 1 237.5 306.0M241.0 323.4A1.4 1.2 10 1 1 243.6 323.9A1.4 1.2 10 1 1 241.0 323.4M311.0 310.6A1.5 0.8 115 1 1 309.8 313.2A1.5 0.8 115 1 1 311.0 310.6M307.9 309.9A1.9 0.9 182 1 1 304.1 309.8A1.9 0.9 182 1 1 307.9 309.9M301.0 306.9A1.8 0.9 0 1 1 304.6 307.0A1.8 0.9 0 1 1 301.0 306.9M302.6 339.3A1.6 0.8 132 1 1 300.4 341.7A1.6 0.8 132 1 1 302.6 339.3M303.0 330.5A1.5 0.9 36 1 1 305.4 332.3A1.5 0.9 36 1 1 303.0 330.5M314.3 338.9A1.7 1.1 90 1 1 314.3 342.2A1.7 1.1 90 1 1 314.3 338.9M300.9 335.0A1.6 0.8 89 1 1 301.0 338.2A1.6 0.8 89 1 1 300.9 335.0M309.3 331.7A1.3 1.0 22 1 1 311.7 332.6A1.3 1.0 22 1 1 309.3 331.7M285.3 364.0A1.8 0.8 127 1 1 283.2 366.8A1.8 0.8 127 1 1 285.3 364.0M269.5 358.5A1.2 0.6 297 1 1 270.6 356.3A1.2 0.6 297 1 1 269.5 358.5M270.5 355.1A1.9 0.6 321 1 1 273.4 352.7A1.9 0.6 321 1 1 270.5 355.1M300.1 376.4A1.2 1.1 -1 1 1 302.6 376.3A1.2 1.1 -1 1 1 300.1 376.4"/>
<path fill="#3f4a9c" fill-opacity="0.6" d="M220.5 372.3A1.6 1.0 -20 1 1 223.6 371.1A1.6 1.0 -20 1 1 220.5 372.3M241.0 294.3A1.4 0.7 73 1 1 241.8 296.9A1.4 0.7 73 1 1 241.0 294.3M250.3 314.8A1.4 0.8 64 1 1 251.6 317.4A1.4 0.8 64 1 1 250.3 314.8M249.7 317.7A1.8 0.7 52 1 1 252.0 320.6A1.8 0.7 52 1 1 249.7 317.7M249.9 319.7A1.5 0.7 50 1 1 251.8 322.0A1.5 0.7 50 1 1 249.9 319.7M255.2 322.9A1.3 0.7 52 1 1 256.7 324.9A1.3 0.7 52 1 1 255.2 322.9M258.7 330.7A1.6 0.7 54 1 1 260.7 333.3A1.6 0.7 54 1 1 258.7 330.7M265.7 343.2A1.7 0.6 49 1 1 267.9 345.8A1.7 0.6 49 1 1 265.7 343.2M271.7 349.5A1.2 0.6 45 1 1 273.4 351.2A1.2 0.6 45 1 1 271.7 349.5M264.9 308.1A1.2 0.6 64 1 1 265.9 310.2A1.2 0.6 64 1 1 264.9 308.1M267.5 316.1A1.6 0.8 61 1 1 269.0 318.9A1.6 0.8 61 1 1 267.5 316.1M263.5 287.7A1.7 0.9 68 1 1 264.8 290.8A1.7 0.9 68 1 1 263.5 287.7M268.7 299.3A1.7 0.9 72 1 1 269.8 302.6A1.7 0.9 72 1 1 268.7 299.3M271.3 308.5A1.7 0.6 61 1 1 272.9 311.5A1.7 0.6 61 1 1 271.3 308.5M278.1 325.3A1.9 0.9 61 1 1 279.9 328.6A1.9 0.9 61 1 1 278.1 325.3M219.8 305.4A1.4 0.9 38 1 1 222.0 307.1A1.4 0.9 38 1 1 219.8 305.4M223.9 307.8A1.1 0.8 47 1 1 225.4 309.5A1.1 0.8 47 1 1 223.9 307.8M237.3 320.6A1.6 0.8 56 1 1 239.1 323.2A1.6 0.8 56 1 1 237.3 320.6M247.1 334.1A1.1 0.9 62 1 1 248.2 336.1A1.1 0.9 62 1 1 247.1 334.1M248.3 344.1A1.2 0.6 87 1 1 248.4 346.5A1.2 0.6 87 1 1 248.3 344.1M250.0 347.7A1.3 0.9 106 1 1 249.4 350.2A1.3 0.9 106 1 1 250.0 347.7M247.8 351.5A1.6 0.9 108 1 1 246.8 354.7A1.6 0.9 108 1 1 247.8 351.5M213.2 335.9A1.8 0.7 38 1 1 216.1 338.2A1.8 0.7 38 1 1 213.2 335.9M223.3 340.0A1.3 0.7 35 1 1 225.4 341.5A1.3 0.7 35 1 1 223.3 340.0M222.6 342.2A1.6 0.7 34 1 1 225.3 344.0A1.6 0.7 34 1 1 222.6 342.2M232.6 346.2A1.3 0.8 38 1 1 234.6 347.9A1.3 0.8 38 1 1 232.6 346.2M258.2 365.5A1.2 0.9 44 1 1 259.8 367.1A1.2 0.9 44 1 1 258.2 365.5M240.1 355.8A1.6 0.6 39 1 1 242.7 357.9A1.6 0.6 39 1 1 240.1 355.8M240.3 357.2A1.2 0.6 40 1 1 242.1 358.7A1.2 0.6 40 1 1 240.3 357.2M245.2 359.6A1.2 0.6 42 1 1 246.9 361.2A1.2 0.6 42 1 1 245.2 359.6M246.3 362.5A1.6 0.9 35 1 1 249.0 364.4A1.6 0.9 35 1 1 246.3 362.5M218.7 356.3A1.8 0.7 33 1 1 221.6 358.3A1.8 0.7 33 1 1 218.7 356.3M229.7 363.3A1.5 0.9 36 1 1 232.2 365.1A1.5 0.9 36 1 1 229.7 363.3M233.4 366.5A1.3 0.7 42 1 1 235.4 368.3A1.3 0.7 42 1 1 233.4 366.5M242.4 374.8A1.2 0.7 46 1 1 244.1 376.5A1.2 0.7 46 1 1 242.4 374.8M214.4 298.0A1.9 0.7 -31 1 1 217.6 296.1A1.9 0.7 -31 1 1 214.4 298.0M217.8 295.6A1.3 0.9 -18 1 1 220.4 294.8A1.3 0.9 -18 1 1 217.8 295.6M220.7 296.6A1.8 0.7 -26 1 1 223.9 295.0A1.8 0.7 -26 1 1 220.7 296.6M291.5 313.1A1.2 0.7 86 1 1 291.7 315.6A1.2 0.7 86 1 1 291.5 313.1M292.2 327.5A1.5 0.8 79 1 1 292.8 330.4A1.5 0.8 79 1 1 292.2 327.5M294.5 336.3A1.9 0.7 81 1 1 295.1 340.0A1.9 0.7 81 1 1 294.5 336.3M308.1 295.9A1.9 0.8 80 1 1 308.8 299.6A1.9 0.8 80 1 1 308.1 295.9M308.8 300.9A1.4 0.7 69 1 1 309.8 303.6A1.4 0.7 69 1 1 308.8 300.9M318.8 347.5A1.7 0.6 83 1 1 319.2 351.0A1.7 0.6 83 1 1 318.8 347.5M323.5 325.1A1.2 0.7 82 1 1 323.9 327.5A1.2 0.7 82 1 1 323.5 325.1M333.2 354.1A1.7 0.8 66 1 1 334.6 357.2A1.7 0.8 66 1 1 333.2 354.1M331.9 331.9A1.4 0.6 58 1 1 333.4 334.2A1.4 0.6 58 1 1 331.9 331.9M336.7 338.2A1.3 0.6 69 1 1 337.6 340.6A1.3 0.6 69 1 1 336.7 338.2M342.9 352.6A1.9 0.7 73 1 1 344.0 356.1A1.9 0.7 73 1 1 342.9 352.6M335.4 300.3A1.9 0.7 69 1 1 336.7 303.8A1.9 0.7 69 1 1 335.4 300.3M337.5 308.7A1.6 0.6 60 1 1 339.2 311.5A1.6 0.6 60 1 1 337.5 308.7M341.7 296.0A1.2 0.6 62 1 1 342.9 298.1A1.2 0.6 62 1 1 341.7 296.0M346.1 303.5A1.2 0.9 66 1 1 347.0 305.7A1.2 0.9 66 1 1 346.1 303.5M285.3 357.3A1.2 0.8 64 1 1 286.3 359.4A1.2 0.8 64 1 1 285.3 357.3M294.2 373.7A1.2 0.9 60 1 1 295.4 375.8A1.2 0.9 60 1 1 294.2 373.7M345.4 372.8A1.7 0.6 -21 1 1 348.7 371.6A1.7 0.6 -21 1 1 345.4 372.8M239.1 306.4A1.8 1.0 41 1 1 241.8 308.7A1.8 1.0 41 1 1 239.1 306.4M244.1 309.2A1.6 0.9 151 1 1 241.3 310.8A1.6 0.9 151 1 1 244.1 309.2M304.5 325.7A1.1 0.9 117 1 1 303.6 327.7A1.1 0.9 117 1 1 304.5 325.7M302.3 343.4A1.1 1.1 150 1 1 300.3 344.5A1.1 1.1 150 1 1 302.3 343.4M307.1 352.9A1.5 1.1 -6 1 1 310.1 352.6A1.5 1.1 -6 1 1 307.1 352.9M302.5 331.3A1.6 0.8 29 1 1 305.4 332.9A1.6 0.8 29 1 1 302.5 331.3M302.7 336.8A1.1 1.1 86 1 1 302.9 339.1A1.1 1.1 86 1 1 302.7 336.8M299.9 335.4A1.4 0.8 46 1 1 301.8 337.4A1.4 0.8 46 1 1 299.9 335.4M308.8 341.1A1.2 1.0 123 1 1 307.5 343.1A1.2 1.0 123 1 1 308.8 341.1M312.9 332.9A1.3 1.2 59 1 1 314.3 335.1A1.3 1.2 59 1 1 312.9 332.9M308.5 335.3A1.4 1.1 127 1 1 306.8 337.5A1.4 1.1 127 1 1 308.5 335.3M285.2 362.0A1.3 0.6 96 1 1 285.0 364.6A1.3 0.6 96 1 1 285.2 362.0M310.8 363.2A1.4 0.7 326 1 1 313.2 361.6A1.4 0.7 326 1 1 310.8 363.2M345.5 374.5A1.1 1.1 51 1 1 346.9 376.3A1.1 1.1 51 1 1 345.5 374.5M328.9 371.4A1.2 1.1 126 1 1 327.4 373.3A1.2 1.1 126 1 1 328.9 371.4"/>
<path fill="#3f4a9c" fill-opacity="0.75" d="M228.2 294.6A1.7 1.0 191 1 1 224.8 294.0A1.7 1.0 191 1 1 228.2 294.6M263.7 318.4A1.2 0.8 5 1 1 266.1 318.7A1.2 0.8 5 1 1 263.7 318.4M340.0 309.7A1.7 0.9 174 1 1 336.6 310.0A1.7 0.9 174 1 1 340.0 309.7M231.8 326.0A1.2 0.9 122 1 1 230.5 328.0A1.2 0.9 122 1 1 231.8 326.0M268.9 348.6A1.5 0.9 111 1 1 267.8 351.5A1.5 0.9 111 1 1 268.9 348.6M241.3 295.6A1.4 0.8 77 1 1 241.9 298.3A1.4 0.8 77 1 1 241.3 295.6M244.5 309.2A1.5 0.6 64 1 1 245.7 311.8A1.5 0.6 64 1 1 244.5 309.2M256.2 329.8A1.5 0.6 52 1 1 258.0 332.1A1.5 0.6 52 1 1 256.2 329.8M263.1 336.4A1.9 0.6 61 1 1 264.9 339.7A1.9 0.6 61 1 1 263.1 336.4M265.6 342.5A1.5 0.8 50 1 1 267.5 344.8A1.5 0.8 50 1 1 265.6 342.5M261.1 298.7A1.4 0.7 66 1 1 262.2 301.2A1.4 0.7 66 1 1 261.1 298.7M262.0 300.5A1.8 0.6 67 1 1 263.5 303.9A1.8 0.6 67 1 1 262.0 300.5M274.6 327.3A1.8 0.8 64 1 1 276.1 330.5A1.8 0.8 64 1 1 274.6 327.3M282.3 345.1A1.4 0.9 64 1 1 283.6 347.6A1.4 0.9 64 1 1 282.3 345.1M282.8 345.3A1.8 0.9 71 1 1 284.0 348.8A1.8 0.9 71 1 1 282.8 345.3M273.1 311.5A1.4 0.6 75 1 1 273.8 314.2A1.4 0.6 75 1 1 273.1 311.5M248.9 348.7A1.7 0.9 91 1 1 248.9 352.1A1.7 0.9 91 1 1 248.9 348.7M217.7 339.8A1.9 0.6 28 1 1 221.0 341.5A1.9 0.6 28 1 1 217.7 339.8M221.6 339.4A1.2 0.6 41 1 1 223.4 340.9A1.2 0.6 41 1 1 221.6 339.4M231.2 348.3A1.7 0.6 32 1 1 234.2 350.1A1.7 0.6 32 1 1 231.2 348.3M235.4 351.4A1.9 0.9 35 1 1 238.5 353.5A1.9 0.9 35 1 1 235.4 351.4M257.3 363.7A1.1 0.8 33 1 1 259.2 365.0A1.1 0.8 33 1 1 257.3 363.7M213.6 339.7A1.7 0.8 33 1 1 216.5 341.6A1.7 0.8 33 1 1 213.6 339.7M221.1 342.8A1.7 0.8 37 1 1 223.8 344.8A1.7 0.8 37 1 1 221.1 342.8M220.0 357.1A1.2 0.7 38 1 1 221.8 358.6A1.2 0.7 38 1 1 220.0 357.1M221.3 361.0A1.1 0.7 28 1 1 223.3 362.1A1.1 0.7 28 1 1 221.3 361.0M227.7 377.2A1.3 0.9 46 1 1 229.4 379.0A1.3 0.9 46 1 1 227.7 377.2M231.5 379.5A1.2 0.7 49 1 1 233.1 381.3A1.2 0.7 49 1 1 231.5 379.5M247.1 354.1A1.7 0.7 71 1 1 248.2 357.3A1.7 0.7 71 1 1 247.1 354.1M287.5 298.6A1.7 0.9 74 1 1 288.4 301.8A1.7 0.9 74 1 1 287.5 298.6M287.4 299.9A1.8 0.8 69 1 1 288.7 303.2A1.8 0.8 69 1 1 287.4 299.9M290.7 317.9A1.5 0.9 82 1 1 291.1 320.9A1.5 0.9 82 1 1 290.7 317.9M307.6 296.9A1.2 0.8 89 1 1 307.7 299.2A1.2 0.8 89 1 1 307.6 296.9M315.0 324.4A1.7 0.7 65 1 1 316.4 327.4A1.7 0.7 65 1 1 315.0 324.4M316.3 327.8A1.6 0.7 73 1 1 317.2 330.9A1.6 0.7 73 1 1 316.3 327.8M311.9 299.1A1.5 0.8 64 1 1 313.2 301.8A1.5 0.8 64 1 1 311.9 299.1M315.7 306.2A1.3 0.8 64 1 1 316.8 308.5A1.3 0.8 64 1 1 315.7 306.2M321.3 317.0A1.9 0.9 71 1 1 322.5 320.5A1.9 0.9 71 1 1 321.3 317.0M333.9 367.6A1.3 0.6 106 1 1 333.2 370.1A1.3 0.6 106 1 1 333.9 367.6M339.5 351.2A1.7 0.7 65 1 1 340.9 354.4A1.7 0.7 65 1 1 339.5 351.2M331.6 293.6A1.4 0.9 65 1 1 332.8 296.2A1.4 0.9 65 1 1 331.6 293.6M340.0 311.6A1.3 0.7 58 1 1 341.4 313.8A1.3 0.7 58 1 1 340.0 311.6M348.1 330.3A1.1 0.6 71 1 1 348.8 332.5A1.1 0.6 71 1 1 348.1 330.3M278.8 340.4A1.2 0.7 73 1 1 279.5 342.6A1.2 0.7 73 1 1 278.8 340.4M287.6 363.5A1.7 0.9 59 1 1 289.3 366.4A1.7 0.9 59 1 1 287.6 363.5M291.4 367.0A1.3 0.6 52 1 1 293.0 369.0A1.3 0.6 52 1 1 291.4 367.0M293.4 370.6A1.7 0.7 60 1 1 295.1 373.5A1.7 0.7 60 1 1 293.4 370.6M237.7 314.4A1.1 1.1 116 1 1 236.7 316.4A1.1 1.1 116 1 1 237.7 314.4M238.5 307.4A1.1 1.0 133 1 1 237.0 309.0A1.1 1.0 133 1 1 238.5 307.4M231.2 313.4A1.2 0.8 71 1 1 232.0 315.6A1.2 0.8 71 1 1 231.2 313.4M233.6 305.8A1.3 0.9 125 1 1 232.1 308.0A1.3 0.9 125 1 1 233.6 305.8M249.3 326.2A1.6 0.8 44 1 1 251.6 328.4A1.6 0.8 44 1 1 249.3 326.2M240.8 326.0A1.1 1.1 125 1 1 239.5 327.9A1.1 1.1 125 1 1 240.8 326.0M301.4 316.1A1.7 1.0 175 1 1 298.1 316.4A1.7 1.0 175 1 1 301.4 316.1M306.0 319.4A1.1 1.1 55 1 1 307.3 321.3A1.1 1.1 55 1 1 306.0 319.4M299.3 310.8A1.2 0.8 142 1 1 297.5 312.3A1.2 0.8 142 1 1 299.3 310.8M310.7 309.8A1.5 0.7 171 1 1 307.8 310.3A1.5 0.7 171 1 1 310.7 309.8M300.0 309.5A1.2 1.1 78 1 1 300.5 311.9A1.2 1.1 78 1 1 300.0 309.5M306.1 308.3A1.8 0.9 127 1 1 304.0 311.1A1.8 0.9 127 1 1 306.1 308.3M308.2 349.4A1.2 1.0 126 1 1 306.9 351.3A1.2 1.0 126 1 1 308.2 349.4M304.1 335.5A1.7 0.9 122 1 1 302.3 338.4A1.7 0.9 122 1 1 304.1 335.5M309.4 333.4A1.4 1.2 80 1 1 309.9 336.2A1.4 1.2 80 1 1 309.4 333.4M312.3 331.5A1.2 0.8 58 1 1 313.6 333.6A1.2 0.8 58 1 1 312.3 331.5M313.7 328.0A1.3 0.8 115 1 1 312.5 330.4A1.3 0.8 115 1 1 313.7 328.0M303.7 336.6A1.3 1.1 15 1 1 306.2 337.3A1.3 1.1 15 1 1 303.7 336.6M283.0 366.9A1.9 0.9 137 1 1 280.3 369.5A1.9 0.9 137 1 1 283.0 366.9M275.9 353.0A1.6 0.7 361 1 1 279.1 353.0A1.6 0.7 361 1 1 275.9 353.0M281.5 356.2A1.5 0.9 421 1 1 282.9 358.9A1.5 0.9 421 1 1 281.5 356.2M283.4 357.9A1.5 0.6 433 1 1 284.3 360.8A1.5 0.6 433 1 1 283.4 357.9M322.5 375.0A1.4 0.6 162 1 1 319.8 375.9A1.4 0.6 162 1 1 322.5 375.0M319.4 378.8A1.2 0.8 44 1 1 321.1 380.5A1.2 0.8 44 1 1 319.4 378.8"/>
<path fill="#3f4a9c" fill-opacity="0.9" d="M286.4 302.7A1.5 1.1 114 1 1 285.1 305.5A1.5 1.1 114 1 1 286.4 302.7M217.4 350.8A1.9 1.0 53 1 1 219.7 353.8A1.9 1.0 53 1 1 217.4 350.8M240.4 298.8A1.2 0.9 71 1 1 241.1 301.0A1.2 0.9 71 1 1 240.4 298.8M244.4 304.2A1.9 0.8 74 1 1 245.4 307.8A1.9 0.8 74 1 1 244.4 304.2M247.1 310.3A1.9 0.6 62 1 1 248.9 313.7A1.9 0.6 62 1 1 247.1 310.3M262.6 296.3A1.6 0.8 62 1 1 264.1 299.1A1.6 0.8 62 1 1 262.6 296.3M272.0 327.5A1.6 0.7 62 1 1 273.5 330.3A1.6 0.7 62 1 1 272.0 327.5M217.5 303.3A1.4 0.9 23 1 1 220.2 304.4A1.4 0.9 23 1 1 217.5 303.3M234.2 315.8A1.5 0.8 44 1 1 236.4 318.0A1.5 0.8 44 1 1 234.2 315.8M241.5 352.4A1.8 0.6 38 1 1 244.4 354.6A1.8 0.6 38 1 1 241.5 352.4M247.7 356.8A1.3 0.7 37 1 1 249.7 358.3A1.3 0.7 37 1 1 247.7 356.8M249.0 359.8A1.8 0.6 29 1 1 252.2 361.6A1.8 0.6 29 1 1 249.0 359.8M258.8 367.6A1.9 0.7 36 1 1 261.8 369.8A1.9 0.7 36 1 1 258.8 367.6M262.1 367.2A1.4 0.6 38 1 1 264.3 368.9A1.4 0.6 38 1 1 262.1 367.2M229.4 350.1A1.8 0.7 35 1 1 232.3 352.1A1.8 0.7 35 1 1 229.4 350.1M245.0 362.9A1.3 0.8 44 1 1 246.9 364.7A1.3 0.8 44 1 1 245.0 362.9M261.6 376.3A1.5 0.9 61 1 1 263.0 378.9A1.5 0.9 61 1 1 261.6 376.3M228.2 363.2A1.2 0.9 36 1 1 230.2 364.7A1.2 0.9 36 1 1 228.2 363.2M216.5 365.4A1.7 0.9 46 1 1 218.8 367.8A1.7 0.9 46 1 1 216.5 365.4M221.2 369.3A1.2 0.8 45 1 1 222.9 371.0A1.2 0.8 45 1 1 221.2 369.3M217.0 298.7A1.4 0.6 -21 1 1 219.5 297.7A1.4 0.6 -21 1 1 217.0 298.7M289.5 305.1A1.8 0.9 72 1 1 290.6 308.5A1.8 0.9 72 1 1 289.5 305.1M292.8 321.7A1.8 0.9 79 1 1 293.5 325.3A1.8 0.9 79 1 1 292.8 321.7M307.5 295.3A1.6 0.8 92 1 1 307.4 298.5A1.6 0.8 92 1 1 307.5 295.3M309.3 309.7A1.7 0.6 74 1 1 310.3 313.0A1.7 0.6 74 1 1 309.3 309.7M316.1 337.3A1.3 0.8 75 1 1 316.8 339.8A1.3 0.8 75 1 1 316.1 337.3M310.3 289.9A1.6 0.9 70 1 1 311.4 292.8A1.6 0.9 70 1 1 310.3 289.9M316.4 303.8A1.5 0.8 63 1 1 317.7 306.4A1.5 0.8 63 1 1 316.4 303.8M325.7 334.7A1.2 0.6 73 1 1 326.4 337.0A1.2 0.6 73 1 1 325.7 334.7M325.6 311.8A1.5 0.9 75 1 1 326.3 314.8A1.5 0.9 75 1 1 325.6 311.8M336.0 341.2A1.6 0.8 73 1 1 337.0 344.3A1.6 0.8 73 1 1 336.0 341.2M346.6 371.4A1.3 0.7 82 1 1 346.9 374.1A1.3 0.7 82 1 1 346.6 371.4M345.4 372.4A1.4 0.6 77 1 1 346.1 375.2A1.4 0.6 77 1 1 345.4 372.4M335.4 303.2A1.6 0.7 68 1 1 336.6 306.2A1.6 0.7 68 1 1 335.4 303.2M347.2 307.3A1.1 0.9 76 1 1 347.8 309.5A1.1 0.9 76 1 1 347.2 307.3M280.1 342.7A1.1 0.7 74 1 1 280.7 344.9A1.1 0.7 74 1 1 280.1 342.7M294.9 375.3A1.3 0.9 60 1 1 296.2 377.4A1.3 0.9 60 1 1 294.9 375.3M300.1 382.5A1.2 0.8 -16 1 1 302.5 381.8A1.2 0.8 -16 1 1 300.1 382.5M236.2 312.7A1.1 0.7 79 1 1 236.6 314.9A1.1 0.7 79 1 1 236.2 312.7M229.1 310.2A1.6 1.0 1 1 1 232.2 310.3A1.6 1.0 1 1 1 229.1 310.2M245.5 329.9A1.2 1.0 86 1 1 245.6 332.2A1.2 1.0 86 1 1 245.5 329.9M306.0 307.8A1.2 1.1 106 1 1 305.3 310.0A1.2 1.1 106 1 1 306.0 307.8M298.8 319.2A1.8 0.9 12 1 1 302.3 319.9A1.8 0.9 12 1 1 298.8 319.2M307.4 344.0A1.6 1.0 177 1 1 304.2 344.2A1.6 1.0 177 1 1 307.4 344.0M313.2 336.4A1.1 1.1 4 1 1 315.5 336.6A1.1 1.1 4 1 1 313.2 336.4M304.7 342.2A1.7 1.1 21 1 1 307.9 343.4A1.7 1.1 21 1 1 304.7 342.2M306.9 325.2A1.1 1.1 62 1 1 308.0 327.2A1.1 1.1 62 1 1 306.9 325.2M312.5 344.6A1.6 0.8 84 1 1 312.9 347.8A1.6 0.8 84 1 1 312.5 344.6M314.5 338.6A1.6 1.2 110 1 1 313.4 341.6A1.6 1.2 110 1 1 314.5 338.6M308.1 339.0A1.6 1.0 138 1 1 305.8 341.1A1.6 1.0 138 1 1 308.1 339.0M305.9 322.5A1.8 0.9 40 1 1 308.6 324.8A1.8 0.9 40 1 1 305.9 322.5M283.8 356.7A1.4 0.9 430 1 1 284.8 359.3A1.4 0.9 430 1 1 283.8 356.7M318.4 375.8A1.6 0.7 192 1 1 315.4 375.2A1.6 0.7 192 1 1 318.4 375.8M310.3 371.0A1.3 0.7 264 1 1 310.0 368.4A1.3 0.7 264 1 1 310.3 371.0M323.5 363.1A1.7 0.6 408 1 1 325.8 365.5A1.7 0.6 408 1 1 323.5 363.1M346.8 374.7A1.4 1.2 100 1 1 346.4 377.5A1.4 1.2 100 1 1 346.8 374.7"/>
<path fill="#4d58a8" fill-opacity="0.6" d="M339.4 324.2A1.3 1.2 87 1 1 339.6 326.7A1.3 1.2 87 1 1 339.4 324.2M242.7 342.0A1.2 0.9 53 1 1 244.2 343.9A1.2 0.9 53 1 1 242.7 342.0M339.1 292.0A1.3 1.1 97 1 1 338.8 294.5A1.3 1.1 97 1 1 339.1 292.0M347.5 317.9A1.6 1.2 123 1 1 345.7 320.6A1.6 1.2 123 1 1 347.5 317.9M240.3 297.3A1.5 0.6 73 1 1 241.2 300.2A1.5 0.6 73 1 1 240.3 297.3M269.6 348.9A1.2 0.7 53 1 1 271.1 350.9A1.2 0.7 53 1 1 269.6 348.9M279.2 359.9A1.3 0.6 56 1 1 280.7 362.1A1.3 0.6 56 1 1 279.2 359.9M265.5 290.5A1.1 0.6 65 1 1 266.4 292.5A1.1 0.6 65 1 1 265.5 290.5M266.9 291.7A1.2 0.8 60 1 1 268.1 293.8A1.2 0.8 60 1 1 266.9 291.7M269.3 304.2A1.8 0.7 69 1 1 270.6 307.6A1.8 0.7 69 1 1 269.3 304.2M272.6 306.2A1.2 0.9 62 1 1 273.7 308.3A1.2 0.9 62 1 1 272.6 306.2M276.6 317.6A1.2 0.8 69 1 1 277.5 319.8A1.2 0.8 69 1 1 276.6 317.6M246.8 335.2A1.5 0.7 70 1 1 247.8 338.0A1.5 0.7 70 1 1 246.8 335.2M215.1 337.7A1.3 0.8 29 1 1 217.3 338.9A1.3 0.8 29 1 1 215.1 337.7M221.6 340.7A1.7 0.6 30 1 1 224.6 342.4A1.7 0.6 30 1 1 221.6 340.7M229.0 344.7A1.2 0.7 43 1 1 230.8 346.3A1.2 0.7 43 1 1 229.0 344.7M243.9 356.3A1.2 0.6 35 1 1 245.9 357.7A1.2 0.6 35 1 1 243.9 356.3M213.9 338.7A1.7 0.9 25 1 1 216.9 340.1A1.7 0.9 25 1 1 213.9 338.7M230.7 352.7A1.4 0.6 31 1 1 233.0 354.1A1.4 0.6 31 1 1 230.7 352.7M227.3 377.9A1.6 0.6 54 1 1 229.1 380.5A1.6 0.6 54 1 1 227.3 377.9M242.7 346.6A1.6 0.6 69 1 1 243.9 349.7A1.6 0.6 69 1 1 242.7 346.6M245.9 352.1A1.6 0.7 67 1 1 247.2 355.1A1.6 0.7 67 1 1 245.9 352.1M286.7 297.2A1.3 0.9 90 1 1 286.7 299.8A1.3 0.9 90 1 1 286.7 297.2M289.5 303.4A1.3 0.6 74 1 1 290.2 306.0A1.3 0.6 74 1 1 289.5 303.4M290.7 310.0A1.7 0.9 82 1 1 291.2 313.4A1.7 0.9 82 1 1 290.7 310.0M293.4 329.9A1.4 0.6 90 1 1 293.3 332.8A1.4 0.6 90 1 1 293.4 329.9M294.1 339.2A1.7 0.7 79 1 1 294.7 342.6A1.7 0.7 79 1 1 294.1 339.2M295.2 341.6A1.2 0.7 68 1 1 296.0 343.8A1.2 0.7 68 1 1 295.2 341.6M296.1 346.2A1.1 0.9 83 1 1 296.4 348.5A1.1 0.9 83 1 1 296.1 346.2M307.8 303.4A1.1 0.6 78 1 1 308.3 305.6A1.1 0.6 78 1 1 307.8 303.4M309.3 303.3A1.5 0.9 83 1 1 309.7 306.3A1.5 0.9 83 1 1 309.3 303.3M314.9 326.2A1.5 0.9 75 1 1 315.7 329.1A1.5 0.9 75 1 1 314.9 326.2M318.2 341.1A1.2 0.6 85 1 1 318.4 343.6A1.2 0.6 85 1 1 318.2 341.1M309.8 292.4A1.8 0.8 67 1 1 311.1 295.6A1.8 0.8 67 1 1 309.8 292.4M316.3 308.1A1.6 0.6 61 1 1 317.8 310.8A1.6 0.6 61 1 1 316.3 308.1M330.9 350.4A1.2 0.7 75 1 1 331.5 352.6A1.2 0.7 75 1 1 330.9 350.4M333.4 354.5A1.8 0.8 80 1 1 334.0 358.0A1.8 0.8 80 1 1 333.4 354.5M332.6 361.2A1.5 0.6 82 1 1 333.0 364.1A1.5 0.6 82 1 1 332.6 361.2M324.4 310.6A1.6 0.6 82 1 1 324.8 313.6A1.6 0.6 82 1 1 324.4 310.6M325.9 310.5A1.8 0.6 70 1 1 327.1 313.8A1.8 0.6 70 1 1 325.9 310.5M342.9 355.9A1.6 0.7 70 1 1 344.1 359.0A1.6 0.7 70 1 1 342.9 355.9M344.8 362.2A1.6 0.8 68 1 1 346.0 365.2A1.6 0.8 68 1 1 344.8 362.2M333.8 294.6A1.4 0.9 58 1 1 335.2 296.9A1.4 0.9 58 1 1 333.8 294.6M338.2 304.8A1.7 0.7 58 1 1 340.0 307.7A1.7 0.7 58 1 1 338.2 304.8M342.1 315.3A1.2 0.7 74 1 1 342.7 317.6A1.2 0.7 74 1 1 342.1 315.3M344.4 324.4A1.5 0.9 61 1 1 345.8 326.9A1.5 0.9 61 1 1 344.4 324.4M341.7 293.0A1.6 0.9 65 1 1 343.1 295.9A1.6 0.9 65 1 1 341.7 293.0M346.2 305.9A1.7 0.6 72 1 1 347.2 309.0A1.7 0.6 72 1 1 346.2 305.9M347.3 309.6A1.6 0.6 77 1 1 348.1 312.7A1.6 0.6 77 1 1 347.3 309.6M284.9 357.9A1.1 0.9 63 1 1 286.0 360.0A1.1 0.9 63 1 1 284.9 357.9M285.2 358.9A1.7 0.9 65 1 1 286.7 362.0A1.7 0.9 65 1 1 285.2 358.9M299.9 380.1A1.4 0.6 -23 1 1 302.4 379.0A1.4 0.6 -23 1 1 299.9 380.1M326.1 379.3A1.2 0.8 -14 1 1 328.5 378.7A1.2 0.8 -14 1 1 326.1 379.3M340.6 375.8A1.5 0.9 -28 1 1 343.3 374.3A1.5 0.9 -28 1 1 340.6 375.8M233.4 306.1A1.5 1.1 25 1 1 236.2 307.4A1.5 1.1 25 1 1 233.4 306.1M238.5 310.3A1.5 0.9 153 1 1 235.9 311.7A1.5 0.9 153 1 1 238.5 310.3M303.1 312.3A1.2 0.9 81 1 1 303.5 314.8A1.2 0.9 81 1 1 303.1 312.3M302.3 317.8A1.7 0.9 51 1 1 304.5 320.5A1.7 0.9 51 1 1 302.3 317.8M314.9 331.6A1.5 1.1 128 1 1 313.0 333.9A1.5 1.1 128 1 1 314.9 331.6M308.9 349.0A1.6 1.0 152 1 1 306.0 350.6A1.6 1.0 152 1 1 308.9 349.0M302.0 340.9A1.1 0.9 59 1 1 303.1 342.9A1.1 0.9 59 1 1 302.0 340.9M311.2 325.3A1.1 1.1 40 1 1 312.9 326.7A1.1 1.1 40 1 1 311.2 325.3M307.6 334.6A1.7 1.0 19 1 1 310.8 335.7A1.7 1.0 19 1 1 307.6 334.6M310.7 328.6A1.7 1.1 120 1 1 309.0 331.6A1.7 1.1 120 1 1 310.7 328.6M310.8 341.5A1.6 0.9 77 1 1 311.5 344.7A1.6 0.9 77 1 1 310.8 341.5M312.0 342.2A1.2 1.2 121 1 1 310.8 344.2A1.2 1.2 121 1 1 312.0 342.2M308.6 351.3A1.6 1.1 135 1 1 306.4 353.7A1.6 1.1 135 1 1 308.6 351.3M312.2 329.3A1.6 0.9 92 1 1 312.1 332.5A1.6 0.9 92 1 1 312.2 329.3M307.4 348.5A1.8 1.1 108 1 1 306.3 351.9A1.8 1.1 108 1 1 307.4 348.5M316.2 375.2A1.4 0.9 215 1 1 313.9 373.6A1.4 0.9 215 1 1 316.2 375.2M299.5 377.6A1.2 0.9 -0 1 1 301.8 377.5A1.2 0.9 -0 1 1 299.5 377.6"/>
<path fill="#4d58a8" fill-opacity="0.75" d="M286.1 351.2A1.9 1.2 50 1 1 288.5 354.1A1.9 1.2 50 1 1 286.1 351.2M267.1 376.6A1.6 0.8 161 1 1 264.1 377.6A1.6 0.8 161 1 1 267.1 376.6M338.8 287.9A1.4 0.9 83 1 1 339.2 290.7A1.4 0.9 83 1 1 338.8 287.9M257.8 360.1A1.2 1.2 45 1 1 259.5 361.7A1.2 1.2 45 1 1 257.8 360.1M261.1 333.7A1.7 0.6 62 1 1 262.7 336.7A1.7 0.6 62 1 1 261.1 333.7M271.0 316.6A1.6 0.7 74 1 1 271.9 319.6A1.6 0.7 74 1 1 271.0 316.6M264.8 286.2A1.6 0.8 76 1 1 265.5 289.2A1.6 0.8 76 1 1 264.8 286.2M276.3 321.7A1.1 0.6 74 1 1 276.9 323.8A1.1 0.6 74 1 1 276.3 321.7M229.1 309.8A1.8 0.9 34 1 1 232.0 311.8A1.8 0.9 34 1 1 229.1 309.8M234.1 315.6A1.1 0.6 39 1 1 235.9 317.1A1.1 0.6 39 1 1 234.1 315.6M239.6 324.2A1.9 0.7 52 1 1 241.9 327.2A1.9 0.7 52 1 1 239.6 324.2M233.0 349.2A1.4 0.7 35 1 1 235.3 350.7A1.4 0.7 35 1 1 233.0 349.2M239.7 352.4A1.1 0.6 27 1 1 241.7 353.4A1.1 0.6 27 1 1 239.7 352.4M242.9 353.7A1.9 0.8 34 1 1 245.9 355.8A1.9 0.8 34 1 1 242.9 353.7M248.6 358.0A1.6 0.7 34 1 1 251.3 359.8A1.6 0.7 34 1 1 248.6 358.0M252.0 360.0A1.2 0.6 38 1 1 253.9 361.5A1.2 0.6 38 1 1 252.0 360.0M254.9 361.4A1.8 0.6 39 1 1 257.7 363.7A1.8 0.6 39 1 1 254.9 361.4M259.2 366.6A1.6 0.9 35 1 1 261.8 368.4A1.6 0.9 35 1 1 259.2 366.6M266.9 371.1A1.8 0.6 47 1 1 269.4 373.7A1.8 0.6 47 1 1 266.9 371.1M220.3 341.9A1.3 0.6 28 1 1 222.7 343.1A1.3 0.6 28 1 1 220.3 341.9M224.2 346.1A1.5 0.8 28 1 1 226.8 347.5A1.5 0.8 28 1 1 224.2 346.1M236.1 354.8A1.7 0.7 30 1 1 239.1 356.5A1.7 0.7 30 1 1 236.1 354.8M257.9 372.9A1.2 0.9 40 1 1 259.8 374.5A1.2 0.9 40 1 1 257.9 372.9M214.5 366.7A1.8 0.6 46 1 1 217.0 369.3A1.8 0.6 46 1 1 214.5 366.7M227.7 374.7A1.5 0.8 48 1 1 229.7 377.0A1.5 0.8 48 1 1 227.7 374.7M247.0 355.4A1.2 0.9 83 1 1 247.3 357.7A1.2 0.9 83 1 1 247.0 355.4M288.8 301.0A1.8 0.7 76 1 1 289.7 304.5A1.8 0.7 76 1 1 288.8 301.0M293.1 329.2A1.5 0.6 91 1 1 293.0 332.3A1.5 0.6 91 1 1 293.1 329.2M306.8 291.1A1.5 0.8 79 1 1 307.4 294.0A1.5 0.8 79 1 1 306.8 291.1M309.9 312.8A1.6 0.6 66 1 1 311.2 315.7A1.6 0.6 66 1 1 309.9 312.8M313.4 314.3A1.8 0.7 77 1 1 314.2 317.8A1.8 0.7 77 1 1 313.4 314.3M316.6 337.9A1.9 0.8 83 1 1 317.1 341.6A1.9 0.8 83 1 1 316.6 337.9M318.9 312.1A1.4 0.6 66 1 1 320.0 314.7A1.4 0.6 66 1 1 318.9 312.1M319.6 313.2A1.8 0.7 69 1 1 321.0 316.5A1.8 0.7 69 1 1 319.6 313.2M328.7 326.6A1.2 0.7 63 1 1 329.8 328.7A1.2 0.7 63 1 1 328.7 326.6M337.5 339.9A1.7 0.9 73 1 1 338.5 343.1A1.7 0.9 73 1 1 337.5 339.9M343.4 360.2A1.3 0.8 67 1 1 344.4 362.6A1.3 0.8 67 1 1 343.4 360.2M346.4 367.7A1.7 0.8 76 1 1 347.3 371.0A1.7 0.8 76 1 1 346.4 367.7M347.1 323.8A1.4 0.9 60 1 1 348.5 326.2A1.4 0.9 60 1 1 347.1 323.8M348.2 330.7A1.6 0.8 55 1 1 350.0 333.3A1.6 0.8 55 1 1 348.2 330.7M281.1 355.7A1.6 0.9 71 1 1 282.1 358.8A1.6 0.9 71 1 1 281.1 355.7M329.7 377.0A1.5 0.7 -8 1 1 332.7 376.6A1.5 0.7 -8 1 1 329.7 377.0M228.5 313.7A1.8 0.7 17 1 1 231.9 314.8A1.8 0.7 17 1 1 228.5 313.7M236.8 309.8A1.8 1.0 5 1 1 240.3 310.1A1.8 1.0 5 1 1 236.8 309.8M309.4 310.6A1.8 0.9 167 1 1 305.8 311.4A1.8 0.9 167 1 1 309.4 310.6M314.8 342.5A1.4 1.2 130 1 1 312.9 344.6A1.4 1.2 130 1 1 314.8 342.5M306.6 325.1A1.6 1.2 33 1 1 309.2 326.8A1.6 1.2 33 1 1 306.6 325.1M308.3 332.6A1.3 1.2 15 1 1 310.9 333.3A1.3 1.2 15 1 1 308.3 332.6M310.6 335.3A1.7 0.8 175 1 1 307.2 335.6A1.7 0.8 175 1 1 310.6 335.3M309.3 327.3A1.6 0.8 119 1 1 307.8 330.1A1.6 0.8 119 1 1 309.3 327.3M307.7 332.6A1.2 1.2 112 1 1 306.8 334.7A1.2 1.2 112 1 1 307.7 332.6M299.5 333.6A1.6 1.1 35 1 1 302.2 335.5A1.6 1.1 35 1 1 299.5 333.6"/>
<path fill="#4d58a8" fill-opacity="0.9" d="M301.9 355.8A1.3 0.8 157 1 1 299.5 356.8A1.3 0.8 157 1 1 301.9 355.8M215.3 301.3A1.2 1.2 32 1 1 217.4 302.6A1.2 1.2 32 1 1 215.3 301.3M253.5 324.6A1.4 0.7 60 1 1 254.9 327.0A1.4 0.7 60 1 1 253.5 324.6M257.8 288.9A1.7 0.6 71 1 1 258.9 292.2A1.7 0.6 71 1 1 257.8 288.9M267.4 309.3A1.7 0.7 74 1 1 268.4 312.7A1.7 0.7 74 1 1 267.4 309.3M270.0 302.5A1.2 0.8 64 1 1 271.0 304.6A1.2 0.8 64 1 1 270.0 302.5M273.2 306.8A1.3 0.8 69 1 1 274.1 309.2A1.3 0.8 69 1 1 273.2 306.8M281.2 328.2A1.5 0.7 75 1 1 282.0 331.1A1.5 0.7 75 1 1 281.2 328.2M280.7 331.0A1.2 0.6 72 1 1 281.4 333.2A1.2 0.6 72 1 1 280.7 331.0M215.8 303.1A1.5 0.7 31 1 1 218.3 304.6A1.5 0.7 31 1 1 215.8 303.1M246.4 337.8A1.5 0.7 73 1 1 247.3 340.7A1.5 0.7 73 1 1 246.4 337.8M265.2 373.0A1.8 0.6 43 1 1 267.8 375.4A1.8 0.6 43 1 1 265.2 373.0M233.5 352.5A1.1 0.7 30 1 1 235.5 353.6A1.1 0.7 30 1 1 233.5 352.5M250.2 367.2A1.5 0.6 46 1 1 252.3 369.4A1.5 0.6 46 1 1 250.2 367.2M243.7 377.3A1.6 0.7 45 1 1 246.0 379.6A1.6 0.7 45 1 1 243.7 377.3M223.7 372.3A1.3 0.9 32 1 1 225.8 373.6A1.3 0.9 32 1 1 223.7 372.3M285.9 295.0A1.6 0.8 79 1 1 286.6 298.2A1.6 0.8 79 1 1 285.9 295.0M290.9 320.9A1.2 0.8 79 1 1 291.3 323.2A1.2 0.8 79 1 1 290.9 320.9M296.2 345.0A1.3 0.7 70 1 1 297.2 347.4A1.3 0.7 70 1 1 296.2 345.0M309.1 304.6A1.1 0.9 74 1 1 309.7 306.7A1.1 0.9 74 1 1 309.1 304.6M310.9 288.6A1.2 0.6 69 1 1 311.7 290.7A1.2 0.6 69 1 1 310.9 288.6M319.7 316.4A1.3 0.7 79 1 1 320.2 318.9A1.3 0.7 79 1 1 319.7 316.4M323.8 329.7A1.8 0.8 76 1 1 324.7 333.3A1.8 0.8 76 1 1 323.8 329.7M344.3 367.5A1.5 0.6 75 1 1 345.0 370.3A1.5 0.6 75 1 1 344.3 367.5M337.7 305.5A1.3 0.8 59 1 1 339.1 307.8A1.3 0.8 59 1 1 337.7 305.5M343.5 319.6A1.2 0.6 69 1 1 344.4 321.9A1.2 0.6 69 1 1 343.5 319.6M347.6 325.7A1.3 0.7 60 1 1 348.9 328.0A1.3 0.7 60 1 1 347.6 325.7M339.9 291.1A1.3 0.6 72 1 1 340.7 293.7A1.3 0.6 72 1 1 339.9 291.1M282.3 348.2A1.7 0.6 67 1 1 283.6 351.2A1.7 0.6 67 1 1 282.3 348.2M282.6 351.7A1.6 0.7 75 1 1 283.5 354.9A1.6 0.7 75 1 1 282.6 351.7M288.2 362.0A1.7 0.9 54 1 1 290.2 364.7A1.7 0.9 54 1 1 288.2 362.0M291.4 368.1A1.6 0.6 55 1 1 293.3 370.8A1.6 0.6 55 1 1 291.4 368.1M232.5 313.3A1.4 1.2 67 1 1 233.6 315.9A1.4 1.2 67 1 1 232.5 313.3M307.1 311.5A1.2 0.8 172 1 1 304.8 311.9A1.2 0.8 172 1 1 307.1 311.5M310.5 309.6A1.5 0.9 90 1 1 310.6 312.7A1.5 0.9 90 1 1 310.5 309.6M297.0 307.1A1.8 1.1 40 1 1 299.7 309.4A1.8 1.1 40 1 1 297.0 307.1M309.0 346.0A1.2 0.9 177 1 1 306.6 346.2A1.2 0.9 177 1 1 309.0 346.0M311.3 325.5A1.3 1.1 27 1 1 313.6 326.7A1.3 1.1 27 1 1 311.3 325.5M305.4 334.4A1.9 0.7 100 1 1 304.7 338.1A1.9 0.7 100 1 1 305.4 334.4M306.5 336.1A1.4 1.0 13 1 1 309.3 336.8A1.4 1.0 13 1 1 306.5 336.1M307.8 327.4A1.8 1.0 138 1 1 305.2 329.8A1.8 1.0 138 1 1 307.8 327.4M312.1 329.9A1.5 0.9 87 1 1 312.2 332.9A1.5 0.9 87 1 1 312.1 329.9M313.8 346.0A1.3 1.0 139 1 1 311.7 347.7A1.3 1.0 139 1 1 313.8 346.0M282.6 365.6A1.1 0.6 126 1 1 281.2 367.4A1.1 0.6 126 1 1 282.6 365.6M309.3 368.0A1.4 0.6 277 1 1 309.6 365.2A1.4 0.6 277 1 1 309.3 368.0M323.1 362.3A1.8 0.6 408 1 1 325.5 365.0A1.8 0.6 408 1 1 323.1 362.3M325.1 375.1A1.4 0.8 51 1 1 326.9 377.2A1.4 0.8 51 1 1 325.1 375.1M322.0 377.5A1.8 0.8 39 1 1 324.8 379.8A1.8 0.8 39 1 1 322.0 377.5M318.7 373.1A1.1 1.1 121 1 1 317.6 375.0A1.1 1.1 121 1 1 318.7 373.1"/>
<path fill="#2c3684" fill-opacity="0.6" d="M330.8 372.1A1.7 0.8 178 1 1 327.4 372.2A1.7 0.8 178 1 1 330.8 372.1M292.8 302.6A1.5 1.1 55 1 1 294.5 305.1A1.5 1.1 55 1 1 292.8 302.6M282.0 365.0A1.3 0.9 62 1 1 283.2 367.2A1.3 0.9 62 1 1 282.0 365.0M260.3 360.1A1.7 0.8 115 1 1 258.9 363.1A1.7 0.8 115 1 1 260.3 360.1M239.3 297.0A1.3 0.6 77 1 1 239.9 299.5A1.3 0.6 77 1 1 239.3 297.0M247.8 311.3A1.6 0.6 55 1 1 249.7 314.0A1.6 0.6 55 1 1 247.8 311.3M264.4 339.0A1.2 0.6 56 1 1 265.7 340.9A1.2 0.6 56 1 1 264.4 339.0M272.7 349.7A1.3 0.6 60 1 1 274.0 351.9A1.3 0.6 60 1 1 272.7 349.7M277.7 357.9A1.5 0.8 36 1 1 280.1 359.7A1.5 0.8 36 1 1 277.7 357.9M277.2 338.4A1.3 0.7 67 1 1 278.2 340.8A1.3 0.7 67 1 1 277.2 338.4M279.4 339.7A1.5 0.7 67 1 1 280.6 342.5A1.5 0.7 67 1 1 279.4 339.7M280.1 345.3A1.1 0.7 63 1 1 281.1 347.3A1.1 0.7 63 1 1 280.1 345.3M276.2 315.7A1.6 0.9 68 1 1 277.4 318.6A1.6 0.9 68 1 1 276.2 315.7M240.2 322.6A1.7 0.7 52 1 1 242.3 325.3A1.7 0.7 52 1 1 240.2 322.6M215.4 337.8A1.2 0.8 25 1 1 217.5 338.8A1.2 0.8 25 1 1 215.4 337.8M235.2 347.7A1.4 0.6 36 1 1 237.4 349.4A1.4 0.6 36 1 1 235.2 347.7M257.3 364.8A1.1 0.6 37 1 1 259.1 366.1A1.1 0.6 37 1 1 257.3 364.8M270.8 376.6A1.5 0.9 39 1 1 273.1 378.4A1.5 0.9 39 1 1 270.8 376.6M271.6 377.5A1.5 0.6 45 1 1 273.7 379.7A1.5 0.6 45 1 1 271.6 377.5M221.8 343.6A1.2 0.6 25 1 1 223.9 344.6A1.2 0.6 25 1 1 221.8 343.6M227.4 346.6A1.7 0.9 36 1 1 230.2 348.6A1.7 0.9 36 1 1 227.4 346.6M236.8 355.9A1.4 0.6 33 1 1 239.2 357.4A1.4 0.6 33 1 1 236.8 355.9M255.6 371.6A1.2 0.7 49 1 1 257.2 373.5A1.2 0.7 49 1 1 255.6 371.6M257.0 372.4A1.1 0.7 36 1 1 258.9 373.7A1.1 0.7 36 1 1 257.0 372.4M232.9 366.0A1.5 0.7 34 1 1 235.3 367.6A1.5 0.7 34 1 1 232.9 366.0M235.6 368.7A1.4 0.9 37 1 1 237.8 370.4A1.4 0.9 37 1 1 235.6 368.7M244.2 376.7A1.2 0.6 48 1 1 245.8 378.4A1.2 0.6 48 1 1 244.2 376.7M245.4 378.7A1.1 0.7 56 1 1 246.7 380.6A1.1 0.7 56 1 1 245.4 378.7M220.9 368.9A1.5 0.8 41 1 1 223.2 370.8A1.5 0.8 41 1 1 220.9 368.9M221.2 370.8A1.5 0.8 35 1 1 223.7 372.5A1.5 0.8 35 1 1 221.2 370.8M225.0 293.5A1.1 0.6 -34 1 1 226.9 292.3A1.1 0.6 -34 1 1 225.0 293.5M292.4 321.7A1.5 0.7 79 1 1 293.0 324.7A1.5 0.7 79 1 1 292.4 321.7M305.0 289.9A1.8 0.7 79 1 1 305.7 293.3A1.8 0.7 79 1 1 305.0 289.9M305.4 294.0A1.3 0.9 87 1 1 305.6 296.5A1.3 0.9 87 1 1 305.4 294.0M308.6 307.7A1.5 0.6 79 1 1 309.2 310.6A1.5 0.6 79 1 1 308.6 307.7M313.0 316.1A1.7 0.8 63 1 1 314.6 319.2A1.7 0.8 63 1 1 313.0 316.1M316.2 333.3A1.2 0.8 81 1 1 316.5 335.7A1.2 0.8 81 1 1 316.2 333.3M318.4 347.6A1.2 0.6 83 1 1 318.7 350.0A1.2 0.6 83 1 1 318.4 347.6M311.8 291.5A1.8 0.7 77 1 1 312.6 295.0A1.8 0.7 77 1 1 311.8 291.5M312.6 294.6A1.7 0.8 68 1 1 313.9 297.7A1.7 0.8 68 1 1 312.6 294.6M318.0 312.5A1.8 0.9 72 1 1 319.1 316.0A1.8 0.9 72 1 1 318.0 312.5M323.2 321.9A1.2 0.8 73 1 1 323.9 324.1A1.2 0.8 73 1 1 323.2 321.9M323.1 331.5A1.8 0.6 78 1 1 323.9 335.0A1.8 0.6 78 1 1 323.1 331.5M334.1 356.9A1.3 0.8 73 1 1 334.9 359.4A1.3 0.8 73 1 1 334.1 356.9M325.4 317.9A1.2 0.9 68 1 1 326.3 320.2A1.2 0.9 68 1 1 325.4 317.9M330.0 329.4A1.2 0.8 61 1 1 331.2 331.5A1.2 0.8 61 1 1 330.0 329.4M345.5 370.1A1.7 0.7 78 1 1 346.3 373.6A1.7 0.7 78 1 1 345.5 370.1M328.9 291.4A1.4 0.8 59 1 1 330.4 293.7A1.4 0.8 59 1 1 328.9 291.4M334.4 297.8A1.3 0.7 50 1 1 336.1 299.8A1.3 0.7 50 1 1 334.4 297.8M341.1 314.1A1.8 0.9 65 1 1 342.6 317.4A1.8 0.9 65 1 1 341.1 314.1M338.9 288.0A1.7 0.7 72 1 1 340.0 291.2A1.7 0.7 72 1 1 338.9 288.0M341.4 296.5A1.3 0.9 62 1 1 342.7 298.8A1.3 0.9 62 1 1 341.4 296.5M344.6 298.9A1.1 0.7 66 1 1 345.5 301.0A1.1 0.7 66 1 1 344.6 298.9M280.0 340.1A1.7 0.6 61 1 1 281.7 343.1A1.7 0.6 61 1 1 280.0 340.1M282.1 346.7A1.9 0.7 77 1 1 283.0 350.3A1.9 0.7 77 1 1 282.1 346.7M291.3 369.7A1.7 0.6 60 1 1 292.9 372.6A1.7 0.6 60 1 1 291.3 369.7M292.2 369.7A1.9 0.8 52 1 1 294.5 372.7A1.9 0.8 52 1 1 292.2 369.7M282.2 366.5A1.1 0.7 68 1 1 283.1 368.6A1.1 0.7 68 1 1 282.2 366.5M283.9 369.1A1.3 0.7 68 1 1 284.9 371.5A1.3 0.7 68 1 1 283.9 369.1M286.7 373.2A1.3 0.6 63 1 1 287.8 375.5A1.3 0.6 63 1 1 286.7 373.2M287.1 378.4A1.6 0.8 78 1 1 287.7 381.5A1.6 0.8 78 1 1 287.1 378.4M300.4 379.9A1.2 0.8 -12 1 1 302.8 379.4A1.2 0.8 -12 1 1 300.4 379.9M328.0 378.5A1.8 0.9 -17 1 1 331.5 377.5A1.8 0.9 -17 1 1 328.0 378.5M243.7 307.6A1.7 1.1 131 1 1 241.5 310.1A1.7 1.1 131 1 1 243.7 307.6M301.6 306.7A1.8 1.2 126 1 1 299.5 309.6A1.8 1.2 126 1 1 301.6 306.7M313.4 344.9A1.5 0.9 69 1 1 314.5 347.7A1.5 0.9 69 1 1 313.4 344.9M301.4 343.0A1.6 1.2 41 1 1 303.8 345.1A1.6 1.2 41 1 1 301.4 343.0M301.1 344.9A1.5 0.9 51 1 1 303.1 347.3A1.5 0.9 51 1 1 301.1 344.9M312.6 337.8A1.9 1.0 24 1 1 316.0 339.3A1.9 1.0 24 1 1 312.6 337.8M304.6 335.8A1.5 0.9 94 1 1 304.4 338.7A1.5 0.9 94 1 1 304.6 335.8M275.4 354.9A1.4 0.8 347 1 1 278.0 354.3A1.4 0.8 347 1 1 275.4 354.9M280.0 355.1A1.3 0.7 399 1 1 282.0 356.8A1.3 0.7 399 1 1 280.0 355.1M314.3 362.8A1.4 0.9 339 1 1 317.0 361.8A1.4 0.9 339 1 1 314.3 362.8"/>
<path fill="#2c3684" fill-opacity="0.75" d="M326.8 341.8A1.7 1.1 49 1 1 329.0 344.3A1.7 1.1 49 1 1 326.8 341.8M248.0 314.8A1.7 0.9 54 1 1 249.9 317.5A1.7 0.9 54 1 1 248.0 314.8M255.8 324.0A1.8 0.8 64 1 1 257.4 327.3A1.8 0.8 64 1 1 255.8 324.0M271.9 351.6A1.3 0.6 52 1 1 273.5 353.7A1.3 0.6 52 1 1 271.9 351.6M262.8 301.8A1.2 0.7 64 1 1 263.9 304.0A1.2 0.7 64 1 1 262.8 301.8M278.9 336.7A1.4 0.6 73 1 1 279.7 339.4A1.4 0.6 73 1 1 278.9 336.7M274.4 311.1A1.6 0.6 76 1 1 275.2 314.1A1.6 0.6 76 1 1 274.4 311.1M274.9 313.8A1.7 0.7 72 1 1 275.9 317.0A1.7 0.7 72 1 1 274.9 313.8M275.0 316.1A1.2 0.6 75 1 1 275.7 318.4A1.2 0.6 75 1 1 275.0 316.1M277.3 323.6A1.8 0.6 64 1 1 278.9 326.9A1.8 0.6 64 1 1 277.3 323.6M242.7 327.0A1.7 0.6 65 1 1 244.2 330.2A1.7 0.6 65 1 1 242.7 327.0M242.0 327.9A1.8 0.8 56 1 1 244.0 330.9A1.8 0.8 56 1 1 242.0 327.9M228.8 346.5A1.8 0.6 37 1 1 231.7 348.7A1.8 0.6 37 1 1 228.8 346.5M255.3 362.5A1.7 0.6 43 1 1 257.7 364.9A1.7 0.6 43 1 1 255.3 362.5M264.3 371.4A1.7 0.9 43 1 1 266.8 373.7A1.7 0.9 43 1 1 264.3 371.4M249.8 363.5A1.7 0.8 41 1 1 252.4 365.8A1.7 0.8 41 1 1 249.8 363.5M230.0 366.0A1.2 0.8 39 1 1 231.9 367.5A1.2 0.8 39 1 1 230.0 366.0M212.8 364.4A1.7 0.8 39 1 1 215.5 366.6A1.7 0.8 39 1 1 212.8 364.4M222.1 373.0A1.5 0.7 31 1 1 224.6 374.6A1.5 0.7 31 1 1 222.1 373.0M242.8 347.2A1.6 0.6 59 1 1 244.4 349.8A1.6 0.6 59 1 1 242.8 347.2M316.2 333.6A1.8 0.8 91 1 1 316.2 337.2A1.8 0.8 91 1 1 316.2 333.6M318.4 349.4A1.6 0.7 87 1 1 318.5 352.6A1.6 0.7 87 1 1 318.4 349.4M324.0 336.5A1.8 0.7 60 1 1 325.8 339.6A1.8 0.7 60 1 1 324.0 336.5M327.9 342.9A1.5 0.7 73 1 1 328.8 345.8A1.5 0.7 73 1 1 327.9 342.9M335.8 342.0A1.9 0.9 59 1 1 337.7 345.2A1.9 0.9 59 1 1 335.8 342.0M342.0 354.7A1.6 0.8 79 1 1 342.6 357.7A1.6 0.8 79 1 1 342.0 354.7M343.3 361.1A1.7 0.9 77 1 1 344.0 364.3A1.7 0.9 77 1 1 343.3 361.1M337.9 306.7A1.8 0.8 58 1 1 339.9 309.7A1.8 0.8 58 1 1 337.9 306.7M343.0 317.6A1.6 0.6 58 1 1 344.6 320.3A1.6 0.6 58 1 1 343.0 317.6M349.0 328.5A1.6 0.9 65 1 1 350.4 331.5A1.6 0.9 65 1 1 349.0 328.5M338.3 287.7A1.7 0.7 66 1 1 339.6 290.8A1.7 0.7 66 1 1 338.3 287.7M337.9 289.6A1.5 0.6 59 1 1 339.4 292.2A1.5 0.6 59 1 1 337.9 289.6M346.2 302.2A1.1 0.9 61 1 1 347.4 304.2A1.1 0.9 61 1 1 346.2 302.2M335.3 376.1A1.1 0.7 -13 1 1 337.5 375.6A1.1 0.7 -13 1 1 335.3 376.1M239.2 309.9A1.4 1.1 102 1 1 238.7 312.5A1.4 1.1 102 1 1 239.2 309.9M233.4 312.3A1.8 1.0 -11 1 1 236.9 311.7A1.8 1.0 -11 1 1 233.4 312.3M233.2 306.7A1.5 1.0 10 1 1 236.1 307.2A1.5 1.0 10 1 1 233.2 306.7M232.6 315.9A1.1 0.9 -14 1 1 234.8 315.4A1.1 0.9 -14 1 1 232.6 315.9M243.3 310.6A1.5 1.0 137 1 1 241.1 312.7A1.5 1.0 137 1 1 243.3 310.6M243.2 327.0A1.4 1.1 29 1 1 245.6 328.3A1.4 1.1 29 1 1 243.2 327.0M302.1 321.6A1.5 1.1 89 1 1 302.2 324.6A1.5 1.1 89 1 1 302.1 321.6M310.0 317.7A1.8 1.0 105 1 1 309.1 321.2A1.8 1.0 105 1 1 310.0 317.7M309.2 328.7A1.4 0.9 98 1 1 308.8 331.5A1.4 0.9 98 1 1 309.2 328.7M303.8 343.7A1.7 1.0 97 1 1 303.4 347.1A1.7 1.0 97 1 1 303.8 343.7M306.9 332.7A1.5 1.1 119 1 1 305.3 335.4A1.5 1.1 119 1 1 306.9 332.7M313.8 332.3A1.3 1.2 196 1 1 311.3 331.5A1.3 1.2 196 1 1 313.8 332.3M306.7 333.0A1.4 0.9 57 1 1 308.2 335.3A1.4 0.9 57 1 1 306.7 333.0M313.3 363.3A1.6 0.7 331 1 1 316.1 361.8A1.6 0.7 331 1 1 313.3 363.3M322.1 376.7A1.7 1.0 47 1 1 324.4 379.2A1.7 1.0 47 1 1 322.1 376.7M344.4 376.8A1.6 0.8 36 1 1 347.0 378.7A1.6 0.8 36 1 1 344.4 376.8"/>
<path fill="#2c3684" fill-opacity="0.9" d="M250.4 337.7A1.3 1.2 88 1 1 250.4 340.2A1.3 1.2 88 1 1 250.4 337.7M344.5 369.6A1.7 1.2 102 1 1 343.8 372.9A1.7 1.2 102 1 1 344.5 369.6M247.6 339.0A1.4 1.1 87 1 1 247.7 341.8A1.4 1.1 87 1 1 247.6 339.0M252.1 322.7A1.8 0.6 56 1 1 254.1 325.7A1.8 0.6 56 1 1 252.1 322.7M257.0 326.8A1.8 0.9 56 1 1 258.9 329.7A1.8 0.9 56 1 1 257.0 326.8M258.0 329.7A1.8 0.8 59 1 1 259.9 332.9A1.8 0.8 59 1 1 258.0 329.7M276.4 354.4A1.5 0.6 53 1 1 278.2 356.7A1.5 0.6 53 1 1 276.4 354.4M264.0 302.4A1.5 0.6 70 1 1 265.1 305.2A1.5 0.6 70 1 1 264.0 302.4M268.6 309.8A1.7 0.9 78 1 1 269.3 313.2A1.7 0.9 78 1 1 268.6 309.8M266.4 312.1A1.1 0.7 62 1 1 267.5 314.1A1.1 0.7 62 1 1 266.4 312.1M268.5 313.4A1.8 0.9 74 1 1 269.4 316.8A1.8 0.9 74 1 1 268.5 313.4M265.3 294.1A1.7 0.6 68 1 1 266.5 297.2A1.7 0.6 68 1 1 265.3 294.1M280.5 326.0A1.7 0.7 68 1 1 281.7 329.2A1.7 0.7 68 1 1 280.5 326.0M221.2 305.3A1.8 0.7 37 1 1 224.0 307.5A1.8 0.7 37 1 1 221.2 305.3M217.4 336.7A1.3 0.8 33 1 1 219.6 338.1A1.3 0.8 33 1 1 217.4 336.7M228.0 344.0A1.8 0.8 42 1 1 230.7 346.3A1.8 0.8 42 1 1 228.0 344.0M236.3 351.8A1.9 0.9 37 1 1 239.3 354.0A1.9 0.9 37 1 1 236.3 351.8M269.3 373.3A1.3 0.9 52 1 1 270.9 375.4A1.3 0.9 52 1 1 269.3 373.3M273.4 377.7A1.8 0.6 50 1 1 275.7 380.4A1.8 0.6 50 1 1 273.4 377.7M216.6 341.7A1.5 0.7 37 1 1 218.9 343.4A1.5 0.7 37 1 1 216.6 341.7M237.8 356.3A1.2 0.6 41 1 1 239.6 357.8A1.2 0.6 41 1 1 237.8 356.3M226.4 374.3A1.4 0.7 42 1 1 228.5 376.2A1.4 0.7 42 1 1 226.4 374.3M222.7 294.9A1.5 0.6 -30 1 1 225.4 293.4A1.5 0.6 -30 1 1 222.7 294.9M287.6 299.7A1.2 0.6 75 1 1 288.3 302.0A1.2 0.6 75 1 1 287.6 299.7M293.3 333.3A1.5 0.9 85 1 1 293.6 336.3A1.5 0.9 85 1 1 293.3 333.3M293.0 334.7A1.8 0.9 70 1 1 294.3 338.0A1.8 0.9 70 1 1 293.0 334.7M295.6 348.5A1.8 0.7 71 1 1 296.7 351.8A1.8 0.7 71 1 1 295.6 348.5M300.6 362.0A1.1 0.7 80 1 1 301.0 364.3A1.1 0.7 80 1 1 300.6 362.0M305.0 288.2A1.8 0.9 77 1 1 305.8 291.8A1.8 0.9 77 1 1 305.0 288.2M315.6 330.0A1.5 0.7 80 1 1 316.1 332.9A1.5 0.7 80 1 1 315.6 330.0M319.8 343.5A1.6 0.7 80 1 1 320.4 346.6A1.6 0.7 80 1 1 319.8 343.5M322.1 326.1A1.8 0.6 71 1 1 323.3 329.6A1.8 0.6 71 1 1 322.1 326.1M322.2 306.1A1.1 0.7 77 1 1 322.7 308.3A1.1 0.7 77 1 1 322.2 306.1M345.6 319.9A1.3 0.8 61 1 1 346.9 322.2A1.3 0.8 61 1 1 345.6 319.9M340.3 291.7A1.6 0.8 72 1 1 341.3 294.8A1.6 0.8 72 1 1 340.3 291.7M345.8 301.0A1.2 0.9 71 1 1 346.6 303.2A1.2 0.9 71 1 1 345.8 301.0M297.1 375.1A1.8 0.9 54 1 1 299.3 378.1A1.8 0.9 54 1 1 297.1 375.1M280.2 354.5A1.2 0.7 67 1 1 281.2 356.7A1.2 0.7 67 1 1 280.2 354.5M280.8 359.9A1.7 0.8 76 1 1 281.7 363.3A1.7 0.8 76 1 1 280.8 359.9M282.5 363.4A1.8 0.8 69 1 1 283.8 366.7A1.8 0.8 69 1 1 282.5 363.4M283.8 366.5A1.6 0.9 70 1 1 284.9 369.6A1.6 0.9 70 1 1 283.8 366.5M334.5 375.5A1.3 0.9 -8 1 1 337.0 375.2A1.3 0.9 -8 1 1 334.5 375.5M248.0 330.2A1.8 0.8 203 1 1 244.8 328.8A1.8 0.8 203 1 1 248.0 330.2M243.4 328.4A1.9 0.9 36 1 1 246.4 330.6A1.9 0.9 36 1 1 243.4 328.4M305.8 308.1A1.5 0.9 67 1 1 307.0 311.0A1.5 0.9 67 1 1 305.8 308.1M308.3 329.8A1.3 1.2 152 1 1 306.0 331.1A1.3 1.2 152 1 1 308.3 329.8M312.6 335.6A1.2 0.8 132 1 1 311.0 337.4A1.2 0.8 132 1 1 312.6 335.6M307.5 338.9A1.2 0.8 145 1 1 305.6 340.2A1.2 0.8 145 1 1 307.5 338.9M306.1 332.8A1.7 0.8 190 1 1 302.7 332.3A1.7 0.8 190 1 1 306.1 332.8M300.2 334.5A1.5 1.2 -6 1 1 303.2 334.2A1.5 1.2 -6 1 1 300.2 334.5M314.1 333.8A1.1 0.7 120 1 1 312.9 335.8A1.1 0.7 120 1 1 314.1 333.8M310.9 336.4A1.4 0.8 158 1 1 308.3 337.5A1.4 0.8 158 1 1 310.9 336.4M267.8 360.6A1.5 0.7 296 1 1 269.1 357.9A1.5 0.7 296 1 1 267.8 360.6M269.7 357.4A1.6 0.7 308 1 1 271.7 354.8A1.6 0.7 308 1 1 269.7 357.4M319.4 374.5A1.2 0.6 171 1 1 317.0 374.9A1.2 0.6 171 1 1 319.4 374.5M312.9 374.9A1.7 0.8 226 1 1 310.6 372.4A1.7 0.8 226 1 1 312.9 374.9M317.4 361.0A1.6 0.8 367 1 1 320.7 361.4A1.6 0.8 367 1 1 317.4 361.0M319.7 359.9A1.2 0.7 371 1 1 322.0 360.4A1.2 0.7 371 1 1 319.7 359.9"/>
<path fill="#5c64b0" fill-opacity="0.6" d="M345.1 315.6A1.6 1.0 54 1 1 347.0 318.2A1.6 1.0 54 1 1 345.1 315.6M241.3 301.2A1.2 0.7 78 1 1 241.8 303.5A1.2 0.7 78 1 1 241.3 301.2M259.9 294.5A1.2 0.6 75 1 1 260.5 296.8A1.2 0.6 75 1 1 259.9 294.5M260.9 295.3A1.8 0.6 67 1 1 262.3 298.7A1.8 0.6 67 1 1 260.9 295.3M270.2 317.9A1.5 0.9 62 1 1 271.6 320.5A1.5 0.9 62 1 1 270.2 317.9M223.8 306.7A1.7 0.6 45 1 1 226.2 309.1A1.7 0.6 45 1 1 223.8 306.7M239.7 324.1A1.4 0.9 60 1 1 241.1 326.5A1.4 0.9 60 1 1 239.7 324.1M242.5 353.6A1.6 0.6 31 1 1 245.3 355.2A1.6 0.6 31 1 1 242.5 353.6M224.7 344.4A1.1 0.7 41 1 1 226.4 345.9A1.1 0.7 41 1 1 224.7 344.4M254.7 368.4A1.4 0.9 45 1 1 256.7 370.3A1.4 0.9 45 1 1 254.7 368.4M224.4 359.9A1.5 0.6 25 1 1 227.1 361.2A1.5 0.6 25 1 1 224.4 359.9M234.2 367.0A1.5 0.7 44 1 1 236.5 369.1A1.5 0.7 44 1 1 234.2 367.0M237.1 370.7A1.3 0.7 38 1 1 239.2 372.3A1.3 0.7 38 1 1 237.1 370.7M237.8 373.1A1.4 0.7 45 1 1 239.8 375.1A1.4 0.7 45 1 1 237.8 373.1M239.5 375.7A1.8 0.8 36 1 1 242.3 377.9A1.8 0.8 36 1 1 239.5 375.7M287.0 287.2A1.8 0.6 89 1 1 287.1 290.7A1.8 0.6 89 1 1 287.0 287.2M287.4 305.1A1.8 0.9 77 1 1 288.3 308.7A1.8 0.9 77 1 1 287.4 305.1M288.4 309.0A1.9 0.9 86 1 1 288.7 312.8A1.9 0.9 86 1 1 288.4 309.0M294.2 327.4A1.5 0.7 87 1 1 294.4 330.4A1.5 0.7 87 1 1 294.2 327.4M297.8 352.8A1.7 0.6 74 1 1 298.7 356.0A1.7 0.6 74 1 1 297.8 352.8M313.4 320.5A1.1 0.9 74 1 1 314.0 322.7A1.1 0.9 74 1 1 313.4 320.5M313.1 321.6A1.7 0.6 74 1 1 314.1 324.9A1.7 0.6 74 1 1 313.1 321.6M316.6 331.3A1.3 0.7 75 1 1 317.3 333.7A1.3 0.7 75 1 1 316.6 331.3M317.1 311.0A1.4 0.9 62 1 1 318.4 313.4A1.4 0.9 62 1 1 317.1 311.0M324.8 331.8A1.6 0.9 76 1 1 325.5 335.0A1.6 0.9 76 1 1 324.8 331.8M328.2 339.4A1.7 0.8 73 1 1 329.2 342.7A1.7 0.8 73 1 1 328.2 339.4M330.7 352.2A1.7 0.7 68 1 1 332.0 355.3A1.7 0.7 68 1 1 330.7 352.2M328.2 321.5A1.7 0.8 69 1 1 329.3 324.6A1.7 0.8 69 1 1 328.2 321.5M340.8 349.0A1.6 0.6 74 1 1 341.7 352.0A1.6 0.6 74 1 1 340.8 349.0M343.4 358.0A1.7 0.7 73 1 1 344.4 361.3A1.7 0.7 73 1 1 343.4 358.0M347.4 327.1A1.8 0.9 63 1 1 349.0 330.3A1.8 0.9 63 1 1 347.4 327.1M344.4 302.4A1.4 0.6 68 1 1 345.5 305.0A1.4 0.6 68 1 1 344.4 302.4M287.5 358.7A1.7 0.9 53 1 1 289.5 361.4A1.7 0.9 53 1 1 287.5 358.7M290.5 364.1A1.3 0.9 63 1 1 291.7 366.4A1.3 0.9 63 1 1 290.5 364.1M282.3 359.1A1.2 0.7 74 1 1 282.9 361.5A1.2 0.7 74 1 1 282.3 359.1M282.3 360.6A1.8 0.6 65 1 1 283.9 363.9A1.8 0.6 65 1 1 282.3 360.6M323.3 377.5A1.3 0.8 3 1 1 326.0 377.7A1.3 0.8 3 1 1 323.3 377.5M331.9 377.4A1.7 0.9 -15 1 1 335.1 376.6A1.7 0.9 -15 1 1 331.9 377.4M244.4 322.9A1.8 0.8 166 1 1 240.9 323.8A1.8 0.8 166 1 1 244.4 322.9M301.4 312.5A1.8 0.7 141 1 1 298.5 314.8A1.8 0.7 141 1 1 301.4 312.5M296.1 312.4A1.8 0.8 65 1 1 297.6 315.6A1.8 0.8 65 1 1 296.1 312.4M297.0 315.2A1.5 1.1 93 1 1 296.8 318.2A1.5 1.1 93 1 1 297.0 315.2M309.9 334.0A1.3 1.2 9 1 1 312.5 334.4A1.3 1.2 9 1 1 309.9 334.0M313.7 324.9A1.8 0.9 155 1 1 310.3 326.4A1.8 0.9 155 1 1 313.7 324.9M306.5 351.5A1.4 1.1 60 1 1 307.9 353.9A1.4 1.1 60 1 1 306.5 351.5M311.8 330.5A1.4 0.8 179 1 1 309.0 330.6A1.4 0.8 179 1 1 311.8 330.5M307.2 337.2A1.3 1.1 59 1 1 308.6 339.5A1.3 1.1 59 1 1 307.2 337.2M307.1 351.0A1.6 1.1 52 1 1 309.1 353.6A1.6 1.1 52 1 1 307.1 351.0M311.2 349.6A1.1 1.1 69 1 1 312.0 351.8A1.1 1.1 69 1 1 311.2 349.6M311.2 339.0A1.4 1.1 -9 1 1 313.9 338.6A1.4 1.1 -9 1 1 311.2 339.0M300.0 339.4A1.8 0.8 18 1 1 303.4 340.5A1.8 0.8 18 1 1 300.0 339.4M305.2 339.4A1.8 1.0 38 1 1 308.0 341.6A1.8 1.0 38 1 1 305.2 339.4M307.3 344.0A1.4 1.2 123 1 1 305.7 346.4A1.4 1.2 123 1 1 307.3 344.0M311.6 331.8A1.7 1.1 183 1 1 308.2 331.5A1.7 1.1 183 1 1 311.6 331.8M284.8 359.9A1.5 0.6 95 1 1 284.6 362.9A1.5 0.6 95 1 1 284.8 359.9M274.9 370.7A1.8 0.8 214 1 1 271.8 368.7A1.8 0.8 214 1 1 274.9 370.7M273.0 368.1A1.5 0.7 217 1 1 270.5 366.2A1.5 0.7 217 1 1 273.0 368.1M325.3 371.2A1.5 0.9 128 1 1 323.5 373.6A1.5 0.9 128 1 1 325.3 371.2M320.3 361.9A1.3 0.9 400 1 1 322.2 363.5A1.3 0.9 400 1 1 320.3 361.9M349.9 371.7A1.6 0.9 131 1 1 347.7 374.2A1.6 0.9 131 1 1 349.9 371.7M306.5 370.7A1.6 1.2 56 1 1 308.3 373.5A1.6 1.2 56 1 1 306.5 370.7M337.9 372.2A1.6 1.0 34 1 1 340.6 374.1A1.6 1.0 34 1 1 337.9 372.2"/>
<path fill="#5c64b0" fill-opacity="0.75" d="M307.2 344.4A1.2 0.9 170 1 1 304.7 344.9A1.2 0.9 170 1 1 307.2 344.4M246.4 326.1A1.8 1.1 47 1 1 248.9 328.8A1.8 1.1 47 1 1 246.4 326.1M213.4 309.3A1.5 1.0 72 1 1 214.3 312.1A1.5 1.0 72 1 1 213.4 309.3M312.4 308.3A1.3 1.1 70 1 1 313.3 310.8A1.3 1.1 70 1 1 312.4 308.3M333.7 351.3A1.3 1.0 116 1 1 332.6 353.7A1.3 1.0 116 1 1 333.7 351.3M226.9 303.2A1.2 1.2 45 1 1 228.6 305.0A1.2 1.2 45 1 1 226.9 303.2M242.7 305.9A1.2 0.7 63 1 1 243.8 308.1A1.2 0.7 63 1 1 242.7 305.9M273.8 352.1A1.8 0.6 38 1 1 276.7 354.4A1.8 0.6 38 1 1 273.8 352.1M281.6 361.1A1.9 0.6 58 1 1 283.6 364.3A1.9 0.6 58 1 1 281.6 361.1M260.4 295.1A1.5 0.9 78 1 1 261.0 298.1A1.5 0.9 78 1 1 260.4 295.1M271.3 321.9A1.1 0.9 61 1 1 272.4 323.8A1.1 0.9 61 1 1 271.3 321.9M272.4 321.3A1.7 0.6 68 1 1 273.7 324.5A1.7 0.6 68 1 1 272.4 321.3M273.9 326.0A1.2 0.7 75 1 1 274.5 328.2A1.2 0.7 75 1 1 273.9 326.0M267.9 297.7A1.1 0.9 64 1 1 268.8 299.7A1.1 0.9 64 1 1 267.9 297.7M225.1 307.6A1.6 0.9 45 1 1 227.4 309.8A1.6 0.9 45 1 1 225.1 307.6M233.8 314.3A1.1 0.9 37 1 1 235.6 315.6A1.1 0.9 37 1 1 233.8 314.3M243.9 331.7A1.7 0.6 73 1 1 244.9 334.9A1.7 0.6 73 1 1 243.9 331.7M249.5 339.0A1.2 0.8 88 1 1 249.6 341.4A1.2 0.8 88 1 1 249.5 339.0M218.3 337.0A1.8 0.9 40 1 1 221.1 339.4A1.8 0.9 40 1 1 218.3 337.0M237.9 352.1A1.5 0.8 33 1 1 240.4 353.8A1.5 0.8 33 1 1 237.9 352.1M238.5 352.2A1.6 0.6 34 1 1 241.2 354.1A1.6 0.6 34 1 1 238.5 352.2M252.3 362.4A1.1 0.9 40 1 1 254.0 363.8A1.1 0.9 40 1 1 252.3 362.4M261.9 370.4A1.6 0.9 33 1 1 264.6 372.2A1.6 0.9 33 1 1 261.9 370.4M264.2 370.6A1.6 0.9 41 1 1 266.6 372.7A1.6 0.9 41 1 1 264.2 370.6M233.3 354.5A1.4 0.9 35 1 1 235.6 356.1A1.4 0.9 35 1 1 233.3 354.5M254.2 370.9A1.7 0.7 45 1 1 256.5 373.2A1.7 0.7 45 1 1 254.2 370.9M215.0 356.3A1.4 0.8 29 1 1 217.5 357.6A1.4 0.8 29 1 1 215.0 356.3M214.9 356.8A1.9 0.6 30 1 1 218.2 358.8A1.9 0.6 30 1 1 214.9 356.8M211.5 365.0A1.7 0.8 31 1 1 214.3 366.7A1.7 0.8 31 1 1 211.5 365.0M212.3 299.3A1.5 0.8 -31 1 1 214.9 297.8A1.5 0.8 -31 1 1 212.3 299.3M285.1 289.3A1.6 0.7 88 1 1 285.2 292.5A1.6 0.7 88 1 1 285.1 289.3M289.5 311.8A1.4 0.7 82 1 1 289.8 314.5A1.4 0.7 82 1 1 289.5 311.8M299.3 359.1A1.1 0.8 79 1 1 299.8 361.3A1.1 0.8 79 1 1 299.3 359.1M306.9 289.9A1.9 0.6 74 1 1 307.9 293.5A1.9 0.6 74 1 1 306.9 289.9M307.0 293.9A1.9 0.8 83 1 1 307.5 297.5A1.9 0.8 83 1 1 307.0 293.9M317.8 327.9A1.5 0.6 88 1 1 317.9 330.9A1.5 0.6 88 1 1 317.8 327.9M316.4 330.7A1.4 0.8 85 1 1 316.7 333.5A1.4 0.8 85 1 1 316.4 330.7M315.4 303.1A1.5 0.9 71 1 1 316.3 305.9A1.5 0.9 71 1 1 315.4 303.1M333.2 370.0A1.2 0.6 98 1 1 332.8 372.3A1.2 0.6 98 1 1 333.2 370.0M327.6 320.1A1.6 0.8 62 1 1 329.1 323.0A1.6 0.8 62 1 1 327.6 320.1M328.0 325.1A1.4 0.6 61 1 1 329.4 327.5A1.4 0.6 61 1 1 328.0 325.1M338.6 345.6A1.6 0.8 71 1 1 339.6 348.7A1.6 0.8 71 1 1 338.6 345.6M341.6 356.8A1.4 0.7 72 1 1 342.5 359.5A1.4 0.7 72 1 1 341.6 356.8M347.6 328.3A1.2 0.7 70 1 1 348.4 330.5A1.2 0.7 70 1 1 347.6 328.3M338.9 290.5A1.8 0.8 60 1 1 340.8 293.7A1.8 0.8 60 1 1 338.9 290.5M283.8 352.8A1.3 0.8 75 1 1 284.5 355.3A1.3 0.8 75 1 1 283.8 352.8M289.0 365.2A1.5 0.6 67 1 1 290.2 368.0A1.5 0.6 67 1 1 289.0 365.2M280.2 355.5A1.1 0.7 66 1 1 281.1 357.5A1.1 0.7 66 1 1 280.2 355.5M302.4 380.0A1.3 0.6 -22 1 1 304.8 379.0A1.3 0.6 -22 1 1 302.4 380.0M306.7 378.5A1.8 0.7 -25 1 1 310.0 376.9A1.8 0.7 -25 1 1 306.7 378.5M311.1 377.0A1.8 0.6 11 1 1 314.7 377.7A1.8 0.6 11 1 1 311.1 377.0M320.9 379.1A1.3 0.6 -3 1 1 323.5 378.9A1.3 0.6 -3 1 1 320.9 379.1M325.2 380.2A1.8 0.8 -9 1 1 328.9 379.7A1.8 0.8 -9 1 1 325.2 380.2M301.6 307.9A1.3 1.0 90 1 1 301.6 310.5A1.3 1.0 90 1 1 301.6 307.9M306.0 314.1A1.3 0.8 63 1 1 307.2 316.5A1.3 0.8 63 1 1 306.0 314.1M305.5 344.0A1.5 1.1 13 1 1 308.5 344.7A1.5 1.1 13 1 1 305.5 344.0M306.0 346.1A1.8 1.1 78 1 1 306.8 349.6A1.8 1.1 78 1 1 306.0 346.1M311.2 327.5A1.3 0.9 103 1 1 310.6 330.1A1.3 0.9 103 1 1 311.2 327.5M311.3 329.2A1.6 1.1 -0 1 1 314.5 329.2A1.6 1.1 -0 1 1 311.3 329.2M311.8 338.8A1.7 0.8 177 1 1 308.4 338.9A1.7 0.8 177 1 1 311.8 338.8M307.0 332.3A1.8 0.8 137 1 1 304.4 334.7A1.8 0.8 137 1 1 307.0 332.3M302.8 333.3A1.5 1.0 -5 1 1 305.8 333.1A1.5 1.0 -5 1 1 302.8 333.3M306.9 346.8A1.9 0.8 61 1 1 308.7 350.1A1.9 0.8 61 1 1 306.9 346.8M276.4 370.2A1.2 0.6 198 1 1 274.2 369.4A1.2 0.6 198 1 1 276.4 370.2M274.0 369.6A1.5 0.8 216 1 1 271.5 367.8A1.5 0.8 216 1 1 274.0 369.6M269.3 365.6A1.3 0.6 257 1 1 268.7 363.0A1.3 0.6 257 1 1 269.3 365.6M324.6 366.3A1.5 0.7 77 1 1 325.3 369.1A1.5 0.7 77 1 1 324.6 366.3M311.4 367.7A1.8 0.6 293 1 1 312.8 364.3A1.8 0.6 293 1 1 311.4 367.7M299.0 376.0A1.3 0.8 28 1 1 301.3 377.2A1.3 0.8 28 1 1 299.0 376.0M309.2 372.5A1.5 0.8 12 1 1 312.0 373.1A1.5 0.8 12 1 1 309.2 372.5"/>
<path fill="#5c64b0" fill-opacity="0.9" d="M320.7 368.1A1.6 1.1 18 1 1 323.7 369.0A1.6 1.1 18 1 1 320.7 368.1M216.4 361.8A1.1 0.8 67 1 1 217.3 363.8A1.1 0.8 67 1 1 216.4 361.8M316.3 289.3A1.3 1.2 65 1 1 317.4 291.7A1.3 1.2 65 1 1 316.3 289.3M293.6 325.7A1.2 1.2 128 1 1 292.1 327.6A1.2 1.2 128 1 1 293.6 325.7M242.0 303.6A1.6 0.6 63 1 1 243.4 306.4A1.6 0.6 63 1 1 242.0 303.6M258.9 331.5A1.8 0.6 61 1 1 260.7 334.6A1.8 0.6 61 1 1 258.9 331.5M261.3 335.2A1.7 0.8 62 1 1 262.9 338.3A1.7 0.8 62 1 1 261.3 335.2M267.1 347.4A1.8 0.8 51 1 1 269.3 350.1A1.8 0.8 51 1 1 267.1 347.4M281.1 363.7A1.3 0.7 57 1 1 282.5 365.8A1.3 0.7 57 1 1 281.1 363.7M259.1 292.4A1.5 0.6 78 1 1 259.7 295.3A1.5 0.6 78 1 1 259.1 292.4M270.7 320.5A1.3 0.8 71 1 1 271.6 323.0A1.3 0.8 71 1 1 270.7 320.5M275.7 318.5A1.6 0.9 71 1 1 276.7 321.5A1.6 0.9 71 1 1 275.7 318.5M229.4 313.2A1.7 0.6 38 1 1 232.1 315.2A1.7 0.6 38 1 1 229.4 313.2M242.3 324.7A1.5 0.8 56 1 1 244.1 327.2A1.5 0.8 56 1 1 242.3 324.7M243.9 329.3A1.3 0.8 56 1 1 245.4 331.5A1.3 0.8 56 1 1 243.9 329.3M245.1 330.0A1.5 0.8 52 1 1 247.0 332.4A1.5 0.8 52 1 1 245.1 330.0M246.0 357.2A1.3 0.8 26 1 1 248.4 358.3A1.3 0.8 26 1 1 246.0 357.2M253.9 361.5A1.4 0.9 35 1 1 256.3 363.1A1.4 0.9 35 1 1 253.9 361.5M258.9 375.0A1.7 0.9 59 1 1 260.8 378.0A1.7 0.9 59 1 1 258.9 375.0M259.8 376.0A1.8 0.8 54 1 1 261.9 378.8A1.8 0.8 54 1 1 259.8 376.0M262.1 377.1A1.5 0.6 53 1 1 263.9 379.5A1.5 0.6 53 1 1 262.1 377.1M262.6 379.6A1.7 0.8 60 1 1 264.4 382.5A1.7 0.8 60 1 1 262.6 379.6M217.8 355.9A1.5 0.9 42 1 1 219.9 357.8A1.5 0.9 42 1 1 217.8 355.9M224.8 362.3A1.6 0.8 32 1 1 227.6 364.1A1.6 0.8 32 1 1 224.8 362.3M231.2 365.8A1.5 0.7 37 1 1 233.6 367.6A1.5 0.7 37 1 1 231.2 365.8M237.3 373.1A1.1 0.6 41 1 1 239.0 374.6A1.1 0.6 41 1 1 237.3 373.1M214.9 365.2A1.7 0.9 41 1 1 217.5 367.5A1.7 0.9 41 1 1 214.9 365.2M284.3 287.1A1.7 0.6 85 1 1 284.5 290.5A1.7 0.6 85 1 1 284.3 287.1M287.3 303.0A1.3 0.6 70 1 1 288.2 305.6A1.3 0.6 70 1 1 287.3 303.0M302.0 359.8A1.6 0.6 76 1 1 302.8 363.0A1.6 0.6 76 1 1 302.0 359.8M306.8 288.0A1.3 0.6 89 1 1 306.8 290.7A1.3 0.6 89 1 1 306.8 288.0M306.8 299.2A1.6 0.8 69 1 1 307.9 302.2A1.6 0.8 69 1 1 306.8 299.2M307.3 305.7A1.6 0.7 70 1 1 308.4 308.7A1.6 0.7 70 1 1 307.3 305.7M310.5 315.3A1.5 0.8 65 1 1 311.8 318.1A1.5 0.8 65 1 1 310.5 315.3M314.1 323.5A1.3 0.9 77 1 1 314.7 326.1A1.3 0.9 77 1 1 314.1 323.5M316.5 339.5A1.5 0.6 86 1 1 316.7 342.4A1.5 0.6 86 1 1 316.5 339.5M318.1 341.4A1.7 0.9 88 1 1 318.2 344.7A1.7 0.9 88 1 1 318.1 341.4M310.2 290.6A1.4 0.9 79 1 1 310.7 293.2A1.4 0.9 79 1 1 310.2 290.6M311.0 293.9A1.2 0.8 75 1 1 311.7 296.3A1.2 0.8 75 1 1 311.0 293.9M314.5 305.0A1.8 0.8 62 1 1 316.2 308.2A1.8 0.8 62 1 1 314.5 305.0M316.8 306.5A1.8 0.8 62 1 1 318.5 309.7A1.8 0.8 62 1 1 316.8 306.5M320.2 314.9A1.8 0.8 80 1 1 320.8 318.6A1.8 0.8 80 1 1 320.2 314.9M328.8 341.4A1.6 0.6 63 1 1 330.2 344.2A1.6 0.6 63 1 1 328.8 341.4M329.0 346.2A1.9 0.8 74 1 1 330.1 349.8A1.9 0.8 74 1 1 329.0 346.2M331.5 352.1A1.3 0.7 80 1 1 331.9 354.7A1.3 0.7 80 1 1 331.5 352.1M332.5 367.1A1.8 0.8 100 1 1 331.9 370.6A1.8 0.8 100 1 1 332.5 367.1M332.6 369.9A1.7 0.9 107 1 1 331.6 373.1A1.7 0.9 107 1 1 332.6 369.9M327.9 323.2A1.5 0.9 70 1 1 328.9 326.0A1.5 0.9 70 1 1 327.9 323.2M336.7 339.1A1.4 0.9 74 1 1 337.4 341.9A1.4 0.9 74 1 1 336.7 339.1M338.6 343.4A1.9 0.6 65 1 1 340.2 346.8A1.9 0.6 65 1 1 338.6 343.4M346.2 325.6A1.5 0.6 75 1 1 347.0 328.5A1.5 0.6 75 1 1 346.2 325.6M346.2 308.1A1.7 0.8 64 1 1 347.7 311.1A1.7 0.8 64 1 1 346.2 308.1M283.0 349.4A1.3 0.7 75 1 1 283.7 351.9A1.3 0.7 75 1 1 283.0 349.4M284.8 356.5A1.3 0.6 66 1 1 285.8 358.8A1.3 0.6 66 1 1 284.8 356.5M280.4 353.4A1.1 0.9 67 1 1 281.3 355.5A1.1 0.9 67 1 1 280.4 353.4M242.5 308.0A1.7 1.2 114 1 1 241.2 311.1A1.7 1.2 114 1 1 242.5 308.0M230.1 313.1A1.4 1.1 134 1 1 228.1 315.1A1.4 1.1 134 1 1 230.1 313.1M245.4 324.9A1.9 1.0 75 1 1 246.4 328.6A1.9 1.0 75 1 1 245.4 324.9M300.7 320.0A1.6 0.8 111 1 1 299.6 323.0A1.6 0.8 111 1 1 300.7 320.0M297.7 319.1A1.2 1.1 160 1 1 295.4 319.9A1.2 1.1 160 1 1 297.7 319.1M303.1 314.9A1.3 1.0 154 1 1 300.9 316.0A1.3 1.0 154 1 1 303.1 314.9M311.9 337.7A1.2 1.0 54 1 1 313.4 339.7A1.2 1.0 54 1 1 311.9 337.7M310.3 328.9A1.4 0.8 159 1 1 307.7 329.9A1.4 0.8 159 1 1 310.3 328.9M304.6 340.9A1.6 0.8 93 1 1 304.5 344.1A1.6 0.8 93 1 1 304.6 340.9M310.0 346.3A1.3 1.2 58 1 1 311.5 348.6A1.3 1.2 58 1 1 310.0 346.3M304.9 341.2A1.5 0.8 165 1 1 302.1 342.0A1.5 0.8 165 1 1 304.9 341.2M306.7 348.1A1.4 1.2 12 1 1 309.5 348.7A1.4 1.2 12 1 1 306.7 348.1M310.8 335.1A1.8 1.1 145 1 1 307.8 337.2A1.8 1.1 145 1 1 310.8 335.1M281.5 369.4A1.3 0.9 167 1 1 279.1 370.0A1.3 0.9 167 1 1 281.5 369.4M267.7 363.8A1.5 0.9 270 1 1 267.7 360.7A1.5 0.9 270 1 1 267.7 363.8"/>
<path fill="#454c98" fill-opacity="0.6" d="M273.1 373.1A1.4 0.9 95 1 1 272.9 375.8A1.4 0.9 95 1 1 273.1 373.1M275.8 344.1A1.8 1.1 36 1 1 278.7 346.2A1.8 1.1 36 1 1 275.8 344.1M269.0 316.2A1.2 1.1 103 1 1 268.5 318.6A1.2 1.1 103 1 1 269.0 316.2M248.2 314.6A1.5 0.7 62 1 1 249.7 317.3A1.5 0.7 62 1 1 248.2 314.6M249.9 319.1A1.6 0.7 49 1 1 252.0 321.6A1.6 0.7 49 1 1 249.9 319.1M254.0 321.0A1.1 0.9 55 1 1 255.3 322.8A1.1 0.9 55 1 1 254.0 321.0M254.4 326.1A1.9 0.6 60 1 1 256.3 329.3A1.9 0.6 60 1 1 254.4 326.1M261.4 292.4A1.3 0.9 73 1 1 262.2 295.0A1.3 0.9 73 1 1 261.4 292.4M272.6 326.3A1.6 0.6 75 1 1 273.4 329.3A1.6 0.6 75 1 1 272.6 326.3M280.8 341.4A1.4 0.9 55 1 1 282.4 343.6A1.4 0.9 55 1 1 280.8 341.4M281.8 342.8A1.7 0.6 64 1 1 283.3 345.9A1.7 0.6 64 1 1 281.8 342.8M270.5 300.2A1.2 0.8 76 1 1 271.1 302.6A1.2 0.8 76 1 1 270.5 300.2M275.2 311.9A1.4 0.6 75 1 1 276.0 314.6A1.4 0.6 75 1 1 275.2 311.9M279.4 329.5A1.5 0.6 70 1 1 280.4 332.2A1.5 0.6 70 1 1 279.4 329.5M219.0 304.4A1.4 0.7 34 1 1 221.4 306.0A1.4 0.7 34 1 1 219.0 304.4M235.8 316.6A1.2 0.8 45 1 1 237.5 318.4A1.2 0.8 45 1 1 235.8 316.6M242.0 325.9A1.2 0.6 59 1 1 243.2 327.9A1.2 0.6 59 1 1 242.0 325.9M249.5 342.2A1.2 0.6 79 1 1 250.0 344.6A1.2 0.6 79 1 1 249.5 342.2M249.6 345.0A1.2 0.7 94 1 1 249.4 347.4A1.2 0.7 94 1 1 249.6 345.0M213.7 334.2A1.4 0.6 27 1 1 216.2 335.6A1.4 0.6 27 1 1 213.7 334.2M214.5 336.8A1.4 0.8 29 1 1 216.9 338.2A1.4 0.8 29 1 1 214.5 336.8M229.0 345.4A1.4 0.8 33 1 1 231.4 346.9A1.4 0.8 33 1 1 229.0 345.4M275.0 379.4A1.1 0.9 56 1 1 276.3 381.3A1.1 0.9 56 1 1 275.0 379.4M218.9 342.4A1.3 0.8 32 1 1 221.1 343.8A1.3 0.8 32 1 1 218.9 342.4M244.9 360.5A1.6 0.8 37 1 1 247.5 362.5A1.6 0.8 37 1 1 244.9 360.5M212.3 354.4A1.6 0.6 42 1 1 214.7 356.5A1.6 0.6 42 1 1 212.3 354.4M213.0 354.3A1.9 0.6 30 1 1 216.3 356.2A1.9 0.6 30 1 1 213.0 354.3M245.3 379.1A1.3 0.6 51 1 1 247.0 381.2A1.3 0.6 51 1 1 245.3 379.1M216.9 368.1A1.6 0.6 47 1 1 219.0 370.4A1.6 0.6 47 1 1 216.9 368.1M222.7 292.9A1.4 0.8 -42 1 1 224.8 291.0A1.4 0.8 -42 1 1 222.7 292.9M296.1 347.2A1.9 0.9 85 1 1 296.5 351.0A1.9 0.9 85 1 1 296.1 347.2M314.3 317.6A1.3 0.9 72 1 1 315.1 320.0A1.3 0.9 72 1 1 314.3 317.6M313.0 319.1A1.5 0.7 79 1 1 313.6 322.0A1.5 0.7 79 1 1 313.0 319.1M317.7 346.1A1.4 0.9 86 1 1 317.9 348.9A1.4 0.9 86 1 1 317.7 346.1M333.5 357.7A1.3 0.8 86 1 1 333.6 360.3A1.3 0.8 86 1 1 333.5 357.7M334.4 359.1A1.6 0.7 79 1 1 335.0 362.1A1.6 0.7 79 1 1 334.4 359.1M334.1 362.8A1.8 0.7 108 1 1 333.0 366.1A1.8 0.7 108 1 1 334.1 362.8M333.4 366.1A1.7 0.6 97 1 1 332.9 369.6A1.7 0.6 97 1 1 333.4 366.1M334.6 368.4A1.6 0.6 107 1 1 333.7 371.5A1.6 0.6 107 1 1 334.6 368.4M328.2 322.4A1.7 0.9 64 1 1 329.7 325.4A1.7 0.9 64 1 1 328.2 322.4M332.1 329.3A1.7 0.6 75 1 1 332.9 332.5A1.7 0.6 75 1 1 332.1 329.3M339.0 346.4A1.2 0.6 58 1 1 340.3 348.5A1.2 0.6 58 1 1 339.0 346.4M336.8 299.4A1.7 0.8 62 1 1 338.4 302.4A1.7 0.8 62 1 1 336.8 299.4M341.7 292.6A1.3 0.7 60 1 1 343.0 294.8A1.3 0.7 60 1 1 341.7 292.6M344.5 300.0A1.6 0.6 61 1 1 346.1 302.9A1.6 0.6 61 1 1 344.5 300.0M283.9 353.7A1.4 0.9 61 1 1 285.3 356.1A1.4 0.9 61 1 1 283.9 353.7M298.2 377.4A1.1 0.8 58 1 1 299.4 379.4A1.1 0.8 58 1 1 298.2 377.4M284.7 372.2A1.5 0.7 74 1 1 285.6 375.2A1.5 0.7 74 1 1 284.7 372.2M308.1 378.3A1.5 0.9 -24 1 1 310.9 377.0A1.5 0.9 -24 1 1 308.1 378.3M314.2 378.1A1.3 0.8 -5 1 1 316.8 377.9A1.3 0.8 -5 1 1 314.2 378.1M338.4 377.1A1.3 0.8 -12 1 1 340.9 376.6A1.3 0.8 -12 1 1 338.4 377.1M230.1 311.2A1.1 1.1 151 1 1 228.1 312.3A1.1 1.1 151 1 1 230.1 311.2M230.0 308.9A1.6 1.1 104 1 1 229.2 312.1A1.6 1.1 104 1 1 230.0 308.9M305.7 310.6A1.9 1.0 20 1 1 309.2 311.9A1.9 1.0 20 1 1 305.7 310.6M304.5 305.2A1.8 1.0 151 1 1 301.4 307.0A1.8 1.0 151 1 1 304.5 305.2M304.2 322.8A1.4 0.8 89 1 1 304.3 325.7A1.4 0.8 89 1 1 304.2 322.8M310.4 319.6A1.8 1.0 142 1 1 307.6 321.8A1.8 1.0 142 1 1 310.4 319.6M313.5 345.6A1.4 0.9 109 1 1 312.6 348.3A1.4 0.9 109 1 1 313.5 345.6M309.4 343.6A1.9 0.9 127 1 1 307.1 346.5A1.9 0.9 127 1 1 309.4 343.6M303.8 346.9A1.8 1.0 127 1 1 301.6 349.9A1.8 1.0 127 1 1 303.8 346.9M325.0 368.2A1.8 0.9 112 1 1 323.6 371.5A1.8 0.9 112 1 1 325.0 368.2M313.0 372.7A1.2 0.7 251 1 1 312.2 370.5A1.2 0.7 251 1 1 313.0 372.7M323.7 374.1A1.1 0.9 5 1 1 326.0 374.3A1.1 0.9 5 1 1 323.7 374.1"/>
<path fill="#454c98" fill-opacity="0.75" d="M281.3 287.7A1.6 0.9 89 1 1 281.3 290.9A1.6 0.9 89 1 1 281.3 287.7M251.4 321.3A1.5 0.9 65 1 1 252.7 324.0A1.5 0.9 65 1 1 251.4 321.3M258.1 327.1A1.1 0.9 64 1 1 259.1 329.1A1.1 0.9 64 1 1 258.1 327.1M262.9 337.3A1.8 0.7 68 1 1 264.3 340.7A1.8 0.7 68 1 1 262.9 337.3M279.4 362.3A1.5 0.8 49 1 1 281.4 364.4A1.5 0.8 49 1 1 279.4 362.3M258.7 286.2A1.8 0.7 73 1 1 259.7 289.6A1.8 0.7 73 1 1 258.7 286.2M271.7 319.8A1.1 0.8 65 1 1 272.6 321.8A1.1 0.8 65 1 1 271.7 319.8M272.8 324.4A1.5 0.9 73 1 1 273.7 327.2A1.5 0.9 73 1 1 272.8 324.4M277.1 334.0A1.4 0.7 73 1 1 278.0 336.7A1.4 0.7 73 1 1 277.1 334.0M264.0 288.7A1.4 0.8 74 1 1 264.8 291.4A1.4 0.8 74 1 1 264.0 288.7M249.1 350.5A1.7 0.6 106 1 1 248.2 353.7A1.7 0.6 106 1 1 249.1 350.5M220.1 341.0A1.2 0.6 32 1 1 222.1 342.2A1.2 0.6 32 1 1 220.1 341.0M240.7 353.2A1.4 0.8 38 1 1 243.0 355.0A1.4 0.8 38 1 1 240.7 353.2M247.7 357.3A1.8 0.8 26 1 1 250.9 358.8A1.8 0.8 26 1 1 247.7 357.3M249.7 358.3A1.9 0.6 31 1 1 252.9 360.3A1.9 0.6 31 1 1 249.7 358.3M212.0 338.7A1.3 0.8 29 1 1 214.3 340.0A1.3 0.8 29 1 1 212.0 338.7M213.3 337.8A1.8 0.8 30 1 1 216.4 339.6A1.8 0.8 30 1 1 213.3 337.8M222.1 344.4A1.8 0.8 36 1 1 225.0 346.5A1.8 0.8 36 1 1 222.1 344.4M242.9 360.3A1.4 0.8 39 1 1 245.0 362.0A1.4 0.8 39 1 1 242.9 360.3M258.9 372.7A1.5 0.7 50 1 1 260.8 375.0A1.5 0.7 50 1 1 258.9 372.7M228.5 363.0A1.6 0.9 42 1 1 230.8 365.1A1.6 0.9 42 1 1 228.5 363.0M241.3 376.7A1.2 0.7 53 1 1 242.7 378.5A1.2 0.7 53 1 1 241.3 376.7M230.5 378.1A1.2 0.8 41 1 1 232.3 379.6A1.2 0.8 41 1 1 230.5 378.1M287.0 298.5A1.2 0.7 91 1 1 286.9 300.9A1.2 0.7 91 1 1 287.0 298.5M290.2 315.0A1.6 0.6 76 1 1 290.9 318.1A1.6 0.6 76 1 1 290.2 315.0M295.7 343.1A1.2 0.6 81 1 1 296.1 345.5A1.2 0.6 81 1 1 295.7 343.1M300.9 359.1A1.8 0.7 73 1 1 301.9 362.6A1.8 0.7 73 1 1 300.9 359.1M312.0 296.6A1.5 0.9 59 1 1 313.5 299.2A1.5 0.9 59 1 1 312.0 296.6M321.3 318.8A1.3 0.9 82 1 1 321.6 321.3A1.3 0.9 82 1 1 321.3 318.8M327.1 341.1A1.5 0.6 62 1 1 328.5 343.7A1.5 0.6 62 1 1 327.1 341.1M333.0 353.8A1.4 0.9 76 1 1 333.7 356.4A1.4 0.9 76 1 1 333.0 353.8M327.3 317.7A1.7 0.7 72 1 1 328.3 320.9A1.7 0.7 72 1 1 327.3 317.7M326.3 318.6A1.8 0.8 66 1 1 327.8 321.9A1.8 0.8 66 1 1 326.3 318.6M333.6 330.7A1.4 0.9 73 1 1 334.4 333.5A1.4 0.9 73 1 1 333.6 330.7M336.5 304.2A1.7 0.9 67 1 1 337.8 307.3A1.7 0.9 67 1 1 336.5 304.2M343.5 321.3A1.4 0.8 66 1 1 344.6 323.8A1.4 0.8 66 1 1 343.5 321.3M293.8 370.8A1.9 0.6 62 1 1 295.6 374.1A1.9 0.6 62 1 1 293.8 370.8M282.6 361.4A1.8 0.7 72 1 1 283.7 364.9A1.8 0.7 72 1 1 282.6 361.4M231.9 312.1A1.5 1.0 143 1 1 229.4 314.0A1.5 1.0 143 1 1 231.9 312.1M239.1 314.5A1.4 0.9 132 1 1 237.3 316.6A1.4 0.9 132 1 1 239.1 314.5M316.9 337.1A1.8 0.7 147 1 1 313.9 339.1A1.8 0.7 147 1 1 316.9 337.1M306.1 325.6A1.7 1.2 54 1 1 308.2 328.4A1.7 1.2 54 1 1 306.1 325.6M309.0 340.4A1.2 1.0 152 1 1 307.0 341.5A1.2 1.0 152 1 1 309.0 340.4M308.9 326.2A1.8 1.0 59 1 1 310.7 329.2A1.8 1.0 59 1 1 308.9 326.2M309.6 324.9A1.2 0.9 90 1 1 309.6 327.3A1.2 0.9 90 1 1 309.6 324.9M304.4 323.8A1.2 1.0 92 1 1 304.4 326.3A1.2 1.0 92 1 1 304.4 323.8M323.9 365.5A1.4 0.9 429 1 1 324.9 368.0A1.4 0.9 429 1 1 323.9 365.5M341.5 376.6A1.6 0.9 57 1 1 343.2 379.3A1.6 0.9 57 1 1 341.5 376.6"/>
<path fill="#454c98" fill-opacity="0.9" d="M276.6 302.5A1.8 0.7 25 1 1 279.8 304.1A1.8 0.7 25 1 1 276.6 302.5M231.3 292.2A1.8 0.9 24 1 1 234.5 293.7A1.8 0.9 24 1 1 231.3 292.2M256.8 325.7A1.7 0.6 60 1 1 258.5 328.7A1.7 0.6 60 1 1 256.8 325.7M278.6 358.3A1.2 0.8 57 1 1 279.9 360.3A1.2 0.8 57 1 1 278.6 358.3M267.7 308.3A1.4 0.6 73 1 1 268.5 310.9A1.4 0.6 73 1 1 267.7 308.3M268.2 315.3A1.2 0.8 71 1 1 268.9 317.5A1.2 0.8 71 1 1 268.2 315.3M275.0 328.6A1.3 0.6 69 1 1 275.9 331.1A1.3 0.6 69 1 1 275.0 328.6M279.5 339.6A1.2 0.9 65 1 1 280.4 341.7A1.2 0.9 65 1 1 279.5 339.6M279.4 343.0A1.3 0.6 59 1 1 280.7 345.2A1.3 0.6 59 1 1 279.4 343.0M277.0 319.5A1.7 0.8 77 1 1 277.8 322.8A1.7 0.8 77 1 1 277.0 319.5M276.6 323.5A1.2 0.9 71 1 1 277.4 325.7A1.2 0.9 71 1 1 276.6 323.5M236.9 317.6A1.8 0.6 60 1 1 238.6 320.7A1.8 0.6 60 1 1 236.9 317.6M247.3 340.6A1.3 0.8 82 1 1 247.7 343.1A1.3 0.8 82 1 1 247.3 340.6M248.8 345.0A1.4 0.7 92 1 1 248.8 347.9A1.4 0.7 92 1 1 248.8 345.0M259.8 365.4A1.3 0.8 44 1 1 261.6 367.1A1.3 0.8 44 1 1 259.8 365.4M242.8 357.8A1.8 0.6 38 1 1 245.7 360.0A1.8 0.6 38 1 1 242.8 357.8M235.1 369.3A1.9 0.6 39 1 1 238.1 371.7A1.9 0.6 39 1 1 235.1 369.3M212.2 298.8A1.9 0.7 -21 1 1 215.7 297.5A1.9 0.7 -21 1 1 212.2 298.8M244.6 349.6A1.8 0.9 73 1 1 245.6 353.1A1.8 0.9 73 1 1 244.6 349.6M294.2 340.3A1.7 0.6 84 1 1 294.5 343.6A1.7 0.6 84 1 1 294.2 340.3M298.6 353.3A1.2 0.9 71 1 1 299.3 355.6A1.2 0.9 71 1 1 298.6 353.3M300.5 356.3A1.3 0.9 68 1 1 301.5 358.8A1.3 0.9 68 1 1 300.5 356.3M310.5 311.1A1.5 0.9 69 1 1 311.5 313.8A1.5 0.9 69 1 1 310.5 311.1M319.2 342.6A1.6 0.7 81 1 1 319.7 345.9A1.6 0.7 81 1 1 319.2 342.6M313.7 302.4A1.9 0.7 74 1 1 314.8 305.9A1.9 0.7 74 1 1 313.7 302.4M321.6 323.7A1.2 0.6 72 1 1 322.3 326.0A1.2 0.6 72 1 1 321.6 323.7M323.5 333.9A1.3 0.8 68 1 1 324.6 336.4A1.3 0.8 68 1 1 323.5 333.9M328.8 344.7A1.7 0.7 61 1 1 330.4 347.7A1.7 0.7 61 1 1 328.8 344.7M329.2 346.4A1.8 0.7 80 1 1 329.9 350.0A1.8 0.7 80 1 1 329.2 346.4M330.9 347.2A1.7 0.9 77 1 1 331.7 350.4A1.7 0.9 77 1 1 330.9 347.2M332.6 363.1A1.2 0.7 75 1 1 333.2 365.3A1.2 0.7 75 1 1 332.6 363.1M333.3 364.9A1.6 0.6 103 1 1 332.6 367.9A1.6 0.6 103 1 1 333.3 364.9M335.4 335.5A1.8 0.7 71 1 1 336.5 338.8A1.8 0.7 71 1 1 335.4 335.5M341.8 312.8A1.3 0.9 60 1 1 343.1 315.0A1.3 0.9 60 1 1 341.8 312.8M278.0 339.4A1.1 0.8 68 1 1 278.8 341.5A1.1 0.8 68 1 1 278.0 339.4M281.0 342.7A1.8 0.7 75 1 1 282.0 346.3A1.8 0.7 75 1 1 281.0 342.7M280.7 347.0A1.3 0.9 64 1 1 281.8 349.3A1.3 0.9 64 1 1 280.7 347.0M286.8 361.5A1.6 0.7 62 1 1 288.3 364.2A1.6 0.7 62 1 1 286.8 361.5M303.8 379.9A1.6 0.6 -11 1 1 307.0 379.3A1.6 0.6 -11 1 1 303.8 379.9M331.0 378.1A1.5 0.8 -5 1 1 334.1 377.8A1.5 0.8 -5 1 1 331.0 378.1M240.9 307.7A1.6 0.9 16 1 1 243.9 308.5A1.6 0.9 16 1 1 240.9 307.7M230.1 308.0A1.9 0.8 124 1 1 228.0 311.2A1.9 0.8 124 1 1 230.1 308.0M249.9 326.8A1.6 0.7 97 1 1 249.5 330.0A1.6 0.7 97 1 1 249.9 326.8M247.0 322.9A1.5 1.1 96 1 1 246.7 325.8A1.5 1.1 96 1 1 247.0 322.9M305.8 310.8A1.4 1.2 119 1 1 304.5 313.2A1.4 1.2 119 1 1 305.8 310.8M305.5 309.6A1.4 0.8 112 1 1 304.5 312.2A1.4 0.8 112 1 1 305.5 309.6M307.0 351.2A1.2 1.2 8 1 1 309.3 351.5A1.2 1.2 8 1 1 307.0 351.2M307.9 330.3A1.3 1.0 162 1 1 305.3 331.1A1.3 1.0 162 1 1 307.9 330.3M310.5 327.3A1.8 0.8 115 1 1 309.0 330.7A1.8 0.8 115 1 1 310.5 327.3M309.9 324.6A1.8 1.1 137 1 1 307.3 327.0A1.8 1.1 137 1 1 309.9 324.6M324.5 373.1A1.5 0.8 130 1 1 322.5 375.4A1.5 0.8 130 1 1 324.5 373.1M311.1 369.5A1.8 0.9 288 1 1 312.2 366.0A1.8 0.9 288 1 1 311.1 369.5M315.5 360.8A1.3 0.6 354 1 1 318.2 360.5A1.3 0.6 354 1 1 315.5 360.8M315.2 373.4A1.8 0.8 7 1 1 318.6 373.9A1.8 0.8 7 1 1 315.2 373.4M334.2 371.3A1.6 1.0 95 1 1 333.9 374.4A1.6 1.0 95 1 1 334.2 371.3M315.4 374.6A1.6 0.8 114 1 1 314.1 377.5A1.6 0.8 114 1 1 315.4 374.6M338.9 371.0A1.6 1.1 109 1 1 337.9 374.0A1.6 1.1 109 1 1 338.9 371.0"/>
<rect x="213.5" y="288.8" width="27.5" height="11.8" fill="#fdfdfe"/>
<ellipse cx="253.4" cy="365.3" rx="1.12" ry="0.96" transform="rotate(82 253.4 365.3)" fill="#7f4427" fill-opacity="0.85"/>
<ellipse cx="258.8" cy="375.4" rx="1.28" ry="0.78" transform="rotate(172 258.8 375.4)" fill="#a5653c" fill-opacity="0.85"/>
<ellipse cx="272.2" cy="370.7" rx="1.50" ry="0.95" transform="rotate(52 272.2 370.7)" fill="#b07548" fill-opacity="0.85"/>
<ellipse cx="223.0" cy="367.3" rx="0.91" ry="0.82" transform="rotate(146 223.0 367.3)" fill="#7f4427" fill-opacity="0.85"/>
<ellipse cx="268.2" cy="337.7" rx="0.82" ry="0.67" transform="rotate(14 268.2 337.7)" fill="#a5653c" fill-opacity="0.85"/>
<ellipse cx="299.2" cy="350.9" rx="1.50" ry="0.89" transform="rotate(171 299.2 350.9)" fill="#7f4427" fill-opacity="0.85"/>
<ellipse cx="299.9" cy="363.0" rx="1.77" ry="1.36" transform="rotate(128 299.9 363.0)" fill="#a5653c" fill-opacity="0.85"/>
<ellipse cx="320.0" cy="356.3" rx="1.70" ry="1.29" transform="rotate(76 320.0 356.3)" fill="#a5653c" fill-opacity="0.85"/>
<ellipse cx="297.8" cy="369.8" rx="1.45" ry="0.82" transform="rotate(151 297.8 369.8)" fill="#93512e" fill-opacity="0.85"/>
<ellipse cx="242.0" cy="294.0" rx="1.09" ry="0.76" transform="rotate(14 242.0 294.0)" fill="#b07548" fill-opacity="0.85"/>
<ellipse cx="270.0" cy="307.0" rx="0.96" ry="0.63" transform="rotate(15 270.0 307.0)" fill="#93512e" fill-opacity="0.85"/>
</g>
<rect x="213.5" y="288.8" width="135.2" height="91.30000000000001" fill="none" stroke="#5a5a5a" stroke-width="0.9"/>
<text x="54.60" y="297.70" font-size="8.4" fill="#231f20" textLength="21.50" lengthAdjust="spacingAndGlyphs">50µm</text>
<line x1="54.90" y1="300.50" x2="75.80" y2="300.50" stroke="#444" stroke-width="0.9"/>
<text x="217.00" y="297.30" font-size="8.4" fill="#231f20" textLength="21.40" lengthAdjust="spacingAndGlyphs">50µm</text>
<line x1="217.30" y1="299.20" x2="238.10" y2="299.20" stroke="#444" stroke-width="0.9"/>
<text x="99.00" y="283.00" font-size="8.4" fill="#231f20" textLength="40.80" lengthAdjust="spacingAndGlyphs">BM + WT T</text>
<text x="255.00" y="281.80" font-size="8.4" fill="#231f20" textLength="39.40" lengthAdjust="spacingAndGlyphs">BM + Nrf2</text>
<text x="294.60" y="278.60" font-size="5.0" fill="#231f20" textLength="6.40" lengthAdjust="spacingAndGlyphs">-/-</text>
<text x="303.00" y="281.80" font-size="8.4" fill="#231f20">T</text>
<text x="32.90" y="364.00" font-size="10.9" fill="#231f20" textLength="69.60" lengthAdjust="spacingAndGlyphs" transform="rotate(-90 32.90 364.00)">Large intestine</text>
<text x="45.80" y="341.60" font-size="10.9" fill="#231f20" textLength="25.50" lengthAdjust="spacingAndGlyphs" transform="rotate(-90 45.80 341.60)">(CD8)</text>
</svg></body></html>
